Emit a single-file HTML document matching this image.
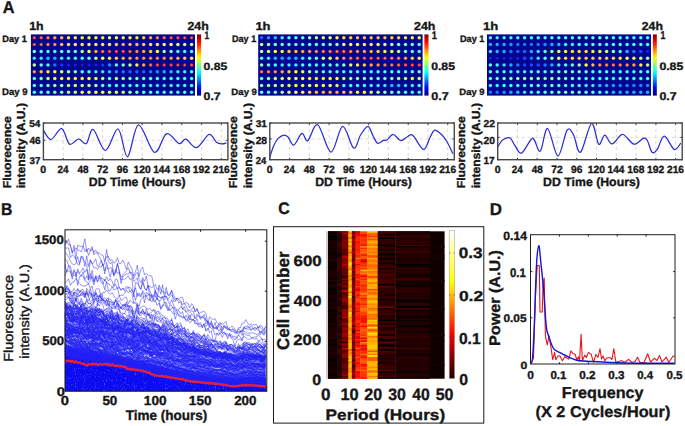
<!DOCTYPE html>
<html><head><meta charset="utf-8"><title>figure</title>
<style>html,body{margin:0;padding:0;background:#fff;width:685px;height:426px;overflow:hidden}svg{display:block}text{font-family:"Liberation Sans",sans-serif}</style>
</head><body>
<svg text-rendering="geometricPrecision" width="685" height="426" viewBox="0 0 685 426" font-family="Liberation Sans, sans-serif">
<defs><linearGradient id="jetg" x1="0" y1="1" x2="0" y2="0"><stop offset="0.00" stop-color="#000080"/><stop offset="0.05" stop-color="#0000b2"/><stop offset="0.10" stop-color="#0000e6"/><stop offset="0.15" stop-color="#001aff"/><stop offset="0.20" stop-color="#004dff"/><stop offset="0.25" stop-color="#0080ff"/><stop offset="0.30" stop-color="#00b2ff"/><stop offset="0.35" stop-color="#00e5ff"/><stop offset="0.40" stop-color="#1affe5"/><stop offset="0.45" stop-color="#4dffb2"/><stop offset="0.50" stop-color="#80ff80"/><stop offset="0.55" stop-color="#b3ff4c"/><stop offset="0.60" stop-color="#e5ff1a"/><stop offset="0.65" stop-color="#ffe500"/><stop offset="0.70" stop-color="#ffb300"/><stop offset="0.75" stop-color="#ff8000"/><stop offset="0.80" stop-color="#ff4c00"/><stop offset="0.85" stop-color="#ff1a00"/><stop offset="0.90" stop-color="#e50000"/><stop offset="0.95" stop-color="#b30000"/><stop offset="1.00" stop-color="#800000"/></linearGradient><linearGradient id="hotg" x1="0" y1="1" x2="0" y2="0"><stop offset="0.00" stop-color="#1f0000"/><stop offset="0.05" stop-color="#430000"/><stop offset="0.10" stop-color="#680000"/><stop offset="0.15" stop-color="#8d0000"/><stop offset="0.20" stop-color="#b10000"/><stop offset="0.25" stop-color="#d60000"/><stop offset="0.30" stop-color="#fb0000"/><stop offset="0.35" stop-color="#ff2100"/><stop offset="0.40" stop-color="#ff4500"/><stop offset="0.45" stop-color="#ff6a00"/><stop offset="0.50" stop-color="#ff8f00"/><stop offset="0.55" stop-color="#ffb400"/><stop offset="0.60" stop-color="#ffd800"/><stop offset="0.65" stop-color="#fffd00"/><stop offset="0.70" stop-color="#ffff23"/><stop offset="0.75" stop-color="#ffff47"/><stop offset="0.80" stop-color="#ffff6c"/><stop offset="0.85" stop-color="#ffff91"/><stop offset="0.90" stop-color="#ffffb6"/><stop offset="0.95" stop-color="#ffffda"/><stop offset="1.00" stop-color="#ffffff"/></linearGradient><filter id="speck" x="0" y="0" width="100%" height="100%" filterUnits="objectBoundingBox"><feTurbulence type="fractalNoise" baseFrequency="0.9 0.5" numOctaves="1" seed="4" result="n"/><feColorMatrix in="n" type="matrix" values="0 0 0 0 1  0 0 0 0 1  0 0 0 0 1  4 0 0 0 -2.45"/></filter><filter id="blur1" x="-5%" y="-5%" width="110%" height="110%"><feGaussianBlur stdDeviation="0.4"/></filter></defs>
<rect width="685" height="426" fill="#fff"/>
<rect x="30.9" y="34.4" width="164.1" height="61.2" fill="#02068e"/>
<g filter="url(#blur1)">
<circle cx="34.3" cy="37.8" r="1.75" fill="#e91f1f"/>
<circle cx="34.3" cy="37.8" r="0.85" fill="#f28080"/>
<circle cx="41.2" cy="37.8" r="1.75" fill="#ff351f"/>
<circle cx="41.2" cy="37.8" r="0.85" fill="#ff8c80"/>
<circle cx="48.0" cy="37.8" r="1.75" fill="#ff621f"/>
<circle cx="48.0" cy="37.8" r="0.85" fill="#ffa680"/>
<circle cx="54.8" cy="37.8" r="1.75" fill="#ff8f1f"/>
<circle cx="54.8" cy="37.8" r="0.85" fill="#ffbf80"/>
<circle cx="61.7" cy="37.8" r="1.75" fill="#ffaa1f"/>
<circle cx="61.7" cy="37.8" r="0.85" fill="#ffcf80"/>
<circle cx="68.5" cy="37.8" r="1.75" fill="#ffce1f"/>
<circle cx="68.5" cy="37.8" r="0.85" fill="#ffe380"/>
<circle cx="75.3" cy="37.8" r="1.75" fill="#ffe91f"/>
<circle cx="75.3" cy="37.8" r="0.85" fill="#fff280"/>
<circle cx="82.2" cy="37.8" r="1.75" fill="#ffe91f"/>
<circle cx="82.2" cy="37.8" r="0.85" fill="#fff280"/>
<circle cx="89.0" cy="37.8" r="1.75" fill="#ffe91f"/>
<circle cx="89.0" cy="37.8" r="0.85" fill="#fff280"/>
<circle cx="95.9" cy="37.8" r="1.75" fill="#ffe91f"/>
<circle cx="95.9" cy="37.8" r="0.85" fill="#fff280"/>
<circle cx="102.7" cy="37.8" r="1.75" fill="#ffe91f"/>
<circle cx="102.7" cy="37.8" r="0.85" fill="#fff280"/>
<circle cx="109.5" cy="37.8" r="1.75" fill="#e9ff35"/>
<circle cx="109.5" cy="37.8" r="0.85" fill="#f2ff8c"/>
<circle cx="116.4" cy="37.8" r="1.75" fill="#fbff23"/>
<circle cx="116.4" cy="37.8" r="0.85" fill="#fcff82"/>
<circle cx="123.2" cy="37.8" r="1.75" fill="#fff21f"/>
<circle cx="123.2" cy="37.8" r="0.85" fill="#fff780"/>
<circle cx="130.0" cy="37.8" r="1.75" fill="#ffe91f"/>
<circle cx="130.0" cy="37.8" r="0.85" fill="#fff280"/>
<circle cx="136.9" cy="37.8" r="1.75" fill="#ffe01f"/>
<circle cx="136.9" cy="37.8" r="0.85" fill="#ffed80"/>
<circle cx="143.7" cy="37.8" r="1.75" fill="#ffbc1f"/>
<circle cx="143.7" cy="37.8" r="0.85" fill="#ffd980"/>
<circle cx="150.6" cy="37.8" r="1.75" fill="#ff8f1f"/>
<circle cx="150.6" cy="37.8" r="0.85" fill="#ffbf80"/>
<circle cx="157.4" cy="37.8" r="1.75" fill="#ff621f"/>
<circle cx="157.4" cy="37.8" r="0.85" fill="#ffa680"/>
<circle cx="164.2" cy="37.8" r="1.75" fill="#ff471f"/>
<circle cx="164.2" cy="37.8" r="0.85" fill="#ff9680"/>
<circle cx="171.1" cy="37.8" r="1.75" fill="#ff231f"/>
<circle cx="171.1" cy="37.8" r="0.85" fill="#ff8280"/>
<circle cx="177.9" cy="37.8" r="1.75" fill="#fb1f1f"/>
<circle cx="177.9" cy="37.8" r="0.85" fill="#fc8080"/>
<circle cx="184.7" cy="37.8" r="1.75" fill="#fb1f1f"/>
<circle cx="184.7" cy="37.8" r="0.85" fill="#fc8080"/>
<circle cx="191.6" cy="37.8" r="1.75" fill="#e91f1f"/>
<circle cx="191.6" cy="37.8" r="0.85" fill="#f28080"/>
<circle cx="34.3" cy="44.6" r="1.75" fill="#fb1f1f"/>
<circle cx="34.3" cy="44.6" r="0.85" fill="#fc8080"/>
<circle cx="41.2" cy="44.6" r="1.75" fill="#ff351f"/>
<circle cx="41.2" cy="44.6" r="0.85" fill="#ff8c80"/>
<circle cx="48.0" cy="44.6" r="1.75" fill="#ff621f"/>
<circle cx="48.0" cy="44.6" r="0.85" fill="#ffa680"/>
<circle cx="54.8" cy="44.6" r="1.75" fill="#ff741f"/>
<circle cx="54.8" cy="44.6" r="0.85" fill="#ffb080"/>
<circle cx="61.7" cy="44.6" r="1.75" fill="#ffaa1f"/>
<circle cx="61.7" cy="44.6" r="0.85" fill="#ffcf80"/>
<circle cx="68.5" cy="44.6" r="1.75" fill="#ffd71f"/>
<circle cx="68.5" cy="44.6" r="0.85" fill="#ffe880"/>
<circle cx="75.3" cy="44.6" r="1.75" fill="#ffe91f"/>
<circle cx="75.3" cy="44.6" r="0.85" fill="#fff280"/>
<circle cx="82.2" cy="44.6" r="1.75" fill="#ffe91f"/>
<circle cx="82.2" cy="44.6" r="0.85" fill="#fff280"/>
<circle cx="89.0" cy="44.6" r="1.75" fill="#ffe91f"/>
<circle cx="89.0" cy="44.6" r="0.85" fill="#fff280"/>
<circle cx="95.9" cy="44.6" r="1.75" fill="#ffe91f"/>
<circle cx="95.9" cy="44.6" r="0.85" fill="#fff280"/>
<circle cx="102.7" cy="44.6" r="1.75" fill="#ffe91f"/>
<circle cx="102.7" cy="44.6" r="0.85" fill="#fff280"/>
<circle cx="109.5" cy="44.6" r="1.75" fill="#ffe91f"/>
<circle cx="109.5" cy="44.6" r="0.85" fill="#fff280"/>
<circle cx="116.4" cy="44.6" r="1.75" fill="#ffbc1f"/>
<circle cx="116.4" cy="44.6" r="0.85" fill="#ffd980"/>
<circle cx="123.2" cy="44.6" r="1.75" fill="#ff981f"/>
<circle cx="123.2" cy="44.6" r="0.85" fill="#ffc480"/>
<circle cx="130.0" cy="44.6" r="1.75" fill="#ffaa1f"/>
<circle cx="130.0" cy="44.6" r="0.85" fill="#ffcf80"/>
<circle cx="136.9" cy="44.6" r="1.75" fill="#ffaa1f"/>
<circle cx="136.9" cy="44.6" r="0.85" fill="#ffcf80"/>
<circle cx="143.7" cy="44.6" r="1.75" fill="#ffbc1f"/>
<circle cx="143.7" cy="44.6" r="0.85" fill="#ffd980"/>
<circle cx="150.6" cy="44.6" r="1.75" fill="#ffe01f"/>
<circle cx="150.6" cy="44.6" r="0.85" fill="#ffed80"/>
<circle cx="157.4" cy="44.6" r="1.75" fill="#ffe91f"/>
<circle cx="157.4" cy="44.6" r="0.85" fill="#fff280"/>
<circle cx="164.2" cy="44.6" r="1.75" fill="#fffb1f"/>
<circle cx="164.2" cy="44.6" r="0.85" fill="#fffc80"/>
<circle cx="171.1" cy="44.6" r="1.75" fill="#fbff23"/>
<circle cx="171.1" cy="44.6" r="0.85" fill="#fcff82"/>
<circle cx="177.9" cy="44.6" r="1.75" fill="#e9ff35"/>
<circle cx="177.9" cy="44.6" r="0.85" fill="#f2ff8c"/>
<circle cx="184.7" cy="44.6" r="1.75" fill="#d7ff47"/>
<circle cx="184.7" cy="44.6" r="0.85" fill="#e8ff96"/>
<circle cx="191.6" cy="44.6" r="1.75" fill="#bcff62"/>
<circle cx="191.6" cy="44.6" r="0.85" fill="#d9ffa6"/>
<circle cx="34.3" cy="51.4" r="1.75" fill="#62ffbc"/>
<circle cx="34.3" cy="51.4" r="0.85" fill="#a6ffd9"/>
<circle cx="41.2" cy="51.4" r="1.75" fill="#47ffd7"/>
<circle cx="41.2" cy="51.4" r="0.85" fill="#96ffe8"/>
<circle cx="48.0" cy="51.4" r="1.75" fill="#35ffe9"/>
<circle cx="48.0" cy="51.4" r="0.85" fill="#8cfff2"/>
<circle cx="54.8" cy="51.4" r="1.75" fill="#35ffe9"/>
<circle cx="54.8" cy="51.4" r="0.85" fill="#8cfff2"/>
<circle cx="61.7" cy="51.4" r="1.75" fill="#35ffe9"/>
<circle cx="61.7" cy="51.4" r="0.85" fill="#8cfff2"/>
<circle cx="68.5" cy="51.4" r="1.75" fill="#35ffe9"/>
<circle cx="68.5" cy="51.4" r="0.85" fill="#8cfff2"/>
<circle cx="75.3" cy="51.4" r="1.75" fill="#47ffd7"/>
<circle cx="75.3" cy="51.4" r="0.85" fill="#96ffe8"/>
<circle cx="82.2" cy="51.4" r="1.75" fill="#8fff8f"/>
<circle cx="82.2" cy="51.4" r="0.85" fill="#bfffbf"/>
<circle cx="89.0" cy="51.4" r="1.75" fill="#e9ff35"/>
<circle cx="89.0" cy="51.4" r="0.85" fill="#f2ff8c"/>
<circle cx="95.9" cy="51.4" r="1.75" fill="#ff8f1f"/>
<circle cx="95.9" cy="51.4" r="0.85" fill="#ffbf80"/>
<circle cx="102.7" cy="51.4" r="1.75" fill="#ff471f"/>
<circle cx="102.7" cy="51.4" r="0.85" fill="#ff9680"/>
<circle cx="109.5" cy="51.4" r="1.75" fill="#fb1f1f"/>
<circle cx="109.5" cy="51.4" r="0.85" fill="#fc8080"/>
<circle cx="116.4" cy="51.4" r="1.75" fill="#fb1f1f"/>
<circle cx="116.4" cy="51.4" r="0.85" fill="#fc8080"/>
<circle cx="123.2" cy="51.4" r="1.75" fill="#ff231f"/>
<circle cx="123.2" cy="51.4" r="0.85" fill="#ff8280"/>
<circle cx="130.0" cy="51.4" r="1.75" fill="#ff351f"/>
<circle cx="130.0" cy="51.4" r="0.85" fill="#ff8c80"/>
<circle cx="136.9" cy="51.4" r="1.75" fill="#ff621f"/>
<circle cx="136.9" cy="51.4" r="0.85" fill="#ffa680"/>
<circle cx="143.7" cy="51.4" r="1.75" fill="#ff8f1f"/>
<circle cx="143.7" cy="51.4" r="0.85" fill="#ffbf80"/>
<circle cx="150.6" cy="51.4" r="1.75" fill="#ffbc1f"/>
<circle cx="150.6" cy="51.4" r="0.85" fill="#ffd980"/>
<circle cx="157.4" cy="51.4" r="1.75" fill="#fbff23"/>
<circle cx="157.4" cy="51.4" r="0.85" fill="#fcff82"/>
<circle cx="164.2" cy="51.4" r="1.75" fill="#a1ff7d"/>
<circle cx="164.2" cy="51.4" r="0.85" fill="#c9ffb5"/>
<circle cx="171.1" cy="51.4" r="1.75" fill="#62ffbc"/>
<circle cx="171.1" cy="51.4" r="0.85" fill="#a6ffd9"/>
<circle cx="177.9" cy="51.4" r="1.75" fill="#35ffe9"/>
<circle cx="177.9" cy="51.4" r="0.85" fill="#8cfff2"/>
<circle cx="184.7" cy="51.4" r="1.75" fill="#23fffb"/>
<circle cx="184.7" cy="51.4" r="0.85" fill="#82fffc"/>
<circle cx="191.6" cy="51.4" r="1.75" fill="#23fffb"/>
<circle cx="191.6" cy="51.4" r="0.85" fill="#82fffc"/>
<circle cx="34.3" cy="58.2" r="1.75" fill="#1fd7ff"/>
<circle cx="34.3" cy="58.2" r="0.85" fill="#80e8ff"/>
<circle cx="41.2" cy="58.2" r="1.75" fill="#1fd7ff"/>
<circle cx="41.2" cy="58.2" r="0.85" fill="#80e8ff"/>
<circle cx="48.0" cy="58.2" r="1.75" fill="#1fbcff"/>
<circle cx="54.8" cy="58.2" r="1.75" fill="#1faaff"/>
<circle cx="61.7" cy="58.2" r="1.75" fill="#1fe9ff"/>
<circle cx="61.7" cy="58.2" r="0.85" fill="#80f2ff"/>
<circle cx="68.5" cy="58.2" r="1.75" fill="#1fe9ff"/>
<circle cx="68.5" cy="58.2" r="0.85" fill="#80f2ff"/>
<circle cx="75.3" cy="58.2" r="1.75" fill="#23fffb"/>
<circle cx="75.3" cy="58.2" r="0.85" fill="#82fffc"/>
<circle cx="82.2" cy="58.2" r="1.75" fill="#23fffb"/>
<circle cx="82.2" cy="58.2" r="0.85" fill="#82fffc"/>
<circle cx="89.0" cy="58.2" r="1.75" fill="#35ffe9"/>
<circle cx="89.0" cy="58.2" r="0.85" fill="#8cfff2"/>
<circle cx="95.9" cy="58.2" r="1.75" fill="#bcff62"/>
<circle cx="95.9" cy="58.2" r="0.85" fill="#d9ffa6"/>
<circle cx="102.7" cy="58.2" r="1.75" fill="#fbff23"/>
<circle cx="102.7" cy="58.2" r="0.85" fill="#fcff82"/>
<circle cx="109.5" cy="58.2" r="1.75" fill="#ffe91f"/>
<circle cx="109.5" cy="58.2" r="0.85" fill="#fff280"/>
<circle cx="116.4" cy="58.2" r="1.75" fill="#ffbc1f"/>
<circle cx="116.4" cy="58.2" r="0.85" fill="#ffd980"/>
<circle cx="123.2" cy="58.2" r="1.75" fill="#ff981f"/>
<circle cx="123.2" cy="58.2" r="0.85" fill="#ffc480"/>
<circle cx="130.0" cy="58.2" r="1.75" fill="#ff861f"/>
<circle cx="130.0" cy="58.2" r="0.85" fill="#ffba80"/>
<circle cx="136.9" cy="58.2" r="1.75" fill="#ff741f"/>
<circle cx="136.9" cy="58.2" r="0.85" fill="#ffb080"/>
<circle cx="143.7" cy="58.2" r="1.75" fill="#ff741f"/>
<circle cx="143.7" cy="58.2" r="0.85" fill="#ffb080"/>
<circle cx="150.6" cy="58.2" r="1.75" fill="#ff621f"/>
<circle cx="150.6" cy="58.2" r="0.85" fill="#ffa680"/>
<circle cx="157.4" cy="58.2" r="1.75" fill="#ff621f"/>
<circle cx="157.4" cy="58.2" r="0.85" fill="#ffa680"/>
<circle cx="164.2" cy="58.2" r="1.75" fill="#ff741f"/>
<circle cx="164.2" cy="58.2" r="0.85" fill="#ffb080"/>
<circle cx="171.1" cy="58.2" r="1.75" fill="#ff861f"/>
<circle cx="171.1" cy="58.2" r="0.85" fill="#ffba80"/>
<circle cx="177.9" cy="58.2" r="1.75" fill="#ff981f"/>
<circle cx="177.9" cy="58.2" r="0.85" fill="#ffc480"/>
<circle cx="184.7" cy="58.2" r="1.75" fill="#ffbc1f"/>
<circle cx="184.7" cy="58.2" r="0.85" fill="#ffd980"/>
<circle cx="191.6" cy="58.2" r="1.75" fill="#ffe91f"/>
<circle cx="191.6" cy="58.2" r="0.85" fill="#fff280"/>
<circle cx="34.3" cy="65.0" r="1.75" fill="#bcff62"/>
<circle cx="34.3" cy="65.0" r="0.85" fill="#d9ffa6"/>
<circle cx="41.2" cy="65.0" r="1.75" fill="#47ffd7"/>
<circle cx="41.2" cy="65.0" r="0.85" fill="#96ffe8"/>
<circle cx="48.0" cy="65.0" r="1.75" fill="#23fffb"/>
<circle cx="48.0" cy="65.0" r="0.85" fill="#82fffc"/>
<circle cx="54.8" cy="65.0" r="1.75" fill="#1f74ff"/>
<circle cx="61.7" cy="65.0" r="1.55" fill="#1f35ff"/>
<circle cx="68.5" cy="65.0" r="1.55" fill="#1f1fe9"/>
<circle cx="75.3" cy="65.0" r="1.55" fill="#1f1fd7"/>
<circle cx="82.2" cy="65.0" r="1.55" fill="#1f1fbc"/>
<circle cx="89.0" cy="65.0" r="1.55" fill="#1f1fd7"/>
<circle cx="95.9" cy="65.0" r="1.55" fill="#1f1fe9"/>
<circle cx="102.7" cy="65.0" r="1.55" fill="#1f35ff"/>
<circle cx="109.5" cy="65.0" r="1.75" fill="#1f8fff"/>
<circle cx="116.4" cy="65.0" r="1.75" fill="#23fffb"/>
<circle cx="116.4" cy="65.0" r="0.85" fill="#82fffc"/>
<circle cx="123.2" cy="65.0" r="1.75" fill="#62ffbc"/>
<circle cx="123.2" cy="65.0" r="0.85" fill="#a6ffd9"/>
<circle cx="130.0" cy="65.0" r="1.75" fill="#bcff62"/>
<circle cx="130.0" cy="65.0" r="0.85" fill="#d9ffa6"/>
<circle cx="136.9" cy="65.0" r="1.75" fill="#ffe91f"/>
<circle cx="136.9" cy="65.0" r="0.85" fill="#fff280"/>
<circle cx="143.7" cy="65.0" r="1.75" fill="#ff8f1f"/>
<circle cx="143.7" cy="65.0" r="0.85" fill="#ffbf80"/>
<circle cx="150.6" cy="65.0" r="1.75" fill="#ff471f"/>
<circle cx="150.6" cy="65.0" r="0.85" fill="#ff9680"/>
<circle cx="157.4" cy="65.0" r="1.75" fill="#fb1f1f"/>
<circle cx="157.4" cy="65.0" r="0.85" fill="#fc8080"/>
<circle cx="164.2" cy="65.0" r="1.75" fill="#e91f1f"/>
<circle cx="164.2" cy="65.0" r="0.85" fill="#f28080"/>
<circle cx="171.1" cy="65.0" r="1.75" fill="#e91f1f"/>
<circle cx="171.1" cy="65.0" r="0.85" fill="#f28080"/>
<circle cx="177.9" cy="65.0" r="1.75" fill="#e91f1f"/>
<circle cx="177.9" cy="65.0" r="0.85" fill="#f28080"/>
<circle cx="184.7" cy="65.0" r="1.75" fill="#e91f1f"/>
<circle cx="184.7" cy="65.0" r="0.85" fill="#f28080"/>
<circle cx="191.6" cy="65.0" r="1.75" fill="#fb1f1f"/>
<circle cx="191.6" cy="65.0" r="0.85" fill="#fc8080"/>
<circle cx="34.3" cy="71.8" r="1.75" fill="#ff741f"/>
<circle cx="34.3" cy="71.8" r="0.85" fill="#ffb080"/>
<circle cx="41.2" cy="71.8" r="1.75" fill="#ffaa1f"/>
<circle cx="41.2" cy="71.8" r="0.85" fill="#ffcf80"/>
<circle cx="48.0" cy="71.8" r="1.75" fill="#ffe01f"/>
<circle cx="48.0" cy="71.8" r="0.85" fill="#ffed80"/>
<circle cx="54.8" cy="71.8" r="1.75" fill="#fbff23"/>
<circle cx="54.8" cy="71.8" r="0.85" fill="#fcff82"/>
<circle cx="61.7" cy="71.8" r="1.75" fill="#d7ff47"/>
<circle cx="61.7" cy="71.8" r="0.85" fill="#e8ff96"/>
<circle cx="68.5" cy="71.8" r="1.75" fill="#8fff8f"/>
<circle cx="68.5" cy="71.8" r="0.85" fill="#bfffbf"/>
<circle cx="75.3" cy="71.8" r="1.75" fill="#62ffbc"/>
<circle cx="75.3" cy="71.8" r="0.85" fill="#a6ffd9"/>
<circle cx="82.2" cy="71.8" r="1.75" fill="#35ffe9"/>
<circle cx="82.2" cy="71.8" r="0.85" fill="#8cfff2"/>
<circle cx="89.0" cy="71.8" r="1.75" fill="#23fffb"/>
<circle cx="89.0" cy="71.8" r="0.85" fill="#82fffc"/>
<circle cx="95.9" cy="71.8" r="1.75" fill="#1fe9ff"/>
<circle cx="95.9" cy="71.8" r="0.85" fill="#80f2ff"/>
<circle cx="102.7" cy="71.8" r="1.75" fill="#1fd7ff"/>
<circle cx="102.7" cy="71.8" r="0.85" fill="#80e8ff"/>
<circle cx="109.5" cy="71.8" r="1.75" fill="#1fbcff"/>
<circle cx="116.4" cy="71.8" r="1.75" fill="#1f8fff"/>
<circle cx="123.2" cy="71.8" r="1.75" fill="#1f74ff"/>
<circle cx="130.0" cy="71.8" r="1.75" fill="#1f62ff"/>
<circle cx="136.9" cy="71.8" r="1.75" fill="#1f62ff"/>
<circle cx="143.7" cy="71.8" r="1.75" fill="#1f62ff"/>
<circle cx="150.6" cy="71.8" r="1.75" fill="#1f74ff"/>
<circle cx="157.4" cy="71.8" r="1.75" fill="#1f8fff"/>
<circle cx="164.2" cy="71.8" r="1.75" fill="#1faaff"/>
<circle cx="171.1" cy="71.8" r="1.75" fill="#1fbcff"/>
<circle cx="177.9" cy="71.8" r="1.75" fill="#1fd7ff"/>
<circle cx="177.9" cy="71.8" r="0.85" fill="#80e8ff"/>
<circle cx="184.7" cy="71.8" r="1.75" fill="#1fe9ff"/>
<circle cx="184.7" cy="71.8" r="0.85" fill="#80f2ff"/>
<circle cx="191.6" cy="71.8" r="1.75" fill="#1ffbff"/>
<circle cx="191.6" cy="71.8" r="0.85" fill="#80fcff"/>
<circle cx="34.3" cy="78.6" r="1.75" fill="#35ffe9"/>
<circle cx="34.3" cy="78.6" r="0.85" fill="#8cfff2"/>
<circle cx="41.2" cy="78.6" r="1.75" fill="#7dffa1"/>
<circle cx="41.2" cy="78.6" r="0.85" fill="#b5ffc9"/>
<circle cx="48.0" cy="78.6" r="1.75" fill="#bcff62"/>
<circle cx="48.0" cy="78.6" r="0.85" fill="#d9ffa6"/>
<circle cx="54.8" cy="78.6" r="1.75" fill="#e9ff35"/>
<circle cx="54.8" cy="78.6" r="0.85" fill="#f2ff8c"/>
<circle cx="61.7" cy="78.6" r="1.75" fill="#fffb1f"/>
<circle cx="61.7" cy="78.6" r="0.85" fill="#fffc80"/>
<circle cx="68.5" cy="78.6" r="1.75" fill="#ffe91f"/>
<circle cx="68.5" cy="78.6" r="0.85" fill="#fff280"/>
<circle cx="75.3" cy="78.6" r="1.75" fill="#ffe91f"/>
<circle cx="75.3" cy="78.6" r="0.85" fill="#fff280"/>
<circle cx="82.2" cy="78.6" r="1.75" fill="#ffe91f"/>
<circle cx="82.2" cy="78.6" r="0.85" fill="#fff280"/>
<circle cx="89.0" cy="78.6" r="1.75" fill="#fbff23"/>
<circle cx="89.0" cy="78.6" r="0.85" fill="#fcff82"/>
<circle cx="95.9" cy="78.6" r="1.75" fill="#e9ff35"/>
<circle cx="95.9" cy="78.6" r="0.85" fill="#f2ff8c"/>
<circle cx="102.7" cy="78.6" r="1.75" fill="#bcff62"/>
<circle cx="102.7" cy="78.6" r="0.85" fill="#d9ffa6"/>
<circle cx="109.5" cy="78.6" r="1.75" fill="#47ffd7"/>
<circle cx="109.5" cy="78.6" r="0.85" fill="#96ffe8"/>
<circle cx="116.4" cy="78.6" r="1.75" fill="#bcff62"/>
<circle cx="116.4" cy="78.6" r="0.85" fill="#d9ffa6"/>
<circle cx="123.2" cy="78.6" r="1.75" fill="#8fff8f"/>
<circle cx="123.2" cy="78.6" r="0.85" fill="#bfffbf"/>
<circle cx="130.0" cy="78.6" r="1.75" fill="#62ffbc"/>
<circle cx="130.0" cy="78.6" r="0.85" fill="#a6ffd9"/>
<circle cx="136.9" cy="78.6" r="1.75" fill="#62ffbc"/>
<circle cx="136.9" cy="78.6" r="0.85" fill="#a6ffd9"/>
<circle cx="143.7" cy="78.6" r="1.75" fill="#47ffd7"/>
<circle cx="143.7" cy="78.6" r="0.85" fill="#96ffe8"/>
<circle cx="150.6" cy="78.6" r="1.75" fill="#35ffe9"/>
<circle cx="150.6" cy="78.6" r="0.85" fill="#8cfff2"/>
<circle cx="157.4" cy="78.6" r="1.75" fill="#35ffe9"/>
<circle cx="157.4" cy="78.6" r="0.85" fill="#8cfff2"/>
<circle cx="164.2" cy="78.6" r="1.75" fill="#23fffb"/>
<circle cx="164.2" cy="78.6" r="0.85" fill="#82fffc"/>
<circle cx="171.1" cy="78.6" r="1.75" fill="#23fffb"/>
<circle cx="171.1" cy="78.6" r="0.85" fill="#82fffc"/>
<circle cx="177.9" cy="78.6" r="1.75" fill="#23fffb"/>
<circle cx="177.9" cy="78.6" r="0.85" fill="#82fffc"/>
<circle cx="184.7" cy="78.6" r="1.75" fill="#23fffb"/>
<circle cx="184.7" cy="78.6" r="0.85" fill="#82fffc"/>
<circle cx="191.6" cy="78.6" r="1.75" fill="#23fffb"/>
<circle cx="191.6" cy="78.6" r="0.85" fill="#82fffc"/>
<circle cx="34.3" cy="85.4" r="1.75" fill="#23fffb"/>
<circle cx="34.3" cy="85.4" r="0.85" fill="#82fffc"/>
<circle cx="41.2" cy="85.4" r="1.75" fill="#35ffe9"/>
<circle cx="41.2" cy="85.4" r="0.85" fill="#8cfff2"/>
<circle cx="48.0" cy="85.4" r="1.75" fill="#62ffbc"/>
<circle cx="48.0" cy="85.4" r="0.85" fill="#a6ffd9"/>
<circle cx="54.8" cy="85.4" r="1.75" fill="#8fff8f"/>
<circle cx="54.8" cy="85.4" r="0.85" fill="#bfffbf"/>
<circle cx="61.7" cy="85.4" r="1.75" fill="#8fff8f"/>
<circle cx="61.7" cy="85.4" r="0.85" fill="#bfffbf"/>
<circle cx="68.5" cy="85.4" r="1.75" fill="#a1ff7d"/>
<circle cx="68.5" cy="85.4" r="0.85" fill="#c9ffb5"/>
<circle cx="75.3" cy="85.4" r="1.75" fill="#bcff62"/>
<circle cx="75.3" cy="85.4" r="0.85" fill="#d9ffa6"/>
<circle cx="82.2" cy="85.4" r="1.75" fill="#bcff62"/>
<circle cx="82.2" cy="85.4" r="0.85" fill="#d9ffa6"/>
<circle cx="89.0" cy="85.4" r="1.75" fill="#bcff62"/>
<circle cx="89.0" cy="85.4" r="0.85" fill="#d9ffa6"/>
<circle cx="95.9" cy="85.4" r="1.75" fill="#8fff8f"/>
<circle cx="95.9" cy="85.4" r="0.85" fill="#bfffbf"/>
<circle cx="102.7" cy="85.4" r="1.75" fill="#47ffd7"/>
<circle cx="102.7" cy="85.4" r="0.85" fill="#96ffe8"/>
<circle cx="109.5" cy="85.4" r="1.75" fill="#23fffb"/>
<circle cx="109.5" cy="85.4" r="0.85" fill="#82fffc"/>
<circle cx="116.4" cy="85.4" r="1.75" fill="#23fffb"/>
<circle cx="116.4" cy="85.4" r="0.85" fill="#82fffc"/>
<circle cx="123.2" cy="85.4" r="1.75" fill="#23fffb"/>
<circle cx="123.2" cy="85.4" r="0.85" fill="#82fffc"/>
<circle cx="130.0" cy="85.4" r="1.75" fill="#23fffb"/>
<circle cx="130.0" cy="85.4" r="0.85" fill="#82fffc"/>
<circle cx="136.9" cy="85.4" r="1.75" fill="#35ffe9"/>
<circle cx="136.9" cy="85.4" r="0.85" fill="#8cfff2"/>
<circle cx="143.7" cy="85.4" r="1.75" fill="#23fffb"/>
<circle cx="143.7" cy="85.4" r="0.85" fill="#82fffc"/>
<circle cx="150.6" cy="85.4" r="1.75" fill="#1fe9ff"/>
<circle cx="150.6" cy="85.4" r="0.85" fill="#80f2ff"/>
<circle cx="157.4" cy="85.4" r="1.75" fill="#1fd7ff"/>
<circle cx="157.4" cy="85.4" r="0.85" fill="#80e8ff"/>
<circle cx="164.2" cy="85.4" r="1.75" fill="#1fd7ff"/>
<circle cx="164.2" cy="85.4" r="0.85" fill="#80e8ff"/>
<circle cx="171.1" cy="85.4" r="1.75" fill="#1fe9ff"/>
<circle cx="171.1" cy="85.4" r="0.85" fill="#80f2ff"/>
<circle cx="177.9" cy="85.4" r="1.75" fill="#1fe9ff"/>
<circle cx="177.9" cy="85.4" r="0.85" fill="#80f2ff"/>
<circle cx="184.7" cy="85.4" r="1.75" fill="#1ffbff"/>
<circle cx="184.7" cy="85.4" r="0.85" fill="#80fcff"/>
<circle cx="191.6" cy="85.4" r="1.75" fill="#23fffb"/>
<circle cx="191.6" cy="85.4" r="0.85" fill="#82fffc"/>
<circle cx="34.3" cy="92.2" r="1.75" fill="#23fffb"/>
<circle cx="34.3" cy="92.2" r="0.85" fill="#82fffc"/>
<circle cx="41.2" cy="92.2" r="1.75" fill="#35ffe9"/>
<circle cx="41.2" cy="92.2" r="0.85" fill="#8cfff2"/>
<circle cx="48.0" cy="92.2" r="1.75" fill="#47ffd7"/>
<circle cx="48.0" cy="92.2" r="0.85" fill="#96ffe8"/>
<circle cx="54.8" cy="92.2" r="1.75" fill="#62ffbc"/>
<circle cx="54.8" cy="92.2" r="0.85" fill="#a6ffd9"/>
<circle cx="61.7" cy="92.2" r="1.75" fill="#7dffa1"/>
<circle cx="61.7" cy="92.2" r="0.85" fill="#b5ffc9"/>
<circle cx="68.5" cy="92.2" r="1.75" fill="#8fff8f"/>
<circle cx="68.5" cy="92.2" r="0.85" fill="#bfffbf"/>
<circle cx="75.3" cy="92.2" r="1.75" fill="#bcff62"/>
<circle cx="75.3" cy="92.2" r="0.85" fill="#d9ffa6"/>
<circle cx="82.2" cy="92.2" r="1.75" fill="#e9ff35"/>
<circle cx="82.2" cy="92.2" r="0.85" fill="#f2ff8c"/>
<circle cx="89.0" cy="92.2" r="1.75" fill="#fbff23"/>
<circle cx="89.0" cy="92.2" r="0.85" fill="#fcff82"/>
<circle cx="95.9" cy="92.2" r="1.75" fill="#fbff23"/>
<circle cx="95.9" cy="92.2" r="0.85" fill="#fcff82"/>
<circle cx="102.7" cy="92.2" r="1.75" fill="#fbff23"/>
<circle cx="102.7" cy="92.2" r="0.85" fill="#fcff82"/>
<circle cx="109.5" cy="92.2" r="1.75" fill="#d7ff47"/>
<circle cx="109.5" cy="92.2" r="0.85" fill="#e8ff96"/>
<circle cx="116.4" cy="92.2" r="1.75" fill="#d7ff47"/>
<circle cx="116.4" cy="92.2" r="0.85" fill="#e8ff96"/>
<circle cx="123.2" cy="92.2" r="1.75" fill="#bcff62"/>
<circle cx="123.2" cy="92.2" r="0.85" fill="#d9ffa6"/>
<circle cx="130.0" cy="92.2" r="1.75" fill="#8fff8f"/>
<circle cx="130.0" cy="92.2" r="0.85" fill="#bfffbf"/>
<circle cx="136.9" cy="92.2" r="1.75" fill="#62ffbc"/>
<circle cx="136.9" cy="92.2" r="0.85" fill="#a6ffd9"/>
<circle cx="143.7" cy="92.2" r="1.75" fill="#47ffd7"/>
<circle cx="143.7" cy="92.2" r="0.85" fill="#96ffe8"/>
<circle cx="150.6" cy="92.2" r="1.75" fill="#35ffe9"/>
<circle cx="150.6" cy="92.2" r="0.85" fill="#8cfff2"/>
<circle cx="157.4" cy="92.2" r="1.75" fill="#23fffb"/>
<circle cx="157.4" cy="92.2" r="0.85" fill="#82fffc"/>
<circle cx="164.2" cy="92.2" r="1.75" fill="#23fffb"/>
<circle cx="164.2" cy="92.2" r="0.85" fill="#82fffc"/>
<circle cx="171.1" cy="92.2" r="1.75" fill="#23fffb"/>
<circle cx="171.1" cy="92.2" r="0.85" fill="#82fffc"/>
<circle cx="177.9" cy="92.2" r="1.75" fill="#23fffb"/>
<circle cx="177.9" cy="92.2" r="0.85" fill="#82fffc"/>
<circle cx="184.7" cy="92.2" r="1.75" fill="#23fffb"/>
<circle cx="184.7" cy="92.2" r="0.85" fill="#82fffc"/>
<circle cx="191.6" cy="92.2" r="1.75" fill="#35ffe9"/>
<circle cx="191.6" cy="92.2" r="0.85" fill="#8cfff2"/>
</g>
<rect x="197.0" y="34.4" width="4.1" height="61.2" fill="url(#jetg)"/>
<rect x="258.2" y="34.4" width="164.4" height="61.2" fill="#02068e"/>
<g filter="url(#blur1)">
<circle cx="261.6" cy="37.8" r="1.75" fill="#1f62ff"/>
<circle cx="268.5" cy="37.8" r="1.75" fill="#1f8fff"/>
<circle cx="275.3" cy="37.8" r="1.75" fill="#1fbcff"/>
<circle cx="282.2" cy="37.8" r="1.75" fill="#1fe9ff"/>
<circle cx="282.2" cy="37.8" r="0.85" fill="#80f2ff"/>
<circle cx="289.0" cy="37.8" r="1.75" fill="#23fffb"/>
<circle cx="289.0" cy="37.8" r="0.85" fill="#82fffc"/>
<circle cx="295.9" cy="37.8" r="1.75" fill="#35ffe9"/>
<circle cx="295.9" cy="37.8" r="0.85" fill="#8cfff2"/>
<circle cx="302.7" cy="37.8" r="1.75" fill="#62ffbc"/>
<circle cx="302.7" cy="37.8" r="0.85" fill="#a6ffd9"/>
<circle cx="309.6" cy="37.8" r="1.75" fill="#8fff8f"/>
<circle cx="309.6" cy="37.8" r="0.85" fill="#bfffbf"/>
<circle cx="316.4" cy="37.8" r="1.75" fill="#bcff62"/>
<circle cx="316.4" cy="37.8" r="0.85" fill="#d9ffa6"/>
<circle cx="323.3" cy="37.8" r="1.75" fill="#d7ff47"/>
<circle cx="323.3" cy="37.8" r="0.85" fill="#e8ff96"/>
<circle cx="330.1" cy="37.8" r="1.75" fill="#e9ff35"/>
<circle cx="330.1" cy="37.8" r="0.85" fill="#f2ff8c"/>
<circle cx="337.0" cy="37.8" r="1.75" fill="#fbff23"/>
<circle cx="337.0" cy="37.8" r="0.85" fill="#fcff82"/>
<circle cx="343.8" cy="37.8" r="1.75" fill="#ffce1f"/>
<circle cx="343.8" cy="37.8" r="0.85" fill="#ffe380"/>
<circle cx="350.7" cy="37.8" r="1.75" fill="#ffbc1f"/>
<circle cx="350.7" cy="37.8" r="0.85" fill="#ffd980"/>
<circle cx="357.5" cy="37.8" r="1.75" fill="#ffaa1f"/>
<circle cx="357.5" cy="37.8" r="0.85" fill="#ffcf80"/>
<circle cx="364.4" cy="37.8" r="1.75" fill="#ffaa1f"/>
<circle cx="364.4" cy="37.8" r="0.85" fill="#ffcf80"/>
<circle cx="371.2" cy="37.8" r="1.75" fill="#ffaa1f"/>
<circle cx="371.2" cy="37.8" r="0.85" fill="#ffcf80"/>
<circle cx="378.1" cy="37.8" r="1.75" fill="#ffaa1f"/>
<circle cx="378.1" cy="37.8" r="0.85" fill="#ffcf80"/>
<circle cx="384.9" cy="37.8" r="1.75" fill="#ffaa1f"/>
<circle cx="384.9" cy="37.8" r="0.85" fill="#ffcf80"/>
<circle cx="391.8" cy="37.8" r="1.75" fill="#ffbc1f"/>
<circle cx="391.8" cy="37.8" r="0.85" fill="#ffd980"/>
<circle cx="398.6" cy="37.8" r="1.75" fill="#ffbc1f"/>
<circle cx="398.6" cy="37.8" r="0.85" fill="#ffd980"/>
<circle cx="405.5" cy="37.8" r="1.75" fill="#ffd71f"/>
<circle cx="405.5" cy="37.8" r="0.85" fill="#ffe880"/>
<circle cx="412.3" cy="37.8" r="1.75" fill="#ffe91f"/>
<circle cx="412.3" cy="37.8" r="0.85" fill="#fff280"/>
<circle cx="419.2" cy="37.8" r="1.75" fill="#fffb1f"/>
<circle cx="419.2" cy="37.8" r="0.85" fill="#fffc80"/>
<circle cx="261.6" cy="44.6" r="1.75" fill="#bcff62"/>
<circle cx="261.6" cy="44.6" r="0.85" fill="#d9ffa6"/>
<circle cx="268.5" cy="44.6" r="1.75" fill="#8fff8f"/>
<circle cx="268.5" cy="44.6" r="0.85" fill="#bfffbf"/>
<circle cx="275.3" cy="44.6" r="1.75" fill="#62ffbc"/>
<circle cx="275.3" cy="44.6" r="0.85" fill="#a6ffd9"/>
<circle cx="282.2" cy="44.6" r="1.75" fill="#47ffd7"/>
<circle cx="282.2" cy="44.6" r="0.85" fill="#96ffe8"/>
<circle cx="289.0" cy="44.6" r="1.75" fill="#35ffe9"/>
<circle cx="289.0" cy="44.6" r="0.85" fill="#8cfff2"/>
<circle cx="295.9" cy="44.6" r="1.75" fill="#35ffe9"/>
<circle cx="295.9" cy="44.6" r="0.85" fill="#8cfff2"/>
<circle cx="302.7" cy="44.6" r="1.75" fill="#35ffe9"/>
<circle cx="302.7" cy="44.6" r="0.85" fill="#8cfff2"/>
<circle cx="309.6" cy="44.6" r="1.75" fill="#47ffd7"/>
<circle cx="309.6" cy="44.6" r="0.85" fill="#96ffe8"/>
<circle cx="316.4" cy="44.6" r="1.75" fill="#47ffd7"/>
<circle cx="316.4" cy="44.6" r="0.85" fill="#96ffe8"/>
<circle cx="323.3" cy="44.6" r="1.75" fill="#47ffd7"/>
<circle cx="323.3" cy="44.6" r="0.85" fill="#96ffe8"/>
<circle cx="330.1" cy="44.6" r="1.75" fill="#62ffbc"/>
<circle cx="330.1" cy="44.6" r="0.85" fill="#a6ffd9"/>
<circle cx="337.0" cy="44.6" r="1.75" fill="#8fff8f"/>
<circle cx="337.0" cy="44.6" r="0.85" fill="#bfffbf"/>
<circle cx="343.8" cy="44.6" r="1.75" fill="#fbff23"/>
<circle cx="343.8" cy="44.6" r="0.85" fill="#fcff82"/>
<circle cx="350.7" cy="44.6" r="1.75" fill="#fbff23"/>
<circle cx="350.7" cy="44.6" r="0.85" fill="#fcff82"/>
<circle cx="357.5" cy="44.6" r="1.75" fill="#fffb1f"/>
<circle cx="357.5" cy="44.6" r="0.85" fill="#fffc80"/>
<circle cx="364.4" cy="44.6" r="1.75" fill="#ffe91f"/>
<circle cx="364.4" cy="44.6" r="0.85" fill="#fff280"/>
<circle cx="371.2" cy="44.6" r="1.75" fill="#ffe91f"/>
<circle cx="371.2" cy="44.6" r="0.85" fill="#fff280"/>
<circle cx="378.1" cy="44.6" r="1.75" fill="#fffb1f"/>
<circle cx="378.1" cy="44.6" r="0.85" fill="#fffc80"/>
<circle cx="384.9" cy="44.6" r="1.75" fill="#d7ff47"/>
<circle cx="384.9" cy="44.6" r="0.85" fill="#e8ff96"/>
<circle cx="391.8" cy="44.6" r="1.75" fill="#bcff62"/>
<circle cx="391.8" cy="44.6" r="0.85" fill="#d9ffa6"/>
<circle cx="398.6" cy="44.6" r="1.75" fill="#7dffa1"/>
<circle cx="398.6" cy="44.6" r="0.85" fill="#b5ffc9"/>
<circle cx="405.5" cy="44.6" r="1.75" fill="#62ffbc"/>
<circle cx="405.5" cy="44.6" r="0.85" fill="#a6ffd9"/>
<circle cx="412.3" cy="44.6" r="1.75" fill="#47ffd7"/>
<circle cx="412.3" cy="44.6" r="0.85" fill="#96ffe8"/>
<circle cx="419.2" cy="44.6" r="1.75" fill="#47ffd7"/>
<circle cx="419.2" cy="44.6" r="0.85" fill="#96ffe8"/>
<circle cx="261.6" cy="51.4" r="1.75" fill="#bcff62"/>
<circle cx="261.6" cy="51.4" r="0.85" fill="#d9ffa6"/>
<circle cx="268.5" cy="51.4" r="1.75" fill="#d7ff47"/>
<circle cx="268.5" cy="51.4" r="0.85" fill="#e8ff96"/>
<circle cx="275.3" cy="51.4" r="1.75" fill="#fbff23"/>
<circle cx="275.3" cy="51.4" r="0.85" fill="#fcff82"/>
<circle cx="282.2" cy="51.4" r="1.75" fill="#ffe91f"/>
<circle cx="282.2" cy="51.4" r="0.85" fill="#fff280"/>
<circle cx="289.0" cy="51.4" r="1.75" fill="#ffbc1f"/>
<circle cx="289.0" cy="51.4" r="0.85" fill="#ffd980"/>
<circle cx="295.9" cy="51.4" r="1.75" fill="#ffaa1f"/>
<circle cx="295.9" cy="51.4" r="0.85" fill="#ffcf80"/>
<circle cx="302.7" cy="51.4" r="1.75" fill="#ff8f1f"/>
<circle cx="302.7" cy="51.4" r="0.85" fill="#ffbf80"/>
<circle cx="309.6" cy="51.4" r="1.75" fill="#ff7d1f"/>
<circle cx="309.6" cy="51.4" r="0.85" fill="#ffb580"/>
<circle cx="316.4" cy="51.4" r="1.75" fill="#ff741f"/>
<circle cx="316.4" cy="51.4" r="0.85" fill="#ffb080"/>
<circle cx="323.3" cy="51.4" r="1.75" fill="#ff621f"/>
<circle cx="323.3" cy="51.4" r="0.85" fill="#ffa680"/>
<circle cx="330.1" cy="51.4" r="1.75" fill="#ff501f"/>
<circle cx="330.1" cy="51.4" r="0.85" fill="#ff9c80"/>
<circle cx="337.0" cy="51.4" r="1.75" fill="#ff471f"/>
<circle cx="337.0" cy="51.4" r="0.85" fill="#ff9680"/>
<circle cx="343.8" cy="51.4" r="1.75" fill="#ff471f"/>
<circle cx="343.8" cy="51.4" r="0.85" fill="#ff9680"/>
<circle cx="350.7" cy="51.4" r="1.75" fill="#ff621f"/>
<circle cx="350.7" cy="51.4" r="0.85" fill="#ffa680"/>
<circle cx="357.5" cy="51.4" r="1.75" fill="#ff741f"/>
<circle cx="357.5" cy="51.4" r="0.85" fill="#ffb080"/>
<circle cx="364.4" cy="51.4" r="1.75" fill="#ff8f1f"/>
<circle cx="364.4" cy="51.4" r="0.85" fill="#ffbf80"/>
<circle cx="371.2" cy="51.4" r="1.75" fill="#ff981f"/>
<circle cx="371.2" cy="51.4" r="0.85" fill="#ffc480"/>
<circle cx="378.1" cy="51.4" r="1.75" fill="#ffbc1f"/>
<circle cx="378.1" cy="51.4" r="0.85" fill="#ffd980"/>
<circle cx="384.9" cy="51.4" r="1.75" fill="#ffe91f"/>
<circle cx="384.9" cy="51.4" r="0.85" fill="#fff280"/>
<circle cx="391.8" cy="51.4" r="1.75" fill="#d7ff47"/>
<circle cx="391.8" cy="51.4" r="0.85" fill="#e8ff96"/>
<circle cx="398.6" cy="51.4" r="1.75" fill="#a1ff7d"/>
<circle cx="398.6" cy="51.4" r="0.85" fill="#c9ffb5"/>
<circle cx="405.5" cy="51.4" r="1.75" fill="#62ffbc"/>
<circle cx="405.5" cy="51.4" r="0.85" fill="#a6ffd9"/>
<circle cx="412.3" cy="51.4" r="1.75" fill="#35ffe9"/>
<circle cx="412.3" cy="51.4" r="0.85" fill="#8cfff2"/>
<circle cx="419.2" cy="51.4" r="1.75" fill="#23fffb"/>
<circle cx="419.2" cy="51.4" r="0.85" fill="#82fffc"/>
<circle cx="261.6" cy="58.2" r="1.75" fill="#23fffb"/>
<circle cx="261.6" cy="58.2" r="0.85" fill="#82fffc"/>
<circle cx="268.5" cy="58.2" r="1.75" fill="#1fe9ff"/>
<circle cx="268.5" cy="58.2" r="0.85" fill="#80f2ff"/>
<circle cx="275.3" cy="58.2" r="1.75" fill="#1fbcff"/>
<circle cx="282.2" cy="58.2" r="1.75" fill="#1faaff"/>
<circle cx="289.0" cy="58.2" r="1.75" fill="#1faaff"/>
<circle cx="295.9" cy="58.2" r="1.75" fill="#1fbcff"/>
<circle cx="302.7" cy="58.2" r="1.75" fill="#1fe9ff"/>
<circle cx="302.7" cy="58.2" r="0.85" fill="#80f2ff"/>
<circle cx="309.6" cy="58.2" r="1.75" fill="#35ffe9"/>
<circle cx="309.6" cy="58.2" r="0.85" fill="#8cfff2"/>
<circle cx="316.4" cy="58.2" r="1.75" fill="#62ffbc"/>
<circle cx="316.4" cy="58.2" r="0.85" fill="#a6ffd9"/>
<circle cx="323.3" cy="58.2" r="1.75" fill="#bcff62"/>
<circle cx="323.3" cy="58.2" r="0.85" fill="#d9ffa6"/>
<circle cx="330.1" cy="58.2" r="1.75" fill="#fbff23"/>
<circle cx="330.1" cy="58.2" r="0.85" fill="#fcff82"/>
<circle cx="337.0" cy="58.2" r="1.75" fill="#ffbc1f"/>
<circle cx="337.0" cy="58.2" r="0.85" fill="#ffd980"/>
<circle cx="343.8" cy="58.2" r="1.75" fill="#ff741f"/>
<circle cx="343.8" cy="58.2" r="0.85" fill="#ffb080"/>
<circle cx="350.7" cy="58.2" r="1.75" fill="#ff501f"/>
<circle cx="350.7" cy="58.2" r="0.85" fill="#ff9c80"/>
<circle cx="357.5" cy="58.2" r="1.75" fill="#ff3e1f"/>
<circle cx="357.5" cy="58.2" r="0.85" fill="#ff9180"/>
<circle cx="364.4" cy="58.2" r="1.75" fill="#ff2c1f"/>
<circle cx="364.4" cy="58.2" r="0.85" fill="#ff8780"/>
<circle cx="371.2" cy="58.2" r="1.75" fill="#ff2c1f"/>
<circle cx="371.2" cy="58.2" r="0.85" fill="#ff8780"/>
<circle cx="378.1" cy="58.2" r="1.75" fill="#ff2c1f"/>
<circle cx="378.1" cy="58.2" r="0.85" fill="#ff8780"/>
<circle cx="384.9" cy="58.2" r="1.75" fill="#ff3e1f"/>
<circle cx="384.9" cy="58.2" r="0.85" fill="#ff9180"/>
<circle cx="391.8" cy="58.2" r="1.75" fill="#ff501f"/>
<circle cx="391.8" cy="58.2" r="0.85" fill="#ff9c80"/>
<circle cx="398.6" cy="58.2" r="1.75" fill="#ff621f"/>
<circle cx="398.6" cy="58.2" r="0.85" fill="#ffa680"/>
<circle cx="405.5" cy="58.2" r="1.75" fill="#ff861f"/>
<circle cx="405.5" cy="58.2" r="0.85" fill="#ffba80"/>
<circle cx="412.3" cy="58.2" r="1.75" fill="#ffbc1f"/>
<circle cx="412.3" cy="58.2" r="0.85" fill="#ffd980"/>
<circle cx="419.2" cy="58.2" r="1.75" fill="#ffe91f"/>
<circle cx="419.2" cy="58.2" r="0.85" fill="#fff280"/>
<circle cx="261.6" cy="65.0" r="1.75" fill="#8fff8f"/>
<circle cx="261.6" cy="65.0" r="0.85" fill="#bfffbf"/>
<circle cx="268.5" cy="65.0" r="1.75" fill="#47ffd7"/>
<circle cx="268.5" cy="65.0" r="0.85" fill="#96ffe8"/>
<circle cx="275.3" cy="65.0" r="1.75" fill="#23fffb"/>
<circle cx="275.3" cy="65.0" r="0.85" fill="#82fffc"/>
<circle cx="282.2" cy="65.0" r="1.75" fill="#1fe9ff"/>
<circle cx="282.2" cy="65.0" r="0.85" fill="#80f2ff"/>
<circle cx="289.0" cy="65.0" r="1.75" fill="#1fe9ff"/>
<circle cx="289.0" cy="65.0" r="0.85" fill="#80f2ff"/>
<circle cx="295.9" cy="65.0" r="1.75" fill="#1fe9ff"/>
<circle cx="295.9" cy="65.0" r="0.85" fill="#80f2ff"/>
<circle cx="302.7" cy="65.0" r="1.75" fill="#23fffb"/>
<circle cx="302.7" cy="65.0" r="0.85" fill="#82fffc"/>
<circle cx="309.6" cy="65.0" r="1.75" fill="#23fffb"/>
<circle cx="309.6" cy="65.0" r="0.85" fill="#82fffc"/>
<circle cx="316.4" cy="65.0" r="1.75" fill="#35ffe9"/>
<circle cx="316.4" cy="65.0" r="0.85" fill="#8cfff2"/>
<circle cx="323.3" cy="65.0" r="1.75" fill="#35ffe9"/>
<circle cx="323.3" cy="65.0" r="0.85" fill="#8cfff2"/>
<circle cx="330.1" cy="65.0" r="1.75" fill="#47ffd7"/>
<circle cx="330.1" cy="65.0" r="0.85" fill="#96ffe8"/>
<circle cx="337.0" cy="65.0" r="1.75" fill="#47ffd7"/>
<circle cx="337.0" cy="65.0" r="0.85" fill="#96ffe8"/>
<circle cx="343.8" cy="65.0" r="1.75" fill="#7dffa1"/>
<circle cx="343.8" cy="65.0" r="0.85" fill="#b5ffc9"/>
<circle cx="350.7" cy="65.0" r="1.75" fill="#d7ff47"/>
<circle cx="350.7" cy="65.0" r="0.85" fill="#e8ff96"/>
<circle cx="357.5" cy="65.0" r="1.75" fill="#ffe91f"/>
<circle cx="357.5" cy="65.0" r="0.85" fill="#fff280"/>
<circle cx="364.4" cy="65.0" r="1.75" fill="#ffbc1f"/>
<circle cx="364.4" cy="65.0" r="0.85" fill="#ffd980"/>
<circle cx="371.2" cy="65.0" r="1.75" fill="#ff8f1f"/>
<circle cx="371.2" cy="65.0" r="0.85" fill="#ffbf80"/>
<circle cx="378.1" cy="65.0" r="1.75" fill="#ff741f"/>
<circle cx="378.1" cy="65.0" r="0.85" fill="#ffb080"/>
<circle cx="384.9" cy="65.0" r="1.75" fill="#ff621f"/>
<circle cx="384.9" cy="65.0" r="0.85" fill="#ffa680"/>
<circle cx="391.8" cy="65.0" r="1.75" fill="#ff501f"/>
<circle cx="391.8" cy="65.0" r="0.85" fill="#ff9c80"/>
<circle cx="398.6" cy="65.0" r="1.75" fill="#ff3e1f"/>
<circle cx="398.6" cy="65.0" r="0.85" fill="#ff9180"/>
<circle cx="405.5" cy="65.0" r="1.75" fill="#ff2c1f"/>
<circle cx="405.5" cy="65.0" r="0.85" fill="#ff8780"/>
<circle cx="412.3" cy="65.0" r="1.75" fill="#fb1f1f"/>
<circle cx="412.3" cy="65.0" r="0.85" fill="#fc8080"/>
<circle cx="419.2" cy="65.0" r="1.75" fill="#fb1f1f"/>
<circle cx="419.2" cy="65.0" r="0.85" fill="#fc8080"/>
<circle cx="261.6" cy="71.8" r="1.75" fill="#ff501f"/>
<circle cx="261.6" cy="71.8" r="0.85" fill="#ff9c80"/>
<circle cx="268.5" cy="71.8" r="1.75" fill="#ff621f"/>
<circle cx="268.5" cy="71.8" r="0.85" fill="#ffa680"/>
<circle cx="275.3" cy="71.8" r="1.75" fill="#ff741f"/>
<circle cx="275.3" cy="71.8" r="0.85" fill="#ffb080"/>
<circle cx="282.2" cy="71.8" r="1.75" fill="#ff8f1f"/>
<circle cx="282.2" cy="71.8" r="0.85" fill="#ffbf80"/>
<circle cx="289.0" cy="71.8" r="1.75" fill="#ffbc1f"/>
<circle cx="289.0" cy="71.8" r="0.85" fill="#ffd980"/>
<circle cx="295.9" cy="71.8" r="1.75" fill="#fffb1f"/>
<circle cx="295.9" cy="71.8" r="0.85" fill="#fffc80"/>
<circle cx="302.7" cy="71.8" r="1.75" fill="#d7ff47"/>
<circle cx="302.7" cy="71.8" r="0.85" fill="#e8ff96"/>
<circle cx="309.6" cy="71.8" r="1.75" fill="#a1ff7d"/>
<circle cx="309.6" cy="71.8" r="0.85" fill="#c9ffb5"/>
<circle cx="316.4" cy="71.8" r="1.75" fill="#62ffbc"/>
<circle cx="316.4" cy="71.8" r="0.85" fill="#a6ffd9"/>
<circle cx="323.3" cy="71.8" r="1.75" fill="#47ffd7"/>
<circle cx="323.3" cy="71.8" r="0.85" fill="#96ffe8"/>
<circle cx="330.1" cy="71.8" r="1.75" fill="#35ffe9"/>
<circle cx="330.1" cy="71.8" r="0.85" fill="#8cfff2"/>
<circle cx="337.0" cy="71.8" r="1.75" fill="#35ffe9"/>
<circle cx="337.0" cy="71.8" r="0.85" fill="#8cfff2"/>
<circle cx="343.8" cy="71.8" r="1.75" fill="#23fffb"/>
<circle cx="343.8" cy="71.8" r="0.85" fill="#82fffc"/>
<circle cx="350.7" cy="71.8" r="1.75" fill="#23fffb"/>
<circle cx="350.7" cy="71.8" r="0.85" fill="#82fffc"/>
<circle cx="357.5" cy="71.8" r="1.75" fill="#23fffb"/>
<circle cx="357.5" cy="71.8" r="0.85" fill="#82fffc"/>
<circle cx="364.4" cy="71.8" r="1.75" fill="#23fffb"/>
<circle cx="364.4" cy="71.8" r="0.85" fill="#82fffc"/>
<circle cx="371.2" cy="71.8" r="1.75" fill="#23fffb"/>
<circle cx="371.2" cy="71.8" r="0.85" fill="#82fffc"/>
<circle cx="378.1" cy="71.8" r="1.75" fill="#23fffb"/>
<circle cx="378.1" cy="71.8" r="0.85" fill="#82fffc"/>
<circle cx="384.9" cy="71.8" r="1.75" fill="#23fffb"/>
<circle cx="384.9" cy="71.8" r="0.85" fill="#82fffc"/>
<circle cx="391.8" cy="71.8" r="1.75" fill="#35ffe9"/>
<circle cx="391.8" cy="71.8" r="0.85" fill="#8cfff2"/>
<circle cx="398.6" cy="71.8" r="1.75" fill="#35ffe9"/>
<circle cx="398.6" cy="71.8" r="0.85" fill="#8cfff2"/>
<circle cx="405.5" cy="71.8" r="1.75" fill="#35ffe9"/>
<circle cx="405.5" cy="71.8" r="0.85" fill="#8cfff2"/>
<circle cx="412.3" cy="71.8" r="1.75" fill="#47ffd7"/>
<circle cx="412.3" cy="71.8" r="0.85" fill="#96ffe8"/>
<circle cx="419.2" cy="71.8" r="1.75" fill="#62ffbc"/>
<circle cx="419.2" cy="71.8" r="0.85" fill="#a6ffd9"/>
<circle cx="261.6" cy="78.6" r="1.75" fill="#62ffbc"/>
<circle cx="261.6" cy="78.6" r="0.85" fill="#a6ffd9"/>
<circle cx="268.5" cy="78.6" r="1.75" fill="#8fff8f"/>
<circle cx="268.5" cy="78.6" r="0.85" fill="#bfffbf"/>
<circle cx="275.3" cy="78.6" r="1.75" fill="#bcff62"/>
<circle cx="275.3" cy="78.6" r="0.85" fill="#d9ffa6"/>
<circle cx="282.2" cy="78.6" r="1.75" fill="#d7ff47"/>
<circle cx="282.2" cy="78.6" r="0.85" fill="#e8ff96"/>
<circle cx="289.0" cy="78.6" r="1.75" fill="#e9ff35"/>
<circle cx="289.0" cy="78.6" r="0.85" fill="#f2ff8c"/>
<circle cx="295.9" cy="78.6" r="1.75" fill="#fbff23"/>
<circle cx="295.9" cy="78.6" r="0.85" fill="#fcff82"/>
<circle cx="302.7" cy="78.6" r="1.75" fill="#fbff23"/>
<circle cx="302.7" cy="78.6" r="0.85" fill="#fcff82"/>
<circle cx="309.6" cy="78.6" r="1.75" fill="#ffe91f"/>
<circle cx="309.6" cy="78.6" r="0.85" fill="#fff280"/>
<circle cx="316.4" cy="78.6" r="1.75" fill="#ffe91f"/>
<circle cx="316.4" cy="78.6" r="0.85" fill="#fff280"/>
<circle cx="323.3" cy="78.6" r="1.75" fill="#ffe91f"/>
<circle cx="323.3" cy="78.6" r="0.85" fill="#fff280"/>
<circle cx="330.1" cy="78.6" r="1.75" fill="#fff21f"/>
<circle cx="330.1" cy="78.6" r="0.85" fill="#fff780"/>
<circle cx="337.0" cy="78.6" r="1.75" fill="#fbff23"/>
<circle cx="337.0" cy="78.6" r="0.85" fill="#fcff82"/>
<circle cx="343.8" cy="78.6" r="1.75" fill="#bcff62"/>
<circle cx="343.8" cy="78.6" r="0.85" fill="#d9ffa6"/>
<circle cx="350.7" cy="78.6" r="1.75" fill="#a1ff7d"/>
<circle cx="350.7" cy="78.6" r="0.85" fill="#c9ffb5"/>
<circle cx="357.5" cy="78.6" r="1.75" fill="#8fff8f"/>
<circle cx="357.5" cy="78.6" r="0.85" fill="#bfffbf"/>
<circle cx="364.4" cy="78.6" r="1.75" fill="#7dffa1"/>
<circle cx="364.4" cy="78.6" r="0.85" fill="#b5ffc9"/>
<circle cx="371.2" cy="78.6" r="1.75" fill="#62ffbc"/>
<circle cx="371.2" cy="78.6" r="0.85" fill="#a6ffd9"/>
<circle cx="378.1" cy="78.6" r="1.75" fill="#62ffbc"/>
<circle cx="378.1" cy="78.6" r="0.85" fill="#a6ffd9"/>
<circle cx="384.9" cy="78.6" r="1.75" fill="#62ffbc"/>
<circle cx="384.9" cy="78.6" r="0.85" fill="#a6ffd9"/>
<circle cx="391.8" cy="78.6" r="1.75" fill="#8fff8f"/>
<circle cx="391.8" cy="78.6" r="0.85" fill="#bfffbf"/>
<circle cx="398.6" cy="78.6" r="1.75" fill="#a1ff7d"/>
<circle cx="398.6" cy="78.6" r="0.85" fill="#c9ffb5"/>
<circle cx="405.5" cy="78.6" r="1.75" fill="#bcff62"/>
<circle cx="405.5" cy="78.6" r="0.85" fill="#d9ffa6"/>
<circle cx="412.3" cy="78.6" r="1.75" fill="#d7ff47"/>
<circle cx="412.3" cy="78.6" r="0.85" fill="#e8ff96"/>
<circle cx="419.2" cy="78.6" r="1.75" fill="#d7ff47"/>
<circle cx="419.2" cy="78.6" r="0.85" fill="#e8ff96"/>
<circle cx="261.6" cy="85.4" r="1.75" fill="#7dffa1"/>
<circle cx="261.6" cy="85.4" r="0.85" fill="#b5ffc9"/>
<circle cx="268.5" cy="85.4" r="1.75" fill="#8fff8f"/>
<circle cx="268.5" cy="85.4" r="0.85" fill="#bfffbf"/>
<circle cx="275.3" cy="85.4" r="1.75" fill="#a1ff7d"/>
<circle cx="275.3" cy="85.4" r="0.85" fill="#c9ffb5"/>
<circle cx="282.2" cy="85.4" r="1.75" fill="#bcff62"/>
<circle cx="282.2" cy="85.4" r="0.85" fill="#d9ffa6"/>
<circle cx="289.0" cy="85.4" r="1.75" fill="#ceff50"/>
<circle cx="289.0" cy="85.4" r="0.85" fill="#e3ff9c"/>
<circle cx="295.9" cy="85.4" r="1.75" fill="#e9ff35"/>
<circle cx="295.9" cy="85.4" r="0.85" fill="#f2ff8c"/>
<circle cx="302.7" cy="85.4" r="1.75" fill="#e9ff35"/>
<circle cx="302.7" cy="85.4" r="0.85" fill="#f2ff8c"/>
<circle cx="309.6" cy="85.4" r="1.75" fill="#e9ff35"/>
<circle cx="309.6" cy="85.4" r="0.85" fill="#f2ff8c"/>
<circle cx="316.4" cy="85.4" r="1.75" fill="#fbff23"/>
<circle cx="316.4" cy="85.4" r="0.85" fill="#fcff82"/>
<circle cx="323.3" cy="85.4" r="1.75" fill="#fbff23"/>
<circle cx="323.3" cy="85.4" r="0.85" fill="#fcff82"/>
<circle cx="330.1" cy="85.4" r="1.75" fill="#e9ff35"/>
<circle cx="330.1" cy="85.4" r="0.85" fill="#f2ff8c"/>
<circle cx="337.0" cy="85.4" r="1.75" fill="#d7ff47"/>
<circle cx="337.0" cy="85.4" r="0.85" fill="#e8ff96"/>
<circle cx="343.8" cy="85.4" r="1.75" fill="#35ffe9"/>
<circle cx="343.8" cy="85.4" r="0.85" fill="#8cfff2"/>
<circle cx="350.7" cy="85.4" r="1.75" fill="#23fffb"/>
<circle cx="350.7" cy="85.4" r="0.85" fill="#82fffc"/>
<circle cx="357.5" cy="85.4" r="1.75" fill="#23fffb"/>
<circle cx="357.5" cy="85.4" r="0.85" fill="#82fffc"/>
<circle cx="364.4" cy="85.4" r="1.75" fill="#23fffb"/>
<circle cx="364.4" cy="85.4" r="0.85" fill="#82fffc"/>
<circle cx="371.2" cy="85.4" r="1.75" fill="#1fe9ff"/>
<circle cx="371.2" cy="85.4" r="0.85" fill="#80f2ff"/>
<circle cx="378.1" cy="85.4" r="1.75" fill="#1fe9ff"/>
<circle cx="378.1" cy="85.4" r="0.85" fill="#80f2ff"/>
<circle cx="384.9" cy="85.4" r="1.75" fill="#1fd7ff"/>
<circle cx="384.9" cy="85.4" r="0.85" fill="#80e8ff"/>
<circle cx="391.8" cy="85.4" r="1.75" fill="#1fbcff"/>
<circle cx="398.6" cy="85.4" r="1.75" fill="#1fbcff"/>
<circle cx="405.5" cy="85.4" r="1.75" fill="#1fd7ff"/>
<circle cx="405.5" cy="85.4" r="0.85" fill="#80e8ff"/>
<circle cx="412.3" cy="85.4" r="1.75" fill="#1fe9ff"/>
<circle cx="412.3" cy="85.4" r="0.85" fill="#80f2ff"/>
<circle cx="419.2" cy="85.4" r="1.75" fill="#23fffb"/>
<circle cx="419.2" cy="85.4" r="0.85" fill="#82fffc"/>
<circle cx="261.6" cy="92.2" r="1.75" fill="#47ffd7"/>
<circle cx="261.6" cy="92.2" r="0.85" fill="#96ffe8"/>
<circle cx="268.5" cy="92.2" r="1.75" fill="#35ffe9"/>
<circle cx="268.5" cy="92.2" r="0.85" fill="#8cfff2"/>
<circle cx="275.3" cy="92.2" r="1.75" fill="#62ffbc"/>
<circle cx="275.3" cy="92.2" r="0.85" fill="#a6ffd9"/>
<circle cx="282.2" cy="92.2" r="1.75" fill="#8fff8f"/>
<circle cx="282.2" cy="92.2" r="0.85" fill="#bfffbf"/>
<circle cx="289.0" cy="92.2" r="1.75" fill="#ceff50"/>
<circle cx="289.0" cy="92.2" r="0.85" fill="#e3ff9c"/>
<circle cx="295.9" cy="92.2" r="1.75" fill="#fbff23"/>
<circle cx="295.9" cy="92.2" r="0.85" fill="#fcff82"/>
<circle cx="302.7" cy="92.2" r="1.75" fill="#ffe91f"/>
<circle cx="302.7" cy="92.2" r="0.85" fill="#fff280"/>
<circle cx="309.6" cy="92.2" r="1.75" fill="#ffbc1f"/>
<circle cx="309.6" cy="92.2" r="0.85" fill="#ffd980"/>
<circle cx="316.4" cy="92.2" r="1.75" fill="#ffaa1f"/>
<circle cx="316.4" cy="92.2" r="0.85" fill="#ffcf80"/>
<circle cx="323.3" cy="92.2" r="1.75" fill="#ff981f"/>
<circle cx="323.3" cy="92.2" r="0.85" fill="#ffc480"/>
<circle cx="330.1" cy="92.2" r="1.75" fill="#ff8f1f"/>
<circle cx="330.1" cy="92.2" r="0.85" fill="#ffbf80"/>
<circle cx="337.0" cy="92.2" r="1.75" fill="#ff8f1f"/>
<circle cx="337.0" cy="92.2" r="0.85" fill="#ffbf80"/>
<circle cx="343.8" cy="92.2" r="1.75" fill="#ffaa1f"/>
<circle cx="343.8" cy="92.2" r="0.85" fill="#ffcf80"/>
<circle cx="350.7" cy="92.2" r="1.75" fill="#ffbc1f"/>
<circle cx="350.7" cy="92.2" r="0.85" fill="#ffd980"/>
<circle cx="357.5" cy="92.2" r="1.75" fill="#ffe91f"/>
<circle cx="357.5" cy="92.2" r="0.85" fill="#fff280"/>
<circle cx="364.4" cy="92.2" r="1.75" fill="#fffb1f"/>
<circle cx="364.4" cy="92.2" r="0.85" fill="#fffc80"/>
<circle cx="371.2" cy="92.2" r="1.75" fill="#d7ff47"/>
<circle cx="371.2" cy="92.2" r="0.85" fill="#e8ff96"/>
<circle cx="378.1" cy="92.2" r="1.75" fill="#a1ff7d"/>
<circle cx="378.1" cy="92.2" r="0.85" fill="#c9ffb5"/>
<circle cx="384.9" cy="92.2" r="1.75" fill="#7dffa1"/>
<circle cx="384.9" cy="92.2" r="0.85" fill="#b5ffc9"/>
<circle cx="391.8" cy="92.2" r="1.75" fill="#62ffbc"/>
<circle cx="391.8" cy="92.2" r="0.85" fill="#a6ffd9"/>
<circle cx="398.6" cy="92.2" r="1.75" fill="#47ffd7"/>
<circle cx="398.6" cy="92.2" r="0.85" fill="#96ffe8"/>
<circle cx="405.5" cy="92.2" r="1.75" fill="#35ffe9"/>
<circle cx="405.5" cy="92.2" r="0.85" fill="#8cfff2"/>
<circle cx="412.3" cy="92.2" r="1.75" fill="#23fffb"/>
<circle cx="412.3" cy="92.2" r="0.85" fill="#82fffc"/>
<circle cx="419.2" cy="92.2" r="1.75" fill="#23fffb"/>
<circle cx="419.2" cy="92.2" r="0.85" fill="#82fffc"/>
</g>
<rect x="424.4" y="34.4" width="4.1" height="61.2" fill="url(#jetg)"/>
<rect x="487.0" y="34.4" width="164.0" height="61.2" fill="#02068e"/>
<g filter="url(#blur1)">
<circle cx="490.4" cy="37.8" r="1.75" fill="#1fe9ff"/>
<circle cx="490.4" cy="37.8" r="0.85" fill="#80f2ff"/>
<circle cx="497.2" cy="37.8" r="1.75" fill="#1fe9ff"/>
<circle cx="497.2" cy="37.8" r="0.85" fill="#80f2ff"/>
<circle cx="504.1" cy="37.8" r="1.75" fill="#1fe9ff"/>
<circle cx="504.1" cy="37.8" r="0.85" fill="#80f2ff"/>
<circle cx="510.9" cy="37.8" r="1.75" fill="#1fe9ff"/>
<circle cx="510.9" cy="37.8" r="0.85" fill="#80f2ff"/>
<circle cx="517.8" cy="37.8" r="1.75" fill="#1ffbff"/>
<circle cx="517.8" cy="37.8" r="0.85" fill="#80fcff"/>
<circle cx="524.6" cy="37.8" r="1.75" fill="#23fffb"/>
<circle cx="524.6" cy="37.8" r="0.85" fill="#82fffc"/>
<circle cx="531.4" cy="37.8" r="1.75" fill="#23fffb"/>
<circle cx="531.4" cy="37.8" r="0.85" fill="#82fffc"/>
<circle cx="538.2" cy="37.8" r="1.75" fill="#23fffb"/>
<circle cx="538.2" cy="37.8" r="0.85" fill="#82fffc"/>
<circle cx="545.1" cy="37.8" r="1.75" fill="#23fffb"/>
<circle cx="545.1" cy="37.8" r="0.85" fill="#82fffc"/>
<circle cx="551.9" cy="37.8" r="1.75" fill="#23fffb"/>
<circle cx="551.9" cy="37.8" r="0.85" fill="#82fffc"/>
<circle cx="558.8" cy="37.8" r="1.75" fill="#23fffb"/>
<circle cx="558.8" cy="37.8" r="0.85" fill="#82fffc"/>
<circle cx="565.6" cy="37.8" r="1.75" fill="#35ffe9"/>
<circle cx="565.6" cy="37.8" r="0.85" fill="#8cfff2"/>
<circle cx="572.4" cy="37.8" r="1.75" fill="#35ffe9"/>
<circle cx="572.4" cy="37.8" r="0.85" fill="#8cfff2"/>
<circle cx="579.2" cy="37.8" r="1.75" fill="#47ffd7"/>
<circle cx="579.2" cy="37.8" r="0.85" fill="#96ffe8"/>
<circle cx="586.1" cy="37.8" r="1.75" fill="#47ffd7"/>
<circle cx="586.1" cy="37.8" r="0.85" fill="#96ffe8"/>
<circle cx="592.9" cy="37.8" r="1.75" fill="#47ffd7"/>
<circle cx="592.9" cy="37.8" r="0.85" fill="#96ffe8"/>
<circle cx="599.8" cy="37.8" r="1.75" fill="#47ffd7"/>
<circle cx="599.8" cy="37.8" r="0.85" fill="#96ffe8"/>
<circle cx="606.6" cy="37.8" r="1.75" fill="#47ffd7"/>
<circle cx="606.6" cy="37.8" r="0.85" fill="#96ffe8"/>
<circle cx="613.4" cy="37.8" r="1.75" fill="#35ffe9"/>
<circle cx="613.4" cy="37.8" r="0.85" fill="#8cfff2"/>
<circle cx="620.2" cy="37.8" r="1.75" fill="#23fffb"/>
<circle cx="620.2" cy="37.8" r="0.85" fill="#82fffc"/>
<circle cx="627.1" cy="37.8" r="1.75" fill="#23fffb"/>
<circle cx="627.1" cy="37.8" r="0.85" fill="#82fffc"/>
<circle cx="633.9" cy="37.8" r="1.75" fill="#23fffb"/>
<circle cx="633.9" cy="37.8" r="0.85" fill="#82fffc"/>
<circle cx="640.8" cy="37.8" r="1.75" fill="#23fffb"/>
<circle cx="640.8" cy="37.8" r="0.85" fill="#82fffc"/>
<circle cx="647.6" cy="37.8" r="1.75" fill="#23fffb"/>
<circle cx="647.6" cy="37.8" r="0.85" fill="#82fffc"/>
<circle cx="490.4" cy="44.6" r="1.75" fill="#1faaff"/>
<circle cx="497.2" cy="44.6" r="1.75" fill="#1faaff"/>
<circle cx="504.1" cy="44.6" r="1.75" fill="#1faaff"/>
<circle cx="510.9" cy="44.6" r="1.75" fill="#1f98ff"/>
<circle cx="517.8" cy="44.6" r="1.75" fill="#1f74ff"/>
<circle cx="524.6" cy="44.6" r="1.75" fill="#1f74ff"/>
<circle cx="531.4" cy="44.6" r="1.75" fill="#1f74ff"/>
<circle cx="538.2" cy="44.6" r="1.75" fill="#1f74ff"/>
<circle cx="545.1" cy="44.6" r="1.75" fill="#1f86ff"/>
<circle cx="551.9" cy="44.6" r="1.75" fill="#1faaff"/>
<circle cx="558.8" cy="44.6" r="1.75" fill="#1fbcff"/>
<circle cx="565.6" cy="44.6" r="1.75" fill="#1fe9ff"/>
<circle cx="565.6" cy="44.6" r="0.85" fill="#80f2ff"/>
<circle cx="572.4" cy="44.6" r="1.75" fill="#1fe9ff"/>
<circle cx="572.4" cy="44.6" r="0.85" fill="#80f2ff"/>
<circle cx="579.2" cy="44.6" r="1.75" fill="#1ffbff"/>
<circle cx="579.2" cy="44.6" r="0.85" fill="#80fcff"/>
<circle cx="586.1" cy="44.6" r="1.75" fill="#23fffb"/>
<circle cx="586.1" cy="44.6" r="0.85" fill="#82fffc"/>
<circle cx="592.9" cy="44.6" r="1.75" fill="#23fffb"/>
<circle cx="592.9" cy="44.6" r="0.85" fill="#82fffc"/>
<circle cx="599.8" cy="44.6" r="1.75" fill="#23fffb"/>
<circle cx="599.8" cy="44.6" r="0.85" fill="#82fffc"/>
<circle cx="606.6" cy="44.6" r="1.75" fill="#23fffb"/>
<circle cx="606.6" cy="44.6" r="0.85" fill="#82fffc"/>
<circle cx="613.4" cy="44.6" r="1.75" fill="#35ffe9"/>
<circle cx="613.4" cy="44.6" r="0.85" fill="#8cfff2"/>
<circle cx="620.2" cy="44.6" r="1.75" fill="#35ffe9"/>
<circle cx="620.2" cy="44.6" r="0.85" fill="#8cfff2"/>
<circle cx="627.1" cy="44.6" r="1.75" fill="#23fffb"/>
<circle cx="627.1" cy="44.6" r="0.85" fill="#82fffc"/>
<circle cx="633.9" cy="44.6" r="1.75" fill="#23fffb"/>
<circle cx="633.9" cy="44.6" r="0.85" fill="#82fffc"/>
<circle cx="640.8" cy="44.6" r="1.75" fill="#23fffb"/>
<circle cx="640.8" cy="44.6" r="0.85" fill="#82fffc"/>
<circle cx="647.6" cy="44.6" r="1.75" fill="#23fffb"/>
<circle cx="647.6" cy="44.6" r="0.85" fill="#82fffc"/>
<circle cx="490.4" cy="51.4" r="1.75" fill="#1fd7ff"/>
<circle cx="490.4" cy="51.4" r="0.85" fill="#80e8ff"/>
<circle cx="497.2" cy="51.4" r="1.75" fill="#1fbcff"/>
<circle cx="504.1" cy="51.4" r="1.75" fill="#1faaff"/>
<circle cx="510.9" cy="51.4" r="1.75" fill="#1f74ff"/>
<circle cx="517.8" cy="51.4" r="1.75" fill="#1f62ff"/>
<circle cx="524.6" cy="51.4" r="1.75" fill="#1f62ff"/>
<circle cx="531.4" cy="51.4" r="1.75" fill="#1faaff"/>
<circle cx="538.2" cy="51.4" r="1.75" fill="#1fd7ff"/>
<circle cx="538.2" cy="51.4" r="0.85" fill="#80e8ff"/>
<circle cx="545.1" cy="51.4" r="1.75" fill="#35ffe9"/>
<circle cx="545.1" cy="51.4" r="0.85" fill="#8cfff2"/>
<circle cx="551.9" cy="51.4" r="1.75" fill="#7dffa1"/>
<circle cx="551.9" cy="51.4" r="0.85" fill="#b5ffc9"/>
<circle cx="558.8" cy="51.4" r="1.75" fill="#d7ff47"/>
<circle cx="558.8" cy="51.4" r="0.85" fill="#e8ff96"/>
<circle cx="565.6" cy="51.4" r="1.75" fill="#ffe91f"/>
<circle cx="565.6" cy="51.4" r="0.85" fill="#fff280"/>
<circle cx="572.4" cy="51.4" r="1.75" fill="#ffce1f"/>
<circle cx="572.4" cy="51.4" r="0.85" fill="#ffe380"/>
<circle cx="579.2" cy="51.4" r="1.75" fill="#ffce1f"/>
<circle cx="579.2" cy="51.4" r="0.85" fill="#ffe380"/>
<circle cx="586.1" cy="51.4" r="1.75" fill="#ffce1f"/>
<circle cx="586.1" cy="51.4" r="0.85" fill="#ffe380"/>
<circle cx="592.9" cy="51.4" r="1.75" fill="#ffe91f"/>
<circle cx="592.9" cy="51.4" r="0.85" fill="#fff280"/>
<circle cx="599.8" cy="51.4" r="1.75" fill="#e9ff35"/>
<circle cx="599.8" cy="51.4" r="0.85" fill="#f2ff8c"/>
<circle cx="606.6" cy="51.4" r="1.75" fill="#bcff62"/>
<circle cx="606.6" cy="51.4" r="0.85" fill="#d9ffa6"/>
<circle cx="613.4" cy="51.4" r="1.75" fill="#8fff8f"/>
<circle cx="613.4" cy="51.4" r="0.85" fill="#bfffbf"/>
<circle cx="620.2" cy="51.4" r="1.75" fill="#35ffe9"/>
<circle cx="620.2" cy="51.4" r="0.85" fill="#8cfff2"/>
<circle cx="627.1" cy="51.4" r="1.75" fill="#1fbcff"/>
<circle cx="633.9" cy="51.4" r="1.75" fill="#1f74ff"/>
<circle cx="640.8" cy="51.4" r="1.75" fill="#1f47ff"/>
<circle cx="647.6" cy="51.4" r="1.55" fill="#1f1ffb"/>
<circle cx="490.4" cy="58.2" r="1.55" fill="#1f1fe9"/>
<circle cx="497.2" cy="58.2" r="1.55" fill="#1f1fd7"/>
<circle cx="504.1" cy="58.2" r="1.55" fill="#1f1fd7"/>
<circle cx="510.9" cy="58.2" r="1.55" fill="#1f1fe9"/>
<circle cx="517.8" cy="58.2" r="1.55" fill="#1f1ffb"/>
<circle cx="524.6" cy="58.2" r="1.75" fill="#1f47ff"/>
<circle cx="531.4" cy="58.2" r="1.75" fill="#1f74ff"/>
<circle cx="538.2" cy="58.2" r="1.75" fill="#1fd7ff"/>
<circle cx="538.2" cy="58.2" r="0.85" fill="#80e8ff"/>
<circle cx="545.1" cy="58.2" r="1.75" fill="#35ffe9"/>
<circle cx="545.1" cy="58.2" r="0.85" fill="#8cfff2"/>
<circle cx="551.9" cy="58.2" r="1.75" fill="#8fff8f"/>
<circle cx="551.9" cy="58.2" r="0.85" fill="#bfffbf"/>
<circle cx="558.8" cy="58.2" r="1.75" fill="#e9ff35"/>
<circle cx="558.8" cy="58.2" r="0.85" fill="#f2ff8c"/>
<circle cx="565.6" cy="58.2" r="1.75" fill="#ffce1f"/>
<circle cx="565.6" cy="58.2" r="0.85" fill="#ffe380"/>
<circle cx="572.4" cy="58.2" r="1.75" fill="#ffce1f"/>
<circle cx="572.4" cy="58.2" r="0.85" fill="#ffe380"/>
<circle cx="579.2" cy="58.2" r="1.75" fill="#ffbc1f"/>
<circle cx="579.2" cy="58.2" r="0.85" fill="#ffd980"/>
<circle cx="586.1" cy="58.2" r="1.75" fill="#ffbc1f"/>
<circle cx="586.1" cy="58.2" r="0.85" fill="#ffd980"/>
<circle cx="592.9" cy="58.2" r="1.75" fill="#ffbc1f"/>
<circle cx="592.9" cy="58.2" r="0.85" fill="#ffd980"/>
<circle cx="599.8" cy="58.2" r="1.75" fill="#ffbc1f"/>
<circle cx="599.8" cy="58.2" r="0.85" fill="#ffd980"/>
<circle cx="606.6" cy="58.2" r="1.75" fill="#ffbc1f"/>
<circle cx="606.6" cy="58.2" r="0.85" fill="#ffd980"/>
<circle cx="613.4" cy="58.2" r="1.75" fill="#ffce1f"/>
<circle cx="613.4" cy="58.2" r="0.85" fill="#ffe380"/>
<circle cx="620.2" cy="58.2" r="1.75" fill="#ffe01f"/>
<circle cx="620.2" cy="58.2" r="0.85" fill="#ffed80"/>
<circle cx="627.1" cy="58.2" r="1.75" fill="#fffb1f"/>
<circle cx="627.1" cy="58.2" r="0.85" fill="#fffc80"/>
<circle cx="633.9" cy="58.2" r="1.75" fill="#e9ff35"/>
<circle cx="633.9" cy="58.2" r="0.85" fill="#f2ff8c"/>
<circle cx="640.8" cy="58.2" r="1.75" fill="#bcff62"/>
<circle cx="640.8" cy="58.2" r="0.85" fill="#d9ffa6"/>
<circle cx="647.6" cy="58.2" r="1.75" fill="#8fff8f"/>
<circle cx="647.6" cy="58.2" r="0.85" fill="#bfffbf"/>
<circle cx="490.4" cy="65.0" r="1.75" fill="#35ffe9"/>
<circle cx="490.4" cy="65.0" r="0.85" fill="#8cfff2"/>
<circle cx="497.2" cy="65.0" r="1.75" fill="#23fffb"/>
<circle cx="497.2" cy="65.0" r="0.85" fill="#82fffc"/>
<circle cx="504.1" cy="65.0" r="1.75" fill="#1fd7ff"/>
<circle cx="504.1" cy="65.0" r="0.85" fill="#80e8ff"/>
<circle cx="510.9" cy="65.0" r="1.75" fill="#1faaff"/>
<circle cx="517.8" cy="65.0" r="1.75" fill="#1f74ff"/>
<circle cx="524.6" cy="65.0" r="1.75" fill="#1f47ff"/>
<circle cx="531.4" cy="65.0" r="1.75" fill="#1f47ff"/>
<circle cx="538.2" cy="65.0" r="1.75" fill="#1f47ff"/>
<circle cx="545.1" cy="65.0" r="1.75" fill="#1f74ff"/>
<circle cx="551.9" cy="65.0" r="1.75" fill="#1faaff"/>
<circle cx="558.8" cy="65.0" r="1.75" fill="#1fe9ff"/>
<circle cx="558.8" cy="65.0" r="0.85" fill="#80f2ff"/>
<circle cx="565.6" cy="65.0" r="1.75" fill="#23fffb"/>
<circle cx="565.6" cy="65.0" r="0.85" fill="#82fffc"/>
<circle cx="572.4" cy="65.0" r="1.75" fill="#47ffd7"/>
<circle cx="572.4" cy="65.0" r="0.85" fill="#96ffe8"/>
<circle cx="579.2" cy="65.0" r="1.75" fill="#8fff8f"/>
<circle cx="579.2" cy="65.0" r="0.85" fill="#bfffbf"/>
<circle cx="586.1" cy="65.0" r="1.75" fill="#fbff23"/>
<circle cx="586.1" cy="65.0" r="0.85" fill="#fcff82"/>
<circle cx="592.9" cy="65.0" r="1.75" fill="#ffaa1f"/>
<circle cx="592.9" cy="65.0" r="0.85" fill="#ffcf80"/>
<circle cx="599.8" cy="65.0" r="1.75" fill="#ff741f"/>
<circle cx="599.8" cy="65.0" r="0.85" fill="#ffb080"/>
<circle cx="606.6" cy="65.0" r="1.75" fill="#ff621f"/>
<circle cx="606.6" cy="65.0" r="0.85" fill="#ffa680"/>
<circle cx="613.4" cy="65.0" r="1.75" fill="#ff501f"/>
<circle cx="613.4" cy="65.0" r="0.85" fill="#ff9c80"/>
<circle cx="620.2" cy="65.0" r="1.75" fill="#ff621f"/>
<circle cx="620.2" cy="65.0" r="0.85" fill="#ffa680"/>
<circle cx="627.1" cy="65.0" r="1.75" fill="#ff741f"/>
<circle cx="627.1" cy="65.0" r="0.85" fill="#ffb080"/>
<circle cx="633.9" cy="65.0" r="1.75" fill="#ff8f1f"/>
<circle cx="633.9" cy="65.0" r="0.85" fill="#ffbf80"/>
<circle cx="640.8" cy="65.0" r="1.75" fill="#ffe91f"/>
<circle cx="640.8" cy="65.0" r="0.85" fill="#fff280"/>
<circle cx="647.6" cy="65.0" r="1.75" fill="#bcff62"/>
<circle cx="647.6" cy="65.0" r="0.85" fill="#d9ffa6"/>
<circle cx="490.4" cy="71.8" r="1.75" fill="#35ffe9"/>
<circle cx="490.4" cy="71.8" r="0.85" fill="#8cfff2"/>
<circle cx="497.2" cy="71.8" r="1.75" fill="#35ffe9"/>
<circle cx="497.2" cy="71.8" r="0.85" fill="#8cfff2"/>
<circle cx="504.1" cy="71.8" r="1.75" fill="#23fffb"/>
<circle cx="504.1" cy="71.8" r="0.85" fill="#82fffc"/>
<circle cx="510.9" cy="71.8" r="1.75" fill="#1fe9ff"/>
<circle cx="510.9" cy="71.8" r="0.85" fill="#80f2ff"/>
<circle cx="517.8" cy="71.8" r="1.75" fill="#1fe9ff"/>
<circle cx="517.8" cy="71.8" r="0.85" fill="#80f2ff"/>
<circle cx="524.6" cy="71.8" r="1.75" fill="#1fe9ff"/>
<circle cx="524.6" cy="71.8" r="0.85" fill="#80f2ff"/>
<circle cx="531.4" cy="71.8" r="1.75" fill="#1ffbff"/>
<circle cx="531.4" cy="71.8" r="0.85" fill="#80fcff"/>
<circle cx="538.2" cy="71.8" r="1.75" fill="#23fffb"/>
<circle cx="538.2" cy="71.8" r="0.85" fill="#82fffc"/>
<circle cx="545.1" cy="71.8" r="1.75" fill="#35ffe9"/>
<circle cx="545.1" cy="71.8" r="0.85" fill="#8cfff2"/>
<circle cx="551.9" cy="71.8" r="1.75" fill="#47ffd7"/>
<circle cx="551.9" cy="71.8" r="0.85" fill="#96ffe8"/>
<circle cx="558.8" cy="71.8" r="1.75" fill="#47ffd7"/>
<circle cx="558.8" cy="71.8" r="0.85" fill="#96ffe8"/>
<circle cx="565.6" cy="71.8" r="1.75" fill="#62ffbc"/>
<circle cx="565.6" cy="71.8" r="0.85" fill="#a6ffd9"/>
<circle cx="572.4" cy="71.8" r="1.75" fill="#62ffbc"/>
<circle cx="572.4" cy="71.8" r="0.85" fill="#a6ffd9"/>
<circle cx="579.2" cy="71.8" r="1.75" fill="#62ffbc"/>
<circle cx="579.2" cy="71.8" r="0.85" fill="#a6ffd9"/>
<circle cx="586.1" cy="71.8" r="1.75" fill="#47ffd7"/>
<circle cx="586.1" cy="71.8" r="0.85" fill="#96ffe8"/>
<circle cx="592.9" cy="71.8" r="1.75" fill="#35ffe9"/>
<circle cx="592.9" cy="71.8" r="0.85" fill="#8cfff2"/>
<circle cx="599.8" cy="71.8" r="1.75" fill="#23fffb"/>
<circle cx="599.8" cy="71.8" r="0.85" fill="#82fffc"/>
<circle cx="606.6" cy="71.8" r="1.75" fill="#23fffb"/>
<circle cx="606.6" cy="71.8" r="0.85" fill="#82fffc"/>
<circle cx="613.4" cy="71.8" r="1.75" fill="#23fffb"/>
<circle cx="613.4" cy="71.8" r="0.85" fill="#82fffc"/>
<circle cx="620.2" cy="71.8" r="1.75" fill="#23fffb"/>
<circle cx="620.2" cy="71.8" r="0.85" fill="#82fffc"/>
<circle cx="627.1" cy="71.8" r="1.75" fill="#23fffb"/>
<circle cx="627.1" cy="71.8" r="0.85" fill="#82fffc"/>
<circle cx="633.9" cy="71.8" r="1.75" fill="#23fffb"/>
<circle cx="633.9" cy="71.8" r="0.85" fill="#82fffc"/>
<circle cx="640.8" cy="71.8" r="1.75" fill="#23fffb"/>
<circle cx="640.8" cy="71.8" r="0.85" fill="#82fffc"/>
<circle cx="647.6" cy="71.8" r="1.75" fill="#23fffb"/>
<circle cx="647.6" cy="71.8" r="0.85" fill="#82fffc"/>
<circle cx="490.4" cy="78.6" r="1.75" fill="#35ffe9"/>
<circle cx="490.4" cy="78.6" r="0.85" fill="#8cfff2"/>
<circle cx="497.2" cy="78.6" r="1.75" fill="#47ffd7"/>
<circle cx="497.2" cy="78.6" r="0.85" fill="#96ffe8"/>
<circle cx="504.1" cy="78.6" r="1.75" fill="#62ffbc"/>
<circle cx="504.1" cy="78.6" r="0.85" fill="#a6ffd9"/>
<circle cx="510.9" cy="78.6" r="1.75" fill="#7dffa1"/>
<circle cx="510.9" cy="78.6" r="0.85" fill="#b5ffc9"/>
<circle cx="517.8" cy="78.6" r="1.75" fill="#8fff8f"/>
<circle cx="517.8" cy="78.6" r="0.85" fill="#bfffbf"/>
<circle cx="524.6" cy="78.6" r="1.75" fill="#8fff8f"/>
<circle cx="524.6" cy="78.6" r="0.85" fill="#bfffbf"/>
<circle cx="531.4" cy="78.6" r="1.75" fill="#8fff8f"/>
<circle cx="531.4" cy="78.6" r="0.85" fill="#bfffbf"/>
<circle cx="538.2" cy="78.6" r="1.75" fill="#8fff8f"/>
<circle cx="538.2" cy="78.6" r="0.85" fill="#bfffbf"/>
<circle cx="545.1" cy="78.6" r="1.75" fill="#8fff8f"/>
<circle cx="545.1" cy="78.6" r="0.85" fill="#bfffbf"/>
<circle cx="551.9" cy="78.6" r="1.75" fill="#8fff8f"/>
<circle cx="551.9" cy="78.6" r="0.85" fill="#bfffbf"/>
<circle cx="558.8" cy="78.6" r="1.75" fill="#7dffa1"/>
<circle cx="558.8" cy="78.6" r="0.85" fill="#b5ffc9"/>
<circle cx="565.6" cy="78.6" r="1.75" fill="#62ffbc"/>
<circle cx="565.6" cy="78.6" r="0.85" fill="#a6ffd9"/>
<circle cx="572.4" cy="78.6" r="1.75" fill="#62ffbc"/>
<circle cx="572.4" cy="78.6" r="0.85" fill="#a6ffd9"/>
<circle cx="579.2" cy="78.6" r="1.75" fill="#47ffd7"/>
<circle cx="579.2" cy="78.6" r="0.85" fill="#96ffe8"/>
<circle cx="586.1" cy="78.6" r="1.75" fill="#35ffe9"/>
<circle cx="586.1" cy="78.6" r="0.85" fill="#8cfff2"/>
<circle cx="592.9" cy="78.6" r="1.75" fill="#23fffb"/>
<circle cx="592.9" cy="78.6" r="0.85" fill="#82fffc"/>
<circle cx="599.8" cy="78.6" r="1.75" fill="#23fffb"/>
<circle cx="599.8" cy="78.6" r="0.85" fill="#82fffc"/>
<circle cx="606.6" cy="78.6" r="1.75" fill="#23fffb"/>
<circle cx="606.6" cy="78.6" r="0.85" fill="#82fffc"/>
<circle cx="613.4" cy="78.6" r="1.75" fill="#23fffb"/>
<circle cx="613.4" cy="78.6" r="0.85" fill="#82fffc"/>
<circle cx="620.2" cy="78.6" r="1.75" fill="#23fffb"/>
<circle cx="620.2" cy="78.6" r="0.85" fill="#82fffc"/>
<circle cx="627.1" cy="78.6" r="1.75" fill="#23fffb"/>
<circle cx="627.1" cy="78.6" r="0.85" fill="#82fffc"/>
<circle cx="633.9" cy="78.6" r="1.75" fill="#23fffb"/>
<circle cx="633.9" cy="78.6" r="0.85" fill="#82fffc"/>
<circle cx="640.8" cy="78.6" r="1.75" fill="#23fffb"/>
<circle cx="640.8" cy="78.6" r="0.85" fill="#82fffc"/>
<circle cx="647.6" cy="78.6" r="1.75" fill="#23fffb"/>
<circle cx="647.6" cy="78.6" r="0.85" fill="#82fffc"/>
<circle cx="490.4" cy="85.4" r="1.75" fill="#1fe9ff"/>
<circle cx="490.4" cy="85.4" r="0.85" fill="#80f2ff"/>
<circle cx="497.2" cy="85.4" r="1.75" fill="#1ffbff"/>
<circle cx="497.2" cy="85.4" r="0.85" fill="#80fcff"/>
<circle cx="504.1" cy="85.4" r="1.75" fill="#23fffb"/>
<circle cx="504.1" cy="85.4" r="0.85" fill="#82fffc"/>
<circle cx="510.9" cy="85.4" r="1.75" fill="#23fffb"/>
<circle cx="510.9" cy="85.4" r="0.85" fill="#82fffc"/>
<circle cx="517.8" cy="85.4" r="1.75" fill="#23fffb"/>
<circle cx="517.8" cy="85.4" r="0.85" fill="#82fffc"/>
<circle cx="524.6" cy="85.4" r="1.75" fill="#23fffb"/>
<circle cx="524.6" cy="85.4" r="0.85" fill="#82fffc"/>
<circle cx="531.4" cy="85.4" r="1.75" fill="#35ffe9"/>
<circle cx="531.4" cy="85.4" r="0.85" fill="#8cfff2"/>
<circle cx="538.2" cy="85.4" r="1.75" fill="#35ffe9"/>
<circle cx="538.2" cy="85.4" r="0.85" fill="#8cfff2"/>
<circle cx="545.1" cy="85.4" r="1.75" fill="#35ffe9"/>
<circle cx="545.1" cy="85.4" r="0.85" fill="#8cfff2"/>
<circle cx="551.9" cy="85.4" r="1.75" fill="#47ffd7"/>
<circle cx="551.9" cy="85.4" r="0.85" fill="#96ffe8"/>
<circle cx="558.8" cy="85.4" r="1.75" fill="#47ffd7"/>
<circle cx="558.8" cy="85.4" r="0.85" fill="#96ffe8"/>
<circle cx="565.6" cy="85.4" r="1.75" fill="#35ffe9"/>
<circle cx="565.6" cy="85.4" r="0.85" fill="#8cfff2"/>
<circle cx="572.4" cy="85.4" r="1.75" fill="#23fffb"/>
<circle cx="572.4" cy="85.4" r="0.85" fill="#82fffc"/>
<circle cx="579.2" cy="85.4" r="1.75" fill="#1ffbff"/>
<circle cx="579.2" cy="85.4" r="0.85" fill="#80fcff"/>
<circle cx="586.1" cy="85.4" r="1.75" fill="#1fe9ff"/>
<circle cx="586.1" cy="85.4" r="0.85" fill="#80f2ff"/>
<circle cx="592.9" cy="85.4" r="1.75" fill="#1fd7ff"/>
<circle cx="592.9" cy="85.4" r="0.85" fill="#80e8ff"/>
<circle cx="599.8" cy="85.4" r="1.75" fill="#1fbcff"/>
<circle cx="606.6" cy="85.4" r="1.75" fill="#1faaff"/>
<circle cx="613.4" cy="85.4" r="1.75" fill="#1f98ff"/>
<circle cx="620.2" cy="85.4" r="1.75" fill="#1f86ff"/>
<circle cx="627.1" cy="85.4" r="1.75" fill="#1f86ff"/>
<circle cx="633.9" cy="85.4" r="1.75" fill="#1f86ff"/>
<circle cx="640.8" cy="85.4" r="1.75" fill="#1f86ff"/>
<circle cx="647.6" cy="85.4" r="1.75" fill="#1f86ff"/>
<circle cx="490.4" cy="92.2" r="1.75" fill="#1f74ff"/>
<circle cx="497.2" cy="92.2" r="1.75" fill="#1f74ff"/>
<circle cx="504.1" cy="92.2" r="1.75" fill="#1f8fff"/>
<circle cx="510.9" cy="92.2" r="1.75" fill="#1faaff"/>
<circle cx="517.8" cy="92.2" r="1.75" fill="#1fbcff"/>
<circle cx="524.6" cy="92.2" r="1.75" fill="#1fd7ff"/>
<circle cx="524.6" cy="92.2" r="0.85" fill="#80e8ff"/>
<circle cx="531.4" cy="92.2" r="1.75" fill="#1fe9ff"/>
<circle cx="531.4" cy="92.2" r="0.85" fill="#80f2ff"/>
<circle cx="538.2" cy="92.2" r="1.75" fill="#23fffb"/>
<circle cx="538.2" cy="92.2" r="0.85" fill="#82fffc"/>
<circle cx="545.1" cy="92.2" r="1.75" fill="#35ffe9"/>
<circle cx="545.1" cy="92.2" r="0.85" fill="#8cfff2"/>
<circle cx="551.9" cy="92.2" r="1.75" fill="#47ffd7"/>
<circle cx="551.9" cy="92.2" r="0.85" fill="#96ffe8"/>
<circle cx="558.8" cy="92.2" r="1.75" fill="#62ffbc"/>
<circle cx="558.8" cy="92.2" r="0.85" fill="#a6ffd9"/>
<circle cx="565.6" cy="92.2" r="1.75" fill="#62ffbc"/>
<circle cx="565.6" cy="92.2" r="0.85" fill="#a6ffd9"/>
<circle cx="572.4" cy="92.2" r="1.75" fill="#62ffbc"/>
<circle cx="572.4" cy="92.2" r="0.85" fill="#a6ffd9"/>
<circle cx="579.2" cy="92.2" r="1.75" fill="#62ffbc"/>
<circle cx="579.2" cy="92.2" r="0.85" fill="#a6ffd9"/>
<circle cx="586.1" cy="92.2" r="1.75" fill="#47ffd7"/>
<circle cx="586.1" cy="92.2" r="0.85" fill="#96ffe8"/>
<circle cx="592.9" cy="92.2" r="1.75" fill="#35ffe9"/>
<circle cx="592.9" cy="92.2" r="0.85" fill="#8cfff2"/>
<circle cx="599.8" cy="92.2" r="1.75" fill="#1ffbff"/>
<circle cx="599.8" cy="92.2" r="0.85" fill="#80fcff"/>
<circle cx="606.6" cy="92.2" r="1.75" fill="#1fd7ff"/>
<circle cx="606.6" cy="92.2" r="0.85" fill="#80e8ff"/>
<circle cx="613.4" cy="92.2" r="1.75" fill="#1fbcff"/>
<circle cx="620.2" cy="92.2" r="1.75" fill="#1faaff"/>
<circle cx="627.1" cy="92.2" r="1.75" fill="#1faaff"/>
<circle cx="633.9" cy="92.2" r="1.75" fill="#1faaff"/>
<circle cx="640.8" cy="92.2" r="1.75" fill="#1faaff"/>
<circle cx="647.6" cy="92.2" r="1.75" fill="#1faaff"/>
</g>
<rect x="652.9" y="34.4" width="3.9" height="61.2" fill="url(#jetg)"/>
<line x1="63.2" y1="123.0" x2="63.2" y2="159.7" stroke="#cfcfcf" stroke-width="0.8" stroke-dasharray="3 3"/>
<line x1="82.9" y1="123.0" x2="82.9" y2="159.7" stroke="#cfcfcf" stroke-width="0.8" stroke-dasharray="3 3"/>
<line x1="102.7" y1="123.0" x2="102.7" y2="159.7" stroke="#cfcfcf" stroke-width="0.8" stroke-dasharray="3 3"/>
<line x1="122.5" y1="123.0" x2="122.5" y2="159.7" stroke="#cfcfcf" stroke-width="0.8" stroke-dasharray="3 3"/>
<line x1="142.2" y1="123.0" x2="142.2" y2="159.7" stroke="#cfcfcf" stroke-width="0.8" stroke-dasharray="3 3"/>
<line x1="162.0" y1="123.0" x2="162.0" y2="159.7" stroke="#cfcfcf" stroke-width="0.8" stroke-dasharray="3 3"/>
<line x1="181.8" y1="123.0" x2="181.8" y2="159.7" stroke="#cfcfcf" stroke-width="0.8" stroke-dasharray="3 3"/>
<line x1="201.6" y1="123.0" x2="201.6" y2="159.7" stroke="#cfcfcf" stroke-width="0.8" stroke-dasharray="3 3"/>
<line x1="221.3" y1="123.0" x2="221.3" y2="159.7" stroke="#cfcfcf" stroke-width="0.8" stroke-dasharray="3 3"/>
<line x1="43.4" y1="140.3" x2="227.9" y2="140.3" stroke="#cfcfcf" stroke-width="0.8" stroke-dasharray="3 3"/>
<path d="M43.5 130.5C44.8 132.0 48.0 139.8 51.0 139.5C54.0 139.2 58.6 127.9 61.7 128.7C64.8 129.5 66.7 142.4 69.5 144.1C72.3 145.8 75.8 139.1 78.6 139.0C81.4 138.9 83.9 145.2 86.3 143.6C88.7 142.0 90.0 128.3 93.2 129.5C96.4 130.7 101.2 150.6 105.4 150.5C109.6 150.4 114.4 128.0 118.1 129.0C121.8 130.1 124.1 157.5 127.5 156.8C130.9 156.1 134.0 125.5 138.5 124.8C143.0 124.1 149.7 150.9 154.4 152.4C159.1 153.9 162.4 135.3 166.5 133.8C170.6 132.3 176.0 142.7 179.2 143.6C182.4 144.5 182.9 138.5 185.8 139.2C188.7 139.9 192.7 148.4 196.6 147.6C200.5 146.8 205.7 135.4 209.0 134.5C212.3 133.6 214.3 140.7 216.5 142.3C218.7 143.9 220.3 143.8 222.0 143.9C223.7 144.0 225.7 143.0 226.4 142.8" fill="none" stroke="#2b2bd6" stroke-width="1.25"/>
<path d="M43.4 123.0v1.8M43.4 159.7v-1.8M63.2 123.0v1.8M63.2 159.7v-1.8M82.9 123.0v1.8M82.9 159.7v-1.8M102.7 123.0v1.8M102.7 159.7v-1.8M122.5 123.0v1.8M122.5 159.7v-1.8M142.2 123.0v1.8M142.2 159.7v-1.8M162.0 123.0v1.8M162.0 159.7v-1.8M181.8 123.0v1.8M181.8 159.7v-1.8M201.6 123.0v1.8M201.6 159.7v-1.8M221.3 123.0v1.8M221.3 159.7v-1.8M43.4 123.0h1.8M227.9 123.0h-1.8M43.4 140.3h1.8M227.9 140.3h-1.8M43.4 159.7h1.8M227.9 159.7h-1.8" stroke="#333" stroke-width="1" fill="none"/>
<rect x="43.4" y="123.0" width="184.5" height="36.7" fill="none" stroke="#474747" stroke-width="1.4"/>
<line x1="289.6" y1="123.0" x2="289.6" y2="159.7" stroke="#cfcfcf" stroke-width="0.8" stroke-dasharray="3 3"/>
<line x1="309.3" y1="123.0" x2="309.3" y2="159.7" stroke="#cfcfcf" stroke-width="0.8" stroke-dasharray="3 3"/>
<line x1="329.1" y1="123.0" x2="329.1" y2="159.7" stroke="#cfcfcf" stroke-width="0.8" stroke-dasharray="3 3"/>
<line x1="348.9" y1="123.0" x2="348.9" y2="159.7" stroke="#cfcfcf" stroke-width="0.8" stroke-dasharray="3 3"/>
<line x1="368.6" y1="123.0" x2="368.6" y2="159.7" stroke="#cfcfcf" stroke-width="0.8" stroke-dasharray="3 3"/>
<line x1="388.4" y1="123.0" x2="388.4" y2="159.7" stroke="#cfcfcf" stroke-width="0.8" stroke-dasharray="3 3"/>
<line x1="408.2" y1="123.0" x2="408.2" y2="159.7" stroke="#cfcfcf" stroke-width="0.8" stroke-dasharray="3 3"/>
<line x1="428.0" y1="123.0" x2="428.0" y2="159.7" stroke="#cfcfcf" stroke-width="0.8" stroke-dasharray="3 3"/>
<line x1="447.7" y1="123.0" x2="447.7" y2="159.7" stroke="#cfcfcf" stroke-width="0.8" stroke-dasharray="3 3"/>
<line x1="269.8" y1="138.9" x2="454.3" y2="138.9" stroke="#cfcfcf" stroke-width="0.8" stroke-dasharray="3 3"/>
<path d="M269.8 157.1C270.5 155.2 272.4 148.7 273.8 145.6C275.2 142.5 276.4 140.2 278.2 138.4C279.9 136.7 282.6 135.3 284.3 135.1C286.0 134.9 286.6 135.7 288.2 137.3C289.8 139.0 291.6 145.7 293.9 145.0C296.2 144.3 299.6 134.1 301.9 133.4C304.2 132.7 305.2 142.0 307.8 140.6C310.4 139.2 313.8 122.9 317.7 124.8C321.6 126.7 326.9 151.9 331.0 152.2C335.1 152.4 338.8 127.0 342.6 126.3C346.4 125.6 350.6 146.6 353.6 148.0C356.6 149.4 358.4 138.1 360.8 134.5C363.2 130.9 366.0 126.1 368.0 126.3C370.0 126.5 371.3 132.8 372.9 135.6C374.5 138.4 375.9 142.5 377.6 143.3C379.3 144.1 381.7 141.0 383.3 140.4C384.9 139.8 385.5 141.0 387.1 140.0C388.8 139.0 390.9 134.4 393.2 134.5C395.5 134.6 398.4 140.3 400.9 140.6C403.4 140.9 406.1 137.1 408.1 136.2C410.1 135.3 410.4 133.2 413.0 135.4C415.6 137.6 420.6 149.1 423.5 149.4C426.4 149.7 428.2 140.5 430.1 137.3C432.0 134.1 432.7 130.6 434.6 130.1C436.5 129.6 439.4 132.6 441.5 134.5C443.6 136.4 445.1 138.5 447.0 141.7C448.9 144.9 452.0 151.8 453.0 153.8" fill="none" stroke="#2b2bd6" stroke-width="1.25"/>
<path d="M269.8 123.0v1.8M269.8 159.7v-1.8M289.6 123.0v1.8M289.6 159.7v-1.8M309.3 123.0v1.8M309.3 159.7v-1.8M329.1 123.0v1.8M329.1 159.7v-1.8M348.9 123.0v1.8M348.9 159.7v-1.8M368.6 123.0v1.8M368.6 159.7v-1.8M388.4 123.0v1.8M388.4 159.7v-1.8M408.2 123.0v1.8M408.2 159.7v-1.8M428.0 123.0v1.8M428.0 159.7v-1.8M447.7 123.0v1.8M447.7 159.7v-1.8M269.8 123.0h1.8M454.3 123.0h-1.8M269.8 138.9h1.8M454.3 138.9h-1.8M269.8 159.7h1.8M454.3 159.7h-1.8" stroke="#333" stroke-width="1" fill="none"/>
<rect x="269.8" y="123.0" width="184.5" height="36.7" fill="none" stroke="#474747" stroke-width="1.4"/>
<line x1="517.5" y1="123.0" x2="517.5" y2="159.7" stroke="#cfcfcf" stroke-width="0.8" stroke-dasharray="3 3"/>
<line x1="537.2" y1="123.0" x2="537.2" y2="159.7" stroke="#cfcfcf" stroke-width="0.8" stroke-dasharray="3 3"/>
<line x1="557.0" y1="123.0" x2="557.0" y2="159.7" stroke="#cfcfcf" stroke-width="0.8" stroke-dasharray="3 3"/>
<line x1="576.8" y1="123.0" x2="576.8" y2="159.7" stroke="#cfcfcf" stroke-width="0.8" stroke-dasharray="3 3"/>
<line x1="596.5" y1="123.0" x2="596.5" y2="159.7" stroke="#cfcfcf" stroke-width="0.8" stroke-dasharray="3 3"/>
<line x1="616.3" y1="123.0" x2="616.3" y2="159.7" stroke="#cfcfcf" stroke-width="0.8" stroke-dasharray="3 3"/>
<line x1="636.1" y1="123.0" x2="636.1" y2="159.7" stroke="#cfcfcf" stroke-width="0.8" stroke-dasharray="3 3"/>
<line x1="655.9" y1="123.0" x2="655.9" y2="159.7" stroke="#cfcfcf" stroke-width="0.8" stroke-dasharray="3 3"/>
<line x1="675.6" y1="123.0" x2="675.6" y2="159.7" stroke="#cfcfcf" stroke-width="0.8" stroke-dasharray="3 3"/>
<line x1="497.7" y1="137.4" x2="682.2" y2="137.4" stroke="#cfcfcf" stroke-width="0.8" stroke-dasharray="3 3"/>
<path d="M497.9 146.9C498.5 145.8 500.2 142.1 501.8 140.6C503.4 139.1 505.8 138.2 507.3 137.8C508.8 137.4 509.3 137.1 510.6 138.4C511.9 139.7 513.2 143.2 515.0 145.6C516.8 148.0 518.7 154.1 521.4 153.1C524.1 152.1 528.9 141.7 531.0 139.5C533.1 137.3 532.7 138.1 534.3 140.0C535.9 141.9 538.2 153.0 540.4 151.1C542.6 149.2 544.7 127.7 547.6 128.5C550.5 129.3 554.7 155.7 557.9 156.0C561.1 156.3 564.4 133.9 567.0 130.3C569.6 126.7 571.1 130.8 573.4 134.5C575.6 138.2 577.5 154.0 580.5 152.2C583.5 150.4 588.5 124.8 591.5 123.5C594.5 122.2 596.5 142.3 598.7 144.2C600.9 146.1 602.6 135.1 604.8 135.1C607.0 135.1 609.0 144.0 612.0 143.9C615.0 143.8 619.0 134.4 622.6 134.5C626.2 134.6 630.5 143.5 633.9 144.2C637.3 144.8 641.0 139.1 643.2 138.4C645.4 137.7 645.6 137.7 647.1 140.0C648.6 142.3 650.4 150.7 652.1 152.2C653.8 153.7 655.4 151.9 657.4 149.2C659.4 146.5 661.5 136.2 664.3 136.2C667.1 136.2 671.5 148.2 674.2 149.4C677.0 150.6 679.7 144.2 680.8 143.1" fill="none" stroke="#2b2bd6" stroke-width="1.25"/>
<path d="M497.7 123.0v1.8M497.7 159.7v-1.8M517.5 123.0v1.8M517.5 159.7v-1.8M537.2 123.0v1.8M537.2 159.7v-1.8M557.0 123.0v1.8M557.0 159.7v-1.8M576.8 123.0v1.8M576.8 159.7v-1.8M596.5 123.0v1.8M596.5 159.7v-1.8M616.3 123.0v1.8M616.3 159.7v-1.8M636.1 123.0v1.8M636.1 159.7v-1.8M655.9 123.0v1.8M655.9 159.7v-1.8M675.6 123.0v1.8M675.6 159.7v-1.8M497.7 123.0h1.8M682.2 123.0h-1.8M497.7 137.4h1.8M682.2 137.4h-1.8M497.7 159.7h1.8M682.2 159.7h-1.8" stroke="#333" stroke-width="1" fill="none"/>
<rect x="497.7" y="123.0" width="184.5" height="36.7" fill="none" stroke="#474747" stroke-width="1.4"/>
<polygon points="65.0,349.0 66.8,349.1 68.6,349.4 70.4,349.7 72.2,349.9 74.0,350.4 75.8,350.8 77.7,351.2 79.5,351.6 81.3,351.9 83.1,352.2 84.9,352.5 86.7,352.8 88.5,353.0 90.3,353.3 92.1,353.7 93.9,353.9 95.7,354.3 97.5,354.7 99.3,355.1 101.1,355.5 103.0,355.8 104.8,356.2 106.6,356.7 108.4,357.1 110.2,357.5 112.0,357.9 113.8,358.3 115.6,358.7 117.4,359.1 119.2,359.5 121.0,359.9 122.8,360.2 124.6,360.5 126.5,361.1 128.3,361.6 130.1,361.9 131.9,362.4 133.7,362.8 135.5,363.2 137.3,363.6 139.1,364.0 140.9,364.4 142.7,364.6 144.5,364.9 146.3,365.3 148.1,365.5 149.9,365.9 151.8,366.2 153.6,366.7 155.4,367.0 157.2,367.4 159.0,367.8 160.8,368.3 162.6,368.7 164.4,369.2 166.2,369.6 168.0,370.1 169.8,370.5 171.6,371.0 173.4,371.5 175.3,372.0 177.1,372.4 178.9,372.8 180.7,373.3 182.5,373.7 184.3,374.1 186.1,374.4 187.9,374.8 189.7,375.2 191.5,375.5 193.3,375.8 195.1,376.2 196.9,376.4 198.8,376.8 200.6,377.1 202.4,377.4 204.2,377.7 206.0,378.0 207.8,378.3 209.6,378.5 211.4,378.8 213.2,379.0 215.0,379.2 216.8,379.4 218.6,379.5 220.4,379.7 222.2,379.9 224.1,380.1 225.9,380.3 227.7,380.5 229.5,380.7 231.3,380.8 233.1,380.9 234.9,381.0 236.7,380.9 238.5,380.9 240.3,380.8 242.1,380.7 243.9,380.6 245.7,380.5 247.6,380.4 249.4,380.3 251.2,380.3 253.0,380.4 254.8,380.4 256.6,380.5 258.4,380.6 260.2,380.6 262.0,380.6 263.8,380.6 265.6,380.7 266.8,391.2 65.0,391.2" fill="#0c0cf2"/>
<clipPath id="densec"><polygon points="65.0,349.0 66.8,349.1 68.6,349.4 70.4,349.7 72.2,349.9 74.0,350.4 75.8,350.8 77.7,351.2 79.5,351.6 81.3,351.9 83.1,352.2 84.9,352.5 86.7,352.8 88.5,353.0 90.3,353.3 92.1,353.7 93.9,353.9 95.7,354.3 97.5,354.7 99.3,355.1 101.1,355.5 103.0,355.8 104.8,356.2 106.6,356.7 108.4,357.1 110.2,357.5 112.0,357.9 113.8,358.3 115.6,358.7 117.4,359.1 119.2,359.5 121.0,359.9 122.8,360.2 124.6,360.5 126.5,361.1 128.3,361.6 130.1,361.9 131.9,362.4 133.7,362.8 135.5,363.2 137.3,363.6 139.1,364.0 140.9,364.4 142.7,364.6 144.5,364.9 146.3,365.3 148.1,365.5 149.9,365.9 151.8,366.2 153.6,366.7 155.4,367.0 157.2,367.4 159.0,367.8 160.8,368.3 162.6,368.7 164.4,369.2 166.2,369.6 168.0,370.1 169.8,370.5 171.6,371.0 173.4,371.5 175.3,372.0 177.1,372.4 178.9,372.8 180.7,373.3 182.5,373.7 184.3,374.1 186.1,374.4 187.9,374.8 189.7,375.2 191.5,375.5 193.3,375.8 195.1,376.2 196.9,376.4 198.8,376.8 200.6,377.1 202.4,377.4 204.2,377.7 206.0,378.0 207.8,378.3 209.6,378.5 211.4,378.8 213.2,379.0 215.0,379.2 216.8,379.4 218.6,379.5 220.4,379.7 222.2,379.9 224.1,380.1 225.9,380.3 227.7,380.5 229.5,380.7 231.3,380.8 233.1,380.9 234.9,381.0 236.7,380.9 238.5,380.9 240.3,380.8 242.1,380.7 243.9,380.6 245.7,380.5 247.6,380.4 249.4,380.3 251.2,380.3 253.0,380.4 254.8,380.4 256.6,380.5 258.4,380.6 260.2,380.6 262.0,380.6 263.8,380.6 265.6,380.7 266.8,391.2 65.0,391.2"/></clipPath>
<rect x="65.0" y="229.8" width="201.8" height="161.4" fill="#fff" filter="url(#speck)" clip-path="url(#densec)" opacity="0.4"/>
<g transform="translate(65.0 391.2) scale(1.80743 0.2)"><path vector-effect="non-scaling-stroke" d="M0 -737l1 -10 1 16 1 -2 1 45 1 -41 1 69 1 -70 1 4 1 2 1 -2 1 -36 1 66 1 -20 1 16 1 -23 1 42 1 -12 1 3 1 -2 1 9 1 3 1 33 1 -27 1 -1 1 22 1 -4 1 17 1 -6 1 -22 1 31 1 -2 1 -17 1 21 1 25 1 -36 1 19 1 14 1 38 1 -23 1 -32 1 57 1 -36 1 -12 1 40 1 -9 1 10 1 3 1 1 1 45 1 41 1 32 1 -73 1 20 1 15 1 8 1 -31 1 40 1 -1 1 -22 1 19 1 21 1 -2 1 4 1 -9 1 -1 1 35 1 -9 1 4 1 23 1 -20 1 7 1 33 1 -16 1 26 1 -7 1 -3 1 -2 1 10 1 54 1 -37 1 9 1 5 1 -5 1 20 1 6 1 -7 1 10 1 -5 1 -10 1 35 1 0 1 -10 1 2 1 9 1 21 1 -26 1 2 1 -24 1 -1 1 -17 1 16 1 12 1 -6 1 5 1 -1 1 -1 1 18 1 -15 1 5 1 20 1 -19M0 -730l1 -14 1 -16 1 36 1 27 1 -4 1 -16 1 10 1 3 1 8 1 -30 1 28 1 -14 1 33 1 -21 1 -12 1 19 1 -13 1 14 1 19 1 18 1 28 1 -14 1 -68 1 60 1 12 1 -8 1 62 1 -10 1 -47 1 39 1 63 1 -44 1 -10 1 -9 1 -17 1 27 1 -2 1 31 1 -23 1 -9 1 34 1 17 1 -25 1 19 1 -28 1 55 1 -2 1 7 1 -8 1 -9 1 27 1 -11 1 33 1 -47 1 62 1 -28 1 16 1 -2 1 -22 1 57 1 0 1 -18 1 10 1 7 1 18 1 -7 1 12 1 20 1 3 1 -5 1 -12 1 23 1 -15 1 23 1 21 1 -3 1 4 1 17 1 1 1 19 1 -5 1 20 1 -2 1 8 1 -16 1 9 1 19 1 -22 1 -2 1 16 1 -3 1 12 1 -4 1 9 1 5 1 -4 1 -9 1 1 1 -17 1 5 1 -11 1 3 1 16 1 -11 1 -4 1 6 1 -10 1 0 1 14 1 7 1 -22M0 -716l1 0 1 0 1 48 1 -13 1 6 1 18 1 23 1 4 1 -45 1 3 1 48 1 -53 1 54 1 -32 1 17 1 23 1 -3 1 10 1 -16 1 4 1 -17 1 36 1 -21 1 16 1 36 1 -38 1 27 1 -29 1 22 1 -7 1 38 1 -3 1 0 1 -8 1 -8 1 18 1 -5 1 91 1 -72 1 3 1 15 1 15 1 -34 1 30 1 12 1 -27 1 30 1 21 1 5 1 -32 1 28 1 4 1 7 1 -2 1 -5 1 0 1 16 1 -15 1 -8 1 14 1 13 1 -5 1 19 1 -11 1 43 1 -16 1 28 1 -8 1 11 1 -8 1 2 1 37 1 -24 1 11 1 7 1 -3 1 -12 1 26 1 12 1 19 1 -26 1 42 1 -9 1 -4 1 -12 1 8 1 9 1 -9 1 6 1 1 1 13 1 0 1 -6 1 12 1 5 1 -15 1 8 1 24 1 -43 1 0 1 -6 1 12 1 -12 1 13 1 12 1 -8 1 8 1 5 1 1 1 13 1 -15M0 -686l1 -1 1 17 1 20 1 14 1 4 1 -7 1 -34 1 36 1 -37 1 17 1 11 1 11 1 78 1 -101 1 22 1 -8 1 -18 1 38 1 -6 1 -25 1 25 1 44 1 -58 1 34 1 -7 1 2 1 41 1 -20 1 -41 1 32 1 32 1 -1 1 -8 1 -6 1 1 1 -13 1 21 1 29 1 -7 1 -12 1 45 1 14 1 -50 1 41 1 13 1 -25 1 78 1 -33 1 26 1 -40 1 19 1 6 1 9 1 -12 1 18 1 -19 1 27 1 17 1 -25 1 27 1 32 1 -8 1 -3 1 -12 1 7 1 11 1 7 1 9 1 29 1 -29 1 11 1 13 1 -9 1 -5 1 19 1 -13 1 6 1 29 1 -14 1 15 1 -8 1 24 1 -24 1 34 1 -18 1 -12 1 35 1 -24 1 17 1 2 1 3 1 3 1 -6 1 16 1 3 1 -10 1 8 1 -9 1 -18 1 7 1 3 1 -1 1 1 1 -1 1 -6 1 2 1 -4 1 38 1 -23 1 12 1 -16M0 -659l1 4 1 29 1 1 1 42 1 -26 1 31 1 -21 1 8 1 -9 1 -16 1 22 1 -16 1 34 1 14 1 -42 1 54 1 -29 1 14 1 -17 1 16 1 2 1 13 1 -22 1 22 1 -13 1 13 1 25 1 -36 1 5 1 39 1 14 1 -10 1 5 1 -15 1 5 1 -1 1 15 1 12 1 -25 1 45 1 -19 1 21 1 -32 1 16 1 12 1 -6 1 -1 1 14 1 -8 1 0 1 16 1 10 1 -5 1 -14 1 24 1 2 1 25 1 14 1 -13 1 -1 1 0 1 18 1 -2 1 15 1 -11 1 34 1 -17 1 19 1 -18 1 25 1 -5 1 11 1 -14 1 27 1 -7 1 26 1 -22 1 14 1 -10 1 16 1 -8 1 8 1 7 1 -9 1 22 1 -13 1 25 1 -10 1 9 1 1 1 8 1 -5 1 13 1 -4 1 12 1 -17 1 -22 1 0 1 4 1 2 1 7 1 -1 1 -1 1 -1 1 4 1 4 1 -3 1 -9 1 4 1 12 1 -17M0 -634l1 39 1 -33 1 26 1 30 1 -11 1 11 1 -39 1 25 1 12 1 -23 1 39 1 -19 1 23 1 -35 1 30 1 28 1 -41 1 24 1 -16 1 0 1 22 1 35 1 -42 1 46 1 1 1 -20 1 15 1 -3 1 -9 1 42 1 -4 1 4 1 -14 1 -13 1 12 1 -8 1 7 1 53 1 -7 1 9 1 14 1 -34 1 -11 1 -6 1 -2 1 21 1 -2 1 12 1 -14 1 6 1 25 1 -12 1 33 1 -18 1 -20 1 21 1 15 1 3 1 7 1 14 1 -2 1 -10 1 24 1 1 1 6 1 0 1 9 1 0 1 15 1 -6 1 -9 1 22 1 -5 1 19 1 -1 1 1 1 -6 1 25 1 -13 1 24 1 -10 1 49 1 -2 1 -33 1 2 1 -3 1 20 1 -18 1 0 1 25 1 -21 1 18 1 10 1 30 1 -28 1 -6 1 3 1 -6 1 -12 1 6 1 8 1 1 1 -5 1 -2 1 6 1 -5 1 14 1 -3 1 -10 1 39 1 -28M0 -577l1 -26 1 2 1 3 1 38 1 -39 1 6 1 64 1 -41 1 -11 1 7 1 22 1 4 1 12 1 -17 1 -22 1 31 1 -28 1 27 1 -32 1 34 1 7 1 -24 1 17 1 7 1 4 1 10 1 2 1 -15 1 23 1 -9 1 15 1 -10 1 16 1 -10 1 -10 1 22 1 -9 1 20 1 33 1 -36 1 15 1 -8 1 -9 1 50 1 -53 1 10 1 -1 1 17 1 21 1 -1 1 -18 1 15 1 38 1 -17 1 2 1 5 1 23 1 -29 1 1 1 18 1 51 1 -30 1 7 1 6 1 5 1 0 1 23 1 -7 1 -3 1 2 1 -2 1 10 1 13 1 2 1 2 1 5 1 -10 1 36 1 -6 1 -17 1 10 1 7 1 25 1 -9 1 12 1 -20 1 9 1 -5 1 13 1 8 1 -16 1 20 1 2 1 12 1 -17 1 -7 1 8 1 22 1 -40 1 7 1 5 1 -4 1 14 1 0 1 -3 1 0 1 -11 1 10 1 13 1 1 1 -3M0 -542l1 -9 1 -10 1 32 1 -15 1 -2 1 -19 1 17 1 9 1 9 1 4 1 0 1 -4 1 -8 1 26 1 -14 1 47 1 -30 1 -4 1 3 1 55 1 -40 1 1 1 -12 1 13 1 10 1 -10 1 16 1 11 1 7 1 -20 1 25 1 -4 1 -11 1 0 1 31 1 -17 1 11 1 3 1 2 1 11 1 17 1 -5 1 -11 1 4 1 7 1 7 1 -5 1 13 1 -9 1 22 1 -11 1 0 1 11 1 11 1 2 1 19 1 12 1 -6 1 -6 1 26 1 11 1 -10 1 -5 1 -8 1 33 1 -10 1 22 1 -15 1 25 1 0 1 -6 1 14 1 8 1 -13 1 7 1 15 1 -4 1 4 1 13 1 -9 1 2 1 2 1 4 1 1 1 5 1 -3 1 11 1 -3 1 -10 1 14 1 14 1 -14 1 11 1 3 1 8 1 -9 1 -4 1 -11 1 1 1 1 1 -3 1 10 1 -4 1 -4 1 7 1 -11 1 5 1 3 1 6 1 8 1 -22M0 -508l1 -21 1 13 1 33 1 39 1 -51 1 7 1 6 1 -15 1 -10 1 -2 1 22 1 1 1 1 1 -26 1 34 1 20 1 -41 1 26 1 -5 1 3 1 18 1 17 1 -21 1 -8 1 76 1 -39 1 -2 1 -24 1 28 1 -4 1 20 1 -19 1 3 1 6 1 -7 1 37 1 -14 1 19 1 -10 1 -17 1 18 1 7 1 -9 1 4 1 14 1 -7 1 25 1 -22 1 49 1 -44 1 17 1 -10 1 12 1 -1 1 9 1 3 1 12 1 30 1 -30 1 13 1 9 1 -10 1 0 1 28 1 -11 1 -10 1 22 1 2 1 11 1 -1 1 -19 1 24 1 -12 1 5 1 11 1 3 1 -14 1 39 1 -36 1 19 1 4 1 10 1 -5 1 10 1 12 1 7 1 -17 1 14 1 -12 1 18 1 -9 1 0 1 3 1 10 1 3 1 -7 1 -4 1 15 1 -18 1 -11 1 8 1 -4 1 21 1 -20 1 9 1 -6 1 -10 1 16 1 1 1 19 1 -22M0 -432l1 23 1 -13 1 28 1 29 1 -36 1 3 1 -1 1 28 1 -37 1 17 1 -3 1 24 1 4 1 12 1 -21 1 11 1 4 1 21 1 -12 1 2 1 2 1 16 1 -34 1 25 1 9 1 -16 1 24 1 -14 1 26 1 -11 1 3 1 -12 1 6 1 -2 1 16 1 8 1 -16 1 22 1 -15 1 -9 1 20 1 3 1 -15 1 24 1 -4 1 -8 1 13 1 0 1 8 1 -19 1 24 1 6 1 9 1 -8 1 2 1 0 1 13 1 -11 1 -3 1 9 1 13 1 9 1 6 1 2 1 7 1 7 1 7 1 17 1 -8 1 -6 1 -5 1 13 1 17 1 -29 1 32 1 1 1 -35 1 18 1 0 1 3 1 1 1 0 1 -1 1 -2 1 7 1 -5 1 14 1 -13 1 11 1 3 1 4 1 -4 1 17 1 -8 1 4 1 -9 1 1 1 9 1 -21 1 7 1 1 1 0 1 3 1 2 1 -11 1 8 1 -9 1 2 1 9 1 2 1 -11M0 -279l1 -13 1 -11 1 18 1 0 1 13 1 -18 1 -2 1 6 1 -3 1 3 1 20 1 -16 1 16 1 -6 1 6 1 8 1 19 1 -26 1 -1 1 8 1 5 1 10 1 -10 1 11 1 -3 1 6 1 9 1 -1 1 1 1 -2 1 17 1 -8 1 11 1 -4 1 -1 1 5 1 -1 1 12 1 9 1 -23 1 17 1 6 1 -5 1 -6 1 2 1 5 1 2 1 13 1 1 1 -7 1 8 1 -7 1 5 1 -4 1 16 1 8 1 0 1 -3 1 -3 1 13 1 2 1 -4 1 7 1 4 1 3 1 -1 1 10 1 -4 1 5 1 1 1 -4 1 13 1 -3 1 -6 1 13 1 2 1 -5 1 9 1 -1 1 3 1 -5 1 4 1 3 1 1 1 1 1 -1 1 3 1 2 1 -3 1 9 1 3 1 1 1 3 1 6 1 -3 1 -1 1 -3 1 2 1 -7 1 -1 1 2 1 1 1 -2 1 5 1 -3 1 -2 1 0 1 -3 1 6 1 0 1 -3M0 -316l1 -11 1 12 1 7 1 19 1 -22 1 5 1 17 1 4 1 -15 1 7 1 3 1 -4 1 38 1 -45 1 18 1 0 1 -2 1 0 1 5 1 10 1 15 1 1 1 -2 1 -4 1 -10 1 10 1 0 1 -12 1 3 1 6 1 16 1 -9 1 18 1 -6 1 5 1 1 1 7 1 7 1 -2 1 -17 1 15 1 10 1 -10 1 17 1 -9 1 3 1 -3 1 6 1 -4 1 -2 1 -5 1 15 1 10 1 -13 1 12 1 6 1 -6 1 6 1 4 1 9 1 1 1 5 1 -2 1 7 1 6 1 -4 1 25 1 -12 1 2 1 -9 1 7 1 19 1 4 1 -5 1 9 1 -3 1 -2 1 7 1 3 1 3 1 -5 1 2 1 1 1 7 1 -5 1 0 1 14 1 -14 1 3 1 3 1 3 1 1 1 2 1 5 1 -3 1 4 1 -12 1 -1 1 -6 1 0 1 11 1 -4 1 -1 1 2 1 -1 1 -2 1 -5 1 0 1 3 1 10 1 -9M0 -440l1 21 1 -8 1 -8 1 44 1 -56 1 29 1 5 1 9 1 -30 1 7 1 -1 1 11 1 21 1 -18 1 3 1 35 1 -32 1 -6 1 14 1 5 1 -6 1 32 1 2 1 20 1 -15 1 -5 1 8 1 4 1 -22 1 6 1 8 1 25 1 -2 1 -15 1 -1 1 13 1 -3 1 6 1 12 1 -17 1 18 1 -5 1 -4 1 10 1 10 1 -15 1 -5 1 -4 1 39 1 -33 1 9 1 0 1 18 1 -13 1 4 1 20 1 -1 1 4 1 -14 1 20 1 9 1 -12 1 16 1 -9 1 -1 1 -7 1 13 1 3 1 -2 1 8 1 1 1 13 1 -4 1 7 1 3 1 -5 1 4 1 17 1 -1 1 9 1 -6 1 15 1 -1 1 2 1 -7 1 0 1 7 1 -11 1 2 1 21 1 -9 1 1 1 0 1 19 1 -8 1 0 1 1 1 5 1 -20 1 8 1 1 1 -10 1 10 1 -5 1 18 1 -14 1 -1 1 3 1 5 1 5 1 -10M0 -501l1 2 1 -1 1 8 1 -7 1 -15 1 15 1 -9 1 5 1 7 1 1 1 29 1 -48 1 12 1 11 1 11 1 4 1 -12 1 8 1 10 1 -20 1 24 1 19 1 18 1 -33 1 1 1 10 1 16 1 -25 1 13 1 -7 1 19 1 7 1 -8 1 3 1 10 1 -6 1 12 1 28 1 46 1 -56 1 15 1 -9 1 4 1 9 1 9 1 -18 1 17 1 20 1 -8 1 -11 1 20 1 5 1 1 1 10 1 12 1 -13 1 4 1 7 1 -1 1 16 1 -10 1 -1 1 20 1 -7 1 17 1 -3 1 13 1 8 1 0 1 8 1 -3 1 6 1 -7 1 6 1 1 1 8 1 3 1 2 1 21 1 -7 1 -1 1 8 1 -2 1 4 1 -1 1 8 1 0 1 7 1 20 1 -17 1 -4 1 7 1 -1 1 11 1 -3 1 -16 1 -4 1 2 1 -3 1 -9 1 5 1 16 1 -27 1 21 1 -13 1 13 1 -15 1 10 1 0 1 4 1 -11M0 -220l1 18 1 -4 1 8 1 9 1 -18 1 12 1 7 1 -11 1 7 1 -1 1 9 1 -3 1 10 1 -6 1 -3 1 16 1 -9 1 0 1 4 1 -4 1 7 1 5 1 -1 1 7 1 9 1 -6 1 18 1 -16 1 7 1 6 1 6 1 2 1 0 1 -8 1 5 1 5 1 -6 1 5 1 20 1 -15 1 -3 1 5 1 -5 1 4 1 4 1 5 1 11 1 -13 1 5 1 -3 1 10 1 -1 1 5 1 -4 1 7 1 -1 1 7 1 -1 1 2 1 1 1 8 1 0 1 1 1 3 1 5 1 -4 1 4 1 0 1 6 1 0 1 -1 1 7 1 -3 1 3 1 4 1 -1 1 1 1 1 1 -1 1 5 1 1 1 2 1 3 1 -2 1 1 1 2 1 -1 1 -2 1 3 1 -1 1 1 1 0 1 0 1 0 1 0 1 1 1 -2 1 -3 1 -3 1 1 1 -3 1 6 1 0 1 -3 1 0 1 1 1 1 1 -1 1 0 1 5 1 -3M0 -321l1 4 1 -5 1 16 1 -2 1 0 1 2 1 0 1 9 1 -24 1 13 1 4 1 13 1 -16 1 -14 1 26 1 -5 1 4 1 6 1 1 1 8 1 0 1 17 1 -8 1 -10 1 19 1 3 1 1 1 13 1 -2 1 -2 1 19 1 -8 1 5 1 -5 1 10 1 -7 1 4 1 8 1 13 1 -13 1 11 1 -2 1 -3 1 15 1 0 1 -3 1 0 1 -6 1 0 1 -1 1 6 1 15 1 2 1 0 1 -9 1 6 1 3 1 14 1 -5 1 8 1 3 1 14 1 -18 1 0 1 17 1 -9 1 9 1 1 1 -4 1 5 1 -7 1 7 1 -4 1 3 1 9 1 -3 1 1 1 3 1 3 1 7 1 -9 1 11 1 12 1 -3 1 -4 1 3 1 5 1 -6 1 6 1 4 1 -9 1 17 1 -5 1 1 1 0 1 -4 1 -6 1 3 1 -4 1 -3 1 6 1 9 1 -6 1 -10 1 3 1 5 1 1 1 -2 1 3 1 3 1 -2M0 -425l1 5 1 5 1 -8 1 2 1 14 1 -16 1 8 1 -1 1 -12 1 6 1 24 1 -18 1 20 1 -9 1 15 1 -2 1 11 1 -4 1 -7 1 -17 1 27 1 8 1 2 1 5 1 -9 1 -11 1 28 1 -5 1 1 1 -1 1 21 1 3 1 16 1 -37 1 24 1 -2 1 -16 1 27 1 14 1 -33 1 29 1 -4 1 -4 1 12 1 4 1 -1 1 11 1 -5 1 -5 1 0 1 14 1 6 1 13 1 -1 1 -7 1 1 1 25 1 1 1 -18 1 15 1 0 1 2 1 -8 1 8 1 22 1 -7 1 5 1 14 1 11 1 0 1 -6 1 16 1 -9 1 21 1 1 1 0 1 -6 1 18 1 -12 1 8 1 1 1 -1 1 0 1 9 1 -2 1 -7 1 13 1 -9 1 -1 1 12 1 -9 1 -1 1 9 1 4 1 -8 1 5 1 -6 1 1 1 -1 1 -5 1 2 1 7 1 -1 1 -6 1 1 1 2 1 1 1 -4 1 -1 1 17 1 -20M0 -340l1 -16 1 9 1 -9 1 16 1 -6 1 4 1 11 1 -9 1 -23 1 24 1 -6 1 0 1 5 1 -7 1 8 1 7 1 2 1 -3 1 -3 1 -4 1 17 1 2 1 -1 1 20 1 -7 1 -11 1 32 1 -25 1 12 1 0 1 6 1 5 1 -3 1 3 1 -1 1 -4 1 25 1 5 1 2 1 -7 1 24 1 -10 1 -9 1 12 1 -2 1 15 1 -10 1 14 1 2 1 -13 1 19 1 -2 1 6 1 1 1 9 1 -7 1 18 1 -8 1 -7 1 26 1 2 1 -3 1 13 1 -11 1 2 1 9 1 2 1 2 1 1 1 4 1 -3 1 2 1 0 1 3 1 6 1 -5 1 5 1 5 1 4 1 6 1 -3 1 -2 1 8 1 1 1 14 1 -16 1 10 1 6 1 -13 1 8 1 -11 1 3 1 2 1 4 1 8 1 -17 1 9 1 -2 1 -12 1 3 1 -4 1 2 1 0 1 5 1 -4 1 -5 1 -7 1 12 1 0 1 6 1 -5M0 -200l1 -4 1 1 1 11 1 -7 1 3 1 6 1 9 1 -10 1 -3 1 8 1 2 1 6 1 2 1 3 1 7 1 5 1 -4 1 -7 1 25 1 -22 1 13 1 -2 1 -6 1 -2 1 3 1 7 1 7 1 7 1 -10 1 -1 1 7 1 2 1 3 1 -2 1 6 1 -4 1 3 1 6 1 0 1 -3 1 8 1 0 1 6 1 3 1 1 1 0 1 8 1 -9 1 6 1 -2 1 0 1 5 1 4 1 6 1 -1 1 5 1 3 1 8 1 -3 1 5 1 6 1 -4 1 13 1 -5 1 -1 1 0 1 3 1 5 1 4 1 -2 1 -2 1 2 1 3 1 1 1 3 1 -2 1 3 1 2 1 -3 1 1 1 3 1 0 1 -2 1 4 1 3 1 -4 1 6 1 -2 1 1 1 4 1 0 1 3 1 -2 1 3 1 1 1 -4 1 -1 1 1 1 -4 1 1 1 -2 1 3 1 -1 1 0 1 -2 1 1 1 0 1 1 1 -2 1 0 1 0M0 -374l1 -13 1 -3 1 33 1 2 1 7 1 -6 1 5 1 -9 1 10 1 1 1 9 1 -23 1 65 1 -48 1 -1 1 12 1 7 1 -9 1 39 1 -41 1 5 1 -2 1 -11 1 14 1 13 1 -15 1 31 1 -11 1 1 1 -2 1 22 1 5 1 31 1 -36 1 1 1 10 1 -9 1 20 1 2 1 -12 1 5 1 23 1 -37 1 -9 1 11 1 23 1 -3 1 -6 1 9 1 7 1 -9 1 -9 1 13 1 6 1 -2 1 -7 1 5 1 4 1 -9 1 10 1 12 1 0 1 10 1 7 1 1 1 -4 1 4 1 -15 1 13 1 15 1 -10 1 18 1 -3 1 -5 1 -1 1 10 1 2 1 0 1 0 1 17 1 -6 1 10 1 -9 1 9 1 2 1 -5 1 8 1 4 1 7 1 5 1 -19 1 6 1 4 1 9 1 5 1 -10 1 -6 1 -4 1 5 1 2 1 -6 1 -3 1 -4 1 -9 1 29 1 -19 1 -6 1 9 1 0 1 8 1 -12M0 -217l1 -14 1 19 1 -7 1 5 1 11 1 4 1 7 1 -3 1 6 1 -14 1 10 1 -1 1 0 1 -2 1 -1 1 10 1 -3 1 -5 1 -3 1 5 1 8 1 -3 1 5 1 5 1 4 1 -9 1 17 1 -5 1 7 1 0 1 6 1 -8 1 11 1 -3 1 24 1 -1 1 -17 1 13 1 -4 1 19 1 -17 1 2 1 0 1 5 1 0 1 5 1 3 1 1 1 0 1 1 1 1 1 3 1 -2 1 2 1 5 1 1 1 -4 1 10 1 3 1 1 1 6 1 -2 1 1 1 5 1 4 1 -2 1 4 1 4 1 1 1 2 1 4 1 4 1 1 1 0 1 -1 1 2 1 -2 1 5 1 3 1 -4 1 5 1 1 1 -2 1 3 1 -2 1 3 1 1 1 0 1 1 1 1 1 -1 1 5 1 0 1 3 1 1 1 -3 1 -3 1 -1 1 3 1 -2 1 2 1 0 1 3 1 -3 1 -1 1 2 1 -3 1 2 1 6 1 -2 1 -2M0 -214l1 -10 1 15 1 8 1 8 1 -2 1 -1 1 12 1 -1 1 0 1 -4 1 5 1 -7 1 1 1 -5 1 14 1 -1 1 0 1 12 1 -11 1 1 1 7 1 6 1 -8 1 10 1 -3 1 0 1 8 1 -8 1 4 1 10 1 1 1 -4 1 2 1 -6 1 -2 1 4 1 5 1 8 1 8 1 -10 1 13 1 -1 1 -1 1 3 1 3 1 0 1 10 1 -1 1 6 1 -5 1 1 1 3 1 -2 1 4 1 3 1 0 1 7 1 -2 1 -4 1 9 1 -8 1 3 1 8 1 -2 1 7 1 -4 1 8 1 0 1 -1 1 2 1 0 1 6 1 0 1 4 1 3 1 2 1 -1 1 11 1 -12 1 8 1 3 1 -2 1 7 1 -3 1 4 1 -3 1 6 1 -1 1 1 1 1 1 1 1 3 1 0 1 4 1 0 1 2 1 -3 1 -3 1 -2 1 -3 1 1 1 4 1 -3 1 3 1 -3 1 3 1 -4 1 3 1 -1 1 2 1 -2M0 -204l1 2 1 -4 1 1 1 5 1 -7 1 -1 1 13 1 0 1 -3 1 8 1 -1 1 7 1 8 1 1 1 3 1 2 1 4 1 0 1 1 1 0 1 -1 1 6 1 -2 1 5 1 -3 1 -2 1 17 1 -10 1 0 1 6 1 7 1 3 1 -4 1 -1 1 7 1 1 1 15 1 -4 1 8 1 -7 1 9 1 -5 1 2 1 4 1 -1 1 4 1 -4 1 5 1 3 1 -3 1 4 1 3 1 18 1 -12 1 4 1 1 1 6 1 -3 1 -2 1 6 1 2 1 -2 1 7 1 -1 1 4 1 1 1 0 1 4 1 -3 1 1 1 -1 1 8 1 -2 1 2 1 2 1 -3 1 -2 1 7 1 1 1 4 1 -3 1 0 1 2 1 1 1 -1 1 7 1 -1 1 -3 1 3 1 3 1 -1 1 0 1 2 1 0 1 1 1 -2 1 -3 1 -3 1 1 1 -2 1 1 1 -1 1 2 1 1 1 -3 1 1 1 0 1 0 1 1 1 2 1 0M0 -321l1 -10 1 -4 1 9 1 11 1 1 1 -10 1 11 1 4 1 -10 1 22 1 -8 1 0 1 14 1 -20 1 22 1 15 1 -21 1 8 1 -16 1 8 1 -5 1 10 1 4 1 11 1 -8 1 13 1 -7 1 -1 1 -11 1 14 1 9 1 -15 1 8 1 -7 1 5 1 23 1 -19 1 26 1 0 1 -4 1 -3 1 -3 1 2 1 2 1 -16 1 4 1 10 1 32 1 -34 1 2 1 31 1 -10 1 7 1 -9 1 0 1 3 1 5 1 -1 1 -7 1 12 1 6 1 8 1 -10 1 5 1 6 1 8 1 -1 1 9 1 -4 1 13 1 -7 1 8 1 -4 1 12 1 15 1 -7 1 4 1 4 1 0 1 5 1 0 1 6 1 -3 1 5 1 -5 1 -8 1 15 1 -6 1 0 1 12 1 -3 1 7 1 -3 1 8 1 1 1 -7 1 -3 1 6 1 -6 1 -8 1 5 1 -2 1 6 1 -2 1 19 1 -15 1 3 1 1 1 -2 1 6 1 -3M0 -314l1 12 1 -18 1 21 1 -5 1 9 1 0 1 -7 1 1 1 -11 1 26 1 3 1 5 1 -14 1 4 1 -1 1 22 1 -1 1 9 1 -18 1 -7 1 7 1 4 1 13 1 -15 1 15 1 -15 1 18 1 3 1 -9 1 6 1 1 1 1 1 -4 1 -4 1 20 1 -13 1 13 1 9 1 -16 1 5 1 14 1 -5 1 -2 1 6 1 0 1 -8 1 14 1 -3 1 3 1 -7 1 15 1 -11 1 22 1 -2 1 5 1 -5 1 1 1 2 1 5 1 0 1 -2 1 6 1 12 1 -3 1 12 1 -12 1 9 1 5 1 2 1 5 1 -11 1 25 1 4 1 -15 1 16 1 1 1 1 1 -2 1 3 1 2 1 -3 1 5 1 1 1 2 1 8 1 -8 1 1 1 5 1 -6 1 3 1 -1 1 4 1 3 1 4 1 2 1 -7 1 -8 1 16 1 -12 1 1 1 -3 1 10 1 -1 1 7 1 -5 1 -1 1 -1 1 5 1 -1 1 0 1 0M0 -378l1 -11 1 20 1 -3 1 9 1 9 1 -10 1 2 1 13 1 -11 1 11 1 17 1 -16 1 55 1 -58 1 37 1 -14 1 2 1 16 1 -16 1 8 1 -8 1 16 1 -9 1 14 1 -17 1 15 1 16 1 -28 1 5 1 20 1 15 1 -17 1 3 1 -4 1 -13 1 26 1 -15 1 13 1 12 1 -19 1 9 1 6 1 -10 1 43 1 -28 1 -1 1 -9 1 6 1 1 1 4 1 0 1 -10 1 22 1 -8 1 18 1 -11 1 25 1 -6 1 15 1 -10 1 8 1 -10 1 2 1 5 1 -8 1 5 1 9 1 5 1 5 1 -15 1 2 1 18 1 13 1 -11 1 6 1 12 1 -9 1 2 1 -7 1 11 1 -1 1 2 1 3 1 3 1 9 1 -3 1 1 1 13 1 -12 1 8 1 6 1 9 1 -9 1 8 1 3 1 -11 1 -6 1 4 1 -4 1 -9 1 4 1 -2 1 -1 1 7 1 -4 1 -2 1 8 1 -2 1 -3 1 27 1 -26M0 -326l1 7 1 2 1 7 1 4 1 13 1 2 1 -2 1 7 1 -16 1 17 1 6 1 -1 1 11 1 -15 1 15 1 -5 1 -6 1 27 1 -24 1 25 1 -10 1 12 1 -2 1 -5 1 5 1 -9 1 3 1 4 1 -5 1 -3 1 12 1 0 1 0 1 10 1 -4 1 -1 1 2 1 20 1 -12 1 5 1 15 1 -7 1 2 1 -4 1 -2 1 24 1 -12 1 28 1 -30 1 14 1 -4 1 0 1 2 1 -10 1 12 1 -13 1 8 1 9 1 -8 1 8 1 13 1 1 1 1 1 5 1 2 1 1 1 8 1 13 1 -7 1 2 1 -6 1 11 1 6 1 2 1 -7 1 7 1 4 1 0 1 4 1 9 1 -6 1 7 1 -1 1 3 1 1 1 2 1 -2 1 9 1 -8 1 6 1 -1 1 1 1 7 1 0 1 6 1 -12 1 6 1 0 1 -4 1 -5 1 -1 1 5 1 -3 1 12 1 -11 1 -3 1 3 1 -5 1 3 1 5 1 -12M0 -325l1 -37 1 7 1 4 1 -4 1 1 1 -5 1 -1 1 29 1 -24 1 15 1 -1 1 15 1 -8 1 -4 1 9 1 20 1 -15 1 10 1 -24 1 15 1 8 1 -6 1 26 1 -15 1 3 1 -5 1 9 1 6 1 -34 1 24 1 4 1 0 1 11 1 -10 1 9 1 -6 1 11 1 -8 1 0 1 -14 1 38 1 -23 1 7 1 -10 1 20 1 -2 1 16 1 -22 1 -2 1 0 1 23 1 -18 1 24 1 4 1 -18 1 2 1 2 1 10 1 -16 1 7 1 16 1 -8 1 -3 1 -5 1 13 1 21 1 -14 1 13 1 11 1 -11 1 6 1 14 1 -8 1 4 1 -6 1 7 1 7 1 9 1 -2 1 10 1 -5 1 -3 1 17 1 3 1 4 1 -5 1 9 1 4 1 -4 1 -4 1 1 1 -5 1 12 1 -6 1 11 1 -11 1 0 1 0 1 -6 1 -5 1 0 1 -2 1 4 1 0 1 10 1 -1 1 3 1 -3 1 5 1 3 1 -2M0 -226l1 6 1 2 1 -8 1 18 1 5 1 -10 1 0 1 14 1 -7 1 4 1 -3 1 8 1 7 1 -15 1 -3 1 12 1 -1 1 8 1 -12 1 4 1 4 1 3 1 -7 1 8 1 5 1 -5 1 14 1 -11 1 6 1 9 1 3 1 5 1 -3 1 6 1 7 1 -5 1 2 1 22 1 -17 1 -3 1 9 1 4 1 7 1 -8 1 4 1 7 1 -1 1 -1 1 2 1 3 1 5 1 1 1 2 1 7 1 -3 1 1 1 4 1 6 1 0 1 2 1 9 1 1 1 2 1 5 1 -5 1 4 1 2 1 0 1 6 1 -2 1 2 1 7 1 -1 1 3 1 2 1 0 1 1 1 2 1 -2 1 5 1 1 1 1 1 1 1 1 1 2 1 0 1 3 1 -1 1 0 1 3 1 1 1 1 1 0 1 3 1 2 1 -3 1 -2 1 -3 1 2 1 -3 1 0 1 -1 1 -1 1 2 1 0 1 -1 1 3 1 -3 1 3 1 1 1 -1M0 -202l1 -2 1 11 1 0 1 15 1 -9 1 10 1 12 1 -15 1 3 1 -4 1 12 1 4 1 8 1 -20 1 10 1 0 1 -3 1 1 1 3 1 -2 1 4 1 11 1 -2 1 6 1 -4 1 -4 1 26 1 -16 1 1 1 5 1 0 1 -3 1 2 1 9 1 1 1 -5 1 4 1 11 1 -1 1 -8 1 8 1 0 1 4 1 -1 1 1 1 0 1 4 1 1 1 -3 1 -1 1 6 1 4 1 9 1 -2 1 5 1 0 1 5 1 7 1 -8 1 4 1 7 1 -3 1 4 1 3 1 -1 1 2 1 1 1 1 1 2 1 -3 1 4 1 4 1 -3 1 4 1 1 1 0 1 2 1 2 1 2 1 1 1 2 1 0 1 4 1 -1 1 1 1 3 1 4 1 -5 1 -1 1 6 1 -2 1 2 1 1 1 2 1 -1 1 -2 1 -2 1 0 1 -5 1 -1 1 4 1 -1 1 2 1 -2 1 -1 1 3 1 -3 1 3 1 0 1 2 1 -5M0 -197l1 -21 1 5 1 6 1 3 1 -7 1 23 1 -8 1 7 1 -7 1 4 1 5 1 9 1 3 1 -8 1 1 1 2 1 -4 1 12 1 -8 1 8 1 10 1 8 1 -8 1 2 1 2 1 -4 1 8 1 0 1 2 1 10 1 2 1 4 1 -1 1 -2 1 -4 1 6 1 8 1 -5 1 3 1 -6 1 8 1 -1 1 13 1 -3 1 -12 1 12 1 6 1 -6 1 4 1 -4 1 2 1 6 1 2 1 -3 1 7 1 0 1 4 1 7 1 1 1 0 1 0 1 -1 1 3 1 4 1 3 1 2 1 -2 1 6 1 2 1 0 1 -3 1 8 1 2 1 -2 1 1 1 2 1 1 1 1 1 3 1 3 1 2 1 -1 1 1 1 5 1 -1 1 -2 1 9 1 -5 1 1 1 4 1 -1 1 0 1 4 1 -1 1 2 1 -5 1 -1 1 -1 1 -2 1 -2 1 1 1 3 1 -2 1 3 1 -3 1 1 1 1 1 5 1 -3 1 6 1 -7M0 -324l1 -3 1 -4 1 5 1 28 1 5 1 -32 1 1 1 5 1 8 1 0 1 -15 1 13 1 12 1 -5 1 18 1 3 1 -10 1 26 1 -25 1 11 1 -19 1 25 1 -21 1 30 1 1 1 -9 1 5 1 -3 1 -2 1 10 1 17 1 -15 1 4 1 5 1 11 1 8 1 6 1 16 1 -12 1 -14 1 20 1 0 1 -4 1 4 1 -1 1 10 1 -8 1 0 1 2 1 5 1 12 1 -12 1 6 1 2 1 1 1 7 1 8 1 -1 1 -12 1 15 1 4 1 -3 1 5 1 -7 1 11 1 -10 1 10 1 30 1 -20 1 -3 1 1 1 11 1 12 1 -8 1 7 1 -7 1 6 1 7 1 -3 1 7 1 -3 1 17 1 -10 1 -3 1 -3 1 4 1 0 1 -1 1 2 1 4 1 -6 1 2 1 7 1 0 1 -5 1 -12 1 9 1 1 1 -11 1 1 1 8 1 -2 1 6 1 -10 1 2 1 -9 1 16 1 -16 1 1 1 11 1 -14M0 -229l1 5 1 -5 1 4 1 8 1 -16 1 23 1 -13 1 20 1 -12 1 2 1 6 1 -4 1 8 1 0 1 5 1 3 1 -4 1 -1 1 -6 1 17 1 -6 1 24 1 -19 1 -2 1 18 1 -2 1 5 1 3 1 -7 1 4 1 15 1 -12 1 6 1 3 1 -5 1 8 1 -2 1 9 1 -3 1 -1 1 18 1 -6 1 4 1 -6 1 8 1 -5 1 1 1 3 1 5 1 0 1 1 1 9 1 7 1 -3 1 6 1 3 1 5 1 0 1 -1 1 9 1 0 1 0 1 2 1 6 1 -2 1 3 1 11 1 -7 1 3 1 -1 1 -1 1 12 1 -5 1 -1 1 4 1 2 1 1 1 5 1 -1 1 3 1 0 1 -1 1 2 1 3 1 -1 1 3 1 1 1 -5 1 2 1 4 1 -3 1 2 1 3 1 0 1 2 1 -6 1 -1 1 4 1 -7 1 -1 1 0 1 0 1 1 1 0 1 -2 1 0 1 2 1 -2 1 2 1 10 1 -10M0 -185l1 0 1 11 1 5 1 -3 1 7 1 -9 1 8 1 -2 1 -5 1 2 1 8 1 -3 1 4 1 -2 1 6 1 1 1 3 1 0 1 -5 1 -3 1 14 1 3 1 8 1 -5 1 2 1 0 1 6 1 -7 1 3 1 7 1 0 1 5 1 1 1 -1 1 5 1 3 1 -3 1 12 1 11 1 -11 1 3 1 -4 1 -2 1 5 1 -2 1 16 1 -10 1 1 1 0 1 3 1 6 1 4 1 2 1 -1 1 1 1 4 1 2 1 2 1 0 1 4 1 -3 1 4 1 3 1 1 1 0 1 2 1 -1 1 4 1 7 1 -5 1 3 1 2 1 -2 1 2 1 3 1 -1 1 2 1 4 1 -3 1 2 1 0 1 2 1 -1 1 2 1 0 1 3 1 -1 1 1 1 1 1 1 1 1 1 0 1 2 1 0 1 2 1 -3 1 0 1 -2 1 -1 1 -1 1 0 1 0 1 -1 1 1 1 -1 1 -1 1 2 1 0 1 0 1 1 1 1M0 -272l1 -20 1 -1 1 18 1 -1 1 1 1 -1 1 9 1 -4 1 8 1 2 1 1 1 -3 1 16 1 -8 1 1 1 8 1 -13 1 17 1 5 1 -4 1 6 1 21 1 -34 1 12 1 14 1 -11 1 8 1 -20 1 1 1 12 1 -1 1 -8 1 16 1 -9 1 6 1 1 1 7 1 10 1 -13 1 -4 1 14 1 0 1 -13 1 2 1 8 1 19 1 -13 1 5 1 -1 1 3 1 8 1 0 1 9 1 -5 1 13 1 -10 1 11 1 -2 1 -2 1 18 1 -3 1 5 1 6 1 7 1 3 1 -4 1 3 1 5 1 1 1 5 1 6 1 6 1 -7 1 -2 1 9 1 -1 1 -3 1 3 1 7 1 5 1 -3 1 2 1 4 1 2 1 -1 1 2 1 7 1 1 1 -2 1 6 1 3 1 -1 1 3 1 0 1 5 1 -7 1 2 1 -3 1 -4 1 5 1 -4 1 -4 1 5 1 -9 1 6 1 -7 1 11 1 -1 1 1 1 3 1 -4M0 -358l1 -10 1 1 1 14 1 -8 1 -11 1 5 1 22 1 -16 1 -10 1 -8 1 6 1 21 1 6 1 -25 1 14 1 13 1 1 1 3 1 -18 1 -7 1 -8 1 53 1 -28 1 31 1 5 1 -15 1 17 1 -3 1 -18 1 36 1 0 1 14 1 -5 1 -16 1 8 1 4 1 -10 1 22 1 -6 1 2 1 -3 1 31 1 -34 1 24 1 -19 1 16 1 10 1 -1 1 -4 1 -5 1 9 1 -10 1 27 1 -30 1 7 1 9 1 34 1 -25 1 -12 1 22 1 4 1 -23 1 47 1 -19 1 1 1 -1 1 10 1 -5 1 16 1 0 1 -5 1 28 1 -16 1 11 1 0 1 7 1 4 1 0 1 -3 1 5 1 4 1 -1 1 8 1 -10 1 1 1 3 1 4 1 -7 1 0 1 14 1 -7 1 -5 1 1 1 11 1 -1 1 -3 1 -3 1 -7 1 1 1 0 1 -11 1 8 1 2 1 -2 1 -5 1 -3 1 19 1 -18 1 7 1 13 1 -13M0 -416l1 -3 1 12 1 3 1 61 1 -52 1 -8 1 16 1 2 1 5 1 -6 1 21 1 -25 1 16 1 -10 1 -6 1 48 1 -25 1 -4 1 26 1 -12 1 19 1 1 1 -6 1 11 1 7 1 -11 1 1 1 -5 1 -9 1 25 1 10 1 33 1 -42 1 34 1 13 1 -31 1 -10 1 27 1 5 1 -22 1 24 1 1 1 23 1 -20 1 -14 1 4 1 -9 1 27 1 5 1 -7 1 1 1 0 1 21 1 -22 1 5 1 10 1 23 1 -11 1 1 1 1 1 1 1 3 1 4 1 11 1 -2 1 -12 1 34 1 -17 1 5 1 3 1 -5 1 7 1 9 1 22 1 -22 1 6 1 0 1 12 1 -10 1 9 1 -3 1 19 1 -8 1 2 1 -4 1 -8 1 26 1 -15 1 -3 1 15 1 -15 1 9 1 14 1 -13 1 14 1 -13 1 -3 1 2 1 -5 1 -9 1 9 1 1 1 -1 1 -4 1 5 1 3 1 6 1 -11 1 10 1 7 1 -19M0 -198l1 -1 1 4 1 8 1 10 1 -8 1 -2 1 11 1 -2 1 3 1 -1 1 8 1 -5 1 4 1 4 1 -4 1 10 1 3 1 -4 1 -5 1 8 1 2 1 9 1 -3 1 -4 1 11 1 -6 1 5 1 3 1 -6 1 6 1 21 1 -12 1 5 1 -7 1 1 1 10 1 -3 1 15 1 -8 1 -6 1 8 1 -4 1 -2 1 1 1 -7 1 10 1 5 1 1 1 4 1 4 1 -4 1 4 1 16 1 -10 1 10 1 -6 1 2 1 1 1 3 1 9 1 1 1 -3 1 4 1 1 1 -1 1 5 1 1 1 3 1 2 1 -1 1 0 1 8 1 -2 1 2 1 2 1 -1 1 2 1 2 1 0 1 5 1 -2 1 4 1 0 1 2 1 -2 1 2 1 1 1 -1 1 1 1 1 1 2 1 2 1 -3 1 1 1 3 1 -4 1 0 1 -1 1 -1 1 -3 1 5 1 -4 1 2 1 1 1 -1 1 0 1 1 1 1 1 1 1 2 1 -5M0 -244l1 -7 1 14 1 -3 1 9 1 -10 1 -2 1 10 1 -9 1 13 1 -20 1 0 1 13 1 4 1 4 1 -14 1 8 1 7 1 14 1 -23 1 15 1 -1 1 2 1 -12 1 3 1 22 1 -27 1 24 1 -9 1 11 1 -1 1 18 1 3 1 3 1 -12 1 3 1 -8 1 26 1 -6 1 3 1 -2 1 2 1 7 1 -12 1 15 1 -7 1 6 1 10 1 -2 1 14 1 -11 1 10 1 4 1 -3 1 -2 1 2 1 0 1 13 1 -1 1 5 1 1 1 6 1 1 1 3 1 8 1 6 1 -4 1 7 1 0 1 4 1 -1 1 1 1 6 1 -4 1 10 1 -1 1 4 1 -2 1 6 1 7 1 -6 1 -1 1 4 1 -2 1 3 1 -4 1 3 1 3 1 -2 1 1 1 5 1 -1 1 0 1 7 1 0 1 0 1 -3 1 -2 1 1 1 -4 1 1 1 -2 1 3 1 -4 1 2 1 1 1 -1 1 -2 1 3 1 -1 1 5 1 -3M0 -370l1 -14 1 13 1 11 1 11 1 -20 1 8 1 2 1 -8 1 2 1 -2 1 9 1 1 1 12 1 -12 1 -15 1 29 1 -14 1 -6 1 3 1 27 1 -14 1 12 1 -16 1 15 1 -7 1 1 1 14 1 1 1 -4 1 0 1 19 1 1 1 -10 1 1 1 9 1 12 1 10 1 3 1 1 1 -17 1 14 1 -8 1 -3 1 8 1 13 1 19 1 -35 1 0 1 17 1 -13 1 11 1 -5 1 24 1 -10 1 9 1 0 1 3 1 -4 1 6 1 5 1 10 1 -6 1 6 1 5 1 -3 1 9 1 1 1 -5 1 13 1 3 1 -2 1 22 1 -17 1 9 1 4 1 -2 1 4 1 8 1 1 1 6 1 4 1 1 1 5 1 2 1 -3 1 -7 1 19 1 -5 1 -8 1 19 1 -9 1 2 1 9 1 0 1 9 1 -16 1 0 1 9 1 -15 1 1 1 3 1 1 1 0 1 -2 1 4 1 -4 1 8 1 -6 1 1 1 4 1 -9M0 -328l1 -6 1 6 1 -3 1 7 1 -1 1 39 1 -32 1 9 1 -25 1 16 1 26 1 -26 1 30 1 -19 1 13 1 6 1 -21 1 1 1 9 1 -4 1 17 1 0 1 -2 1 15 1 -6 1 31 1 -29 1 -14 1 2 1 21 1 3 1 -7 1 17 1 -16 1 9 1 6 1 -1 1 14 1 19 1 -33 1 20 1 -8 1 10 1 9 1 2 1 10 1 0 1 5 1 2 1 -11 1 15 1 -13 1 9 1 -5 1 5 1 -4 1 16 1 -5 1 -3 1 15 1 -3 1 7 1 0 1 2 1 8 1 -6 1 7 1 9 1 -1 1 2 1 -4 1 14 1 -11 1 9 1 -6 1 3 1 -8 1 13 1 1 1 14 1 -6 1 7 1 0 1 4 1 2 1 -4 1 11 1 -6 1 3 1 7 1 -1 1 -2 1 1 1 8 1 -3 1 -6 1 -3 1 1 1 -8 1 -9 1 4 1 1 1 0 1 -2 1 1 1 0 1 -2 1 17 1 -12 1 7 1 -15M0 -317l1 10 1 -10 1 31 1 -21 1 13 1 -4 1 -7 1 -4 1 -6 1 -7 1 16 1 -14 1 2 1 -5 1 13 1 3 1 -14 1 16 1 -8 1 -8 1 18 1 -1 1 10 1 -1 1 14 1 1 1 11 1 -6 1 13 1 -10 1 21 1 -17 1 11 1 -10 1 15 1 -1 1 2 1 0 1 39 1 -27 1 2 1 1 1 -9 1 -3 1 -6 1 14 1 -15 1 6 1 -2 1 11 1 10 1 7 1 -3 1 7 1 5 1 2 1 20 1 -14 1 -11 1 26 1 -3 1 -4 1 17 1 7 1 -8 1 -5 1 5 1 6 1 9 1 16 1 -13 1 7 1 11 1 -5 1 -2 1 7 1 -8 1 14 1 -3 1 14 1 -9 1 1 1 8 1 -2 1 0 1 9 1 2 1 -1 1 1 1 12 1 -5 1 -13 1 7 1 8 1 -3 1 -10 1 4 1 -3 1 -5 1 -1 1 -2 1 0 1 4 1 -2 1 4 1 5 1 -8 1 3 1 -5 1 9 1 -4M0 -190l1 0 1 -4 1 12 1 3 1 9 1 -4 1 8 1 10 1 -16 1 9 1 0 1 -3 1 7 1 -7 1 8 1 2 1 2 1 0 1 -2 1 8 1 4 1 3 1 0 1 2 1 4 1 -1 1 5 1 -3 1 6 1 2 1 -2 1 -4 1 9 1 2 1 0 1 4 1 1 1 1 1 -6 1 -1 1 16 1 -3 1 0 1 6 1 1 1 1 1 0 1 -3 1 -1 1 2 1 5 1 2 1 2 1 -1 1 10 1 -8 1 4 1 1 1 -2 1 7 1 3 1 3 1 0 1 3 1 7 1 3 1 -3 1 4 1 -1 1 5 1 -4 1 3 1 4 1 5 1 0 1 0 1 -1 1 3 1 -3 1 1 1 2 1 1 1 1 1 4 1 -3 1 2 1 1 1 -1 1 -1 1 2 1 2 1 0 1 1 1 0 1 1 1 -3 1 -1 1 -3 1 -3 1 3 1 0 1 1 1 1 1 -1 1 2 1 0 1 0 1 0 1 3 1 -1 1 -3M0 -369l1 -14 1 -3 1 35 1 -6 1 14 1 -28 1 37 1 -4 1 -27 1 19 1 -10 1 17 1 -2 1 -2 1 -4 1 -1 1 14 1 -9 1 -5 1 0 1 13 1 9 1 -10 1 24 1 -3 1 -11 1 28 1 -27 1 4 1 12 1 4 1 -3 1 10 1 -10 1 -10 1 4 1 0 1 17 1 -11 1 1 1 -4 1 3 1 11 1 -2 1 8 1 -6 1 16 1 -11 1 8 1 3 1 -2 1 2 1 -1 1 6 1 14 1 -2 1 24 1 -7 1 -6 1 23 1 4 1 -2 1 3 1 -13 1 17 1 -3 1 11 1 5 1 1 1 4 1 3 1 11 1 -4 1 10 1 12 1 -20 1 -2 1 13 1 1 1 -1 1 9 1 -2 1 10 1 -11 1 3 1 0 1 20 1 -19 1 7 1 1 1 5 1 -1 1 0 1 2 1 9 1 -17 1 21 1 -16 1 -1 1 3 1 -9 1 5 1 6 1 -6 1 4 1 -3 1 9 1 -2 1 2 1 0 1 -13M0 -225l1 7 1 7 1 5 1 35 1 -21 1 7 1 -6 1 15 1 -13 1 10 1 -7 1 6 1 2 1 -13 1 14 1 25 1 -29 1 3 1 9 1 -5 1 1 1 11 1 -7 1 11 1 -3 1 -4 1 9 1 -4 1 -2 1 -2 1 10 1 8 1 -18 1 5 1 1 1 15 1 -2 1 12 1 -2 1 1 1 11 1 -1 1 -4 1 7 1 -1 1 -3 1 7 1 -4 1 6 1 -2 1 0 1 8 1 4 1 -6 1 2 1 -2 1 10 1 3 1 -4 1 3 1 4 1 0 1 7 1 -2 1 3 1 1 1 6 1 0 1 7 1 -3 1 -1 1 4 1 -2 1 4 1 1 1 2 1 -2 1 4 1 3 1 4 1 1 1 4 1 1 1 1 1 -1 1 -1 1 3 1 -2 1 4 1 0 1 -3 1 4 1 0 1 3 1 -2 1 -1 1 -2 1 1 1 -1 1 -5 1 3 1 0 1 1 1 1 1 0 1 -1 1 1 1 -2 1 0 1 5 1 -4M0 -334l1 -3 1 36 1 -27 1 15 1 -9 1 7 1 -8 1 2 1 -1 1 1 1 2 1 -10 1 20 1 -2 1 -13 1 12 1 -3 1 6 1 1 1 4 1 8 1 8 1 -9 1 13 1 0 1 -16 1 13 1 -2 1 -2 1 16 1 15 1 8 1 -14 1 17 1 -10 1 -19 1 29 1 2 1 1 1 11 1 -19 1 7 1 -2 1 -1 1 15 1 -8 1 1 1 10 1 -5 1 -6 1 5 1 1 1 14 1 8 1 -15 1 9 1 4 1 8 1 -14 1 27 1 -4 1 0 1 7 1 -4 1 17 1 -12 1 4 1 10 1 6 1 -3 1 -3 1 11 1 -8 1 4 1 10 1 -4 1 2 1 12 1 -6 1 -1 1 -5 1 -3 1 9 1 -5 1 6 1 2 1 5 1 -4 1 -2 1 9 1 -4 1 17 1 -11 1 2 1 4 1 -7 1 -1 1 -10 1 0 1 5 1 -9 1 -2 1 7 1 -7 1 -1 1 -4 1 -3 1 4 1 5 1 4 1 -8M0 -244l1 -5 1 7 1 3 1 -1 1 3 1 10 1 -6 1 2 1 22 1 -20 1 0 1 15 1 -7 1 -15 1 15 1 16 1 -16 1 12 1 4 1 3 1 11 1 7 1 -7 1 1 1 7 1 1 1 1 1 -2 1 3 1 5 1 3 1 0 1 2 1 2 1 -1 1 -6 1 9 1 8 1 10 1 -9 1 4 1 1 1 -6 1 10 1 -6 1 8 1 -5 1 6 1 2 1 0 1 5 1 -2 1 5 1 -4 1 8 1 1 1 3 1 7 1 -9 1 4 1 4 1 2 1 9 1 -1 1 6 1 3 1 -1 1 5 1 3 1 1 1 0 1 9 1 4 1 -6 1 5 1 6 1 -9 1 7 1 0 1 1 1 0 1 6 1 -4 1 4 1 2 1 -3 1 6 1 2 1 -3 1 6 1 -2 1 -1 1 5 1 5 1 -1 1 -5 1 -3 1 0 1 -1 1 -4 1 1 1 1 1 6 1 -5 1 4 1 0 1 1 1 1 1 -3 1 5 1 -4M0 -213l1 3 1 14 1 5 1 -8 1 9 1 5 1 -3 1 10 1 -5 1 4 1 0 1 4 1 2 1 0 1 10 1 6 1 -9 1 -5 1 6 1 5 1 0 1 9 1 -3 1 -5 1 0 1 2 1 6 1 -6 1 3 1 5 1 3 1 12 1 -8 1 6 1 -1 1 -1 1 3 1 8 1 2 1 -8 1 12 1 5 1 -11 1 6 1 -2 1 0 1 6 1 0 1 7 1 -4 1 8 1 3 1 5 1 -1 1 0 1 0 1 6 1 3 1 -1 1 3 1 6 1 0 1 -1 1 5 1 1 1 -2 1 4 1 -5 1 8 1 1 1 -2 1 7 1 -2 1 5 1 -1 1 0 1 2 1 3 1 1 1 3 1 1 1 -1 1 5 1 1 1 -2 1 1 1 2 1 -1 1 1 1 1 1 2 1 -1 1 6 1 0 1 3 1 -4 1 -2 1 1 1 -4 1 -2 1 1 1 1 1 -1 1 0 1 3 1 -3 1 -3 1 4 1 -4 1 7 1 -4M0 -214l1 -7 1 10 1 0 1 7 1 30 1 -15 1 1 1 -16 1 8 1 -4 1 12 1 3 1 -7 1 7 1 0 1 3 1 -4 1 -4 1 0 1 9 1 4 1 7 1 5 1 -2 1 -3 1 3 1 13 1 -4 1 -5 1 12 1 4 1 -4 1 4 1 -1 1 -1 1 3 1 -3 1 9 1 4 1 10 1 -8 1 1 1 1 1 5 1 -3 1 4 1 -3 1 0 1 13 1 -7 1 7 1 4 1 1 1 0 1 7 1 -4 1 6 1 -2 1 -1 1 6 1 4 1 -3 1 8 1 2 1 -1 1 3 1 5 1 2 1 5 1 2 1 0 1 2 1 1 1 0 1 3 1 0 1 0 1 1 1 2 1 1 1 4 1 -2 1 0 1 3 1 -1 1 1 1 3 1 -1 1 0 1 4 1 1 1 1 1 5 1 0 1 0 1 -4 1 -3 1 3 1 -3 1 -1 1 3 1 -5 1 3 1 4 1 -3 1 -2 1 0 1 3 1 0 1 9 1 -8M0 -202l1 -3 1 11 1 4 1 8 1 -1 1 3 1 -1 1 -16 1 13 1 9 1 -11 1 8 1 -4 1 2 1 -4 1 8 1 3 1 -4 1 -1 1 0 1 10 1 8 1 -2 1 -6 1 3 1 3 1 7 1 7 1 -9 1 15 1 2 1 -4 1 6 1 -7 1 4 1 2 1 5 1 -1 1 2 1 1 1 2 1 -4 1 3 1 9 1 -6 1 5 1 2 1 0 1 1 1 -1 1 10 1 0 1 1 1 6 1 1 1 2 1 8 1 1 1 0 1 4 1 4 1 -3 1 6 1 0 1 0 1 0 1 4 1 2 1 5 1 2 1 2 1 2 1 2 1 1 1 -1 1 5 1 -5 1 7 1 -2 1 3 1 -1 1 1 1 0 1 -1 1 2 1 1 1 3 1 -3 1 3 1 4 1 -2 1 3 1 0 1 2 1 0 1 -6 1 4 1 -1 1 -4 1 -1 1 1 1 -1 1 2 1 -2 1 0 1 3 1 -3 1 2 1 1 1 0 1 -2M0 -449l1 15 1 -10 1 4 1 1 1 5 1 -28 1 38 1 16 1 -21 1 48 1 -36 1 6 1 2 1 -15 1 10 1 8 1 -16 1 7 1 2 1 3 1 5 1 2 1 -12 1 18 1 10 1 -17 1 29 1 3 1 -9 1 28 1 -3 1 -9 1 22 1 -16 1 12 1 14 1 -21 1 2 1 4 1 0 1 11 1 19 1 -24 1 26 1 -6 1 -11 1 4 1 9 1 -10 1 12 1 1 1 1 1 11 1 -2 1 21 1 -9 1 0 1 16 1 -11 1 13 1 8 1 -17 1 5 1 14 1 0 1 6 1 1 1 16 1 -5 1 -5 1 12 1 9 1 -13 1 8 1 12 1 -4 1 -1 1 8 1 -2 1 17 1 -11 1 1 1 3 1 7 1 -3 1 -7 1 14 1 -8 1 3 1 5 1 1 1 4 1 0 1 17 1 -10 1 -9 1 -1 1 7 1 -5 1 -16 1 16 1 -8 1 0 1 5 1 -4 1 -2 1 5 1 -8 1 3 1 6 1 -6M0 -488l1 -1 1 -5 1 32 1 0 1 -6 1 8 1 -15 1 1 1 -16 1 14 1 5 1 -18 1 18 1 24 1 -8 1 -1 1 -8 1 1 1 22 1 -18 1 15 1 10 1 7 1 -7 1 9 1 12 1 -11 1 10 1 -11 1 15 1 20 1 0 1 2 1 10 1 -1 1 -2 1 -13 1 21 1 6 1 2 1 5 1 2 1 -2 1 -2 1 15 1 19 1 -26 1 7 1 22 1 -14 1 3 1 11 1 8 1 -8 1 0 1 2 1 15 1 -9 1 12 1 -1 1 3 1 14 1 -12 1 12 1 -2 1 10 1 2 1 8 1 8 1 -11 1 12 1 5 1 -8 1 10 1 9 1 -1 1 -4 1 11 1 -8 1 17 1 -9 1 10 1 -7 1 3 1 1 1 -2 1 11 1 -6 1 -2 1 11 1 -5 1 12 1 -2 1 0 1 5 1 -6 1 -5 1 11 1 -12 1 -2 1 -1 1 8 1 -9 1 6 1 -9 1 10 1 -13 1 1 1 9 1 4 1 -6M0 -210l1 0 1 -4 1 3 1 7 1 -10 1 8 1 0 1 0 1 15 1 -10 1 3 1 1 1 -4 1 9 1 -9 1 11 1 -5 1 3 1 1 1 8 1 -1 1 6 1 -2 1 7 1 4 1 -5 1 2 1 2 1 3 1 2 1 9 1 8 1 -8 1 5 1 0 1 0 1 0 1 12 1 3 1 1 1 2 1 3 1 -12 1 12 1 6 1 0 1 -3 1 -5 1 2 1 3 1 15 1 -15 1 6 1 4 1 0 1 3 1 10 1 -7 1 4 1 9 1 0 1 -1 1 4 1 -1 1 18 1 -12 1 -2 1 10 1 -3 1 1 1 3 1 10 1 -10 1 3 1 3 1 -2 1 -2 1 2 1 5 1 -2 1 -2 1 2 1 1 1 10 1 -4 1 0 1 2 1 2 1 3 1 3 1 0 1 -1 1 2 1 3 1 2 1 -7 1 1 1 0 1 -2 1 -2 1 2 1 -1 1 0 1 1 1 -4 1 2 1 0 1 0 1 1 1 3 1 -3M0 -359l1 -13 1 -7 1 26 1 8 1 -18 1 24 1 13 1 1 1 -31 1 27 1 -9 1 -6 1 31 1 -8 1 -7 1 12 1 -5 1 4 1 4 1 -14 1 13 1 16 1 -7 1 13 1 19 1 -24 1 14 1 8 1 -6 1 15 1 12 1 -14 1 12 1 -18 1 14 1 -14 1 15 1 15 1 -4 1 -16 1 15 1 5 1 -14 1 3 1 -6 1 17 1 -2 1 7 1 -7 1 14 1 0 1 -1 1 10 1 -19 1 9 1 11 1 4 1 -5 1 -8 1 16 1 -5 1 4 1 4 1 11 1 12 1 -12 1 9 1 15 1 -4 1 -5 1 -1 1 15 1 -3 1 6 1 -1 1 -2 1 -4 1 7 1 3 1 8 1 -1 1 -6 1 -3 1 9 1 -9 1 6 1 10 1 -3 1 0 1 5 1 -1 1 -7 1 10 1 9 1 1 1 -5 1 0 1 -6 1 -3 1 -4 1 0 1 1 1 2 1 9 1 -9 1 -8 1 4 1 0 1 2 1 7 1 -9M0 -192l1 -1 1 5 1 5 1 9 1 -9 1 22 1 -10 1 -1 1 -3 1 0 1 15 1 -12 1 7 1 3 1 -5 1 11 1 0 1 5 1 -2 1 -4 1 3 1 4 1 5 1 5 1 8 1 -6 1 7 1 -6 1 5 1 7 1 3 1 2 1 -1 1 -5 1 6 1 1 1 -5 1 13 1 -3 1 2 1 2 1 3 1 -4 1 4 1 9 1 -3 1 0 1 3 1 -3 1 4 1 0 1 5 1 0 1 0 1 4 1 0 1 2 1 0 1 5 1 2 1 4 1 -1 1 5 1 3 1 1 1 1 1 7 1 -2 1 -2 1 6 1 -1 1 4 1 -1 1 0 1 2 1 0 1 1 1 0 1 4 1 0 1 0 1 2 1 0 1 2 1 -1 1 1 1 2 1 0 1 -2 1 3 1 1 1 0 1 1 1 2 1 3 1 -4 1 -2 1 2 1 -3 1 -3 1 2 1 -3 1 2 1 0 1 0 1 -2 1 2 1 0 1 -1 1 2 1 -2M0 -351l1 3 1 17 1 1 1 24 1 -17 1 2 1 24 1 -18 1 0 1 -2 1 15 1 -8 1 -8 1 -6 1 19 1 11 1 -20 1 13 1 -8 1 -2 1 39 1 -19 1 -3 1 7 1 -7 1 6 1 3 1 -7 1 3 1 -9 1 12 1 10 1 -10 1 8 1 14 1 7 1 -7 1 21 1 -13 1 -2 1 28 1 -2 1 -12 1 1 1 -4 1 -8 1 8 1 10 1 -9 1 31 1 -25 1 12 1 5 1 -6 1 2 1 7 1 13 1 9 1 -19 1 18 1 2 1 5 1 10 1 5 1 -3 1 12 1 -8 1 10 1 -5 1 -6 1 4 1 13 1 -2 1 5 1 -1 1 2 1 12 1 3 1 -7 1 4 1 6 1 0 1 5 1 7 1 -4 1 -1 1 9 1 -1 1 0 1 20 1 -15 1 5 1 1 1 -1 1 -1 1 -1 1 -2 1 2 1 -7 1 9 1 -5 1 1 1 4 1 -8 1 1 1 -2 1 -1 1 0 1 -5 1 14 1 -10M0 -213l1 -11 1 11 1 -6 1 14 1 -10 1 1 1 8 1 -2 1 -3 1 3 1 3 1 8 1 7 1 -1 1 8 1 11 1 -15 1 10 1 -5 1 6 1 1 1 5 1 -2 1 1 1 6 1 -1 1 13 1 -4 1 0 1 4 1 10 1 -3 1 -5 1 5 1 0 1 4 1 -3 1 10 1 -7 1 17 1 -8 1 9 1 -10 1 2 1 5 1 3 1 8 1 -6 1 3 1 -4 1 8 1 -4 1 1 1 0 1 2 1 4 1 1 1 6 1 -4 1 3 1 4 1 -3 1 14 1 -11 1 17 1 -9 1 1 1 11 1 -9 1 2 1 1 1 2 1 2 1 3 1 3 1 0 1 1 1 5 1 -1 1 3 1 3 1 2 1 5 1 -7 1 1 1 1 1 -1 1 5 1 -3 1 6 1 1 1 2 1 4 1 -3 1 2 1 -5 1 1 1 7 1 -8 1 5 1 -2 1 -1 1 0 1 0 1 -1 1 -2 1 2 1 -1 1 2 1 2 1 -1M0 -261l1 13 1 1 1 6 1 1 1 4 1 -5 1 10 1 15 1 -17 1 5 1 7 1 -3 1 9 1 6 1 -1 1 11 1 -1 1 -8 1 -11 1 12 1 4 1 -10 1 0 1 11 1 -2 1 -5 1 10 1 -10 1 1 1 21 1 -1 1 -4 1 2 1 3 1 -4 1 8 1 -2 1 17 1 -2 1 8 1 -9 1 -1 1 4 1 6 1 6 1 -7 1 10 1 -1 1 -6 1 1 1 6 1 2 1 -2 1 4 1 -3 1 7 1 25 1 -22 1 2 1 12 1 6 1 0 1 1 1 9 1 2 1 -2 1 6 1 5 1 0 1 -1 1 8 1 1 1 0 1 4 1 1 1 3 1 0 1 0 1 2 1 -1 1 1 1 -6 1 6 1 3 1 0 1 -1 1 4 1 -3 1 14 1 -8 1 5 1 -1 1 1 1 3 1 -1 1 -3 1 -2 1 -1 1 -3 1 -3 1 -2 1 0 1 -4 1 5 1 0 1 -6 1 5 1 -1 1 4 1 5 1 -8M0 -184l1 -2 1 21 1 -15 1 5 1 0 1 3 1 -2 1 4 1 0 1 -6 1 3 1 4 1 2 1 -3 1 4 1 0 1 -4 1 8 1 0 1 -5 1 -1 1 6 1 22 1 -15 1 -2 1 4 1 7 1 -1 1 5 1 2 1 3 1 8 1 6 1 -3 1 2 1 2 1 4 1 7 1 -3 1 1 1 3 1 -1 1 -2 1 7 1 -2 1 4 1 3 1 7 1 0 1 7 1 -2 1 0 1 2 1 4 1 12 1 -7 1 7 1 4 1 -10 1 6 1 9 1 -3 1 0 1 -3 1 7 1 -3 1 2 1 6 1 0 1 1 1 -2 1 7 1 -2 1 3 1 1 1 0 1 0 1 2 1 -1 1 5 1 0 1 2 1 -1 1 0 1 0 1 1 1 4 1 -2 1 1 1 1 1 0 1 -1 1 1 1 1 1 2 1 -4 1 -1 1 0 1 -3 1 -1 1 3 1 0 1 1 1 -1 1 -1 1 -1 1 1 1 -2 1 3 1 1 1 -1M0 -445l1 14 1 5 1 14 1 8 1 -7 1 -4 1 56 1 -51 1 1 1 1 1 22 1 -19 1 38 1 -20 1 -24 1 39 1 -26 1 0 1 -12 1 9 1 -6 1 31 1 1 1 11 1 -1 1 -13 1 24 1 -10 1 -14 1 24 1 3 1 4 1 0 1 -1 1 -9 1 1 1 12 1 14 1 8 1 -7 1 15 1 0 1 -7 1 15 1 -9 1 -4 1 28 1 -9 1 -2 1 11 1 11 1 14 1 -1 1 0 1 -11 1 -1 1 15 1 2 1 1 1 17 1 20 1 -12 1 1 1 -3 1 7 1 28 1 -18 1 4 1 11 1 -17 1 4 1 16 1 -6 1 9 1 1 1 15 1 -7 1 6 1 5 1 1 1 -4 1 21 1 -13 1 -2 1 -5 1 5 1 2 1 -9 1 -3 1 20 1 -1 1 1 1 15 1 -12 1 12 1 -20 1 7 1 -8 1 0 1 -8 1 0 1 6 1 -3 1 4 1 -8 1 4 1 9 1 -7 1 1 1 6 1 -11M0 -172l1 -25 1 7 1 8 1 8 1 -10 1 22 1 -13 1 8 1 -13 1 5 1 6 1 -8 1 11 1 -5 1 7 1 -1 1 -5 1 7 1 -1 1 -1 1 7 1 20 1 -16 1 10 1 0 1 -4 1 5 1 -2 1 -8 1 15 1 -5 1 6 1 -2 1 -2 1 3 1 5 1 -6 1 14 1 2 1 -3 1 -1 1 -2 1 4 1 1 1 4 1 6 1 2 1 0 1 1 1 -2 1 9 1 2 1 4 1 3 1 2 1 2 1 1 1 3 1 3 1 3 1 12 1 -12 1 8 1 1 1 2 1 4 1 1 1 3 1 -2 1 1 1 2 1 6 1 -1 1 1 1 3 1 -3 1 -3 1 3 1 1 1 9 1 -5 1 1 1 1 1 1 1 2 1 0 1 1 1 2 1 -2 1 4 1 -1 1 0 1 1 1 4 1 3 1 -7 1 0 1 -2 1 -1 1 1 1 1 1 -1 1 2 1 -1 1 -1 1 0 1 0 1 2 1 1 1 2 1 -3M0 -198l1 11 1 -2 1 5 1 2 1 2 1 -1 1 -1 1 6 1 3 1 19 1 -19 1 -4 1 27 1 -18 1 3 1 4 1 -2 1 7 1 -3 1 -5 1 8 1 -4 1 1 1 5 1 8 1 0 1 3 1 -3 1 1 1 6 1 0 1 -8 1 10 1 0 1 8 1 -3 1 8 1 -2 1 4 1 8 1 -7 1 2 1 2 1 1 1 4 1 -3 1 0 1 3 1 6 1 -6 1 4 1 -1 1 10 1 -6 1 7 1 3 1 4 1 3 1 -2 1 7 1 -2 1 4 1 4 1 0 1 4 1 -2 1 4 1 1 1 -2 1 5 1 0 1 2 1 -3 1 5 1 5 1 -2 1 -1 1 4 1 2 1 2 1 -2 1 2 1 -1 1 2 1 1 1 0 1 4 1 -1 1 2 1 2 1 0 1 1 1 2 1 1 1 2 1 -3 1 0 1 1 1 -6 1 4 1 -1 1 -1 1 2 1 -2 1 1 1 1 1 -2 1 1 1 1 1 2 1 0M0 -185l1 12 1 -3 1 2 1 14 1 -11 1 11 1 -10 1 8 1 -2 1 -11 1 12 1 -6 1 10 1 -5 1 -3 1 8 1 -7 1 2 1 1 1 10 1 2 1 2 1 0 1 -1 1 11 1 0 1 -2 1 5 1 -6 1 5 1 16 1 -9 1 1 1 0 1 9 1 8 1 -4 1 12 1 0 1 -3 1 1 1 9 1 2 1 -3 1 11 1 -6 1 4 1 5 1 -2 1 4 1 1 1 4 1 1 1 1 1 0 1 4 1 0 1 1 1 3 1 1 1 3 1 -2 1 -2 1 2 1 4 1 -3 1 5 1 3 1 0 1 1 1 1 1 2 1 -1 1 4 1 4 1 -1 1 4 1 -2 1 1 1 1 1 0 1 1 1 2 1 1 1 -1 1 0 1 2 1 0 1 1 1 2 1 -1 1 1 1 2 1 1 1 -1 1 -2 1 -1 1 -3 1 -2 1 0 1 1 1 -1 1 2 1 2 1 -3 1 1 1 -1 1 2 1 -1 1 6 1 -7M0 -303l1 34 1 -47 1 16 1 0 1 2 1 13 1 -12 1 4 1 17 1 -7 1 -2 1 11 1 -9 1 -1 1 -10 1 23 1 5 1 0 1 -11 1 4 1 9 1 -1 1 7 1 -2 1 2 1 -1 1 18 1 -9 1 -8 1 15 1 -5 1 3 1 5 1 1 1 8 1 -7 1 -2 1 22 1 -17 1 6 1 14 1 -7 1 3 1 24 1 -7 1 0 1 8 1 0 1 6 1 -15 1 9 1 4 1 2 1 -3 1 1 1 7 1 -1 1 -3 1 -1 1 15 1 4 1 19 1 -7 1 -2 1 -2 1 1 1 2 1 15 1 -6 1 -5 1 6 1 5 1 -4 1 21 1 -12 1 -6 1 -3 1 9 1 -6 1 7 1 -1 1 6 1 2 1 0 1 -2 1 -2 1 10 1 -7 1 2 1 5 1 1 1 -2 1 5 1 4 1 2 1 -12 1 -2 1 9 1 -9 1 -4 1 4 1 -1 1 -4 1 3 1 5 1 -7 1 0 1 3 1 2 1 9 1 -13M0 -268l1 0 1 1 1 8 1 5 1 1 1 -7 1 8 1 6 1 -11 1 9 1 14 1 -21 1 1 1 16 1 -15 1 17 1 -6 1 21 1 2 1 -7 1 -3 1 7 1 -3 1 11 1 -15 1 5 1 1 1 0 1 -4 1 7 1 19 1 -11 1 1 1 -12 1 8 1 5 1 -6 1 16 1 4 1 -12 1 4 1 -4 1 -4 1 7 1 1 1 8 1 3 1 -5 1 -7 1 8 1 11 1 4 1 3 1 -10 1 12 1 -6 1 17 1 -2 1 4 1 19 1 -7 1 1 1 10 1 -1 1 5 1 0 1 14 1 -9 1 13 1 7 1 -12 1 13 1 -5 1 3 1 9 1 0 1 -1 1 4 1 5 1 14 1 -14 1 7 1 -6 1 4 1 4 1 -3 1 9 1 -3 1 3 1 5 1 -5 1 2 1 1 1 5 1 -1 1 1 1 -2 1 0 1 -7 1 -2 1 6 1 2 1 -2 1 -3 1 0 1 -1 1 2 1 2 1 -4 1 3 1 -6M0 -216l1 -5 1 2 1 12 1 -2 1 -2 1 18 1 -20 1 4 1 -13 1 0 1 8 1 5 1 -2 1 4 1 -5 1 20 1 -9 1 5 1 -6 1 0 1 15 1 5 1 -19 1 12 1 4 1 7 1 4 1 -7 1 6 1 8 1 -1 1 -3 1 -5 1 6 1 -1 1 1 1 4 1 21 1 -6 1 -11 1 16 1 -3 1 -5 1 10 1 -9 1 -2 1 10 1 11 1 -18 1 18 1 -9 1 9 1 8 1 0 1 -3 1 7 1 0 1 1 1 -2 1 11 1 1 1 1 1 -4 1 6 1 4 1 4 1 2 1 6 1 0 1 2 1 -5 1 13 1 -5 1 7 1 9 1 -5 1 -1 1 6 1 1 1 2 1 -1 1 5 1 -1 1 3 1 -3 1 2 1 4 1 -3 1 7 1 -1 1 -1 1 -1 1 2 1 4 1 -1 1 -4 1 0 1 -3 1 0 1 -2 1 3 1 0 1 1 1 3 1 -1 1 -2 1 1 1 -2 1 -1 1 5 1 -8M0 -381l1 -44 1 36 1 3 1 -17 1 24 1 -6 1 -8 1 -4 1 9 1 -8 1 14 1 -22 1 17 1 -20 1 34 1 10 1 -50 1 18 1 3 1 -12 1 9 1 26 1 -20 1 6 1 -3 1 34 1 -33 1 9 1 -1 1 15 1 17 1 -33 1 35 1 -3 1 -13 1 22 1 6 1 8 1 -10 1 -8 1 22 1 1 1 -1 1 8 1 16 1 -12 1 13 1 -9 1 19 1 -10 1 17 1 -4 1 19 1 -11 1 1 1 -3 1 12 1 3 1 1 1 -8 1 24 1 -16 1 7 1 17 1 6 1 6 1 0 1 6 1 24 1 -14 1 -5 1 16 1 -4 1 4 1 1 1 5 1 -2 1 5 1 -5 1 4 1 -1 1 7 1 1 1 7 1 -6 1 0 1 9 1 -15 1 1 1 -5 1 9 1 -2 1 7 1 1 1 6 1 -7 1 -3 1 0 1 -11 1 4 1 0 1 -2 1 11 1 -1 1 20 1 -27 1 -1 1 4 1 4 1 11 1 -18M0 -190l1 -11 1 7 1 8 1 -5 1 1 1 15 1 -3 1 0 1 -2 1 -2 1 9 1 -6 1 13 1 -4 1 11 1 1 1 -9 1 1 1 6 1 13 1 -3 1 9 1 -11 1 10 1 -7 1 7 1 2 1 -4 1 5 1 -1 1 11 1 -3 1 -6 1 0 1 8 1 -2 1 1 1 7 1 1 1 0 1 7 1 -3 1 0 1 0 1 7 1 0 1 12 1 -13 1 -5 1 11 1 -10 1 21 1 -7 1 2 1 0 1 1 1 8 1 -2 1 2 1 9 1 -4 1 -1 1 3 1 0 1 6 1 1 1 3 1 1 1 3 1 5 1 1 1 1 1 3 1 -2 1 4 1 -3 1 1 1 3 1 0 1 3 1 -3 1 8 1 0 1 0 1 5 1 -5 1 4 1 1 1 0 1 1 1 -2 1 4 1 2 1 2 1 2 1 -7 1 -2 1 -1 1 -4 1 1 1 -2 1 3 1 0 1 2 1 -1 1 1 1 -1 1 -1 1 1 1 4 1 -4M0 -207l1 21 1 -6 1 -1 1 5 1 -12 1 11 1 22 1 -16 1 -11 1 3 1 6 1 -1 1 -4 1 7 1 4 1 9 1 -17 1 2 1 4 1 -6 1 4 1 6 1 -4 1 2 1 8 1 -5 1 7 1 -9 1 6 1 3 1 -3 1 13 1 -1 1 4 1 6 1 13 1 -11 1 34 1 -26 1 3 1 7 1 -3 1 3 1 7 1 -5 1 0 1 7 1 -1 1 0 1 2 1 1 1 2 1 9 1 -5 1 8 1 -7 1 9 1 6 1 -7 1 8 1 -6 1 -1 1 5 1 4 1 5 1 -3 1 0 1 5 1 3 1 1 1 2 1 8 1 -5 1 4 1 2 1 3 1 2 1 3 1 -2 1 5 1 1 1 4 1 -1 1 4 1 -1 1 1 1 2 1 0 1 2 1 1 1 0 1 1 1 2 1 1 1 0 1 -1 1 -2 1 -1 1 -1 1 -1 1 -3 1 4 1 -1 1 2 1 -2 1 1 1 1 1 4 1 -4 1 1 1 -2M0 -375l1 -25 1 27 1 -17 1 7 1 -5 1 -3 1 22 1 7 1 -23 1 19 1 -23 1 26 1 10 1 -19 1 1 1 23 1 -4 1 18 1 -10 1 15 1 2 1 8 1 8 1 -3 1 8 1 -14 1 14 1 -10 1 -3 1 15 1 10 1 -1 1 -13 1 8 1 -16 1 9 1 -9 1 49 1 -15 1 -7 1 0 1 0 1 -4 1 1 1 -6 1 7 1 12 1 12 1 2 1 -14 1 10 1 -2 1 17 1 -8 1 2 1 -2 1 15 1 5 1 -5 1 11 1 -2 1 -1 1 14 1 5 1 -6 1 2 1 9 1 -3 1 5 1 9 1 -7 1 18 1 1 1 3 1 3 1 -7 1 5 1 15 1 -12 1 9 1 4 1 -1 1 17 1 -11 1 -8 1 0 1 9 1 2 1 -14 1 12 1 -6 1 6 1 0 1 12 1 1 1 -5 1 -4 1 0 1 -8 1 2 1 0 1 0 1 6 1 -2 1 -2 1 7 1 1 1 7 1 2 1 16 1 -10M0 -222l1 -3 1 4 1 7 1 7 1 -4 1 8 1 0 1 4 1 -3 1 13 1 -10 1 0 1 7 1 -10 1 8 1 7 1 -16 1 16 1 13 1 -24 1 14 1 15 1 -14 1 4 1 -5 1 9 1 7 1 -6 1 2 1 4 1 12 1 -4 1 13 1 -4 1 -5 1 7 1 5 1 5 1 -7 1 -3 1 10 1 3 1 3 1 0 1 -2 1 -2 1 7 1 2 1 1 1 -1 1 7 1 -4 1 8 1 4 1 11 1 -6 1 5 1 0 1 0 1 5 1 3 1 0 1 7 1 3 1 1 1 1 1 2 1 4 1 -1 1 -5 1 2 1 3 1 6 1 -3 1 1 1 3 1 2 1 -1 1 3 1 0 1 0 1 -1 1 4 1 2 1 -1 1 0 1 2 1 -3 1 3 1 3 1 -5 1 5 1 3 1 1 1 2 1 -2 1 -1 1 -1 1 -3 1 -1 1 0 1 0 1 1 1 2 1 -4 1 3 1 2 1 -1 1 3 1 0 1 1M0 -375l1 -12 1 14 1 0 1 21 1 -18 1 -2 1 6 1 5 1 -12 1 14 1 8 1 3 1 3 1 1 1 1 1 17 1 -12 1 1 1 6 1 -30 1 40 1 7 1 -15 1 19 1 -16 1 18 1 9 1 -14 1 53 1 -46 1 8 1 4 1 -8 1 1 1 10 1 -10 1 -1 1 23 1 5 1 -3 1 0 1 3 1 -3 1 19 1 -10 1 3 1 6 1 5 1 7 1 -3 1 11 1 -10 1 46 1 -39 1 6 1 4 1 4 1 6 1 -8 1 9 1 1 1 6 1 -5 1 20 1 -24 1 22 1 -12 1 10 1 9 1 7 1 -11 1 24 1 -13 1 5 1 2 1 -8 1 -1 1 25 1 -23 1 17 1 -4 1 10 1 7 1 -11 1 -6 1 0 1 11 1 -8 1 2 1 16 1 -22 1 6 1 8 1 12 1 0 1 -18 1 0 1 7 1 -5 1 1 1 -9 1 7 1 8 1 -7 1 -8 1 7 1 3 1 4 1 -2 1 17 1 -10M0 -224l1 6 1 -9 1 20 1 17 1 -17 1 -1 1 10 1 -4 1 -4 1 5 1 5 1 -2 1 2 1 2 1 -1 1 5 1 -4 1 21 1 -4 1 -3 1 11 1 16 1 -17 1 5 1 2 1 -6 1 4 1 3 1 -5 1 8 1 8 1 -4 1 3 1 2 1 3 1 2 1 -3 1 15 1 2 1 -7 1 5 1 7 1 -8 1 3 1 -3 1 0 1 4 1 -3 1 -3 1 6 1 14 1 -1 1 1 1 7 1 1 1 0 1 4 1 -1 1 2 1 7 1 -1 1 3 1 -5 1 1 1 14 1 -5 1 2 1 10 1 -1 1 -2 1 1 1 7 1 -1 1 1 1 1 1 0 1 -1 1 5 1 4 1 0 1 4 1 -1 1 2 1 1 1 -1 1 -2 1 3 1 -1 1 2 1 1 1 0 1 3 1 -3 1 5 1 -1 1 -4 1 -2 1 0 1 -2 1 -1 1 2 1 -3 1 3 1 -3 1 0 1 2 1 1 1 0 1 2 1 0 1 -2M0 -257l1 8 1 -1 1 10 1 9 1 -8 1 12 1 -6 1 15 1 -3 1 3 1 -9 1 8 1 -13 1 6 1 -7 1 9 1 0 1 6 1 -10 1 -2 1 11 1 -3 1 9 1 2 1 3 1 -7 1 8 1 10 1 -3 1 10 1 19 1 -16 1 -1 1 4 1 -5 1 1 1 -1 1 22 1 -9 1 -5 1 3 1 9 1 -5 1 -1 1 0 1 22 1 -2 1 -7 1 0 1 -2 1 -3 1 8 1 6 1 -1 1 7 1 0 1 2 1 -4 1 10 1 -1 1 9 1 -5 1 12 1 -2 1 -1 1 -1 1 9 1 -2 1 11 1 -7 1 -2 1 10 1 -2 1 8 1 -2 1 1 1 -2 1 8 1 -6 1 6 1 -2 1 3 1 1 1 -1 1 5 1 8 1 -4 1 -3 1 -2 1 0 1 5 1 1 1 4 1 -2 1 1 1 -2 1 -4 1 1 1 -9 1 1 1 3 1 -1 1 0 1 2 1 -2 1 4 1 1 1 2 1 4 1 1 1 -8M0 -199l1 10 1 4 1 5 1 5 1 -3 1 -8 1 14 1 -4 1 6 1 -1 1 8 1 -2 1 -2 1 6 1 -4 1 12 1 -8 1 5 1 0 1 -2 1 9 1 -1 1 -1 1 9 1 0 1 5 1 3 1 -8 1 5 1 2 1 8 1 -1 1 3 1 0 1 1 1 -7 1 4 1 4 1 3 1 -4 1 8 1 -2 1 0 1 1 1 6 1 -1 1 6 1 1 1 3 1 -1 1 0 1 4 1 5 1 1 1 6 1 2 1 5 1 -3 1 6 1 7 1 0 1 -3 1 4 1 3 1 0 1 1 1 2 1 -1 1 3 1 2 1 0 1 5 1 -1 1 3 1 1 1 -1 1 2 1 4 1 0 1 -2 1 3 1 1 1 0 1 0 1 -1 1 2 1 3 1 -3 1 0 1 4 1 -1 1 1 1 2 1 1 1 0 1 -2 1 0 1 0 1 -3 1 0 1 1 1 -1 1 2 1 1 1 0 1 0 1 0 1 -1 1 3 1 1 1 -3M0 -232l1 4 1 -2 1 15 1 -1 1 1 1 -5 1 3 1 20 1 -1 1 -6 1 8 1 -2 1 15 1 -11 1 3 1 5 1 -3 1 0 1 2 1 -5 1 10 1 0 1 4 1 0 1 -2 1 5 1 -2 1 4 1 5 1 2 1 -1 1 12 1 -3 1 8 1 -10 1 -6 1 6 1 10 1 1 1 -7 1 3 1 11 1 -3 1 7 1 -2 1 6 1 0 1 7 1 3 1 -3 1 -1 1 6 1 5 1 3 1 -1 1 5 1 -2 1 0 1 6 1 7 1 0 1 1 1 1 1 6 1 -5 1 4 1 3 1 6 1 -1 1 -1 1 4 1 2 1 -1 1 3 1 -1 1 2 1 -1 1 7 1 2 1 -1 1 -3 1 7 1 1 1 0 1 3 1 -3 1 2 1 1 1 -3 1 5 1 2 1 2 1 2 1 1 1 0 1 -4 1 -1 1 2 1 -2 1 -1 1 1 1 0 1 0 1 -3 1 4 1 1 1 -2 1 0 1 1 1 4 1 -2M0 -331l1 4 1 -9 1 56 1 -28 1 0 1 -1 1 9 1 -16 1 22 1 -2 1 28 1 -7 1 -8 1 12 1 -5 1 0 1 -15 1 12 1 -4 1 9 1 9 1 8 1 -12 1 3 1 10 1 2 1 6 1 -9 1 3 1 16 1 5 1 -8 1 8 1 -12 1 -5 1 23 1 -13 1 13 1 10 1 -16 1 7 1 7 1 -9 1 1 1 7 1 2 1 3 1 1 1 5 1 -8 1 3 1 8 1 11 1 1 1 -5 1 10 1 -7 1 5 1 9 1 11 1 -1 1 -3 1 12 1 3 1 4 1 4 1 -2 1 3 1 -2 1 3 1 -8 1 13 1 -2 1 6 1 -3 1 5 1 0 1 4 1 -2 1 7 1 -1 1 8 1 8 1 -11 1 0 1 -4 1 11 1 -2 1 0 1 14 1 -11 1 2 1 -1 1 7 1 0 1 -8 1 -3 1 8 1 -7 1 -1 1 0 1 6 1 4 1 -9 1 1 1 4 1 -7 1 3 1 -2 1 4 1 -9M0 -355l1 8 1 -7 1 7 1 -4 1 -9 1 18 1 -5 1 5 1 7 1 5 1 -1 1 0 1 -11 1 -2 1 11 1 15 1 11 1 -28 1 8 1 5 1 -2 1 14 1 -3 1 8 1 0 1 2 1 -2 1 -11 1 0 1 23 1 -20 1 22 1 -2 1 5 1 -2 1 -12 1 -5 1 24 1 33 1 -37 1 5 1 7 1 -14 1 -5 1 28 1 -4 1 -6 1 7 1 3 1 3 1 4 1 11 1 -11 1 -2 1 -4 1 15 1 18 1 -28 1 7 1 19 1 1 1 -11 1 8 1 0 1 10 1 12 1 1 1 1 1 4 1 8 1 -8 1 23 1 -28 1 17 1 11 1 0 1 5 1 3 1 8 1 -2 1 1 1 0 1 5 1 4 1 0 1 -4 1 10 1 -9 1 9 1 5 1 -1 1 1 1 0 1 4 1 4 1 -13 1 -5 1 2 1 -3 1 -5 1 -3 1 4 1 0 1 -3 1 -3 1 7 1 -3 1 3 1 9 1 -3 1 -4M0 -390l1 9 1 -16 1 18 1 19 1 -1 1 -7 1 -3 1 2 1 -9 1 23 1 2 1 -5 1 21 1 -16 1 7 1 14 1 -20 1 6 1 -9 1 2 1 -3 1 17 1 -10 1 19 1 3 1 5 1 -2 1 -19 1 -1 1 23 1 0 1 -5 1 12 1 3 1 -10 1 7 1 5 1 23 1 -5 1 -21 1 15 1 7 1 -11 1 23 1 23 1 -6 1 -12 1 12 1 33 1 -30 1 5 1 7 1 11 1 -10 1 5 1 -16 1 11 1 11 1 -12 1 18 1 -7 1 2 1 13 1 -3 1 14 1 2 1 -8 1 9 1 1 1 1 1 -9 1 17 1 5 1 -3 1 2 1 -3 1 -1 1 22 1 -6 1 5 1 -13 1 4 1 4 1 -1 1 1 1 2 1 15 1 -12 1 -4 1 21 1 -13 1 6 1 3 1 7 1 1 1 -17 1 10 1 -5 1 -11 1 -9 1 12 1 -3 1 -1 1 -4 1 9 1 0 1 -5 1 5 1 6 1 10 1 1M0 -375l1 9 1 -18 1 17 1 -8 1 11 1 3 1 -1 1 34 1 -36 1 4 1 -2 1 -4 1 6 1 19 1 2 1 4 1 -25 1 18 1 9 1 -3 1 1 1 12 1 -11 1 18 1 7 1 -4 1 19 1 -11 1 -18 1 2 1 25 1 -3 1 -19 1 13 1 -14 1 10 1 14 1 5 1 9 1 -9 1 5 1 1 1 -3 1 16 1 -6 1 -13 1 29 1 -13 1 21 1 1 1 0 1 -6 1 10 1 0 1 16 1 -12 1 11 1 -3 1 -12 1 16 1 -3 1 -2 1 3 1 -9 1 27 1 -14 1 3 1 10 1 2 1 -3 1 0 1 17 1 -2 1 2 1 10 1 -5 1 8 1 4 1 -2 1 4 1 -4 1 10 1 3 1 -10 1 0 1 -5 1 6 1 -6 1 8 1 15 1 -4 1 5 1 -7 1 7 1 3 1 0 1 -13 1 -2 1 3 1 -3 1 -10 1 14 1 -4 1 -3 1 -1 1 -9 1 8 1 -6 1 31 1 -20 1 -9M0 -272l1 -11 1 2 1 9 1 17 1 -7 1 10 1 -9 1 33 1 -24 1 -13 1 -2 1 0 1 1 1 -9 1 20 1 6 1 -13 1 8 1 -3 1 -4 1 5 1 12 1 0 1 -8 1 6 1 0 1 3 1 -7 1 9 1 7 1 7 1 2 1 0 1 -1 1 7 1 5 1 3 1 11 1 0 1 -4 1 6 1 7 1 3 1 -2 1 -1 1 -4 1 13 1 -2 1 0 1 2 1 2 1 0 1 9 1 -12 1 11 1 3 1 -3 1 11 1 -3 1 32 1 -15 1 -13 1 10 1 5 1 4 1 -2 1 5 1 7 1 -5 1 0 1 1 1 5 1 -7 1 13 1 -2 1 3 1 -2 1 12 1 -1 1 3 1 0 1 5 1 -6 1 4 1 3 1 -2 1 5 1 4 1 -4 1 2 1 0 1 0 1 6 1 3 1 5 1 -6 1 -3 1 5 1 -10 1 9 1 -6 1 -3 1 2 1 1 1 -2 1 0 1 4 1 3 1 -2 1 8 1 -8M0 -414l1 -13 1 16 1 20 1 10 1 -15 1 -2 1 5 1 -11 1 -6 1 -2 1 5 1 10 1 19 1 -5 1 3 1 36 1 -37 1 3 1 -1 1 11 1 -2 1 21 1 -25 1 -7 1 18 1 -9 1 8 1 2 1 -12 1 22 1 7 1 -10 1 22 1 -28 1 24 1 12 1 -9 1 31 1 11 1 -8 1 -1 1 9 1 -2 1 -21 1 15 1 7 1 -2 1 18 1 -12 1 -7 1 6 1 2 1 17 1 1 1 -6 1 -9 1 22 1 -4 1 -6 1 19 1 -2 1 2 1 10 1 3 1 13 1 -14 1 16 1 -2 1 6 1 14 1 -12 1 11 1 6 1 8 1 7 1 4 1 2 1 11 1 -14 1 5 1 10 1 -3 1 1 1 -1 1 -1 1 -9 1 18 1 -9 1 9 1 -4 1 10 1 -6 1 8 1 -2 1 3 1 -13 1 1 1 7 1 -10 1 5 1 5 1 0 1 -3 1 4 1 6 1 -10 1 6 1 3 1 -8 1 0 1 -3M0 -332l1 9 1 -7 1 21 1 6 1 0 1 7 1 -6 1 18 1 -8 1 2 1 6 1 0 1 9 1 -4 1 0 1 33 1 -24 1 18 1 -14 1 -4 1 22 1 -5 1 -3 1 10 1 4 1 -5 1 22 1 -17 1 2 1 3 1 5 1 7 1 -10 1 11 1 -14 1 4 1 0 1 17 1 -11 1 8 1 8 1 0 1 4 1 13 1 -5 1 -3 1 5 1 2 1 5 1 -11 1 9 1 -3 1 12 1 2 1 -11 1 17 1 -9 1 11 1 -9 1 17 1 -2 1 -6 1 23 1 -4 1 -6 1 -6 1 1 1 10 1 -3 1 10 1 2 1 9 1 -2 1 -1 1 3 1 -2 1 14 1 -1 1 -2 1 1 1 -4 1 4 1 -8 1 5 1 4 1 2 1 1 1 -6 1 -1 1 9 1 2 1 1 1 4 1 0 1 3 1 -11 1 4 1 1 1 -6 1 0 1 -4 1 3 1 3 1 -2 1 0 1 -8 1 -2 1 5 1 8 1 2 1 -10M0 -220l1 14 1 -8 1 7 1 5 1 0 1 -8 1 4 1 25 1 -24 1 5 1 9 1 -2 1 -1 1 -7 1 4 1 7 1 -1 1 8 1 -9 1 5 1 8 1 -4 1 3 1 0 1 3 1 0 1 6 1 -7 1 10 1 -6 1 8 1 -3 1 16 1 -21 1 11 1 1 1 -2 1 14 1 -3 1 -8 1 13 1 7 1 -6 1 -1 1 0 1 1 1 9 1 8 1 0 1 -10 1 11 1 -5 1 8 1 1 1 9 1 -7 1 13 1 -11 1 7 1 2 1 5 1 -4 1 2 1 7 1 -1 1 -1 1 6 1 -1 1 2 1 -2 1 4 1 8 1 -4 1 6 1 -1 1 6 1 -1 1 5 1 -2 1 7 1 0 1 4 1 0 1 2 1 1 1 -3 1 0 1 3 1 -2 1 6 1 -3 1 4 1 0 1 4 1 2 1 -5 1 1 1 1 1 -5 1 -1 1 3 1 3 1 -5 1 -1 1 -1 1 5 1 -1 1 0 1 2 1 5 1 -6M0 -278l1 -5 1 7 1 -1 1 31 1 -15 1 5 1 -7 1 21 1 -6 1 5 1 12 1 -10 1 24 1 -13 1 11 1 6 1 -19 1 4 1 -6 1 3 1 12 1 9 1 -9 1 4 1 10 1 -18 1 7 1 12 1 -19 1 11 1 3 1 2 1 -2 1 -6 1 3 1 8 1 7 1 4 1 5 1 -17 1 19 1 -2 1 -9 1 9 1 0 1 7 1 5 1 -4 1 32 1 -26 1 7 1 -1 1 5 1 9 1 -5 1 6 1 11 1 -4 1 -4 1 11 1 -4 1 6 1 5 1 7 1 -1 1 -3 1 3 1 3 1 1 1 -4 1 -5 1 20 1 -8 1 2 1 3 1 -1 1 -3 1 7 1 -3 1 6 1 -4 1 8 1 0 1 6 1 -3 1 -3 1 9 1 -3 1 -1 1 10 1 1 1 3 1 1 1 5 1 1 1 -9 1 1 1 7 1 -20 1 3 1 2 1 6 1 -4 1 3 1 0 1 -6 1 3 1 1 1 1 1 7 1 -10M0 -381l1 -2 1 -6 1 31 1 -20 1 2 1 14 1 -13 1 7 1 -5 1 1 1 -13 1 7 1 24 1 -22 1 -3 1 11 1 -8 1 21 1 -2 1 -10 1 24 1 10 1 0 1 -5 1 -9 1 8 1 4 1 0 1 -13 1 5 1 18 1 7 1 -13 1 18 1 2 1 0 1 13 1 13 1 -8 1 -14 1 14 1 8 1 -12 1 -9 1 5 1 -3 1 18 1 7 1 4 1 -3 1 0 1 9 1 -1 1 0 1 7 1 -1 1 11 1 18 1 -9 1 0 1 1 1 -6 1 23 1 -14 1 2 1 3 1 0 1 16 1 -2 1 -6 1 5 1 8 1 10 1 -15 1 11 1 0 1 -5 1 18 1 -5 1 13 1 -7 1 3 1 -2 1 7 1 -7 1 0 1 9 1 0 1 -1 1 21 1 -9 1 -4 1 13 1 4 1 -4 1 -3 1 1 1 0 1 -9 1 5 1 0 1 -1 1 -6 1 2 1 6 1 -6 1 6 1 -3 1 9 1 -6 1 -7M0 -386l1 -1 1 7 1 -12 1 3 1 36 1 3 1 -17 1 -4 1 -6 1 4 1 7 1 -30 1 21 1 -9 1 17 1 -2 1 12 1 -23 1 8 1 21 1 -4 1 9 1 -2 1 0 1 22 1 -1 1 17 1 -16 1 -4 1 11 1 -6 1 7 1 -5 1 -2 1 10 1 -7 1 -8 1 38 1 -5 1 5 1 -4 1 9 1 -16 1 11 1 -21 1 -2 1 14 1 0 1 5 1 1 1 8 1 -8 1 10 1 -5 1 12 1 15 1 -11 1 13 1 -8 1 -2 1 7 1 3 1 17 1 0 1 -5 1 -1 1 27 1 -18 1 5 1 2 1 2 1 24 1 -3 1 -3 1 13 1 5 1 8 1 -5 1 -5 1 8 1 0 1 9 1 2 1 2 1 15 1 -17 1 14 1 0 1 -9 1 19 1 -14 1 7 1 3 1 9 1 3 1 -11 1 -5 1 0 1 -9 1 9 1 -7 1 2 1 -7 1 7 1 -5 1 10 1 -7 1 13 1 1 1 6 1 -16M0 -215l1 9 1 1 1 -5 1 0 1 12 1 1 1 3 1 1 1 8 1 5 1 -3 1 -7 1 8 1 0 1 4 1 1 1 -11 1 6 1 0 1 0 1 3 1 10 1 -10 1 10 1 -3 1 6 1 2 1 -4 1 1 1 9 1 1 1 12 1 -21 1 14 1 -7 1 2 1 7 1 5 1 -3 1 5 1 -4 1 4 1 -9 1 8 1 3 1 4 1 8 1 6 1 -7 1 1 1 11 1 -8 1 13 1 -12 1 14 1 -5 1 6 1 8 1 8 1 -9 1 2 1 -2 1 3 1 13 1 -4 1 3 1 2 1 2 1 1 1 4 1 -4 1 8 1 -1 1 2 1 -3 1 5 1 1 1 1 1 1 1 4 1 -1 1 3 1 3 1 0 1 0 1 0 1 3 1 -1 1 3 1 1 1 0 1 7 1 -5 1 2 1 1 1 -3 1 3 1 -7 1 -1 1 0 1 1 1 0 1 3 1 -3 1 1 1 0 1 4 1 -2 1 3 1 0 1 -1M0 -245l1 7 1 -7 1 13 1 4 1 -10 1 9 1 15 1 -11 1 1 1 0 1 26 1 -20 1 -1 1 1 1 16 1 -3 1 -12 1 6 1 -1 1 6 1 0 1 17 1 -22 1 15 1 16 1 -7 1 12 1 -11 1 -4 1 7 1 3 1 12 1 7 1 -9 1 4 1 -1 1 0 1 5 1 7 1 -5 1 12 1 -1 1 -1 1 7 1 5 1 -3 1 4 1 3 1 7 1 -8 1 4 1 1 1 2 1 4 1 -6 1 1 1 3 1 2 1 12 1 -10 1 13 1 -4 1 6 1 -3 1 4 1 0 1 5 1 3 1 7 1 -4 1 6 1 0 1 -3 1 2 1 4 1 2 1 0 1 7 1 5 1 -5 1 -1 1 8 1 -5 1 6 1 -4 1 -3 1 13 1 -8 1 4 1 2 1 -3 1 4 1 2 1 2 1 2 1 -4 1 0 1 -2 1 -4 1 2 1 2 1 -4 1 2 1 -1 1 -1 1 1 1 -3 1 5 1 0 1 2 1 -5M0 -326l1 18 1 36 1 -28 1 8 1 -16 1 12 1 -12 1 23 1 -22 1 3 1 7 1 -4 1 4 1 3 1 -1 1 0 1 4 1 -4 1 -2 1 3 1 14 1 13 1 -23 1 7 1 8 1 -9 1 8 1 9 1 2 1 -8 1 21 1 4 1 -3 1 -3 1 7 1 -5 1 4 1 17 1 -13 1 -10 1 14 1 2 1 -17 1 13 1 3 1 2 1 30 1 -23 1 8 1 -2 1 7 1 4 1 0 1 0 1 -5 1 -3 1 21 1 -4 1 -8 1 7 1 13 1 -3 1 4 1 4 1 9 1 0 1 5 1 10 1 5 1 0 1 -6 1 13 1 0 1 2 1 -3 1 -2 1 1 1 14 1 -8 1 13 1 -6 1 8 1 -4 1 7 1 3 1 -2 1 5 1 -2 1 4 1 3 1 -4 1 4 1 4 1 6 1 -2 1 7 1 -17 1 1 1 -3 1 1 1 0 1 -1 1 2 1 -1 1 -10 1 6 1 1 1 -2 1 1 1 7 1 -8M0 -380l1 -7 1 4 1 -4 1 8 1 9 1 -5 1 7 1 3 1 1 1 -11 1 -2 1 22 1 -9 1 -4 1 10 1 15 1 -28 1 23 1 -14 1 6 1 4 1 4 1 -13 1 10 1 7 1 -26 1 42 1 -20 1 15 1 3 1 23 1 -12 1 27 1 -16 1 2 1 3 1 -15 1 23 1 -3 1 10 1 -7 1 34 1 -35 1 14 1 30 1 -9 1 36 1 -36 1 6 1 -8 1 24 1 -28 1 15 1 0 1 -4 1 3 1 12 1 8 1 -7 1 15 1 5 1 -6 1 6 1 3 1 -2 1 3 1 1 1 7 1 11 1 -9 1 8 1 6 1 -6 1 6 1 -2 1 2 1 11 1 0 1 1 1 5 1 -1 1 3 1 2 1 -5 1 -1 1 -2 1 16 1 -11 1 -3 1 10 1 -5 1 -3 1 13 1 8 1 2 1 -15 1 2 1 4 1 -23 1 2 1 -3 1 -4 1 9 1 -2 1 5 1 -5 1 9 1 -8 1 14 1 3 1 -9M0 -301l1 23 1 1 1 5 1 0 1 -8 1 3 1 4 1 2 1 -11 1 -2 1 14 1 7 1 5 1 -8 1 15 1 5 1 0 1 0 1 0 1 -1 1 -1 1 2 1 -2 1 11 1 11 1 1 1 -9 1 19 1 -9 1 5 1 9 1 -5 1 7 1 -2 1 -3 1 -1 1 -4 1 13 1 -3 1 -5 1 6 1 7 1 -5 1 -3 1 14 1 4 1 -3 1 -1 1 3 1 1 1 14 1 -10 1 6 1 -2 1 6 1 1 1 26 1 -20 1 -4 1 13 1 23 1 -22 1 7 1 -1 1 -2 1 6 1 -9 1 7 1 1 1 -5 1 0 1 5 1 2 1 -4 1 8 1 -6 1 7 1 2 1 0 1 11 1 -7 1 8 1 3 1 1 1 -1 1 -2 1 -1 1 3 1 9 1 0 1 -8 1 7 1 6 1 -2 1 -7 1 1 1 -5 1 2 1 -17 1 6 1 0 1 6 1 -3 1 3 1 0 1 -4 1 3 1 -4 1 1 1 14 1 -5M0 -194l1 1 1 22 1 -8 1 0 1 -3 1 5 1 -2 1 8 1 -9 1 15 1 -17 1 -1 1 12 1 -11 1 8 1 4 1 -4 1 7 1 2 1 -5 1 7 1 3 1 -12 1 9 1 8 1 -1 1 9 1 -14 1 0 1 3 1 9 1 -4 1 -1 1 4 1 4 1 7 1 -3 1 16 1 0 1 -4 1 9 1 1 1 -1 1 2 1 0 1 2 1 8 1 1 1 -2 1 4 1 0 1 3 1 9 1 -6 1 6 1 -1 1 13 1 -1 1 0 1 3 1 6 1 2 1 3 1 -2 1 3 1 -3 1 6 1 1 1 2 1 1 1 -3 1 7 1 0 1 2 1 4 1 -3 1 -2 1 6 1 -1 1 2 1 1 1 1 1 1 1 1 1 -3 1 3 1 3 1 -1 1 1 1 1 1 1 1 3 1 0 1 2 1 1 1 -2 1 -1 1 -1 1 -1 1 0 1 0 1 -1 1 3 1 -3 1 1 1 0 1 -1 1 1 1 0 1 3 1 0M0 -415l1 -26 1 -1 1 22 1 2 1 -13 1 12 1 -14 1 -6 1 -13 1 20 1 -6 1 2 1 17 1 -1 1 -17 1 29 1 0 1 11 1 -20 1 19 1 6 1 4 1 -12 1 20 1 5 1 -29 1 47 1 -25 1 -17 1 28 1 18 1 6 1 -12 1 3 1 -10 1 2 1 6 1 47 1 -25 1 -2 1 6 1 7 1 -12 1 13 1 12 1 -5 1 -10 1 -16 1 7 1 7 1 13 1 -10 1 25 1 -9 1 3 1 21 1 5 1 -3 1 -1 1 20 1 15 1 23 1 -14 1 -13 1 13 1 7 1 1 1 21 1 -14 1 30 1 -29 1 18 1 -3 1 0 1 -2 1 3 1 -4 1 11 1 -9 1 19 1 -10 1 11 1 -3 1 2 1 0 1 -2 1 10 1 -11 1 7 1 7 1 3 1 -3 1 19 1 -11 1 -5 1 -14 1 3 1 11 1 -18 1 0 1 3 1 -1 1 -4 1 -7 1 8 1 -10 1 0 1 8 1 -2 1 9 1 -15M0 -312l1 3 1 9 1 3 1 27 1 -22 1 13 1 -11 1 15 1 -10 1 7 1 13 1 -16 1 11 1 -9 1 3 1 24 1 -12 1 -8 1 -2 1 11 1 14 1 8 1 1 1 2 1 6 1 -9 1 16 1 -8 1 4 1 5 1 -1 1 5 1 1 1 -11 1 8 1 1 1 3 1 24 1 -5 1 -5 1 9 1 7 1 -15 1 5 1 7 1 -1 1 10 1 -7 1 19 1 -3 1 3 1 -1 1 7 1 -4 1 -4 1 9 1 4 1 -1 1 -8 1 16 1 -2 1 1 1 5 1 -2 1 7 1 2 1 4 1 11 1 -3 1 -6 1 0 1 4 1 -9 1 10 1 4 1 -1 1 0 1 7 1 -1 1 4 1 -2 1 4 1 4 1 2 1 -4 1 0 1 11 1 -9 1 -4 1 10 1 -11 1 6 1 3 1 4 1 1 1 -9 1 -3 1 1 1 -9 1 1 1 -1 1 2 1 4 1 1 1 4 1 -1 1 -3 1 1 1 2 1 4 1 -5M0 -272l1 6 1 4 1 9 1 15 1 -12 1 1 1 5 1 3 1 -8 1 8 1 -13 1 41 1 -29 1 -7 1 11 1 -2 1 5 1 -3 1 -5 1 3 1 9 1 -7 1 16 1 -15 1 2 1 -2 1 6 1 3 1 8 1 -6 1 -2 1 8 1 19 1 -22 1 -6 1 10 1 9 1 9 1 2 1 -9 1 12 1 6 1 -2 1 -11 1 8 1 1 1 8 1 3 1 -2 1 0 1 15 1 -6 1 7 1 -10 1 4 1 6 1 5 1 16 1 -10 1 11 1 5 1 -1 1 4 1 -5 1 8 1 5 1 11 1 -4 1 6 1 -1 1 1 1 3 1 2 1 1 1 5 1 -4 1 0 1 6 1 4 1 3 1 -1 1 1 1 3 1 5 1 -3 1 1 1 7 1 -5 1 -2 1 3 1 2 1 5 1 4 1 3 1 1 1 -5 1 -2 1 0 1 -7 1 2 1 8 1 -12 1 8 1 -2 1 2 1 -2 1 11 1 -8 1 0 1 8 1 -10M0 -188l1 -3 1 -5 1 15 1 -8 1 7 1 -2 1 3 1 -4 1 -11 1 8 1 4 1 0 1 7 1 6 1 -8 1 12 1 -5 1 3 1 2 1 -6 1 15 1 0 1 2 1 10 1 -1 1 -6 1 7 1 2 1 8 1 -8 1 9 1 1 1 4 1 -1 1 6 1 -4 1 -2 1 11 1 1 1 9 1 -10 1 3 1 -7 1 8 1 3 1 -7 1 5 1 11 1 1 1 2 1 -7 1 1 1 9 1 1 1 -3 1 0 1 8 1 1 1 -1 1 7 1 1 1 3 1 0 1 0 1 0 1 1 1 3 1 2 1 1 1 1 1 -3 1 4 1 8 1 -5 1 3 1 5 1 -3 1 4 1 2 1 2 1 -2 1 1 1 5 1 4 1 -2 1 1 1 2 1 1 1 0 1 2 1 1 1 -1 1 0 1 2 1 1 1 -2 1 0 1 -3 1 -2 1 -2 1 1 1 2 1 0 1 -1 1 -1 1 -1 1 2 1 0 1 8 1 -6 1 1M0 -325l1 0 1 -12 1 28 1 -13 1 4 1 2 1 -3 1 -12 1 6 1 9 1 28 1 -33 1 33 1 27 1 -28 1 10 1 -10 1 2 1 -2 1 15 1 -10 1 6 1 3 1 7 1 -14 1 2 1 13 1 -18 1 9 1 8 1 -1 1 16 1 1 1 -15 1 7 1 1 1 -3 1 26 1 -3 1 -21 1 19 1 -8 1 4 1 5 1 -3 1 2 1 6 1 -8 1 8 1 7 1 5 1 9 1 8 1 -14 1 10 1 2 1 10 1 8 1 6 1 9 1 -10 1 -6 1 12 1 -1 1 0 1 16 1 -8 1 4 1 5 1 3 1 -1 1 8 1 4 1 7 1 0 1 -3 1 4 1 0 1 2 1 10 1 -6 1 -3 1 -4 1 8 1 15 1 -19 1 5 1 -8 1 3 1 1 1 -2 1 -4 1 11 1 4 1 -1 1 -9 1 4 1 6 1 -8 1 3 1 3 1 10 1 -20 1 2 1 10 1 -12 1 7 1 0 1 7 1 1 1 -5M0 -214l1 -1 1 20 1 -19 1 13 1 -13 1 4 1 -1 1 25 1 -12 1 -1 1 7 1 -6 1 0 1 -11 1 13 1 5 1 -5 1 3 1 1 1 0 1 2 1 8 1 6 1 -9 1 2 1 -1 1 12 1 10 1 -14 1 3 1 12 1 2 1 -5 1 6 1 -2 1 -1 1 4 1 5 1 -2 1 2 1 2 1 7 1 -6 1 5 1 8 1 -6 1 11 1 1 1 5 1 -8 1 6 1 6 1 5 1 0 1 4 1 0 1 8 1 -2 1 -2 1 10 1 -4 1 6 1 -1 1 4 1 0 1 2 1 4 1 4 1 1 1 3 1 0 1 3 1 1 1 5 1 2 1 1 1 1 1 1 1 3 1 0 1 -2 1 2 1 3 1 1 1 0 1 0 1 1 1 -2 1 1 1 0 1 6 1 -5 1 1 1 5 1 2 1 -4 1 3 1 -5 1 -4 1 0 1 -1 1 3 1 -1 1 1 1 1 1 4 1 -4 1 0 1 -1 1 1 1 5M0 -353l1 11 1 6 1 -1 1 20 1 -21 1 16 1 5 1 3 1 0 1 -1 1 20 1 30 1 -24 1 -9 1 -4 1 26 1 -15 1 -4 1 -6 1 3 1 4 1 22 1 -26 1 16 1 18 1 -4 1 12 1 -11 1 5 1 9 1 13 1 -5 1 -2 1 -4 1 5 1 2 1 -2 1 27 1 2 1 -17 1 12 1 0 1 -8 1 -1 1 20 1 -10 1 1 1 -1 1 1 1 12 1 7 1 -7 1 16 1 -22 1 15 1 -17 1 7 1 21 1 -17 1 2 1 -3 1 3 1 13 1 4 1 4 1 -9 1 9 1 -8 1 20 1 -7 1 8 1 1 1 2 1 5 1 14 1 -12 1 0 1 5 1 0 1 7 1 -7 1 -1 1 0 1 3 1 4 1 -1 1 25 1 -29 1 10 1 7 1 -6 1 5 1 5 1 -5 1 6 1 -9 1 4 1 -3 1 -10 1 -4 1 -2 1 8 1 1 1 0 1 -2 1 -7 1 9 1 -9 1 7 1 9 1 -12M0 -375l1 -5 1 8 1 14 1 -2 1 -10 1 -4 1 -1 1 30 1 -20 1 14 1 16 1 -21 1 29 1 -26 1 9 1 -2 1 4 1 15 1 -4 1 -17 1 29 1 -18 1 8 1 10 1 8 1 -13 1 17 1 -16 1 19 1 2 1 -4 1 20 1 -13 1 1 1 -14 1 5 1 7 1 22 1 -5 1 -14 1 11 1 0 1 -11 1 11 1 -20 1 9 1 15 1 3 1 7 1 -3 1 -1 1 5 1 9 1 -4 1 10 1 0 1 13 1 -4 1 5 1 13 1 -4 1 4 1 13 1 -3 1 6 1 -3 1 -1 1 1 1 9 1 -10 1 7 1 2 1 -6 1 5 1 15 1 -13 1 -2 1 19 1 -5 1 5 1 0 1 8 1 -4 1 -3 1 2 1 -3 1 0 1 8 1 -3 1 -1 1 0 1 5 1 5 1 3 1 7 1 -13 1 -2 1 2 1 -8 1 -3 1 8 1 7 1 -5 1 6 1 0 1 -4 1 2 1 0 1 5 1 -1 1 3M0 -216l1 14 1 -11 1 6 1 -1 1 0 1 0 1 0 1 15 1 -15 1 3 1 -2 1 5 1 3 1 18 1 -8 1 2 1 -5 1 -2 1 6 1 7 1 4 1 2 1 3 1 12 1 16 1 -23 1 13 1 -9 1 3 1 2 1 11 1 -3 1 6 1 2 1 1 1 -15 1 13 1 4 1 13 1 -15 1 7 1 0 1 -2 1 1 1 6 1 -1 1 6 1 1 1 4 1 -1 1 8 1 10 1 -13 1 -1 1 4 1 5 1 8 1 -2 1 0 1 8 1 1 1 -4 1 7 1 0 1 3 1 3 1 5 1 0 1 7 1 -5 1 0 1 7 1 0 1 4 1 6 1 -7 1 2 1 2 1 -2 1 3 1 2 1 3 1 -2 1 2 1 -2 1 -1 1 7 1 -6 1 3 1 4 1 -5 1 4 1 2 1 0 1 3 1 0 1 -5 1 -1 1 -2 1 -1 1 2 1 0 1 1 1 4 1 -3 1 -4 1 3 1 1 1 0 1 3 1 -6M0 -201l1 -16 1 10 1 0 1 4 1 3 1 2 1 6 1 9 1 -11 1 5 1 4 1 -2 1 13 1 -16 1 -2 1 14 1 -2 1 12 1 -8 1 -3 1 16 1 5 1 -3 1 5 1 7 1 -2 1 2 1 -1 1 7 1 6 1 1 1 0 1 0 1 -6 1 5 1 -7 1 14 1 2 1 -6 1 8 1 -1 1 -1 1 7 1 -6 1 7 1 1 1 1 1 1 1 1 1 1 1 9 1 -4 1 7 1 -3 1 3 1 1 1 2 1 8 1 -1 1 3 1 3 1 4 1 -2 1 2 1 3 1 -2 1 2 1 3 1 -2 1 5 1 1 1 -3 1 1 1 2 1 3 1 -2 1 4 1 4 1 -1 1 4 1 -1 1 -1 1 8 1 -3 1 0 1 1 1 2 1 -1 1 -2 1 6 1 -2 1 3 1 0 1 0 1 1 1 -3 1 -1 1 0 1 -2 1 0 1 3 1 -3 1 2 1 -2 1 0 1 0 1 2 1 -2 1 2 1 4 1 -4M0 -438l1 25 1 -5 1 1 1 16 1 -31 1 2 1 7 1 12 1 -16 1 14 1 1 1 9 1 1 1 8 1 -5 1 16 1 5 1 -3 1 -3 1 -5 1 1 1 15 1 5 1 -4 1 5 1 -13 1 -9 1 -3 1 1 1 28 1 -5 1 -3 1 4 1 7 1 41 1 -29 1 3 1 13 1 -12 1 -12 1 12 1 6 1 5 1 -2 1 52 1 -39 1 8 1 7 1 7 1 -7 1 -2 1 2 1 20 1 -6 1 7 1 12 1 -2 1 9 1 -5 1 19 1 -2 1 -5 1 14 1 4 1 7 1 -7 1 10 1 3 1 17 1 -10 1 -2 1 11 1 -11 1 4 1 5 1 -3 1 1 1 10 1 1 1 7 1 -17 1 10 1 5 1 2 1 6 1 25 1 -20 1 -3 1 -10 1 29 1 -13 1 2 1 17 1 -21 1 5 1 -8 1 5 1 2 1 -4 1 -7 1 -3 1 24 1 -20 1 -1 1 -14 1 -10 1 13 1 5 1 3 1 6 1 -2M0 -236l1 7 1 5 1 20 1 -10 1 -14 1 7 1 -5 1 -1 1 6 1 8 1 -1 1 1 1 4 1 6 1 20 1 -6 1 -2 1 2 1 5 1 -7 1 -2 1 10 1 0 1 1 1 8 1 0 1 6 1 -8 1 -1 1 11 1 -1 1 14 1 -14 1 7 1 -3 1 3 1 -1 1 11 1 2 1 3 1 3 1 1 1 1 1 3 1 1 1 -1 1 19 1 -13 1 2 1 2 1 -2 1 8 1 -1 1 3 1 3 1 3 1 15 1 -7 1 -3 1 9 1 -2 1 9 1 -3 1 1 1 -2 1 -3 1 6 1 5 1 3 1 -1 1 2 1 4 1 0 1 0 1 -1 1 4 1 2 1 4 1 -1 1 2 1 5 1 -2 1 -1 1 -1 1 1 1 1 1 2 1 1 1 1 1 1 1 2 1 1 1 2 1 0 1 -1 1 -2 1 -3 1 1 1 -5 1 1 1 0 1 2 1 -1 1 0 1 -1 1 -1 1 2 1 2 1 2 1 2 1 -4M0 -245l1 -3 1 5 1 7 1 1 1 0 1 11 1 -13 1 9 1 -6 1 -6 1 8 1 6 1 28 1 -30 1 6 1 -1 1 -1 1 -2 1 1 1 0 1 10 1 6 1 -1 1 15 1 -13 1 8 1 7 1 -12 1 -2 1 13 1 3 1 8 1 -10 1 1 1 4 1 -9 1 16 1 14 1 -4 1 -1 1 -1 1 -6 1 8 1 6 1 -3 1 3 1 5 1 -6 1 0 1 0 1 11 1 4 1 9 1 -7 1 3 1 2 1 3 1 6 1 0 1 8 1 3 1 2 1 -6 1 7 1 4 1 -6 1 7 1 14 1 -10 1 -1 1 0 1 9 1 0 1 0 1 10 1 -7 1 3 1 9 1 -3 1 2 1 2 1 3 1 0 1 2 1 -1 1 3 1 1 1 0 1 3 1 1 1 1 1 1 1 4 1 3 1 0 1 -6 1 4 1 -1 1 2 1 -9 1 1 1 2 1 2 1 2 1 -1 1 -3 1 4 1 1 1 3 1 4 1 -2M0 -361l1 -63 1 1 1 -3 1 15 1 -6 1 11 1 -25 1 15 1 -19 1 3 1 14 1 20 1 2 1 -20 1 48 1 -26 1 6 1 -4 1 -18 1 35 1 23 1 -14 1 1 1 7 1 10 1 -7 1 15 1 -25 1 14 1 19 1 -3 1 -6 1 6 1 -26 1 10 1 19 1 -14 1 32 1 -4 1 -8 1 16 1 0 1 -25 1 22 1 -9 1 8 1 10 1 -6 1 -3 1 18 1 1 1 -5 1 6 1 -17 1 2 1 -5 1 20 1 6 1 -5 1 10 1 6 1 -10 1 7 1 8 1 -4 1 0 1 7 1 -4 1 25 1 -11 1 7 1 16 1 -12 1 22 1 -14 1 -3 1 -1 1 13 1 9 1 -2 1 -2 1 16 1 -4 1 -7 1 5 1 -6 1 7 1 -14 1 0 1 21 1 -10 1 2 1 1 1 18 1 -8 1 -9 1 -4 1 10 1 -19 1 -5 1 3 1 12 1 -1 1 -3 1 -4 1 -5 1 8 1 6 1 -4 1 15 1 -4M0 -387l1 10 1 -27 1 9 1 14 1 -12 1 10 1 11 1 -20 1 -12 1 28 1 5 1 36 1 -37 1 10 1 -3 1 27 1 -10 1 10 1 -7 1 -1 1 -1 1 23 1 -18 1 8 1 22 1 -7 1 8 1 -5 1 -2 1 -1 1 11 1 0 1 7 1 -8 1 14 1 -14 1 16 1 24 1 -16 1 -8 1 22 1 0 1 -5 1 -1 1 -2 1 -2 1 45 1 -50 1 4 1 0 1 9 1 -10 1 12 1 -12 1 7 1 16 1 0 1 3 1 -3 1 15 1 -3 1 0 1 3 1 4 1 8 1 -6 1 14 1 9 1 -1 1 5 1 -3 1 8 1 -1 1 -1 1 0 1 3 1 -1 1 19 1 -4 1 22 1 -27 1 8 1 -4 1 -4 1 1 1 -3 1 9 1 0 1 7 1 5 1 -12 1 8 1 12 1 -3 1 8 1 -10 1 -1 1 2 1 -3 1 -5 1 -1 1 1 1 -1 1 11 1 -4 1 12 1 -3 1 6 1 5 1 3 1 -12M0 -225l1 -1 1 4 1 -2 1 17 1 -4 1 -3 1 -2 1 -1 1 5 1 3 1 -9 1 4 1 10 1 -6 1 5 1 11 1 -7 1 7 1 -5 1 -2 1 4 1 -1 1 4 1 7 1 -7 1 17 1 -8 1 -8 1 4 1 16 1 0 1 1 1 -3 1 -2 1 7 1 -5 1 9 1 9 1 -1 1 -5 1 8 1 -6 1 5 1 2 1 -2 1 10 1 -8 1 2 1 11 1 -3 1 3 1 13 1 2 1 0 1 1 1 1 1 7 1 1 1 2 1 6 1 2 1 8 1 3 1 0 1 -4 1 2 1 7 1 -3 1 5 1 -2 1 5 1 4 1 -4 1 5 1 2 1 -4 1 1 1 8 1 -2 1 2 1 1 1 -2 1 1 1 6 1 -2 1 1 1 5 1 -1 1 1 1 3 1 -2 1 2 1 3 1 2 1 1 1 -4 1 -2 1 1 1 -2 1 0 1 2 1 0 1 2 1 -1 1 1 1 -1 1 0 1 4 1 -1 1 4 1 -5M0 -359l1 6 1 14 1 4 1 12 1 -7 1 -6 1 7 1 11 1 -27 1 28 1 7 1 -3 1 -3 1 -7 1 7 1 16 1 -27 1 15 1 17 1 -25 1 8 1 23 1 -26 1 17 1 5 1 -3 1 12 1 5 1 -4 1 12 1 1 1 -10 1 14 1 -13 1 -8 1 2 1 0 1 6 1 10 1 0 1 11 1 -4 1 -12 1 21 1 9 1 3 1 -5 1 -15 1 7 1 11 1 -6 1 -4 1 10 1 2 1 -4 1 3 1 10 1 5 1 -17 1 13 1 15 1 -3 1 6 1 -5 1 22 1 -18 1 16 1 -1 1 22 1 -19 1 -12 1 9 1 6 1 20 1 -19 1 -6 1 3 1 11 1 -12 1 6 1 6 1 -2 1 12 1 -7 1 2 1 2 1 3 1 -2 1 2 1 12 1 -1 1 3 1 -1 1 6 1 4 1 -18 1 4 1 5 1 -8 1 1 1 -4 1 12 1 -9 1 -2 1 1 1 8 1 -9 1 2 1 26 1 -12 1 -15M0 -302l1 -4 1 2 1 6 1 13 1 -6 1 2 1 11 1 4 1 27 1 -38 1 16 1 -5 1 4 1 0 1 20 1 -8 1 -11 1 8 1 1 1 30 1 -19 1 -1 1 4 1 8 1 28 1 -30 1 6 1 4 1 -7 1 5 1 -10 1 0 1 2 1 -1 1 8 1 -1 1 22 1 9 1 -12 1 -7 1 13 1 -4 1 -14 1 12 1 -3 1 4 1 1 1 2 1 9 1 -11 1 15 1 -5 1 12 1 1 1 2 1 -4 1 13 1 -3 1 -2 1 3 1 11 1 -6 1 3 1 -5 1 7 1 -8 1 24 1 3 1 6 1 -9 1 6 1 12 1 -3 1 -2 1 -1 1 3 1 11 1 1 1 -2 1 2 1 5 1 1 1 -1 1 6 1 -8 1 2 1 12 1 -2 1 2 1 5 1 3 1 -8 1 -3 1 8 1 4 1 -6 1 -4 1 3 1 -6 1 -1 1 5 1 -2 1 7 1 -6 1 4 1 0 1 0 1 -3 1 5 1 3 1 -9M0 -219l1 6 1 -3 1 -1 1 1 1 14 1 -7 1 26 1 -11 1 -2 1 8 1 0 1 4 1 3 1 1 1 5 1 5 1 -7 1 5 1 2 1 0 1 8 1 2 1 -4 1 2 1 -3 1 7 1 -3 1 4 1 4 1 2 1 2 1 2 1 6 1 -3 1 5 1 0 1 3 1 -4 1 11 1 -7 1 2 1 10 1 -11 1 6 1 0 1 8 1 -2 1 0 1 -5 1 3 1 2 1 4 1 4 1 -1 1 7 1 -3 1 9 1 -3 1 -3 1 4 1 2 1 3 1 1 1 3 1 5 1 0 1 1 1 1 1 3 1 3 1 -2 1 6 1 2 1 4 1 -2 1 2 1 1 1 1 1 -2 1 7 1 -1 1 2 1 0 1 4 1 1 1 0 1 3 1 1 1 -2 1 6 1 0 1 -1 1 5 1 -2 1 1 1 0 1 -6 1 0 1 -2 1 1 1 3 1 -3 1 1 1 0 1 -2 1 5 1 -1 1 3 1 -4 1 3 1 -2M0 -193l1 3 1 7 1 3 1 -3 1 4 1 -7 1 4 1 2 1 0 1 6 1 2 1 -1 1 5 1 -7 1 5 1 4 1 -4 1 3 1 -3 1 7 1 3 1 -1 1 -5 1 11 1 1 1 -3 1 5 1 -2 1 3 1 0 1 15 1 -4 1 2 1 -3 1 -2 1 21 1 -7 1 3 1 3 1 -4 1 8 1 -2 1 -1 1 0 1 4 1 0 1 9 1 2 1 9 1 -11 1 10 1 2 1 2 1 -3 1 7 1 -1 1 2 1 1 1 1 1 3 1 2 1 4 1 0 1 2 1 0 1 4 1 1 1 4 1 0 1 4 1 -2 1 6 1 2 1 -1 1 3 1 -4 1 4 1 -1 1 3 1 0 1 6 1 -2 1 0 1 3 1 4 1 -5 1 1 1 5 1 -2 1 0 1 4 1 -2 1 4 1 0 1 3 1 -5 1 0 1 -2 1 -3 1 2 1 2 1 -3 1 1 1 1 1 -1 1 1 1 0 1 0 1 0 1 0 1 -4M0 -416l1 25 1 -1 1 13 1 -7 1 -6 1 11 1 26 1 -1 1 -13 1 45 1 -46 1 -5 1 41 1 -31 1 16 1 2 1 -14 1 11 1 -3 1 7 1 0 1 8 1 26 1 -26 1 18 1 -8 1 14 1 -7 1 14 1 13 1 17 1 -20 1 -5 1 16 1 -4 1 -14 1 -4 1 5 1 5 1 -12 1 9 1 -8 1 -3 1 15 1 -2 1 3 1 5 1 10 1 2 1 1 1 -6 1 3 1 -1 1 -2 1 5 1 15 1 6 1 17 1 -16 1 15 1 -3 1 -5 1 6 1 18 1 -15 1 10 1 13 1 8 1 -11 1 22 1 -15 1 7 1 0 1 11 1 1 1 7 1 -8 1 -4 1 8 1 14 1 -6 1 6 1 1 1 5 1 -16 1 4 1 8 1 2 1 12 1 -3 1 -1 1 -8 1 9 1 13 1 -9 1 -4 1 -6 1 0 1 -6 1 3 1 -2 1 -4 1 14 1 -1 1 -3 1 -2 1 1 1 0 1 -1 1 11 1 -15M0 -317l1 41 1 -37 1 8 1 5 1 -7 1 -2 1 -1 1 15 1 -14 1 -1 1 4 1 17 1 -22 1 -3 1 12 1 -3 1 17 1 -11 1 34 1 -49 1 24 1 17 1 -11 1 0 1 -3 1 3 1 13 1 -4 1 -2 1 -1 1 6 1 -4 1 7 1 -5 1 17 1 -6 1 -3 1 15 1 7 1 -9 1 1 1 -1 1 -2 1 14 1 -3 1 4 1 10 1 0 1 -7 1 2 1 5 1 4 1 -2 1 6 1 7 1 -1 1 14 1 3 1 9 1 -1 1 -4 1 4 1 0 1 13 1 6 1 20 1 -24 1 14 1 -14 1 6 1 -3 1 2 1 3 1 6 1 4 1 -14 1 8 1 6 1 1 1 8 1 -2 1 -2 1 6 1 1 1 0 1 -1 1 3 1 -2 1 8 1 1 1 -3 1 8 1 5 1 -1 1 19 1 -20 1 -5 1 0 1 -7 1 3 1 -3 1 12 1 -2 1 -1 1 -2 1 5 1 -5 1 9 1 1 1 2 1 -12M0 -217l1 9 1 -11 1 -9 1 8 1 -9 1 8 1 11 1 -4 1 -2 1 2 1 7 1 2 1 -6 1 6 1 5 1 4 1 14 1 -18 1 1 1 1 1 22 1 -5 1 -9 1 20 1 0 1 3 1 0 1 -1 1 -1 1 5 1 6 1 2 1 -6 1 8 1 0 1 3 1 1 1 12 1 -9 1 7 1 4 1 17 1 -23 1 6 1 3 1 6 1 -3 1 8 1 -7 1 15 1 -8 1 4 1 2 1 -3 1 9 1 2 1 -3 1 7 1 -1 1 5 1 7 1 1 1 -3 1 1 1 5 1 1 1 2 1 5 1 -3 1 3 1 7 1 -5 1 1 1 0 1 7 1 0 1 3 1 4 1 0 1 0 1 4 1 1 1 -1 1 0 1 -2 1 4 1 2 1 -2 1 0 1 5 1 1 1 2 1 1 1 -1 1 6 1 -7 1 0 1 1 1 -4 1 -1 1 0 1 0 1 2 1 3 1 -4 1 -1 1 1 1 1 1 1 1 1 1 0M0 -214l1 -2 1 -3 1 0 1 14 1 2 1 -7 1 1 1 4 1 -3 1 2 1 -2 1 -8 1 13 1 -1 1 3 1 7 1 10 1 -7 1 10 1 -7 1 5 1 11 1 -5 1 -5 1 7 1 0 1 5 1 -2 1 -2 1 11 1 3 1 3 1 5 1 -5 1 1 1 5 1 -6 1 19 1 -8 1 2 1 5 1 15 1 -16 1 3 1 0 1 9 1 2 1 3 1 5 1 -1 1 1 1 7 1 4 1 -2 1 14 1 -6 1 2 1 3 1 -1 1 6 1 1 1 6 1 -1 1 6 1 3 1 10 1 -9 1 0 1 6 1 -1 1 1 1 3 1 0 1 -1 1 -1 1 2 1 1 1 5 1 -3 1 3 1 0 1 1 1 6 1 -4 1 0 1 -3 1 4 1 -2 1 -1 1 5 1 -2 1 3 1 3 1 2 1 -2 1 -4 1 -1 1 -4 1 1 1 -1 1 0 1 -1 1 10 1 -9 1 0 1 5 1 -3 1 1 1 1 1 0 1 1M0 -408l1 7 1 16 1 -3 1 17 1 -10 1 14 1 4 1 5 1 -25 1 8 1 13 1 -6 1 12 1 -32 1 32 1 19 1 -7 1 31 1 -38 1 6 1 -6 1 18 1 -17 1 1 1 21 1 -4 1 20 1 -18 1 -18 1 4 1 31 1 -21 1 21 1 -27 1 6 1 -3 1 8 1 5 1 5 1 1 1 9 1 1 1 -6 1 1 1 9 1 3 1 16 1 -2 1 -9 1 12 1 3 1 9 1 14 1 -16 1 8 1 -2 1 16 1 8 1 -7 1 17 1 1 1 -4 1 4 1 -2 1 10 1 7 1 -2 1 14 1 2 1 3 1 -16 1 9 1 -2 1 8 1 3 1 -1 1 -11 1 11 1 6 1 3 1 -10 1 8 1 18 1 -22 1 5 1 7 1 -1 1 -7 1 -1 1 6 1 2 1 4 1 -1 1 6 1 -1 1 -14 1 0 1 5 1 -24 1 10 1 0 1 7 1 9 1 -2 1 -9 1 -6 1 11 1 3 1 -2 1 11 1 -9M0 -309l1 3 1 -7 1 12 1 14 1 -20 1 15 1 -1 1 13 1 -21 1 12 1 7 1 -6 1 10 1 2 1 -1 1 -2 1 6 1 -11 1 5 1 -11 1 6 1 22 1 -11 1 12 1 4 1 -8 1 6 1 -3 1 1 1 28 1 -11 1 -5 1 6 1 -6 1 15 1 -12 1 4 1 12 1 -10 1 5 1 7 1 -1 1 -23 1 16 1 3 1 1 1 15 1 -4 1 -2 1 -15 1 15 1 -5 1 4 1 -3 1 3 1 -4 1 20 1 -9 1 -5 1 10 1 2 1 -9 1 7 1 5 1 4 1 5 1 13 1 12 1 -3 1 0 1 -8 1 14 1 -11 1 12 1 4 1 6 1 2 1 6 1 -4 1 12 1 -5 1 2 1 -1 1 6 1 -4 1 -5 1 15 1 -5 1 -2 1 7 1 -4 1 8 1 5 1 2 1 -4 1 3 1 3 1 0 1 -5 1 -2 1 4 1 -7 1 -1 1 -5 1 -3 1 4 1 3 1 -5 1 1 1 3 1 -4M0 -350l1 7 1 7 1 9 1 2 1 -7 1 1 1 11 1 -3 1 -1 1 -18 1 13 1 -3 1 33 1 -35 1 8 1 6 1 -2 1 4 1 0 1 6 1 19 1 -6 1 -1 1 3 1 17 1 -2 1 7 1 -15 1 2 1 -7 1 18 1 7 1 -1 1 -3 1 3 1 -5 1 -1 1 19 1 -16 1 7 1 5 1 2 1 -4 1 3 1 7 1 -6 1 4 1 19 1 -18 1 8 1 -2 1 13 1 8 1 -6 1 4 1 9 1 -6 1 1 1 6 1 9 1 -11 1 2 1 20 1 3 1 -5 1 9 1 1 1 1 1 -9 1 -2 1 6 1 3 1 -4 1 4 1 -4 1 12 1 -4 1 3 1 10 1 1 1 8 1 -3 1 -1 1 11 1 -3 1 -3 1 4 1 -2 1 6 1 7 1 -4 1 1 1 0 1 12 1 -10 1 -3 1 3 1 1 1 -10 1 4 1 5 1 2 1 -5 1 -1 1 -17 1 17 1 -1 1 1 1 1 1 5 1 -13M0 -339l1 1 1 5 1 3 1 18 1 -25 1 7 1 17 1 -19 1 -5 1 3 1 15 1 5 1 21 1 -12 1 -2 1 0 1 10 1 -5 1 6 1 10 1 -5 1 25 1 -30 1 0 1 8 1 -8 1 9 1 -3 1 4 1 9 1 11 1 -9 1 7 1 -19 1 11 1 -9 1 13 1 24 1 -28 1 1 1 14 1 7 1 -12 1 11 1 7 1 4 1 0 1 1 1 8 1 2 1 -1 1 -9 1 12 1 -2 1 -5 1 19 1 0 1 0 1 -11 1 14 1 7 1 -2 1 3 1 -2 1 19 1 2 1 -8 1 24 1 -9 1 5 1 -6 1 13 1 16 1 -11 1 7 1 -3 1 -6 1 14 1 -15 1 7 1 17 1 -11 1 2 1 -1 1 -1 1 2 1 -2 1 8 1 -2 1 6 1 -2 1 2 1 -4 1 8 1 5 1 -6 1 3 1 -1 1 4 1 -10 1 4 1 -4 1 6 1 -1 1 4 1 -5 1 2 1 -5 1 -3 1 20 1 -19M0 -236l1 -10 1 -10 1 23 1 0 1 -2 1 3 1 4 1 1 1 -5 1 11 1 3 1 -11 1 11 1 -4 1 -5 1 12 1 -5 1 -1 1 2 1 -9 1 9 1 6 1 5 1 -3 1 12 1 -3 1 19 1 -9 1 -8 1 4 1 13 1 -5 1 1 1 2 1 5 1 -2 1 4 1 1 1 2 1 10 1 -7 1 26 1 -19 1 3 1 -2 1 8 1 9 1 -7 1 0 1 -1 1 12 1 1 1 13 1 -4 1 2 1 9 1 -3 1 5 1 -2 1 5 1 4 1 -5 1 11 1 -4 1 8 1 2 1 3 1 5 1 2 1 0 1 0 1 3 1 4 1 -3 1 10 1 -4 1 1 1 3 1 2 1 -1 1 2 1 1 1 0 1 6 1 -2 1 2 1 3 1 -4 1 0 1 5 1 -2 1 2 1 3 1 3 1 1 1 -6 1 2 1 -3 1 -3 1 0 1 -1 1 -1 1 3 1 2 1 1 1 -5 1 1 1 0 1 3 1 4 1 -2M0 -217l1 14 1 -12 1 0 1 5 1 -4 1 15 1 -6 1 9 1 -2 1 10 1 -2 1 -1 1 21 1 -20 1 -1 1 18 1 -18 1 1 1 1 1 4 1 9 1 7 1 -7 1 3 1 -1 1 -6 1 6 1 -3 1 4 1 -7 1 19 1 0 1 -4 1 4 1 -3 1 7 1 -7 1 23 1 -7 1 -1 1 4 1 1 1 -3 1 9 1 0 1 3 1 5 1 5 1 1 1 11 1 -3 1 -2 1 4 1 -1 1 -1 1 6 1 6 1 8 1 -8 1 6 1 9 1 -10 1 3 1 5 1 -1 1 2 1 0 1 3 1 -1 1 1 1 -1 1 7 1 6 1 -1 1 3 1 3 1 3 1 2 1 1 1 3 1 2 1 3 1 1 1 0 1 2 1 0 1 4 1 -5 1 1 1 4 1 0 1 2 1 2 1 1 1 1 1 -2 1 -3 1 0 1 2 1 -4 1 2 1 1 1 0 1 1 1 -1 1 -1 1 1 1 5 1 -3 1 3 1 -1M0 -210l1 -6 1 8 1 2 1 17 1 -3 1 3 1 -1 1 8 1 -10 1 2 1 4 1 -1 1 -2 1 3 1 11 1 3 1 -10 1 3 1 -2 1 -7 1 12 1 -1 1 -8 1 7 1 6 1 -2 1 5 1 0 1 0 1 -1 1 7 1 4 1 4 1 3 1 -1 1 6 1 -4 1 8 1 9 1 1 1 6 1 -4 1 -3 1 11 1 1 1 -2 1 3 1 3 1 -1 1 -4 1 7 1 1 1 4 1 -2 1 5 1 0 1 7 1 7 1 -3 1 11 1 -6 1 2 1 3 1 -2 1 6 1 2 1 10 1 -6 1 3 1 1 1 0 1 2 1 0 1 1 1 5 1 1 1 -3 1 7 1 -1 1 6 1 -3 1 3 1 0 1 3 1 2 1 -1 1 3 1 1 1 0 1 3 1 0 1 -1 1 3 1 0 1 2 1 -4 1 1 1 -2 1 -1 1 0 1 1 1 -2 1 3 1 0 1 -1 1 -1 1 -1 1 1 1 5 1 -4 1 -4M0 -270l1 -5 1 11 1 10 1 2 1 -4 1 3 1 0 1 9 1 -8 1 25 1 -4 1 5 1 -14 1 5 1 -8 1 16 1 -14 1 3 1 13 1 1 1 6 1 17 1 -17 1 8 1 15 1 -15 1 19 1 -21 1 13 1 2 1 4 1 2 1 -1 1 -1 1 -10 1 3 1 3 1 6 1 -9 1 11 1 -2 1 5 1 -16 1 7 1 2 1 -6 1 12 1 6 1 -8 1 8 1 7 1 7 1 10 1 -10 1 6 1 -1 1 6 1 6 1 16 1 -3 1 0 1 1 1 1 1 0 1 4 1 2 1 4 1 12 1 0 1 2 1 -3 1 -2 1 7 1 -1 1 7 1 1 1 -1 1 8 1 0 1 2 1 -1 1 4 1 1 1 -3 1 4 1 0 1 8 1 -4 1 1 1 4 1 3 1 1 1 2 1 4 1 3 1 -3 1 -3 1 -2 1 -4 1 -2 1 0 1 0 1 2 1 1 1 -2 1 1 1 3 1 -2 1 2 1 7 1 -4M0 -419l1 -2 1 1 1 -4 1 22 1 -13 1 11 1 -9 1 1 1 -22 1 10 1 12 1 -11 1 30 1 6 1 5 1 10 1 -21 1 -15 1 28 1 6 1 10 1 19 1 -19 1 21 1 13 1 0 1 -9 1 -15 1 2 1 14 1 4 1 -1 1 9 1 0 1 -1 1 -8 1 -7 1 44 1 -16 1 0 1 23 1 -12 1 7 1 -26 1 25 1 -6 1 8 1 7 1 -13 1 4 1 -5 1 17 1 11 1 -8 1 6 1 -12 1 20 1 -1 1 1 1 7 1 12 1 -4 1 9 1 18 1 -11 1 -5 1 18 1 -2 1 0 1 -4 1 1 1 15 1 -12 1 6 1 7 1 4 1 -6 1 16 1 -15 1 15 1 -7 1 15 1 -5 1 8 1 -4 1 -2 1 5 1 -5 1 4 1 12 1 -3 1 -6 1 5 1 11 1 1 1 -15 1 1 1 -4 1 -15 1 0 1 4 1 -1 1 11 1 3 1 -11 1 2 1 3 1 -4 1 0 1 10 1 -15M0 -339l1 18 1 9 1 -2 1 12 1 -18 1 14 1 -3 1 -9 1 6 1 5 1 0 1 4 1 -5 1 18 1 6 1 -3 1 17 1 -17 1 15 1 -24 1 16 1 -5 1 8 1 8 1 -10 1 10 1 -2 1 0 1 -4 1 1 1 23 1 -23 1 1 1 9 1 6 1 6 1 -15 1 11 1 -16 1 6 1 -7 1 5 1 3 1 0 1 -5 1 21 1 -10 1 4 1 -5 1 11 1 9 1 20 1 -5 1 -5 1 7 1 5 1 4 1 -3 1 4 1 2 1 4 1 -1 1 3 1 7 1 -2 1 12 1 0 1 8 1 3 1 -5 1 11 1 8 1 -14 1 15 1 6 1 -9 1 6 1 4 1 2 1 12 1 -12 1 7 1 -3 1 -2 1 3 1 0 1 6 1 -2 1 6 1 -1 1 3 1 5 1 -1 1 3 1 -1 1 -3 1 0 1 -4 1 -5 1 0 1 6 1 2 1 -1 1 -2 1 3 1 4 1 -4 1 0 1 0 1 7 1 -5M0 -508l1 -8 1 6 1 16 1 18 1 -9 1 10 1 0 1 -1 1 -15 1 4 1 9 1 -25 1 30 1 -7 1 -10 1 19 1 -18 1 64 1 -56 1 16 1 12 1 0 1 7 1 22 1 -24 1 4 1 -1 1 27 1 -23 1 13 1 13 1 -2 1 12 1 -42 1 41 1 -22 1 4 1 28 1 -9 1 -33 1 36 1 9 1 -18 1 26 1 -28 1 31 1 -8 1 -5 1 -10 1 0 1 21 1 -9 1 21 1 4 1 1 1 1 1 6 1 26 1 -30 1 34 1 13 1 -8 1 35 1 -25 1 20 1 -8 1 14 1 1 1 12 1 7 1 -27 1 27 1 -8 1 6 1 16 1 -20 1 -3 1 3 1 11 1 9 1 1 1 7 1 1 1 -7 1 9 1 -9 1 28 1 -25 1 7 1 17 1 -7 1 0 1 4 1 0 1 17 1 -26 1 22 1 -5 1 -23 1 5 1 -6 1 1 1 8 1 2 1 -4 1 5 1 -1 1 -1 1 13 1 5 1 -17M0 -214l1 -2 1 3 1 4 1 30 1 -25 1 3 1 3 1 9 1 -17 1 1 1 7 1 -3 1 5 1 11 1 -6 1 2 1 -8 1 7 1 1 1 22 1 -20 1 19 1 -12 1 6 1 4 1 2 1 -2 1 11 1 -9 1 13 1 -1 1 6 1 -2 1 4 1 7 1 -8 1 12 1 10 1 -5 1 -3 1 8 1 -3 1 1 1 3 1 0 1 4 1 1 1 3 1 2 1 2 1 -3 1 0 1 13 1 -3 1 -1 1 0 1 9 1 1 1 -5 1 12 1 -5 1 4 1 5 1 1 1 9 1 -8 1 5 1 3 1 3 1 -5 1 7 1 3 1 -1 1 -1 1 2 1 0 1 -1 1 6 1 0 1 1 1 1 1 1 1 1 1 2 1 -4 1 4 1 3 1 1 1 -3 1 5 1 2 1 2 1 0 1 4 1 0 1 -6 1 3 1 -1 1 -4 1 1 1 4 1 -4 1 -1 1 1 1 -1 1 0 1 0 1 0 1 0 1 2 1 -2M0 -254l1 -7 1 5 1 23 1 4 1 -4 1 -19 1 15 1 -3 1 -1 1 4 1 -4 1 -8 1 8 1 0 1 10 1 8 1 -5 1 7 1 -10 1 5 1 12 1 17 1 -21 1 24 1 -16 1 12 1 -13 1 10 1 2 1 4 1 -1 1 4 1 6 1 -6 1 0 1 6 1 9 1 -1 1 0 1 -2 1 6 1 10 1 -7 1 5 1 1 1 6 1 2 1 1 1 6 1 -2 1 6 1 -3 1 7 1 0 1 11 1 -8 1 13 1 0 1 -4 1 7 1 5 1 -3 1 5 1 0 1 6 1 -1 1 7 1 -1 1 6 1 3 1 -3 1 6 1 -4 1 3 1 1 1 2 1 4 1 0 1 9 1 -6 1 3 1 2 1 1 1 1 1 2 1 0 1 2 1 -1 1 0 1 1 1 6 1 -1 1 1 1 1 1 2 1 -4 1 -3 1 2 1 -3 1 -4 1 2 1 2 1 0 1 -1 1 0 1 -1 1 2 1 2 1 1 1 1 1 -6M0 -175l1 -1 1 8 1 3 1 3 1 -7 1 2 1 7 1 0 1 -1 1 -6 1 4 1 2 1 8 1 -8 1 9 1 3 1 -10 1 7 1 7 1 -6 1 9 1 -1 1 -6 1 9 1 2 1 -3 1 11 1 -6 1 -3 1 5 1 8 1 10 1 -13 1 -1 1 5 1 0 1 1 1 6 1 -1 1 1 1 8 1 0 1 -4 1 5 1 2 1 2 1 2 1 -1 1 9 1 -7 1 0 1 4 1 9 1 -3 1 2 1 9 1 -10 1 2 1 -2 1 12 1 -2 1 4 1 6 1 -5 1 5 1 4 1 -2 1 5 1 2 1 0 1 0 1 3 1 -1 1 1 1 5 1 0 1 -1 1 5 1 -1 1 2 1 0 1 1 1 5 1 1 1 -1 1 0 1 2 1 0 1 1 1 3 1 -1 1 3 1 0 1 4 1 0 1 -1 1 -3 1 1 1 -4 1 -1 1 2 1 1 1 -1 1 0 1 3 1 -3 1 0 1 1 1 0 1 3 1 -3M0 -233l1 5 1 6 1 -4 1 14 1 -17 1 16 1 -2 1 3 1 7 1 -12 1 13 1 -10 1 11 1 -5 1 13 1 6 1 -11 1 12 1 -4 1 0 1 8 1 3 1 3 1 1 1 22 1 -21 1 -6 1 12 1 -2 1 3 1 0 1 0 1 14 1 -5 1 2 1 -2 1 4 1 11 1 -2 1 -2 1 3 1 -6 1 2 1 0 1 4 1 0 1 9 1 -5 1 1 1 2 1 -8 1 1 1 8 1 0 1 3 1 1 1 10 1 1 1 -5 1 10 1 0 1 -1 1 8 1 0 1 4 1 -5 1 6 1 6 1 0 1 2 1 -1 1 8 1 -2 1 -1 1 8 1 -4 1 0 1 8 1 -2 1 5 1 3 1 0 1 0 1 2 1 2 1 0 1 4 1 -2 1 2 1 4 1 -3 1 1 1 2 1 3 1 1 1 -4 1 2 1 -5 1 -2 1 -2 1 2 1 -1 1 4 1 -3 1 1 1 -3 1 0 1 14 1 -11 1 3 1 -4M0 -196l1 -3 1 7 1 9 1 -3 1 3 1 -3 1 2 1 7 1 -3 1 -10 1 6 1 7 1 -9 1 1 1 5 1 12 1 -10 1 11 1 -5 1 -2 1 11 1 3 1 -7 1 12 1 2 1 1 1 8 1 -11 1 3 1 6 1 22 1 -19 1 0 1 4 1 0 1 -1 1 1 1 10 1 4 1 -5 1 8 1 -1 1 -4 1 5 1 6 1 -2 1 1 1 2 1 4 1 9 1 -9 1 7 1 2 1 -1 1 5 1 0 1 4 1 -2 1 6 1 3 1 3 1 4 1 2 1 0 1 2 1 1 1 3 1 4 1 -3 1 2 1 2 1 3 1 -2 1 3 1 2 1 2 1 2 1 -1 1 2 1 1 1 -1 1 2 1 -3 1 1 1 1 1 0 1 3 1 1 1 -1 1 5 1 -1 1 0 1 0 1 1 1 1 1 -4 1 -1 1 -1 1 -1 1 -2 1 1 1 1 1 0 1 0 1 -1 1 2 1 0 1 1 1 -2 1 4 1 -2M0 -235l1 -1 1 0 1 -5 1 11 1 7 1 -5 1 11 1 16 1 -24 1 -6 1 6 1 5 1 4 1 -1 1 -4 1 8 1 -1 1 3 1 5 1 2 1 12 1 -1 1 -3 1 2 1 6 1 12 1 -1 1 -2 1 -1 1 9 1 4 1 2 1 -4 1 0 1 17 1 -14 1 1 1 11 1 -2 1 -5 1 -2 1 13 1 11 1 -14 1 5 1 2 1 -3 1 -2 1 2 1 0 1 1 1 4 1 8 1 -2 1 -1 1 -1 1 13 1 3 1 -2 1 2 1 1 1 9 1 -2 1 5 1 2 1 2 1 3 1 3 1 3 1 -1 1 6 1 3 1 2 1 3 1 7 1 -5 1 0 1 4 1 -2 1 4 1 1 1 0 1 0 1 7 1 -2 1 -3 1 5 1 -6 1 2 1 5 1 -2 1 1 1 2 1 3 1 2 1 -2 1 -1 1 -4 1 -2 1 2 1 2 1 0 1 1 1 -3 1 0 1 0 1 8 1 -8 1 1 1 2 1 -3M0 -402l1 9 1 -6 1 -20 1 43 1 -2 1 -8 1 -24 1 33 1 -40 1 52 1 -38 1 13 1 22 1 -20 1 -14 1 11 1 -3 1 12 1 -16 1 18 1 -9 1 56 1 -47 1 1 1 16 1 3 1 20 1 -17 1 -4 1 27 1 -7 1 52 1 -49 1 1 1 2 1 19 1 -12 1 8 1 6 1 -5 1 11 1 15 1 -28 1 18 1 7 1 -12 1 8 1 6 1 -5 1 3 1 -1 1 -15 1 27 1 14 1 -7 1 -11 1 9 1 16 1 -28 1 34 1 -3 1 -6 1 -1 1 10 1 -3 1 20 1 4 1 7 1 -7 1 3 1 -12 1 29 1 -9 1 -8 1 6 1 9 1 -3 1 19 1 -8 1 6 1 7 1 3 1 1 1 6 1 2 1 2 1 19 1 -20 1 5 1 9 1 -17 1 19 1 3 1 7 1 -2 1 1 1 -6 1 23 1 -33 1 19 1 -23 1 -3 1 3 1 -2 1 8 1 -13 1 0 1 14 1 -2 1 0 1 -14M0 -219l1 3 1 4 1 1 1 8 1 -5 1 9 1 -3 1 -1 1 6 1 -1 1 10 1 -8 1 14 1 -11 1 9 1 3 1 -7 1 4 1 -9 1 12 1 12 1 6 1 -7 1 4 1 6 1 -4 1 3 1 4 1 -4 1 9 1 -2 1 -2 1 4 1 -5 1 8 1 5 1 -4 1 12 1 -4 1 6 1 7 1 2 1 -4 1 -2 1 -1 1 -1 1 5 1 0 1 9 1 -3 1 2 1 3 1 3 1 -4 1 8 1 -5 1 5 1 5 1 -12 1 14 1 0 1 2 1 -3 1 8 1 0 1 5 1 1 1 3 1 4 1 0 1 0 1 9 1 -4 1 4 1 4 1 -1 1 0 1 6 1 4 1 -6 1 4 1 1 1 0 1 4 1 -5 1 2 1 1 1 0 1 1 1 2 1 -1 1 4 1 1 1 2 1 0 1 -5 1 1 1 0 1 -5 1 -4 1 2 1 -1 1 1 1 2 1 1 1 -1 1 -1 1 4 1 1 1 1 1 -3M0 -175l1 -1 1 23 1 -12 1 3 1 4 1 -11 1 32 1 -22 1 -3 1 6 1 7 1 -7 1 3 1 -9 1 13 1 3 1 1 1 0 1 0 1 4 1 3 1 0 1 -3 1 3 1 3 1 0 1 7 1 1 1 -6 1 3 1 2 1 1 1 5 1 -7 1 6 1 3 1 0 1 7 1 1 1 -4 1 6 1 -7 1 4 1 -1 1 1 1 7 1 5 1 -9 1 8 1 4 1 -3 1 13 1 -6 1 -4 1 2 1 4 1 6 1 -1 1 -4 1 11 1 -3 1 2 1 4 1 3 1 3 1 -3 1 3 1 3 1 4 1 3 1 -3 1 7 1 -2 1 3 1 1 1 -1 1 2 1 3 1 0 1 1 1 4 1 0 1 1 1 1 1 -1 1 1 1 2 1 -1 1 3 1 3 1 0 1 -2 1 4 1 1 1 -2 1 -1 1 -1 1 0 1 0 1 -2 1 -1 1 3 1 -3 1 2 1 0 1 1 1 -2 1 1 1 1 1 3 1 -4M0 -193l1 -1 1 1 1 6 1 11 1 -4 1 4 1 1 1 2 1 -5 1 7 1 0 1 -3 1 -1 1 -4 1 5 1 14 1 -7 1 6 1 -3 1 3 1 8 1 8 1 5 1 -14 1 3 1 0 1 10 1 -10 1 3 1 5 1 3 1 -1 1 -1 1 -1 1 2 1 4 1 -6 1 18 1 -8 1 7 1 5 1 7 1 -4 1 1 1 0 1 4 1 7 1 -3 1 2 1 1 1 3 1 1 1 8 1 -4 1 6 1 -4 1 5 1 -1 1 -3 1 11 1 -1 1 1 1 0 1 7 1 2 1 10 1 -10 1 3 1 1 1 5 1 -5 1 6 1 1 1 1 1 5 1 -1 1 1 1 2 1 0 1 1 1 4 1 2 1 0 1 2 1 -3 1 3 1 5 1 1 1 -7 1 5 1 -1 1 0 1 5 1 0 1 0 1 -3 1 -1 1 -1 1 -2 1 -3 1 2 1 0 1 0 1 0 1 0 1 -2 1 3 1 -1 1 2 1 4 1 -1M0 -239l1 -23 1 8 1 8 1 0 1 6 1 -4 1 22 1 0 1 -7 1 -1 1 2 1 4 1 7 1 -4 1 9 1 -8 1 0 1 15 1 -4 1 4 1 1 1 1 1 2 1 5 1 -3 1 6 1 5 1 -9 1 8 1 0 1 19 1 -10 1 -6 1 -1 1 13 1 -3 1 3 1 11 1 -5 1 4 1 -2 1 4 1 -7 1 14 1 1 1 1 1 6 1 -8 1 10 1 1 1 6 1 -4 1 3 1 1 1 1 1 -5 1 2 1 9 1 -7 1 15 1 10 1 -11 1 4 1 -2 1 10 1 -6 1 4 1 6 1 2 1 -1 1 2 1 0 1 4 1 5 1 -3 1 3 1 0 1 4 1 2 1 2 1 0 1 4 1 1 1 2 1 3 1 -4 1 7 1 0 1 1 1 7 1 -1 1 1 1 0 1 4 1 -1 1 -4 1 -1 1 -5 1 -2 1 -2 1 0 1 1 1 2 1 -5 1 2 1 0 1 8 1 -5 1 -2 1 5 1 -4M0 -201l1 -10 1 13 1 8 1 -22 1 16 1 3 1 -4 1 7 1 -2 1 -1 1 17 1 -10 1 3 1 0 1 6 1 12 1 -4 1 -5 1 -5 1 -1 1 12 1 4 1 0 1 -2 1 6 1 -6 1 16 1 -7 1 -1 1 -3 1 6 1 -3 1 3 1 0 1 4 1 12 1 -12 1 7 1 0 1 11 1 -7 1 -4 1 3 1 8 1 11 1 -12 1 5 1 0 1 5 1 2 1 5 1 -3 1 10 1 -6 1 2 1 2 1 6 1 0 1 2 1 7 1 -1 1 4 1 3 1 9 1 -2 1 2 1 -2 1 4 1 0 1 3 1 0 1 2 1 1 1 1 1 6 1 -2 1 -2 1 3 1 5 1 -3 1 4 1 1 1 -1 1 2 1 -3 1 1 1 5 1 0 1 -3 1 4 1 3 1 0 1 5 1 -1 1 1 1 -2 1 -4 1 9 1 -11 1 7 1 -4 1 -2 1 2 1 1 1 1 1 -2 1 3 1 2 1 -2 1 2 1 -6M0 -480l1 -5 1 16 1 5 1 32 1 -33 1 12 1 7 1 14 1 -34 1 23 1 7 1 -16 1 14 1 -3 1 19 1 6 1 25 1 -20 1 12 1 2 1 -2 1 6 1 -9 1 8 1 12 1 -7 1 -3 1 7 1 12 1 -12 1 18 1 -11 1 14 1 -9 1 19 1 -18 1 -2 1 20 1 -2 1 -15 1 18 1 3 1 -5 1 13 1 -17 1 14 1 9 1 12 1 6 1 -20 1 8 1 -4 1 22 1 -25 1 19 1 16 1 -6 1 -2 1 -10 1 30 1 -5 1 -14 1 25 1 -13 1 18 1 -8 1 15 1 7 1 11 1 -18 1 -8 1 31 1 -7 1 2 1 -2 1 14 1 0 1 3 1 11 1 -1 1 -11 1 18 1 -11 1 -2 1 11 1 -2 1 0 1 3 1 -1 1 18 1 -12 1 3 1 1 1 15 1 9 1 -29 1 6 1 -3 1 -3 1 9 1 -10 1 9 1 1 1 -8 1 2 1 -11 1 1 1 6 1 -3 1 15 1 -16M0 -377l1 -15 1 2 1 3 1 5 1 -9 1 1 1 4 1 -1 1 20 1 -1 1 2 1 19 1 -21 1 15 1 0 1 -6 1 -10 1 2 1 4 1 11 1 -6 1 30 1 -14 1 15 1 -1 1 -9 1 25 1 -7 1 -2 1 0 1 0 1 18 1 -9 1 5 1 -4 1 -4 1 8 1 14 1 -1 1 -17 1 24 1 -3 1 -9 1 6 1 -8 1 2 1 6 1 -8 1 37 1 -35 1 -1 1 3 1 2 1 4 1 8 1 -1 1 37 1 -8 1 -11 1 10 1 11 1 -6 1 19 1 -5 1 5 1 -4 1 14 1 -2 1 8 1 -9 1 2 1 20 1 -11 1 11 1 0 1 8 1 -7 1 3 1 5 1 8 1 -5 1 4 1 -4 1 12 1 0 1 -1 1 21 1 -21 1 16 1 -8 1 4 1 14 1 -8 1 2 1 7 1 -11 1 2 1 4 1 -11 1 -1 1 23 1 -22 1 0 1 5 1 19 1 -17 1 -2 1 14 1 -7 1 5 1 -5M0 -286l1 16 1 4 1 -2 1 15 1 -10 1 4 1 -2 1 1 1 -16 1 10 1 6 1 1 1 0 1 -6 1 -8 1 50 1 -37 1 -5 1 12 1 -6 1 15 1 -4 1 -11 1 -9 1 1 1 17 1 2 1 9 1 -14 1 11 1 6 1 4 1 1 1 -4 1 1 1 13 1 3 1 3 1 -9 1 -9 1 22 1 0 1 -12 1 15 1 6 1 16 1 -8 1 3 1 -1 1 5 1 1 1 -3 1 10 1 -1 1 0 1 5 1 4 1 7 1 4 1 11 1 11 1 -16 1 15 1 0 1 4 1 1 1 -2 1 8 1 -1 1 6 1 -5 1 15 1 -14 1 8 1 -1 1 2 1 1 1 8 1 2 1 6 1 1 1 0 1 6 1 -3 1 -5 1 7 1 8 1 -12 1 2 1 6 1 0 1 0 1 9 1 0 1 2 1 -7 1 0 1 -2 1 -1 1 -2 1 4 1 1 1 13 1 -14 1 2 1 9 1 -9 1 1 1 14 1 -8 1 -2M0 -190l1 7 1 -2 1 0 1 11 1 -11 1 3 1 8 1 -7 1 1 1 7 1 -1 1 7 1 4 1 -12 1 11 1 -6 1 -1 1 6 1 6 1 0 1 9 1 -2 1 -1 1 4 1 0 1 2 1 1 1 -3 1 7 1 0 1 4 1 2 1 4 1 -5 1 7 1 6 1 9 1 -4 1 2 1 -4 1 8 1 3 1 -3 1 2 1 -2 1 5 1 2 1 -3 1 2 1 0 1 3 1 3 1 5 1 -2 1 3 1 0 1 4 1 1 1 0 1 2 1 1 1 3 1 6 1 0 1 7 1 -3 1 3 1 0 1 3 1 -4 1 5 1 4 1 7 1 -5 1 -1 1 3 1 2 1 1 1 2 1 -1 1 1 1 3 1 0 1 1 1 -3 1 5 1 3 1 -2 1 0 1 5 1 -2 1 2 1 1 1 -2 1 3 1 -1 1 -2 1 1 1 -3 1 -1 1 0 1 3 1 1 1 -1 1 0 1 1 1 -1 1 1 1 1 1 1 1 -1M0 -220l1 0 1 2 1 0 1 0 1 3 1 -2 1 2 1 -1 1 -3 1 2 1 10 1 0 1 6 1 -11 1 5 1 12 1 -8 1 3 1 4 1 3 1 18 1 -15 1 6 1 5 1 7 1 -1 1 13 1 -12 1 7 1 2 1 6 1 6 1 -2 1 1 1 3 1 1 1 2 1 6 1 6 1 -18 1 11 1 5 1 -5 1 1 1 5 1 7 1 -3 1 5 1 1 1 -3 1 7 1 8 1 -2 1 -6 1 8 1 2 1 5 1 4 1 1 1 15 1 -8 1 0 1 11 1 -3 1 3 1 0 1 2 1 2 1 2 1 -2 1 0 1 6 1 4 1 -2 1 5 1 1 1 -7 1 9 1 -1 1 -2 1 -1 1 1 1 2 1 0 1 4 1 1 1 4 1 -5 1 2 1 8 1 -1 1 1 1 2 1 1 1 1 1 -4 1 1 1 -2 1 -2 1 0 1 -1 1 1 1 -1 1 0 1 1 1 0 1 -1 1 2 1 3 1 1 1 -2M0 -261l1 -28 1 9 1 6 1 3 1 -3 1 0 1 -1 1 3 1 4 1 -17 1 20 1 5 1 -2 1 -8 1 4 1 12 1 -1 1 -1 1 0 1 10 1 11 1 1 1 -18 1 16 1 16 1 -15 1 31 1 -29 1 2 1 9 1 9 1 -2 1 -5 1 4 1 3 1 0 1 -3 1 23 1 -5 1 -5 1 9 1 2 1 -15 1 0 1 17 1 -6 1 18 1 -18 1 11 1 3 1 3 1 0 1 18 1 -3 1 -9 1 12 1 5 1 -8 1 11 1 -2 1 4 1 2 1 0 1 -2 1 0 1 -2 1 8 1 -2 1 7 1 0 1 -1 1 26 1 -17 1 10 1 -5 1 5 1 -3 1 6 1 0 1 8 1 0 1 4 1 1 1 2 1 -4 1 -2 1 10 1 -10 1 19 1 -11 1 -1 1 4 1 0 1 3 1 2 1 -9 1 5 1 -2 1 -5 1 -2 1 2 1 4 1 -1 1 2 1 -1 1 1 1 2 1 -4 1 3 1 5 1 -15M0 -185l1 -7 1 16 1 -6 1 9 1 -3 1 7 1 -3 1 3 1 7 1 5 1 6 1 -1 1 9 1 -11 1 9 1 4 1 -4 1 -2 1 2 1 1 1 -2 1 16 1 -12 1 3 1 4 1 -2 1 4 1 5 1 2 1 16 1 -1 1 -4 1 2 1 -5 1 9 1 -3 1 2 1 7 1 -2 1 -7 1 6 1 2 1 -4 1 3 1 0 1 4 1 3 1 -2 1 1 1 -2 1 7 1 -3 1 6 1 -2 1 7 1 2 1 1 1 5 1 -4 1 2 1 4 1 -2 1 3 1 2 1 5 1 -1 1 6 1 1 1 0 1 0 1 3 1 6 1 -3 1 1 1 2 1 4 1 -5 1 5 1 3 1 -2 1 4 1 -5 1 3 1 2 1 0 1 2 1 0 1 -1 1 2 1 2 1 -1 1 1 1 2 1 2 1 0 1 -2 1 0 1 -1 1 -2 1 -1 1 1 1 1 1 -1 1 1 1 0 1 0 1 -1 1 4 1 0 1 2 1 -3M0 -374l1 11 1 -2 1 5 1 19 1 -15 1 9 1 7 1 -3 1 -10 1 20 1 -11 1 3 1 2 1 -17 1 13 1 43 1 -34 1 7 1 5 1 -5 1 15 1 2 1 -10 1 11 1 20 1 -25 1 -4 1 -8 1 5 1 13 1 16 1 -1 1 -5 1 -13 1 5 1 4 1 1 1 30 1 -8 1 -12 1 15 1 16 1 14 1 -21 1 -10 1 14 1 12 1 -1 1 6 1 -10 1 6 1 -7 1 18 1 -16 1 5 1 9 1 14 1 -2 1 -3 1 17 1 -9 1 -5 1 20 1 -8 1 6 1 4 1 10 1 -1 1 0 1 11 1 -4 1 15 1 -6 1 6 1 -6 1 -11 1 7 1 10 1 3 1 6 1 -8 1 12 1 -5 1 4 1 6 1 3 1 4 1 -2 1 -9 1 11 1 -3 1 6 1 -3 1 12 1 -5 1 -7 1 4 1 0 1 -7 1 -2 1 0 1 -2 1 16 1 -6 1 -4 1 2 1 6 1 -7 1 0 1 15 1 -12M0 -329l1 2 1 56 1 -30 1 13 1 -19 1 5 1 -2 1 21 1 -22 1 14 1 6 1 2 1 2 1 -6 1 -3 1 10 1 2 1 -17 1 18 1 -11 1 15 1 5 1 -7 1 -4 1 13 1 -1 1 12 1 -6 1 -12 1 7 1 -3 1 9 1 5 1 -15 1 32 1 -20 1 -4 1 10 1 3 1 -13 1 25 1 -11 1 -6 1 1 1 3 1 -1 1 0 1 14 1 0 1 0 1 8 1 25 1 -14 1 -5 1 -4 1 -2 1 32 1 -22 1 2 1 8 1 7 1 -15 1 13 1 8 1 -3 1 5 1 -1 1 16 1 6 1 -5 1 2 1 3 1 4 1 9 1 1 1 1 1 4 1 8 1 -8 1 3 1 3 1 8 1 -4 1 6 1 -4 1 3 1 3 1 -3 1 3 1 -1 1 3 1 -2 1 3 1 10 1 2 1 -17 1 3 1 5 1 -6 1 -3 1 -2 1 -11 1 4 1 3 1 10 1 -7 1 4 1 -2 1 4 1 12 1 -11M0 -191l1 17 1 -2 1 2 1 14 1 14 1 -23 1 -1 1 0 1 12 1 0 1 13 1 -12 1 4 1 -2 1 0 1 10 1 8 1 -9 1 1 1 5 1 1 1 9 1 -2 1 7 1 -10 1 4 1 7 1 7 1 -5 1 8 1 -3 1 1 1 8 1 -5 1 2 1 5 1 -1 1 4 1 -5 1 4 1 17 1 -13 1 -3 1 5 1 3 1 -3 1 3 1 5 1 1 1 -2 1 4 1 -2 1 6 1 0 1 0 1 5 1 4 1 2 1 0 1 2 1 5 1 -1 1 4 1 0 1 2 1 0 1 6 1 0 1 1 1 1 1 1 1 5 1 -2 1 1 1 2 1 0 1 1 1 -2 1 3 1 -1 1 0 1 2 1 -1 1 1 1 0 1 1 1 2 1 -1 1 0 1 3 1 -1 1 3 1 -1 1 2 1 1 1 -2 1 -2 1 -1 1 -2 1 1 1 0 1 2 1 -1 1 1 1 -2 1 1 1 -1 1 2 1 0 1 0 1 2M0 -190l1 -5 1 4 1 -4 1 3 1 5 1 7 1 -1 1 1 1 0 1 2 1 6 1 5 1 10 1 -3 1 4 1 3 1 -7 1 -1 1 7 1 1 1 9 1 -3 1 4 1 10 1 -5 1 -2 1 2 1 5 1 6 1 -4 1 9 1 3 1 14 1 -25 1 3 1 3 1 3 1 3 1 6 1 -9 1 8 1 0 1 0 1 -1 1 0 1 0 1 5 1 0 1 -3 1 1 1 2 1 -2 1 4 1 -1 1 9 1 7 1 4 1 -6 1 -5 1 9 1 4 1 3 1 2 1 2 1 4 1 4 1 2 1 1 1 1 1 1 1 4 1 1 1 0 1 2 1 5 1 -1 1 1 1 0 1 5 1 -4 1 2 1 3 1 -2 1 2 1 2 1 0 1 3 1 -1 1 1 1 1 1 -1 1 0 1 3 1 1 1 -1 1 -2 1 -1 1 -1 1 -3 1 1 1 0 1 -1 1 3 1 -2 1 -1 1 2 1 1 1 0 1 -1 1 3 1 -2M0 -417l1 8 1 -8 1 9 1 7 1 5 1 -23 1 24 1 0 1 -3 1 8 1 9 1 8 1 -4 1 -7 1 18 1 -8 1 -7 1 15 1 8 1 -7 1 19 1 26 1 -23 1 11 1 -4 1 -1 1 15 1 -14 1 -13 1 23 1 8 1 7 1 -17 1 -7 1 -5 1 9 1 -6 1 19 1 3 1 1 1 8 1 6 1 9 1 -8 1 2 1 -10 1 4 1 0 1 8 1 8 1 2 1 -3 1 14 1 -16 1 24 1 -4 1 1 1 -3 1 1 1 1 1 6 1 1 1 6 1 -1 1 15 1 7 1 -4 1 1 1 5 1 0 1 2 1 3 1 10 1 -11 1 11 1 0 1 -6 1 18 1 -10 1 21 1 -3 1 8 1 21 1 -10 1 -9 1 8 1 7 1 -16 1 3 1 10 1 -1 1 -3 1 12 1 3 1 12 1 -9 1 -13 1 11 1 -11 1 -1 1 -14 1 19 1 -2 1 4 1 -7 1 2 1 4 1 0 1 2 1 7 1 -13M0 -175l1 -3 1 2 1 -5 1 10 1 3 1 -4 1 15 1 -7 1 -3 1 9 1 1 1 3 1 10 1 6 1 -13 1 6 1 -4 1 2 1 -3 1 1 1 2 1 16 1 -8 1 1 1 2 1 -2 1 1 1 -6 1 12 1 -4 1 11 1 -3 1 -3 1 1 1 0 1 14 1 -9 1 8 1 0 1 -10 1 10 1 2 1 -6 1 8 1 0 1 3 1 1 1 -6 1 3 1 5 1 2 1 0 1 8 1 -3 1 3 1 0 1 5 1 3 1 1 1 8 1 -1 1 -1 1 3 1 3 1 1 1 3 1 -1 1 3 1 2 1 -1 1 3 1 4 1 3 1 2 1 -1 1 1 1 2 1 7 1 3 1 -5 1 2 1 4 1 -2 1 2 1 2 1 -3 1 2 1 2 1 0 1 2 1 0 1 1 1 -2 1 4 1 1 1 -3 1 0 1 -1 1 -3 1 1 1 0 1 -1 1 2 1 -1 1 -1 1 3 1 -1 1 -1 1 0 1 4 1 -1M0 -421l1 -10 1 -2 1 9 1 57 1 -52 1 4 1 -1 1 20 1 35 1 -43 1 29 1 1 1 3 1 9 1 4 1 -17 1 -9 1 5 1 0 1 -20 1 16 1 1 1 0 1 32 1 -24 1 -11 1 24 1 -18 1 20 1 21 1 5 1 -17 1 11 1 2 1 -3 1 7 1 -6 1 23 1 -16 1 -13 1 7 1 20 1 -28 1 -5 1 13 1 33 1 -19 1 4 1 -2 1 -12 1 18 1 7 1 -4 1 3 1 12 1 3 1 8 1 13 1 -16 1 5 1 9 1 -2 1 16 1 11 1 2 1 -15 1 12 1 -1 1 -4 1 13 1 -16 1 19 1 -8 1 8 1 12 1 1 1 -11 1 17 1 -7 1 22 1 4 1 0 1 -9 1 14 1 5 1 -4 1 13 1 -11 1 2 1 11 1 -5 1 5 1 6 1 2 1 0 1 1 1 -5 1 3 1 -11 1 3 1 -2 1 8 1 2 1 -8 1 -1 1 -3 1 6 1 -1 1 0 1 17 1 -4M0 -204l1 3 1 -1 1 7 1 5 1 1 1 1 1 5 1 -5 1 -5 1 11 1 -3 1 -4 1 12 1 15 1 -13 1 8 1 7 1 -19 1 0 1 3 1 -5 1 19 1 -12 1 4 1 -1 1 -5 1 18 1 -8 1 7 1 2 1 2 1 5 1 -5 1 3 1 6 1 2 1 5 1 2 1 4 1 -2 1 12 1 -5 1 -7 1 10 1 -1 1 0 1 -2 1 8 1 -2 1 1 1 6 1 1 1 4 1 0 1 6 1 1 1 7 1 2 1 5 1 2 1 1 1 4 1 -1 1 1 1 5 1 1 1 0 1 5 1 -2 1 4 1 2 1 4 1 -2 1 2 1 5 1 6 1 -6 1 -1 1 1 1 -2 1 4 1 0 1 1 1 2 1 0 1 -3 1 7 1 -2 1 4 1 6 1 -9 1 1 1 1 1 2 1 0 1 -2 1 -1 1 -1 1 -3 1 -1 1 1 1 2 1 0 1 3 1 -2 1 -3 1 2 1 1 1 1 1 2 1 -2M0 -262l1 -3 1 -2 1 17 1 10 1 2 1 -3 1 -6 1 12 1 -13 1 5 1 3 1 -1 1 6 1 6 1 -4 1 8 1 8 1 8 1 -11 1 1 1 4 1 0 1 -4 1 -12 1 16 1 -9 1 11 1 7 1 -14 1 15 1 1 1 8 1 -11 1 6 1 6 1 -9 1 8 1 15 1 -12 1 3 1 1 1 2 1 2 1 0 1 2 1 -7 1 7 1 5 1 -6 1 1 1 11 1 0 1 5 1 8 1 9 1 -15 1 12 1 -5 1 3 1 6 1 11 1 -7 1 5 1 2 1 9 1 -5 1 5 1 8 1 -1 1 4 1 1 1 3 1 14 1 -5 1 2 1 1 1 -1 1 1 1 4 1 4 1 -1 1 4 1 -2 1 1 1 4 1 -2 1 7 1 -4 1 -2 1 6 1 1 1 8 1 -8 1 5 1 3 1 -4 1 -1 1 -3 1 -2 1 0 1 2 1 3 1 -3 1 1 1 3 1 -3 1 2 1 -1 1 5 1 -4 1 1M0 -336l1 0 1 -4 1 5 1 7 1 -2 1 11 1 -1 1 7 1 -17 1 17 1 -3 1 3 1 7 1 -7 1 14 1 5 1 -5 1 -1 1 17 1 -16 1 14 1 -12 1 0 1 7 1 -8 1 21 1 -1 1 -10 1 -2 1 6 1 -1 1 15 1 10 1 8 1 -5 1 25 1 -28 1 17 1 -17 1 5 1 1 1 4 1 -17 1 34 1 -18 1 8 1 -5 1 16 1 -14 1 -4 1 11 1 1 1 13 1 0 1 13 1 3 1 5 1 3 1 11 1 -12 1 6 1 -3 1 8 1 10 1 13 1 -8 1 -3 1 3 1 2 1 3 1 -6 1 10 1 10 1 2 1 4 1 -8 1 5 1 12 1 -14 1 9 1 14 1 -16 1 9 1 -3 1 2 1 13 1 0 1 -10 1 5 1 -2 1 4 1 -7 1 2 1 9 1 6 1 -4 1 -3 1 -8 1 17 1 -15 1 10 1 -13 1 6 1 -8 1 7 1 -7 1 4 1 5 1 -6 1 9 1 -6M0 -391l1 -16 1 -2 1 7 1 6 1 -13 1 27 1 -20 1 12 1 -19 1 25 1 -5 1 -3 1 28 1 1 1 -9 1 24 1 -26 1 13 1 -16 1 1 1 11 1 13 1 5 1 -3 1 -13 1 0 1 -5 1 20 1 -26 1 35 1 -1 1 3 1 -2 1 -8 1 3 1 10 1 4 1 2 1 13 1 -8 1 16 1 -5 1 -14 1 14 1 7 1 16 1 -20 1 15 1 -5 1 0 1 8 1 -21 1 26 1 4 1 1 1 -8 1 28 1 2 1 -5 1 15 1 9 1 -17 1 4 1 17 1 2 1 -8 1 1 1 -1 1 2 1 5 1 -5 1 5 1 9 1 -3 1 12 1 -11 1 -4 1 17 1 -11 1 16 1 -7 1 -1 1 1 1 15 1 4 1 2 1 4 1 -8 1 4 1 5 1 -7 1 5 1 11 1 2 1 -2 1 -2 1 -9 1 21 1 -22 1 10 1 -2 1 1 1 13 1 4 1 -1 1 0 1 1 1 -1 1 23 1 -13 1 -15M0 -307l1 -18 1 42 1 -18 1 10 1 1 1 -12 1 11 1 -2 1 -12 1 -5 1 18 1 -6 1 18 1 -15 1 12 1 13 1 -17 1 11 1 3 1 14 1 -19 1 18 1 -8 1 6 1 -1 1 14 1 -4 1 -15 1 10 1 4 1 8 1 -1 1 3 1 5 1 -14 1 -8 1 13 1 31 1 8 1 -20 1 -3 1 9 1 -8 1 0 1 2 1 18 1 -2 1 2 1 -8 1 2 1 4 1 0 1 0 1 -3 1 22 1 -22 1 21 1 0 1 -3 1 6 1 4 1 1 1 16 1 -9 1 18 1 -10 1 0 1 15 1 3 1 11 1 -7 1 -1 1 0 1 6 1 3 1 -1 1 -2 1 6 1 -1 1 26 1 -23 1 6 1 -2 1 -1 1 1 1 -3 1 13 1 -8 1 0 1 3 1 0 1 4 1 0 1 4 1 2 1 -7 1 0 1 0 1 1 1 1 1 2 1 -1 1 11 1 -11 1 -1 1 -3 1 7 1 -4 1 6 1 3 1 -10M0 -231l1 -4 1 13 1 1 1 9 1 -6 1 0 1 8 1 0 1 -13 1 21 1 -4 1 5 1 1 1 -15 1 13 1 4 1 4 1 -6 1 -1 1 -4 1 32 1 -13 1 -6 1 3 1 -1 1 -9 1 21 1 -6 1 3 1 13 1 -2 1 10 1 -3 1 1 1 -8 1 6 1 6 1 9 1 -13 1 10 1 4 1 -3 1 -5 1 8 1 -5 1 1 1 5 1 0 1 2 1 2 1 -2 1 4 1 7 1 -6 1 1 1 0 1 9 1 -1 1 6 1 5 1 4 1 -3 1 18 1 -9 1 0 1 -1 1 15 1 -1 1 -1 1 1 1 -4 1 9 1 -2 1 -4 1 5 1 -2 1 0 1 2 1 1 1 2 1 1 1 5 1 -2 1 4 1 1 1 -2 1 6 1 -7 1 2 1 6 1 -5 1 3 1 2 1 3 1 2 1 -2 1 -3 1 2 1 -1 1 -1 1 1 1 1 1 2 1 2 1 -2 1 -3 1 3 1 0 1 0 1 2 1 -3M0 -239l1 11 1 -1 1 -16 1 25 1 -4 1 5 1 3 1 4 1 -8 1 10 1 -5 1 9 1 -4 1 -27 1 17 1 7 1 4 1 2 1 -3 1 4 1 3 1 -1 1 -1 1 4 1 6 1 -3 1 22 1 -23 1 -6 1 16 1 9 1 -5 1 3 1 -8 1 4 1 1 1 3 1 10 1 -17 1 4 1 17 1 -6 1 -3 1 7 1 -2 1 3 1 5 1 5 1 -1 1 -7 1 6 1 5 1 13 1 -5 1 21 1 -17 1 8 1 2 1 3 1 8 1 -3 1 1 1 3 1 10 1 -4 1 10 1 -5 1 2 1 3 1 1 1 2 1 6 1 2 1 -2 1 2 1 5 1 -1 1 6 1 1 1 2 1 -1 1 5 1 -1 1 4 1 -6 1 5 1 0 1 1 1 -1 1 3 1 2 1 -1 1 5 1 3 1 -3 1 -2 1 0 1 -3 1 1 1 2 1 -4 1 2 1 2 1 -2 1 1 1 -1 1 0 1 3 1 -1 1 3 1 -1M0 -200l1 -11 1 7 1 6 1 15 1 -5 1 -1 1 5 1 -14 1 7 1 20 1 -8 1 -7 1 8 1 1 1 -1 1 8 1 -11 1 13 1 4 1 7 1 1 1 -2 1 2 1 0 1 4 1 -3 1 11 1 -8 1 -1 1 6 1 6 1 -4 1 4 1 -2 1 8 1 -2 1 4 1 5 1 2 1 -3 1 4 1 5 1 -1 1 -1 1 -5 1 7 1 3 1 8 1 1 1 2 1 0 1 -1 1 7 1 1 1 -2 1 1 1 7 1 2 1 -2 1 6 1 -5 1 0 1 5 1 -1 1 5 1 1 1 3 1 0 1 5 1 1 1 1 1 3 1 -1 1 6 1 3 1 -2 1 1 1 2 1 2 1 4 1 -1 1 1 1 -1 1 3 1 3 1 -1 1 2 1 1 1 0 1 4 1 -2 1 2 1 2 1 1 1 -3 1 0 1 -5 1 2 1 -3 1 0 1 -2 1 1 1 3 1 -2 1 -1 1 -1 1 3 1 -1 1 2 1 0 1 -1M0 -191l1 3 1 -6 1 6 1 22 1 -9 1 -2 1 0 1 4 1 0 1 -2 1 22 1 -15 1 -7 1 -1 1 -1 1 19 1 -8 1 6 1 4 1 3 1 2 1 13 1 -8 1 -2 1 6 1 -2 1 13 1 -7 1 8 1 1 1 5 1 -4 1 3 1 -2 1 5 1 4 1 0 1 6 1 -3 1 0 1 3 1 -1 1 -6 1 4 1 -4 1 4 1 5 1 -1 1 0 1 6 1 -1 1 4 1 7 1 12 1 -3 1 -4 1 6 1 0 1 4 1 0 1 -1 1 1 1 3 1 2 1 2 1 2 1 4 1 -2 1 6 1 2 1 -2 1 3 1 2 1 1 1 2 1 1 1 1 1 3 1 0 1 0 1 -1 1 4 1 0 1 1 1 -1 1 2 1 1 1 -1 1 2 1 0 1 1 1 1 1 2 1 2 1 0 1 -4 1 1 1 1 1 -3 1 -2 1 -1 1 2 1 1 1 0 1 1 1 -3 1 2 1 2 1 1 1 0 1 -1M0 -266l1 1 1 -6 1 29 1 -18 1 -2 1 9 1 3 1 -2 1 -12 1 -2 1 3 1 8 1 10 1 -8 1 20 1 2 1 -3 1 -6 1 6 1 7 1 7 1 16 1 -20 1 10 1 6 1 2 1 3 1 20 1 -20 1 1 1 10 1 4 1 6 1 -3 1 4 1 -7 1 6 1 8 1 11 1 -12 1 5 1 9 1 -17 1 12 1 -2 1 5 1 3 1 4 1 3 1 -4 1 11 1 -2 1 9 1 -8 1 1 1 2 1 14 1 -6 1 2 1 10 1 -1 1 2 1 7 1 -5 1 5 1 4 1 -3 1 11 1 -1 1 -4 1 -3 1 7 1 3 1 1 1 8 1 -4 1 3 1 5 1 -1 1 1 1 -2 1 4 1 6 1 -3 1 1 1 1 1 1 1 -3 1 1 1 1 1 1 1 -2 1 7 1 1 1 0 1 -5 1 8 1 -5 1 -9 1 -5 1 7 1 0 1 2 1 1 1 -2 1 2 1 -4 1 0 1 5 1 4 1 -5M0 -309l1 -2 1 17 1 1 1 6 1 -9 1 -9 1 11 1 -1 1 13 1 -12 1 20 1 -9 1 9 1 -13 1 14 1 14 1 1 1 -12 1 9 1 10 1 9 1 -11 1 -3 1 19 1 1 1 -12 1 24 1 -20 1 35 1 -33 1 19 1 -15 1 20 1 10 1 -22 1 1 1 8 1 30 1 -15 1 -9 1 17 1 -19 1 12 1 -8 1 1 1 1 1 0 1 1 1 16 1 -2 1 -2 1 2 1 18 1 -13 1 2 1 1 1 17 1 -4 1 6 1 4 1 -1 1 1 1 5 1 -7 1 15 1 0 1 3 1 9 1 -6 1 -6 1 7 1 10 1 -5 1 4 1 -1 1 -3 1 1 1 11 1 -8 1 15 1 -5 1 5 1 2 1 2 1 -3 1 2 1 11 1 -13 1 4 1 5 1 -7 1 7 1 7 1 0 1 0 1 -7 1 0 1 5 1 -8 1 -3 1 9 1 -2 1 15 1 -15 1 5 1 -2 1 0 1 -1 1 6 1 6 1 -6M0 -400l1 -3 1 -14 1 14 1 7 1 25 1 -18 1 3 1 -7 1 9 1 14 1 8 1 2 1 12 1 -18 1 -21 1 38 1 -30 1 30 1 -37 1 4 1 26 1 1 1 -26 1 4 1 29 1 -4 1 14 1 -9 1 -6 1 9 1 22 1 -10 1 3 1 -16 1 14 1 -10 1 24 1 15 1 2 1 -15 1 21 1 -2 1 -10 1 10 1 -23 1 16 1 6 1 13 1 8 1 -20 1 8 1 1 1 27 1 -12 1 0 1 7 1 13 1 -7 1 -17 1 15 1 15 1 -10 1 7 1 16 1 -2 1 -16 1 12 1 3 1 11 1 -20 1 13 1 9 1 -3 1 -2 1 22 1 0 1 -23 1 9 1 7 1 13 1 -10 1 8 1 1 1 21 1 -19 1 6 1 17 1 -15 1 -1 1 16 1 -6 1 -2 1 1 1 16 1 -17 1 -7 1 2 1 -1 1 -6 1 -9 1 14 1 -8 1 16 1 -6 1 12 1 -13 1 0 1 13 1 -4 1 9 1 -10M0 -200l1 -5 1 4 1 9 1 6 1 1 1 5 1 -5 1 16 1 -1 1 -6 1 0 1 -5 1 11 1 -1 1 0 1 11 1 -13 1 9 1 -8 1 1 1 10 1 7 1 -12 1 9 1 1 1 3 1 15 1 -12 1 -6 1 14 1 -3 1 1 1 2 1 4 1 -6 1 14 1 -7 1 3 1 2 1 -1 1 5 1 6 1 1 1 -5 1 7 1 3 1 1 1 4 1 -3 1 4 1 -3 1 4 1 8 1 -4 1 7 1 7 1 -7 1 5 1 0 1 0 1 6 1 2 1 1 1 -3 1 4 1 3 1 11 1 -3 1 1 1 -1 1 3 1 7 1 -3 1 2 1 3 1 -1 1 0 1 0 1 4 1 1 1 -1 1 0 1 3 1 3 1 0 1 -1 1 1 1 -1 1 3 1 2 1 -1 1 2 1 1 1 2 1 -1 1 -4 1 1 1 -2 1 -3 1 3 1 0 1 -3 1 1 1 0 1 0 1 0 1 0 1 1 1 -1 1 0 1 -2M0 -226l1 5 1 -1 1 4 1 15 1 -13 1 8 1 0 1 0 1 20 1 -23 1 5 1 2 1 1 1 -3 1 11 1 19 1 -16 1 -11 1 2 1 12 1 -12 1 8 1 10 1 -1 1 1 1 1 1 4 1 5 1 0 1 2 1 -3 1 7 1 -3 1 2 1 -1 1 4 1 5 1 7 1 2 1 -12 1 5 1 14 1 0 1 1 1 0 1 -6 1 7 1 0 1 5 1 -3 1 3 1 1 1 4 1 -8 1 9 1 1 1 10 1 0 1 -4 1 9 1 4 1 2 1 14 1 -3 1 -3 1 0 1 8 1 -1 1 1 1 6 1 0 1 3 1 -2 1 2 1 1 1 4 1 -2 1 6 1 -2 1 3 1 3 1 0 1 1 1 4 1 0 1 1 1 2 1 -1 1 2 1 3 1 -2 1 2 1 2 1 0 1 -1 1 -1 1 -4 1 -1 1 -1 1 1 1 -2 1 1 1 -1 1 9 1 -10 1 10 1 -6 1 -1 1 1 1 2 1 -3M0 -509l1 0 1 -3 1 24 1 20 1 -29 1 45 1 -62 1 22 1 -10 1 8 1 14 1 -18 1 19 1 -15 1 26 1 31 1 -33 1 -4 1 20 1 2 1 -5 1 -11 1 9 1 25 1 -2 1 2 1 9 1 5 1 -23 1 33 1 -6 1 8 1 -26 1 21 1 10 1 -3 1 5 1 34 1 -25 1 -16 1 28 1 3 1 -15 1 4 1 -9 1 13 1 5 1 17 1 -17 1 20 1 11 1 -12 1 9 1 4 1 13 1 -19 1 35 1 -10 1 -11 1 13 1 24 1 -27 1 26 1 -10 1 10 1 0 1 20 1 0 1 7 1 -12 1 -3 1 5 1 18 1 -6 1 11 1 3 1 3 1 0 1 14 1 33 1 -33 1 -3 1 8 1 -2 1 5 1 -1 1 5 1 2 1 0 1 3 1 1 1 1 1 6 1 12 1 -4 1 -15 1 33 1 -25 1 -27 1 -4 1 7 1 10 1 -7 1 2 1 -2 1 -2 1 -11 1 7 1 6 1 11 1 -9M0 -212l1 -4 1 1 1 8 1 -9 1 4 1 12 1 -6 1 3 1 4 1 6 1 11 1 0 1 -2 1 -1 1 4 1 6 1 -9 1 26 1 -13 1 1 1 -4 1 5 1 -2 1 1 1 8 1 0 1 4 1 -2 1 -4 1 9 1 3 1 -3 1 4 1 9 1 2 1 6 1 -1 1 12 1 -7 1 -1 1 1 1 0 1 5 1 -4 1 10 1 -6 1 9 1 -5 1 1 1 0 1 -1 1 1 1 9 1 1 1 3 1 -4 1 14 1 -2 1 -4 1 9 1 -1 1 1 1 3 1 1 1 4 1 -1 1 5 1 3 1 0 1 -1 1 0 1 8 1 -3 1 4 1 -1 1 0 1 4 1 1 1 2 1 2 1 -1 1 1 1 1 1 1 1 1 1 -1 1 4 1 -1 1 3 1 0 1 -1 1 3 1 0 1 2 1 2 1 -4 1 -4 1 4 1 -3 1 -1 1 1 1 0 1 1 1 1 1 -1 1 2 1 -2 1 2 1 -1 1 2 1 0M0 -350l1 17 1 7 1 10 1 2 1 5 1 -1 1 -11 1 28 1 -22 1 11 1 1 1 -4 1 -2 1 16 1 -12 1 52 1 -48 1 13 1 -3 1 -4 1 19 1 -10 1 -3 1 2 1 -3 1 -10 1 14 1 5 1 -22 1 22 1 1 1 5 1 2 1 -2 1 24 1 -20 1 9 1 18 1 -5 1 -9 1 10 1 -9 1 -8 1 38 1 -16 1 -1 1 19 1 2 1 -9 1 5 1 -2 1 -1 1 8 1 21 1 -18 1 -1 1 25 1 -9 1 -13 1 27 1 -9 1 -1 1 28 1 -25 1 10 1 1 1 9 1 0 1 8 1 -2 1 -9 1 12 1 -15 1 0 1 4 1 9 1 0 1 3 1 -1 1 13 1 -11 1 13 1 3 1 -3 1 1 1 6 1 4 1 -9 1 7 1 8 1 -9 1 7 1 3 1 3 1 5 1 -6 1 -1 1 -1 1 -10 1 0 1 8 1 -2 1 -2 1 3 1 -2 1 3 1 4 1 4 1 1 1 2 1 -12M0 -313l1 -5 1 1 1 9 1 3 1 -10 1 16 1 7 1 -2 1 -6 1 3 1 -5 1 4 1 -6 1 -1 1 -7 1 8 1 8 1 -2 1 11 1 -9 1 -4 1 11 1 3 1 6 1 -8 1 3 1 23 1 -12 1 11 1 15 1 -10 1 5 1 8 1 -9 1 12 1 -4 1 -1 1 2 1 7 1 7 1 -3 1 2 1 -10 1 6 1 6 1 -3 1 9 1 -6 1 10 1 -6 1 5 1 3 1 0 1 5 1 11 1 -4 1 4 1 3 1 -4 1 5 1 2 1 -9 1 37 1 -13 1 9 1 -9 1 3 1 2 1 3 1 1 1 -8 1 14 1 -7 1 2 1 -6 1 9 1 3 1 11 1 1 1 -4 1 -1 1 6 1 9 1 16 1 -15 1 0 1 4 1 0 1 0 1 7 1 2 1 1 1 -2 1 9 1 -2 1 -11 1 0 1 4 1 0 1 4 1 -3 1 -1 1 6 1 -11 1 11 1 -3 1 -3 1 4 1 4 1 4 1 -2M0 -191l1 9 1 -2 1 5 1 1 1 -4 1 8 1 4 1 8 1 -11 1 1 1 -4 1 6 1 0 1 -9 1 20 1 10 1 3 1 -9 1 3 1 7 1 3 1 3 1 -2 1 2 1 -2 1 3 1 -1 1 3 1 7 1 -11 1 6 1 11 1 3 1 -3 1 11 1 0 1 -3 1 3 1 2 1 -6 1 8 1 -6 1 1 1 8 1 2 1 -1 1 7 1 1 1 -3 1 7 1 1 1 2 1 6 1 -2 1 -2 1 3 1 7 1 -2 1 5 1 3 1 5 1 -3 1 4 1 2 1 5 1 -2 1 0 1 3 1 -1 1 2 1 2 1 2 1 -1 1 5 1 0 1 0 1 1 1 0 1 1 1 1 1 0 1 -1 1 3 1 2 1 1 1 0 1 3 1 -2 1 1 1 1 1 1 1 0 1 1 1 0 1 1 1 -2 1 -1 1 -1 1 -3 1 1 1 1 1 -2 1 0 1 1 1 -1 1 0 1 6 1 -4 1 -2 1 2 1 -2M0 -304l1 -1 1 19 1 3 1 5 1 -15 1 4 1 6 1 4 1 -12 1 8 1 3 1 9 1 -7 1 -14 1 8 1 24 1 -28 1 14 1 -4 1 1 1 -3 1 19 1 -8 1 9 1 4 1 -6 1 7 1 13 1 -13 1 14 1 8 1 -3 1 7 1 8 1 -11 1 9 1 3 1 11 1 9 1 -14 1 2 1 9 1 -8 1 11 1 -4 1 7 1 -2 1 33 1 -29 1 -1 1 13 1 -5 1 8 1 5 1 10 1 -14 1 16 1 -4 1 5 1 9 1 -7 1 5 1 -2 1 1 1 2 1 -5 1 6 1 6 1 4 1 -3 1 -3 1 2 1 3 1 3 1 6 1 1 1 4 1 -2 1 -2 1 2 1 0 1 5 1 -3 1 7 1 1 1 1 1 13 1 -11 1 5 1 4 1 5 1 -3 1 -2 1 7 1 1 1 -3 1 -8 1 4 1 -10 1 1 1 5 1 -3 1 8 1 -1 1 0 1 -5 1 1 1 5 1 -7 1 10 1 -3M0 -435l1 35 1 -21 1 -4 1 -3 1 5 1 -13 1 29 1 12 1 -19 1 1 1 7 1 10 1 5 1 -15 1 -7 1 16 1 -25 1 19 1 -2 1 6 1 7 1 9 1 14 1 20 1 -17 1 3 1 5 1 -18 1 -17 1 36 1 8 1 -5 1 3 1 12 1 13 1 -16 1 -12 1 19 1 -6 1 7 1 1 1 -15 1 -6 1 16 1 3 1 -17 1 17 1 5 1 -14 1 10 1 5 1 2 1 10 1 -15 1 52 1 -48 1 29 1 -14 1 7 1 14 1 -4 1 -4 1 -2 1 5 1 -7 1 6 1 26 1 -2 1 4 1 0 1 -8 1 12 1 -18 1 12 1 13 1 -13 1 16 1 15 1 -9 1 -1 1 14 1 5 1 14 1 23 1 -27 1 -3 1 13 1 -5 1 -3 1 11 1 -3 1 0 1 11 1 10 1 3 1 -13 1 -16 1 7 1 -7 1 -10 1 12 1 -6 1 3 1 4 1 -8 1 6 1 14 1 -2 1 -2 1 3 1 -2M0 -248l1 -1 1 -3 1 14 1 -3 1 -19 1 22 1 -20 1 7 1 3 1 -4 1 3 1 36 1 -27 1 7 1 4 1 -4 1 3 1 -3 1 -11 1 4 1 2 1 10 1 -1 1 7 1 -5 1 5 1 7 1 29 1 -27 1 20 1 14 1 -15 1 3 1 4 1 0 1 -2 1 1 1 8 1 9 1 -7 1 20 1 -11 1 0 1 3 1 0 1 4 1 -2 1 6 1 6 1 7 1 4 1 -5 1 3 1 4 1 5 1 4 1 2 1 1 1 -9 1 10 1 6 1 2 1 3 1 1 1 1 1 0 1 5 1 8 1 0 1 3 1 2 1 6 1 -6 1 7 1 2 1 4 1 -4 1 8 1 -2 1 4 1 -1 1 2 1 6 1 0 1 -5 1 3 1 1 1 1 1 -1 1 3 1 2 1 4 1 0 1 1 1 1 1 4 1 -8 1 -1 1 -2 1 -4 1 3 1 -1 1 0 1 8 1 -5 1 -1 1 0 1 2 1 -2 1 2 1 -2M0 -235l1 12 1 -8 1 12 1 6 1 -12 1 6 1 5 1 4 1 -13 1 4 1 10 1 -10 1 11 1 -5 1 20 1 -13 1 -13 1 6 1 3 1 15 1 5 1 2 1 -17 1 11 1 4 1 -6 1 22 1 -13 1 4 1 4 1 7 1 6 1 2 1 -6 1 5 1 14 1 -12 1 11 1 -3 1 -13 1 19 1 -4 1 5 1 3 1 -5 1 1 1 -1 1 8 1 -3 1 5 1 -14 1 10 1 0 1 2 1 -1 1 7 1 6 1 4 1 1 1 4 1 4 1 4 1 5 1 2 1 -1 1 2 1 -1 1 3 1 4 1 3 1 1 1 6 1 2 1 -5 1 5 1 -1 1 1 1 4 1 2 1 3 1 2 1 3 1 0 1 1 1 2 1 0 1 5 1 -4 1 1 1 6 1 -3 1 2 1 3 1 0 1 8 1 -6 1 -6 1 1 1 -6 1 0 1 1 1 -2 1 3 1 -1 1 -1 1 -2 1 1 1 0 1 1 1 4 1 -5M0 -458l1 -1 1 -13 1 28 1 -4 1 -4 1 -2 1 -13 1 24 1 7 1 -5 1 14 1 -33 1 23 1 1 1 -10 1 15 1 15 1 -23 1 14 1 -22 1 19 1 26 1 -8 1 -10 1 52 1 -49 1 4 1 1 1 1 1 5 1 31 1 -13 1 1 1 -23 1 11 1 27 1 2 1 23 1 8 1 -39 1 14 1 -5 1 3 1 5 1 -12 1 30 1 -8 1 12 1 5 1 -1 1 2 1 16 1 4 1 -4 1 -12 1 18 1 5 1 -1 1 -1 1 -2 1 15 1 -8 1 13 1 3 1 18 1 -8 1 1 1 2 1 11 1 -4 1 -1 1 15 1 -5 1 2 1 12 1 -11 1 24 1 -4 1 -4 1 4 1 1 1 17 1 -19 1 8 1 8 1 10 1 -3 1 -12 1 11 1 1 1 -8 1 16 1 2 1 -3 1 4 1 -1 1 -2 1 -4 1 -8 1 -1 1 7 1 3 1 -1 1 3 1 -7 1 11 1 -14 1 -1 1 6 1 24 1 -21M0 -230l1 -3 1 7 1 16 1 -6 1 4 1 6 1 4 1 -6 1 0 1 2 1 5 1 0 1 4 1 -1 1 -7 1 8 1 -1 1 7 1 -4 1 5 1 9 1 10 1 -8 1 5 1 9 1 -6 1 9 1 -4 1 3 1 4 1 10 1 -7 1 2 1 8 1 -2 1 -2 1 8 1 3 1 9 1 -1 1 6 1 -2 1 -7 1 6 1 0 1 -4 1 9 1 -6 1 3 1 1 1 0 1 8 1 5 1 -7 1 3 1 7 1 -4 1 4 1 -3 1 4 1 5 1 2 1 0 1 5 1 3 1 0 1 5 1 5 1 -3 1 5 1 2 1 3 1 -1 1 2 1 2 1 0 1 0 1 3 1 -2 1 5 1 -1 1 3 1 -2 1 2 1 3 1 -2 1 5 1 -2 1 -1 1 3 1 -1 1 3 1 0 1 4 1 0 1 -5 1 -1 1 1 1 -1 1 1 1 0 1 0 1 0 1 -2 1 0 1 3 1 0 1 0 1 -2 1 5 1 -3M0 -392l1 -16 1 13 1 13 1 19 1 -12 1 5 1 -18 1 14 1 7 1 -12 1 4 1 9 1 -6 1 0 1 -8 1 29 1 6 1 -19 1 19 1 -5 1 -3 1 14 1 -9 1 18 1 2 1 -20 1 7 1 6 1 1 1 18 1 -5 1 11 1 1 1 -1 1 13 1 -16 1 11 1 21 1 -5 1 -6 1 7 1 -9 1 -4 1 10 1 3 1 -4 1 8 1 -8 1 14 1 1 1 13 1 -14 1 16 1 -5 1 -1 1 -3 1 10 1 14 1 -5 1 9 1 7 1 0 1 1 1 14 1 0 1 -4 1 -7 1 11 1 -9 1 11 1 -9 1 12 1 -2 1 10 1 4 1 20 1 -16 1 -2 1 4 1 4 1 0 1 -2 1 5 1 1 1 -2 1 -4 1 4 1 1 1 7 1 -4 1 -2 1 -2 1 8 1 13 1 0 1 -6 1 -7 1 -1 1 -8 1 -7 1 6 1 4 1 7 1 -2 1 6 1 1 1 -5 1 3 1 -5 1 9 1 -6M0 -227l1 11 1 -1 1 12 1 2 1 -3 1 1 1 3 1 1 1 -6 1 10 1 7 1 -7 1 15 1 -18 1 19 1 -7 1 -5 1 10 1 5 1 3 1 4 1 -3 1 -2 1 3 1 4 1 9 1 3 1 -7 1 -5 1 17 1 -9 1 -2 1 9 1 -2 1 2 1 0 1 10 1 10 1 -9 1 -1 1 8 1 2 1 -1 1 -1 1 4 1 0 1 0 1 5 1 1 1 6 1 3 1 -4 1 4 1 12 1 -6 1 0 1 7 1 4 1 -6 1 6 1 5 1 2 1 3 1 3 1 2 1 3 1 -1 1 0 1 2 1 2 1 1 1 5 1 -4 1 2 1 3 1 -3 1 6 1 1 1 -1 1 5 1 1 1 1 1 3 1 2 1 -3 1 0 1 3 1 -4 1 0 1 6 1 0 1 -2 1 5 1 1 1 4 1 -3 1 -3 1 0 1 -3 1 0 1 1 1 1 1 -1 1 2 1 -2 1 0 1 -2 1 0 1 2 1 5 1 -6M0 -253l1 4 1 8 1 -7 1 10 1 -11 1 6 1 16 1 -9 1 -19 1 19 1 5 1 -1 1 -11 1 7 1 1 1 18 1 -15 1 1 1 -8 1 -3 1 15 1 30 1 -20 1 -5 1 5 1 -2 1 14 1 -18 1 15 1 2 1 6 1 22 1 0 1 0 1 7 1 -9 1 -5 1 20 1 -1 1 -2 1 12 1 -7 1 1 1 12 1 -5 1 -6 1 12 1 -1 1 1 1 3 1 1 1 -4 1 13 1 -8 1 6 1 1 1 6 1 5 1 -9 1 7 1 11 1 -3 1 8 1 -2 1 3 1 1 1 -1 1 11 1 -5 1 2 1 0 1 9 1 -5 1 2 1 2 1 2 1 -4 1 11 1 1 1 5 1 -3 1 6 1 -3 1 2 1 1 1 -1 1 1 1 2 1 3 1 1 1 -2 1 3 1 4 1 -1 1 -2 1 -3 1 0 1 -5 1 -3 1 0 1 0 1 0 1 3 1 2 1 1 1 -4 1 4 1 -1 1 -3 1 6 1 -6M0 -209l1 -15 1 6 1 -6 1 20 1 -5 1 4 1 4 1 5 1 -7 1 -6 1 14 1 8 1 1 1 -3 1 -1 1 11 1 -14 1 2 1 12 1 5 1 1 1 -3 1 -2 1 9 1 5 1 2 1 -3 1 7 1 0 1 -1 1 3 1 11 1 -10 1 6 1 -10 1 6 1 2 1 9 1 -6 1 0 1 8 1 -4 1 -4 1 5 1 -4 1 13 1 5 1 -3 1 -1 1 1 1 6 1 6 1 12 1 -16 1 7 1 0 1 7 1 1 1 5 1 9 1 -4 1 0 1 0 1 3 1 4 1 13 1 -9 1 -1 1 7 1 -2 1 0 1 5 1 8 1 -2 1 -5 1 6 1 -3 1 3 1 3 1 3 1 -5 1 1 1 3 1 2 1 1 1 0 1 5 1 1 1 -2 1 4 1 0 1 0 1 4 1 4 1 -4 1 -1 1 0 1 -3 1 -1 1 -1 1 0 1 1 1 -1 1 1 1 0 1 3 1 -2 1 2 1 1 1 1 1 -4M0 -357l1 -6 1 -12 1 40 1 15 1 -32 1 -5 1 24 1 0 1 -13 1 -25 1 20 1 -4 1 -5 1 2 1 12 1 17 1 -12 1 33 1 -10 1 -16 1 20 1 -1 1 -4 1 3 1 -11 1 -10 1 46 1 -30 1 -9 1 14 1 17 1 4 1 -1 1 2 1 -2 1 2 1 8 1 16 1 12 1 4 1 -2 1 -12 1 -11 1 23 1 -21 1 21 1 1 1 -11 1 7 1 3 1 16 1 -3 1 7 1 -6 1 18 1 -11 1 15 1 -4 1 -10 1 16 1 -3 1 -9 1 23 1 -2 1 -11 1 11 1 0 1 8 1 1 1 5 1 -19 1 27 1 -10 1 0 1 1 1 -3 1 25 1 -17 1 8 1 1 1 -5 1 17 1 -4 1 7 1 5 1 -5 1 17 1 -11 1 -1 1 7 1 -2 1 5 1 3 1 1 1 2 1 -13 1 7 1 -4 1 -6 1 -11 1 10 1 1 1 7 1 -5 1 2 1 0 1 3 1 2 1 -7 1 7 1 -4M0 -324l1 1 1 -5 1 17 1 8 1 -7 1 -7 1 2 1 13 1 -9 1 -4 1 4 1 2 1 0 1 3 1 4 1 -1 1 -9 1 20 1 -5 1 -1 1 -2 1 15 1 -13 1 18 1 -2 1 -7 1 11 1 -6 1 -9 1 28 1 -1 1 -18 1 5 1 -14 1 -8 1 17 1 8 1 9 1 -11 1 0 1 10 1 9 1 -12 1 2 1 13 1 -1 1 6 1 11 1 21 1 -20 1 -1 1 11 1 -2 1 -1 1 5 1 -6 1 22 1 0 1 -7 1 9 1 -1 1 -1 1 -3 1 9 1 12 1 0 1 8 1 -5 1 3 1 0 1 -6 1 15 1 -10 1 8 1 3 1 -9 1 7 1 6 1 2 1 9 1 3 1 1 1 7 1 0 1 -3 1 2 1 14 1 -13 1 7 1 -2 1 -3 1 3 1 22 1 -7 1 -4 1 -13 1 -1 1 -3 1 6 1 -7 1 11 1 -9 1 9 1 2 1 1 1 -4 1 7 1 -13 1 12 1 6 1 -8M0 -236l1 7 1 9 1 1 1 10 1 -8 1 -9 1 19 1 2 1 -8 1 -1 1 1 1 8 1 2 1 8 1 1 1 11 1 1 1 -4 1 1 1 2 1 3 1 5 1 -3 1 2 1 16 1 -8 1 4 1 2 1 -1 1 12 1 17 1 -26 1 9 1 3 1 0 1 -7 1 7 1 13 1 -4 1 -10 1 6 1 -2 1 4 1 2 1 4 1 -3 1 5 1 4 1 1 1 0 1 10 1 -7 1 -1 1 5 1 -1 1 -5 1 12 1 4 1 -2 1 11 1 5 1 -6 1 5 1 0 1 0 1 3 1 4 1 0 1 14 1 -9 1 0 1 5 1 -6 1 5 1 -1 1 0 1 9 1 -2 1 -4 1 1 1 4 1 4 1 1 1 -1 1 2 1 -2 1 2 1 0 1 0 1 4 1 3 1 -1 1 2 1 0 1 1 1 1 1 -4 1 2 1 -3 1 0 1 -3 1 2 1 -1 1 3 1 -1 1 -2 1 1 1 2 1 -1 1 2 1 0M0 -279l1 -6 1 6 1 10 1 -1 1 5 1 1 1 -18 1 39 1 -10 1 5 1 3 1 13 1 -13 1 -8 1 11 1 11 1 -13 1 14 1 -7 1 -1 1 0 1 13 1 -4 1 13 1 -4 1 -2 1 18 1 -14 1 0 1 13 1 -14 1 16 1 -6 1 5 1 -10 1 7 1 28 1 -18 1 0 1 -2 1 15 1 -9 1 -2 1 0 1 3 1 6 1 -1 1 5 1 1 1 -6 1 8 1 4 1 9 1 -1 1 5 1 -3 1 10 1 4 1 2 1 -1 1 -2 1 -5 1 7 1 1 1 3 1 5 1 2 1 22 1 -21 1 3 1 -3 1 8 1 -5 1 3 1 2 1 -3 1 1 1 7 1 0 1 6 1 -11 1 1 1 8 1 1 1 1 1 -1 1 12 1 -4 1 2 1 6 1 -4 1 5 1 5 1 3 1 1 1 -4 1 -6 1 5 1 -7 1 3 1 -3 1 3 1 7 1 -2 1 7 1 -3 1 -1 1 -1 1 3 1 4 1 -5M0 -187l1 -12 1 3 1 23 1 17 1 -12 1 3 1 3 1 -1 1 -1 1 4 1 4 1 3 1 7 1 -10 1 3 1 5 1 -6 1 6 1 0 1 5 1 7 1 6 1 -7 1 0 1 8 1 -2 1 7 1 -9 1 -2 1 8 1 4 1 -1 1 4 1 2 1 -4 1 2 1 10 1 5 1 -7 1 -6 1 5 1 5 1 -7 1 6 1 -2 1 2 1 6 1 -3 1 2 1 9 1 -4 1 -7 1 7 1 -3 1 2 1 4 1 7 1 -4 1 1 1 4 1 3 1 -2 1 3 1 1 1 1 1 4 1 8 1 1 1 2 1 2 1 -2 1 6 1 -2 1 2 1 5 1 -3 1 0 1 3 1 0 1 -1 1 2 1 2 1 0 1 1 1 -1 1 1 1 5 1 -2 1 0 1 2 1 0 1 2 1 1 1 2 1 1 1 -6 1 1 1 -2 1 0 1 0 1 1 1 -2 1 0 1 2 1 0 1 -1 1 0 1 0 1 0 1 4 1 -3M0 -279l1 -18 1 1 1 10 1 6 1 3 1 -6 1 17 1 -8 1 26 1 -29 1 12 1 -6 1 14 1 10 1 0 1 13 1 -14 1 7 1 8 1 -22 1 10 1 9 1 0 1 3 1 -2 1 0 1 3 1 5 1 -6 1 6 1 4 1 -1 1 28 1 -41 1 19 1 16 1 -12 1 4 1 3 1 2 1 4 1 0 1 -4 1 8 1 0 1 7 1 1 1 -5 1 -2 1 -4 1 10 1 4 1 7 1 -4 1 4 1 3 1 -1 1 11 1 -10 1 10 1 6 1 -2 1 5 1 0 1 7 1 4 1 -3 1 12 1 4 1 3 1 -1 1 10 1 -4 1 5 1 7 1 -6 1 5 1 1 1 8 1 -8 1 14 1 -5 1 -3 1 5 1 -1 1 -3 1 13 1 -1 1 -3 1 4 1 -2 1 7 1 4 1 0 1 1 1 -2 1 -6 1 3 1 -4 1 -2 1 -4 1 5 1 -1 1 2 1 -3 1 -1 1 -1 1 3 1 4 1 -1 1 -1M0 -259l1 5 1 2 1 -3 1 8 1 3 1 3 1 -2 1 12 1 -3 1 3 1 -5 1 3 1 11 1 -3 1 -6 1 -9 1 13 1 -11 1 3 1 -4 1 8 1 -2 1 -2 1 11 1 1 1 6 1 8 1 -8 1 -2 1 18 1 0 1 11 1 5 1 -12 1 6 1 -2 1 5 1 22 1 -19 1 -8 1 13 1 -2 1 -3 1 2 1 2 1 18 1 -14 1 -2 1 6 1 6 1 -1 1 3 1 6 1 -2 1 4 1 4 1 12 1 -5 1 14 1 6 1 -2 1 -8 1 9 1 -3 1 -2 1 2 1 1 1 7 1 -1 1 0 1 0 1 10 1 -4 1 6 1 0 1 6 1 1 1 8 1 -2 1 5 1 -3 1 7 1 -1 1 0 1 0 1 -1 1 9 1 -7 1 2 1 5 1 -4 1 1 1 4 1 4 1 -5 1 0 1 -3 1 1 1 -7 1 1 1 -3 1 7 1 0 1 2 1 7 1 -9 1 3 1 -3 1 3 1 3 1 -6M0 -283l1 -16 1 21 1 27 1 -25 1 7 1 3 1 21 1 -12 1 -9 1 11 1 -18 1 16 1 0 1 -12 1 1 1 15 1 -9 1 6 1 -12 1 10 1 18 1 -16 1 -3 1 10 1 2 1 24 1 -25 1 -5 1 -3 1 9 1 4 1 -12 1 6 1 11 1 -8 1 1 1 10 1 13 1 -2 1 -17 1 29 1 -4 1 -10 1 -4 1 9 1 4 1 7 1 -4 1 9 1 -8 1 4 1 40 1 -17 1 -7 1 10 1 2 1 -2 1 16 1 -12 1 19 1 0 1 -7 1 11 1 2 1 2 1 4 1 7 1 5 1 9 1 -5 1 18 1 -10 1 -3 1 5 1 -1 1 0 1 2 1 6 1 6 1 12 1 -11 1 1 1 -2 1 6 1 -1 1 0 1 8 1 -4 1 0 1 8 1 1 1 -1 1 3 1 5 1 -1 1 -6 1 -3 1 3 1 -2 1 -4 1 3 1 5 1 2 1 -5 1 3 1 -2 1 0 1 -5 1 3 1 5 1 -6M0 -225l1 4 1 17 1 -4 1 0 1 -5 1 5 1 -9 1 9 1 -4 1 3 1 15 1 -1 1 13 1 -16 1 1 1 15 1 -15 1 15 1 -3 1 3 1 3 1 13 1 -13 1 5 1 4 1 -6 1 17 1 -12 1 2 1 2 1 8 1 5 1 0 1 -4 1 22 1 -11 1 4 1 10 1 -8 1 0 1 6 1 -2 1 1 1 4 1 -2 1 7 1 -5 1 4 1 5 1 -1 1 8 1 -3 1 17 1 -14 1 8 1 -6 1 2 1 8 1 -3 1 8 1 0 1 -1 1 7 1 -7 1 12 1 2 1 1 1 1 1 3 1 2 1 1 1 10 1 -6 1 3 1 4 1 2 1 1 1 1 1 -4 1 7 1 0 1 0 1 1 1 3 1 -1 1 0 1 4 1 -3 1 8 1 -3 1 0 1 1 1 4 1 -1 1 0 1 -2 1 -3 1 0 1 -2 1 1 1 0 1 -1 1 2 1 2 1 -1 1 0 1 1 1 -1 1 1 1 6 1 -6M0 -280l1 -11 1 17 1 7 1 11 1 0 1 -12 1 -3 1 8 1 4 1 -10 1 25 1 -22 1 9 1 -10 1 11 1 -3 1 26 1 -17 1 -2 1 4 1 -7 1 5 1 10 1 -3 1 2 1 -2 1 -3 1 8 1 -2 1 6 1 -4 1 17 1 -15 1 -4 1 -1 1 8 1 7 1 14 1 -1 1 -5 1 10 1 3 1 21 1 -23 1 8 1 5 1 -4 1 27 1 -21 1 1 1 2 1 8 1 3 1 5 1 5 1 3 1 1 1 3 1 -7 1 17 1 1 1 -3 1 12 1 -4 1 -1 1 11 1 2 1 2 1 -5 1 4 1 6 1 1 1 3 1 -4 1 5 1 1 1 1 1 8 1 -2 1 6 1 12 1 -7 1 8 1 -1 1 -8 1 5 1 2 1 -2 1 6 1 4 1 -3 1 4 1 1 1 5 1 -3 1 -4 1 -2 1 -2 1 0 1 -1 1 -7 1 9 1 1 1 1 1 0 1 -2 1 4 1 -3 1 2 1 1 1 6M0 -240l1 16 1 4 1 -3 1 9 1 -15 1 -3 1 1 1 14 1 -19 1 13 1 10 1 -9 1 10 1 -2 1 -8 1 32 1 -21 1 -3 1 -5 1 6 1 7 1 11 1 -6 1 9 1 2 1 0 1 19 1 -10 1 -2 1 9 1 23 1 -16 1 -2 1 3 1 1 1 9 1 1 1 10 1 -1 1 -4 1 9 1 0 1 -13 1 17 1 -10 1 -1 1 5 1 -10 1 6 1 3 1 3 1 -3 1 7 1 0 1 7 1 -3 1 5 1 5 1 -5 1 10 1 -3 1 8 1 -2 1 1 1 7 1 3 1 2 1 -2 1 3 1 -4 1 5 1 6 1 -9 1 10 1 1 1 6 1 -3 1 8 1 -1 1 2 1 -2 1 5 1 0 1 9 1 -4 1 -2 1 5 1 9 1 -7 1 1 1 9 1 -7 1 4 1 -1 1 1 1 -1 1 -4 1 1 1 -3 1 -3 1 3 1 -2 1 3 1 -4 1 3 1 1 1 -2 1 1 1 5 1 -3 1 2M0 -495l1 -29 1 39 1 -18 1 14 1 -3 1 -1 1 9 1 5 1 2 1 -9 1 -1 1 25 1 9 1 -17 1 -9 1 35 1 -17 1 14 1 -27 1 10 1 5 1 10 1 -4 1 3 1 2 1 8 1 9 1 -20 1 1 1 30 1 3 1 -15 1 5 1 -10 1 11 1 6 1 20 1 45 1 -37 1 -39 1 48 1 -12 1 -9 1 16 1 2 1 7 1 -6 1 10 1 -6 1 -6 1 9 1 14 1 15 1 -16 1 33 1 -13 1 15 1 -10 1 3 1 11 1 -3 1 -13 1 24 1 -12 1 17 1 -1 1 26 1 -4 1 6 1 2 1 -2 1 0 1 4 1 7 1 6 1 -2 1 -10 1 26 1 -10 1 26 1 -17 1 8 1 -2 1 11 1 1 1 -5 1 19 1 -4 1 -17 1 33 1 -17 1 10 1 -4 1 18 1 1 1 -9 1 -2 1 6 1 -24 1 3 1 -5 1 3 1 3 1 5 1 5 1 -6 1 3 1 1 1 -2 1 17 1 -20M0 -187l1 0 1 7 1 -11 1 20 1 -3 1 -12 1 10 1 7 1 -9 1 -2 1 15 1 1 1 2 1 1 1 -3 1 3 1 3 1 0 1 0 1 -7 1 11 1 6 1 -3 1 22 1 -16 1 -4 1 5 1 3 1 -4 1 8 1 5 1 3 1 0 1 4 1 2 1 2 1 6 1 4 1 -10 1 0 1 9 1 0 1 3 1 4 1 -1 1 2 1 0 1 -2 1 0 1 3 1 9 1 0 1 3 1 -2 1 8 1 -2 1 2 1 5 1 -1 1 2 1 2 1 0 1 0 1 3 1 1 1 2 1 2 1 1 1 3 1 1 1 -3 1 4 1 3 1 2 1 8 1 -5 1 0 1 0 1 0 1 4 1 -1 1 2 1 2 1 3 1 -1 1 0 1 2 1 0 1 1 1 2 1 0 1 2 1 1 1 1 1 0 1 -2 1 1 1 0 1 -3 1 -1 1 -2 1 3 1 0 1 0 1 1 1 0 1 2 1 0 1 -2 1 3 1 -4M0 -283l1 -1 1 7 1 8 1 10 1 -13 1 0 1 4 1 4 1 -11 1 11 1 19 1 1 1 6 1 0 1 -4 1 23 1 -10 1 -3 1 -6 1 4 1 -5 1 6 1 -4 1 12 1 1 1 -13 1 31 1 -13 1 -17 1 25 1 12 1 -7 1 -1 1 2 1 -5 1 -8 1 9 1 13 1 1 1 -4 1 29 1 -23 1 -16 1 9 1 2 1 -1 1 14 1 2 1 1 1 -9 1 8 1 -3 1 20 1 -13 1 22 1 -11 1 7 1 1 1 -14 1 18 1 1 1 3 1 2 1 7 1 18 1 -14 1 5 1 3 1 -1 1 6 1 -1 1 12 1 -6 1 10 1 3 1 -2 1 0 1 7 1 -6 1 15 1 -10 1 5 1 -6 1 0 1 0 1 2 1 4 1 -3 1 1 1 8 1 -6 1 3 1 7 1 -5 1 4 1 -12 1 3 1 -1 1 -4 1 4 1 -7 1 6 1 -4 1 0 1 -6 1 3 1 -1 1 4 1 1 1 6 1 -9M0 -258l1 -17 1 5 1 17 1 -3 1 10 1 3 1 0 1 17 1 -13 1 5 1 11 1 -6 1 15 1 -5 1 3 1 9 1 -9 1 0 1 4 1 14 1 0 1 7 1 0 1 5 1 -6 1 1 1 -9 1 5 1 11 1 7 1 -8 1 -2 1 9 1 0 1 6 1 -1 1 1 1 7 1 -5 1 0 1 4 1 4 1 2 1 3 1 3 1 2 1 3 1 -9 1 2 1 5 1 0 1 17 1 -2 1 -3 1 -1 1 2 1 4 1 4 1 1 1 8 1 5 1 3 1 2 1 -2 1 5 1 13 1 -11 1 2 1 2 1 -2 1 2 1 5 1 -2 1 3 1 2 1 3 1 -1 1 2 1 4 1 -1 1 -2 1 2 1 -1 1 1 1 1 1 -1 1 6 1 -4 1 0 1 7 1 -1 1 0 1 4 1 4 1 0 1 -9 1 0 1 0 1 -5 1 5 1 2 1 -7 1 5 1 -1 1 1 1 -4 1 2 1 3 1 -2 1 1 1 0M0 -268l1 10 1 -16 1 9 1 10 1 -7 1 12 1 3 1 4 1 -7 1 1 1 1 1 12 1 -2 1 -4 1 9 1 -2 1 -1 1 12 1 -2 1 -4 1 12 1 6 1 -2 1 6 1 3 1 -15 1 15 1 8 1 -8 1 6 1 2 1 5 1 3 1 -9 1 2 1 9 1 6 1 -6 1 2 1 0 1 14 1 -4 1 -5 1 13 1 3 1 -2 1 6 1 -3 1 -6 1 7 1 7 1 -4 1 11 1 6 1 -5 1 1 1 1 1 -1 1 4 1 8 1 3 1 4 1 1 1 -1 1 5 1 -1 1 -2 1 9 1 3 1 -2 1 -5 1 8 1 -2 1 8 1 -4 1 3 1 -2 1 9 1 3 1 0 1 -1 1 2 1 0 1 4 1 -2 1 5 1 4 1 1 1 -7 1 12 1 -6 1 2 1 2 1 3 1 2 1 -3 1 -2 1 -7 1 -5 1 4 1 -3 1 3 1 -1 1 -1 1 2 1 1 1 7 1 -4 1 9 1 -6 1 0M0 -315l1 9 1 4 1 -4 1 -8 1 7 1 2 1 13 1 10 1 -15 1 14 1 1 1 -3 1 7 1 -8 1 4 1 28 1 -9 1 2 1 -7 1 12 1 -4 1 9 1 -3 1 11 1 -10 1 15 1 3 1 15 1 -20 1 -1 1 15 1 -2 1 6 1 -1 1 11 1 -5 1 4 1 8 1 -4 1 -1 1 2 1 3 1 -2 1 4 1 -6 1 14 1 -14 1 14 1 4 1 7 1 -4 1 5 1 12 1 0 1 8 1 -2 1 0 1 2 1 0 1 5 1 8 1 1 1 -2 1 2 1 11 1 -7 1 8 1 3 1 11 1 -3 1 0 1 6 1 -6 1 1 1 6 1 5 1 -5 1 6 1 0 1 11 1 -2 1 0 1 1 1 4 1 12 1 -6 1 5 1 -3 1 -1 1 8 1 -4 1 -2 1 4 1 2 1 -2 1 -6 1 3 1 -5 1 -6 1 5 1 1 1 -4 1 -2 1 3 1 1 1 -4 1 1 1 1 1 1 1 8 1 -13M0 -197l1 5 1 3 1 -3 1 4 1 -9 1 6 1 0 1 -3 1 0 1 4 1 -2 1 10 1 6 1 -2 1 0 1 13 1 -11 1 2 1 11 1 3 1 -3 1 6 1 8 1 0 1 3 1 5 1 1 1 6 1 -7 1 5 1 7 1 -9 1 2 1 -1 1 5 1 0 1 11 1 3 1 5 1 -4 1 -5 1 8 1 -3 1 0 1 3 1 3 1 1 1 5 1 5 1 -10 1 4 1 -1 1 6 1 1 1 5 1 2 1 3 1 4 1 -5 1 7 1 1 1 1 1 2 1 4 1 3 1 -4 1 3 1 3 1 3 1 4 1 -3 1 2 1 -4 1 8 1 -3 1 2 1 2 1 2 1 2 1 1 1 0 1 0 1 3 1 -1 1 3 1 1 1 1 1 0 1 0 1 0 1 1 1 3 1 0 1 0 1 4 1 -3 1 -2 1 -4 1 1 1 2 1 -2 1 -1 1 1 1 1 1 -1 1 -1 1 0 1 0 1 1 1 1 1 0M0 -345l1 -4 1 -10 1 23 1 3 1 -31 1 23 1 -8 1 10 1 0 1 -8 1 7 1 3 1 27 1 -24 1 15 1 10 1 28 1 -25 1 -18 1 6 1 20 1 14 1 -22 1 5 1 4 1 0 1 -17 1 7 1 6 1 15 1 -12 1 6 1 8 1 -14 1 3 1 11 1 1 1 22 1 -11 1 -12 1 3 1 1 1 -3 1 4 1 7 1 18 1 1 1 11 1 -8 1 -2 1 12 1 23 1 -16 1 -18 1 15 1 5 1 9 1 1 1 -8 1 17 1 7 1 -11 1 5 1 7 1 -2 1 -9 1 22 1 -4 1 0 1 4 1 -2 1 7 1 3 1 1 1 -2 1 4 1 -11 1 14 1 -5 1 10 1 -5 1 10 1 4 1 -3 1 8 1 -1 1 6 1 -10 1 5 1 2 1 4 1 -2 1 2 1 12 1 -5 1 -4 1 3 1 -5 1 12 1 -14 1 6 1 -11 1 1 1 4 1 6 1 -9 1 12 1 8 1 -8 1 9 1 -13M0 -449l1 12 1 13 1 -5 1 16 1 -16 1 -2 1 29 1 -6 1 -17 1 24 1 -18 1 17 1 6 1 -6 1 -10 1 9 1 -7 1 31 1 -3 1 0 1 1 1 31 1 -9 1 4 1 9 1 -11 1 19 1 -22 1 5 1 9 1 14 1 13 1 -17 1 5 1 -4 1 12 1 5 1 4 1 -21 1 11 1 14 1 3 1 -13 1 0 1 14 1 -6 1 -3 1 -4 1 15 1 -4 1 55 1 -53 1 24 1 -27 1 24 1 -3 1 16 1 -5 1 2 1 30 1 -20 1 12 1 -9 1 -2 1 6 1 4 1 7 1 -5 1 -2 1 6 1 -7 1 26 1 -11 1 6 1 8 1 0 1 0 1 10 1 6 1 8 1 -5 1 10 1 -2 1 23 1 -16 1 -3 1 18 1 -15 1 7 1 3 1 -6 1 10 1 -2 1 -3 1 6 1 -10 1 11 1 -8 1 -24 1 0 1 -1 1 -5 1 12 1 7 1 -6 1 11 1 2 1 -7 1 -3 1 21 1 -17M0 -234l1 -10 1 8 1 9 1 1 1 1 1 -3 1 8 1 11 1 -19 1 14 1 -7 1 4 1 6 1 -3 1 11 1 1 1 -6 1 2 1 -2 1 13 1 2 1 5 1 -10 1 26 1 -17 1 5 1 20 1 -17 1 -4 1 9 1 -5 1 15 1 -2 1 5 1 1 1 -4 1 1 1 14 1 -1 1 -2 1 8 1 -8 1 6 1 3 1 -6 1 12 1 0 1 7 1 2 1 0 1 5 1 0 1 9 1 0 1 5 1 -4 1 12 1 0 1 1 1 15 1 -9 1 2 1 6 1 -2 1 1 1 0 1 6 1 1 1 4 1 0 1 -1 1 4 1 -1 1 6 1 -1 1 1 1 2 1 6 1 -1 1 0 1 3 1 -4 1 5 1 2 1 -3 1 4 1 2 1 -5 1 2 1 4 1 -2 1 0 1 2 1 3 1 0 1 -6 1 1 1 -1 1 -1 1 -1 1 -1 1 0 1 1 1 4 1 -2 1 -1 1 2 1 -1 1 0 1 0 1 0M0 -303l1 3 1 -1 1 12 1 -1 1 -34 1 39 1 -16 1 10 1 -16 1 6 1 14 1 -9 1 3 1 3 1 -7 1 3 1 -29 1 2 1 21 1 -7 1 15 1 21 1 -13 1 14 1 -6 1 1 1 2 1 2 1 14 1 8 1 -17 1 0 1 17 1 -12 1 11 1 0 1 4 1 10 1 -3 1 -7 1 1 1 -8 1 7 1 -3 1 14 1 -15 1 13 1 10 1 3 1 0 1 2 1 5 1 18 1 -5 1 11 1 0 1 2 1 7 1 -5 1 11 1 0 1 6 1 -10 1 6 1 11 1 -1 1 0 1 2 1 10 1 0 1 -9 1 8 1 0 1 7 1 0 1 -4 1 8 1 -3 1 -7 1 9 1 2 1 1 1 -2 1 17 1 -10 1 3 1 -1 1 2 1 -2 1 7 1 1 1 3 1 2 1 4 1 -3 1 -4 1 6 1 -2 1 -5 1 -1 1 4 1 2 1 -4 1 13 1 -13 1 6 1 2 1 -7 1 4 1 9 1 -4M0 -355l1 -15 1 0 1 -1 1 17 1 -4 1 9 1 1 1 -6 1 0 1 -9 1 -13 1 49 1 -31 1 7 1 1 1 4 1 -5 1 9 1 -23 1 7 1 16 1 17 1 -16 1 7 1 7 1 -8 1 20 1 -15 1 9 1 11 1 0 1 -3 1 6 1 0 1 5 1 11 1 4 1 16 1 -20 1 -3 1 29 1 -12 1 11 1 -8 1 9 1 6 1 7 1 -6 1 -4 1 -3 1 19 1 -13 1 7 1 -3 1 10 1 5 1 5 1 11 1 -15 1 16 1 1 1 8 1 0 1 -1 1 8 1 -1 1 -2 1 12 1 -13 1 9 1 5 1 0 1 7 1 -1 1 0 1 -8 1 10 1 -3 1 1 1 2 1 5 1 12 1 -8 1 -1 1 12 1 -14 1 15 1 0 1 -5 1 5 1 5 1 2 1 6 1 0 1 6 1 -12 1 -2 1 0 1 -3 1 4 1 18 1 -17 1 3 1 4 1 -12 1 9 1 -8 1 -11 1 19 1 -5 1 -8M0 -380l1 46 1 -37 1 26 1 -5 1 9 1 10 1 -10 1 5 1 -14 1 3 1 7 1 -14 1 28 1 -19 1 16 1 40 1 -48 1 -5 1 0 1 9 1 13 1 4 1 -19 1 22 1 11 1 -2 1 6 1 -14 1 1 1 17 1 23 1 -19 1 8 1 -15 1 1 1 5 1 -5 1 31 1 -21 1 -3 1 14 1 -7 1 -6 1 13 1 -9 1 11 1 5 1 3 1 6 1 29 1 -28 1 0 1 14 1 -12 1 7 1 8 1 7 1 -3 1 -3 1 15 1 11 1 -7 1 4 1 13 1 -6 1 3 1 3 1 -1 1 0 1 -3 1 3 1 16 1 -10 1 9 1 4 1 4 1 -2 1 12 1 -3 1 -1 1 1 1 1 1 1 1 9 1 -4 1 1 1 20 1 -21 1 16 1 0 1 4 1 -11 1 13 1 4 1 -7 1 -5 1 -5 1 4 1 -5 1 -8 1 16 1 -11 1 4 1 -3 1 -4 1 -5 1 4 1 2 1 4 1 2 1 -8M0 -309l1 5 1 24 1 -31 1 31 1 9 1 -8 1 5 1 -10 1 8 1 2 1 0 1 6 1 -5 1 -4 1 11 1 5 1 -7 1 -8 1 15 1 -1 1 4 1 16 1 -5 1 2 1 30 1 -24 1 -3 1 12 1 -5 1 20 1 6 1 2 1 -6 1 0 1 1 1 6 1 -7 1 14 1 -8 1 -6 1 5 1 -5 1 -1 1 5 1 5 1 0 1 3 1 6 1 -3 1 1 1 4 1 0 1 6 1 -6 1 -2 1 -1 1 10 1 7 1 9 1 3 1 16 1 -11 1 2 1 1 1 1 1 8 1 4 1 4 1 20 1 -18 1 -5 1 6 1 2 1 3 1 5 1 -1 1 1 1 2 1 -4 1 10 1 2 1 7 1 3 1 0 1 2 1 -2 1 4 1 2 1 3 1 2 1 4 1 2 1 -5 1 -2 1 5 1 -8 1 3 1 0 1 -8 1 4 1 2 1 -5 1 5 1 -5 1 2 1 2 1 -4 1 -3 1 0 1 6 1 -3M0 -188l1 3 1 13 1 -5 1 7 1 -1 1 0 1 0 1 13 1 -11 1 3 1 7 1 -3 1 13 1 -6 1 3 1 12 1 -12 1 -5 1 5 1 -4 1 10 1 1 1 -1 1 -7 1 10 1 -1 1 0 1 -3 1 3 1 1 1 17 1 -11 1 3 1 2 1 3 1 -1 1 4 1 5 1 9 1 -12 1 12 1 -2 1 -2 1 9 1 6 1 -11 1 3 1 1 1 4 1 1 1 0 1 4 1 2 1 1 1 4 1 -1 1 7 1 2 1 -3 1 11 1 1 1 -2 1 0 1 4 1 4 1 -1 1 0 1 4 1 3 1 0 1 0 1 6 1 0 1 3 1 -1 1 3 1 0 1 3 1 0 1 2 1 1 1 2 1 1 1 0 1 1 1 -1 1 3 1 -3 1 2 1 4 1 -3 1 1 1 2 1 3 1 0 1 -2 1 -1 1 0 1 -3 1 0 1 1 1 1 1 -1 1 0 1 2 1 0 1 0 1 0 1 0 1 4 1 -3M0 -256l1 -2 1 12 1 -7 1 13 1 -3 1 8 1 15 1 -14 1 8 1 8 1 -2 1 21 1 -18 1 -4 1 3 1 15 1 -11 1 8 1 6 1 -11 1 8 1 6 1 1 1 19 1 -11 1 -15 1 12 1 4 1 10 1 -12 1 12 1 -10 1 3 1 8 1 -3 1 6 1 4 1 20 1 -9 1 -13 1 9 1 9 1 6 1 -13 1 7 1 -1 1 9 1 8 1 1 1 -4 1 9 1 -4 1 4 1 0 1 6 1 -2 1 11 1 -10 1 7 1 3 1 4 1 0 1 4 1 2 1 6 1 -6 1 5 1 4 1 -3 1 -1 1 3 1 17 1 -12 1 1 1 1 1 1 1 -1 1 5 1 -2 1 0 1 3 1 3 1 2 1 1 1 -3 1 6 1 1 1 -1 1 0 1 3 1 0 1 2 1 0 1 6 1 1 1 -2 1 -1 1 2 1 -1 1 -2 1 3 1 1 1 6 1 -7 1 -2 1 0 1 -1 1 0 1 -2 1 3 1 -1M0 -342l1 5 1 6 1 8 1 11 1 -2 1 2 1 4 1 -16 1 36 1 -37 1 9 1 -10 1 -4 1 7 1 1 1 20 1 2 1 -4 1 21 1 -39 1 17 1 8 1 -17 1 9 1 28 1 2 1 -2 1 6 1 2 1 14 1 14 1 -7 1 2 1 -12 1 -1 1 1 1 13 1 -3 1 -2 1 -10 1 15 1 2 1 -2 1 14 1 2 1 21 1 -25 1 25 1 -19 1 13 1 -16 1 2 1 22 1 -5 1 2 1 11 1 -15 1 3 1 5 1 8 1 -4 1 10 1 7 1 5 1 -4 1 10 1 -1 1 10 1 6 1 -7 1 3 1 7 1 -11 1 15 1 2 1 6 1 1 1 0 1 2 1 0 1 5 1 13 1 -17 1 4 1 3 1 -4 1 10 1 -2 1 -7 1 11 1 -5 1 2 1 3 1 -4 1 5 1 -6 1 -2 1 4 1 -2 1 -5 1 -6 1 0 1 7 1 -4 1 5 1 -5 1 3 1 1 1 4 1 6 1 -11M0 -281l1 7 1 -11 1 2 1 7 1 23 1 -17 1 1 1 22 1 -18 1 13 1 7 1 -3 1 0 1 20 1 -22 1 14 1 -6 1 4 1 -6 1 16 1 0 1 19 1 -17 1 12 1 -1 1 -5 1 3 1 -1 1 -1 1 12 1 4 1 -7 1 8 1 3 1 7 1 -3 1 -3 1 13 1 -5 1 -4 1 9 1 4 1 -3 1 2 1 1 1 6 1 3 1 0 1 4 1 0 1 12 1 -7 1 7 1 1 1 2 1 -3 1 10 1 -5 1 0 1 10 1 3 1 1 1 5 1 -4 1 7 1 0 1 -1 1 7 1 2 1 3 1 -3 1 9 1 -1 1 -2 1 4 1 2 1 3 1 2 1 2 1 4 1 -6 1 6 1 2 1 3 1 -3 1 3 1 3 1 -4 1 1 1 4 1 3 1 -2 1 0 1 9 1 -2 1 -7 1 1 1 -3 1 -4 1 -1 1 -1 1 3 1 -1 1 14 1 -14 1 -2 1 0 1 1 1 4 1 1 1 -4M0 -228l1 14 1 2 1 15 1 -3 1 0 1 -10 1 17 1 -3 1 2 1 -11 1 18 1 -9 1 3 1 -8 1 4 1 10 1 -1 1 -2 1 -1 1 11 1 -4 1 10 1 -4 1 0 1 10 1 -6 1 5 1 -7 1 4 1 7 1 -1 1 5 1 4 1 2 1 -1 1 8 1 -11 1 17 1 -5 1 3 1 1 1 -3 1 2 1 5 1 -3 1 9 1 0 1 -3 1 6 1 -2 1 3 1 9 1 -1 1 1 1 14 1 -12 1 9 1 1 1 -1 1 4 1 -1 1 -3 1 5 1 4 1 3 1 -2 1 2 1 5 1 -2 1 -1 1 4 1 3 1 5 1 -1 1 5 1 2 1 1 1 2 1 0 1 2 1 1 1 3 1 3 1 -5 1 4 1 3 1 2 1 1 1 -1 1 4 1 1 1 -1 1 3 1 3 1 -1 1 -3 1 -3 1 -2 1 0 1 -2 1 1 1 2 1 0 1 -1 1 -2 1 2 1 3 1 -2 1 1 1 1 1 -2M0 -358l1 8 1 -14 1 13 1 4 1 -14 1 -28 1 16 1 27 1 -20 1 5 1 42 1 -22 1 -8 1 -3 1 27 1 -3 1 3 1 9 1 -16 1 10 1 26 1 -30 1 -3 1 7 1 10 1 -11 1 33 1 -22 1 15 1 21 1 -7 1 -2 1 9 1 -2 1 13 1 -6 1 -3 1 24 1 -9 1 -10 1 6 1 1 1 1 1 12 1 27 1 -32 1 22 1 -10 1 18 1 -13 1 11 1 -1 1 5 1 -2 1 2 1 -2 1 10 1 -15 1 5 1 9 1 15 1 -6 1 14 1 -1 1 -7 1 10 1 -8 1 4 1 5 1 2 1 -5 1 1 1 2 1 10 1 9 1 0 1 6 1 -3 1 11 1 0 1 1 1 -6 1 5 1 4 1 -8 1 12 1 14 1 -10 1 -5 1 7 1 10 1 -3 1 8 1 -1 1 -4 1 -10 1 0 1 0 1 -5 1 10 1 -4 1 -2 1 1 1 2 1 -3 1 10 1 2 1 -7 1 3 1 3 1 -4M0 -207l1 5 1 4 1 6 1 8 1 -3 1 4 1 -2 1 2 1 2 1 4 1 -3 1 6 1 -3 1 -14 1 1 1 7 1 19 1 -15 1 2 1 -1 1 13 1 -8 1 -2 1 10 1 5 1 1 1 -1 1 -1 1 2 1 9 1 4 1 -8 1 9 1 0 1 -2 1 3 1 5 1 6 1 -4 1 -1 1 4 1 -2 1 -5 1 15 1 2 1 3 1 -7 1 3 1 7 1 -4 1 6 1 4 1 0 1 4 1 4 1 1 1 7 1 2 1 0 1 6 1 4 1 8 1 -4 1 2 1 2 1 -3 1 2 1 2 1 -1 1 2 1 0 1 7 1 -2 1 10 1 -4 1 1 1 -1 1 -3 1 2 1 4 1 -1 1 1 1 3 1 0 1 0 1 1 1 1 1 3 1 1 1 1 1 0 1 2 1 2 1 3 1 -1 1 -3 1 -2 1 1 1 -5 1 1 1 -1 1 3 1 2 1 -1 1 1 1 -1 1 2 1 -1 1 3 1 3 1 -6M0 -472l1 1 1 2 1 18 1 10 1 5 1 -25 1 13 1 15 1 5 1 -10 1 25 1 -3 1 -3 1 -6 1 10 1 22 1 -19 1 22 1 -1 1 -4 1 -4 1 44 1 -36 1 11 1 13 1 -8 1 4 1 -6 1 -7 1 8 1 5 1 7 1 -4 1 41 1 -49 1 2 1 15 1 12 1 -5 1 -6 1 10 1 2 1 5 1 16 1 -17 1 4 1 7 1 0 1 -5 1 12 1 7 1 -10 1 13 1 -2 1 -1 1 12 1 20 1 -9 1 -14 1 15 1 4 1 -3 1 21 1 3 1 13 1 -13 1 5 1 5 1 -6 1 19 1 -14 1 17 1 -12 1 11 1 -3 1 5 1 0 1 7 1 -4 1 18 1 -13 1 11 1 -1 1 0 1 -3 1 5 1 10 1 -4 1 -3 1 18 1 -7 1 2 1 7 1 3 1 -1 1 -4 1 -16 1 7 1 -3 1 -4 1 15 1 -17 1 0 1 4 1 4 1 -7 1 9 1 13 1 -9 1 5 1 -2M0 -422l1 -13 1 20 1 12 1 -8 1 -23 1 14 1 0 1 17 1 -10 1 26 1 -8 1 13 1 -4 1 -19 1 17 1 29 1 -22 1 45 1 -22 1 3 1 -5 1 24 1 -36 1 30 1 1 1 -17 1 11 1 8 1 18 1 -4 1 16 1 -4 1 3 1 -20 1 17 1 -3 1 -1 1 0 1 -6 1 -3 1 -5 1 13 1 -22 1 26 1 -10 1 4 1 13 1 -9 1 11 1 1 1 -1 1 -2 1 0 1 9 1 -8 1 18 1 8 1 3 1 -10 1 32 1 -22 1 3 1 14 1 -2 1 6 1 4 1 -6 1 11 1 6 1 -2 1 14 1 17 1 -8 1 -9 1 13 1 -4 1 12 1 -2 1 -3 1 12 1 0 1 6 1 3 1 -6 1 3 1 14 1 3 1 -10 1 10 1 -10 1 -2 1 1 1 -6 1 18 1 -3 1 -1 1 -14 1 8 1 -9 1 10 1 -8 1 -10 1 10 1 4 1 1 1 -4 1 -7 1 4 1 -1 1 13 1 -11M0 -299l1 1 1 19 1 -5 1 11 1 -4 1 -4 1 11 1 -9 1 8 1 7 1 0 1 -6 1 1 1 3 1 -8 1 14 1 -12 1 20 1 -7 1 11 1 -5 1 16 1 -16 1 2 1 7 1 -9 1 15 1 -12 1 7 1 6 1 7 1 7 1 -6 1 -7 1 4 1 -7 1 16 1 12 1 -1 1 -10 1 4 1 4 1 1 1 10 1 -14 1 3 1 42 1 -26 1 -1 1 -3 1 -1 1 30 1 -16 1 8 1 -3 1 8 1 5 1 2 1 -4 1 20 1 -2 1 -6 1 2 1 13 1 0 1 -3 1 -4 1 6 1 13 1 -3 1 -2 1 7 1 7 1 -2 1 8 1 -2 1 -5 1 10 1 -5 1 12 1 -1 1 4 1 -2 1 5 1 -3 1 -1 1 5 1 2 1 -5 1 0 1 3 1 -6 1 7 1 7 1 2 1 -7 1 -1 1 10 1 -21 1 2 1 8 1 -3 1 6 1 -6 1 2 1 -8 1 3 1 6 1 0 1 4 1 -1M0 -193l1 8 1 -7 1 10 1 0 1 13 1 -9 1 7 1 -5 1 8 1 -8 1 6 1 2 1 -3 1 1 1 -3 1 4 1 8 1 5 1 -6 1 -3 1 -1 1 10 1 0 1 2 1 4 1 -1 1 5 1 8 1 -2 1 -2 1 1 1 9 1 1 1 1 1 -2 1 1 1 5 1 5 1 2 1 -2 1 3 1 3 1 5 1 0 1 -3 1 4 1 5 1 0 1 -1 1 -1 1 3 1 2 1 6 1 -1 1 1 1 -1 1 7 1 2 1 -5 1 10 1 4 1 -4 1 7 1 0 1 2 1 -3 1 -1 1 5 1 6 1 -1 1 -1 1 8 1 -2 1 3 1 4 1 -1 1 3 1 1 1 -3 1 3 1 -2 1 3 1 0 1 0 1 3 1 1 1 3 1 -2 1 1 1 1 1 3 1 0 1 4 1 -1 1 2 1 -4 1 -2 1 -2 1 -2 1 0 1 3 1 -2 1 0 1 2 1 -4 1 1 1 -1 1 1 1 0 1 1 1 -1M0 -260l1 10 1 3 1 -7 1 14 1 0 1 10 1 -9 1 8 1 -24 1 15 1 10 1 -6 1 12 1 -14 1 -3 1 10 1 -5 1 9 1 -6 1 9 1 0 1 2 1 -11 1 8 1 9 1 -7 1 10 1 1 1 2 1 6 1 12 1 -10 1 17 1 -14 1 1 1 19 1 -12 1 4 1 5 1 -4 1 10 1 -9 1 7 1 -14 1 6 1 5 1 6 1 2 1 7 1 -10 1 12 1 15 1 -2 1 -2 1 -2 1 6 1 5 1 1 1 4 1 4 1 1 1 0 1 6 1 0 1 7 1 1 1 2 1 5 1 3 1 -5 1 3 1 7 1 -10 1 18 1 -7 1 8 1 -1 1 3 1 -1 1 -3 1 7 1 0 1 1 1 2 1 2 1 -1 1 4 1 1 1 -4 1 4 1 2 1 -2 1 5 1 3 1 -2 1 -7 1 4 1 -4 1 -1 1 -2 1 2 1 -3 1 6 1 -2 1 0 1 0 1 -2 1 0 1 4 1 -1 1 -1M0 -312l1 -8 1 3 1 24 1 9 1 -17 1 5 1 10 1 0 1 -13 1 17 1 6 1 -2 1 -8 1 4 1 9 1 3 1 -5 1 9 1 -14 1 19 1 -3 1 1 1 0 1 14 1 3 1 6 1 1 1 0 1 -2 1 0 1 10 1 -3 1 -9 1 4 1 5 1 0 1 13 1 0 1 2 1 -4 1 15 1 -2 1 -2 1 8 1 0 1 3 1 -6 1 2 1 7 1 10 1 -12 1 4 1 4 1 0 1 4 1 10 1 0 1 18 1 -19 1 4 1 3 1 -1 1 5 1 -2 1 5 1 1 1 -1 1 6 1 7 1 -5 1 1 1 10 1 -1 1 6 1 -8 1 1 1 12 1 8 1 -5 1 4 1 -2 1 9 1 -3 1 5 1 -9 1 9 1 7 1 -6 1 4 1 6 1 0 1 2 1 10 1 -11 1 5 1 -4 1 -4 1 8 1 -4 1 -5 1 4 1 -3 1 -3 1 3 1 15 1 -11 1 -4 1 3 1 1 1 1 1 -9M0 -184l1 -11 1 -5 1 10 1 7 1 -6 1 8 1 3 1 4 1 -9 1 8 1 0 1 8 1 10 1 -11 1 5 1 1 1 -2 1 9 1 -8 1 7 1 3 1 11 1 -3 1 6 1 -4 1 12 1 -3 1 2 1 -3 1 -1 1 12 1 -1 1 -1 1 3 1 -3 1 2 1 1 1 3 1 1 1 -6 1 4 1 7 1 -8 1 4 1 -1 1 0 1 7 1 1 1 -8 1 3 1 7 1 1 1 4 1 -5 1 7 1 3 1 4 1 3 1 2 1 4 1 0 1 5 1 4 1 -1 1 3 1 -4 1 5 1 3 1 -1 1 -2 1 3 1 3 1 1 1 -2 1 5 1 3 1 2 1 -2 1 2 1 4 1 -1 1 7 1 -4 1 2 1 1 1 0 1 4 1 -1 1 -2 1 7 1 -2 1 2 1 3 1 3 1 0 1 -3 1 -1 1 -2 1 -1 1 0 1 0 1 1 1 1 1 -1 1 0 1 0 1 1 1 0 1 -1 1 4 1 -4M0 -292l1 -11 1 1 1 0 1 32 1 -17 1 -4 1 16 1 -8 1 -15 1 22 1 4 1 -2 1 3 1 -3 1 19 1 6 1 -19 1 -1 1 10 1 14 1 -4 1 2 1 -12 1 20 1 -5 1 -8 1 13 1 -10 1 7 1 1 1 1 1 1 1 -9 1 -2 1 2 1 19 1 -15 1 21 1 -4 1 -6 1 2 1 13 1 -19 1 15 1 3 1 0 1 7 1 0 1 4 1 2 1 -3 1 10 1 9 1 -6 1 10 1 -4 1 7 1 -4 1 -2 1 7 1 2 1 5 1 3 1 5 1 8 1 0 1 6 1 1 1 0 1 5 1 -4 1 3 1 4 1 3 1 8 1 -4 1 1 1 1 1 5 1 -4 1 4 1 5 1 4 1 1 1 -2 1 -1 1 8 1 -6 1 6 1 8 1 -6 1 4 1 4 1 3 1 0 1 -5 1 -1 1 -5 1 -6 1 -4 1 11 1 -1 1 2 1 3 1 -2 1 -4 1 1 1 3 1 -4 1 5 1 -10M0 -353l1 -6 1 13 1 -9 1 27 1 -21 1 -9 1 11 1 21 1 -16 1 3 1 15 1 -17 1 23 1 -10 1 -9 1 41 1 -18 1 -16 1 11 1 1 1 -1 1 8 1 -9 1 10 1 -2 1 3 1 1 1 -1 1 -19 1 29 1 8 1 -4 1 -6 1 11 1 -13 1 16 1 -11 1 17 1 -6 1 -4 1 4 1 -3 1 -4 1 16 1 -2 1 4 1 6 1 4 1 -6 1 0 1 -15 1 29 1 9 1 -9 1 15 1 10 1 0 1 14 1 -14 1 14 1 3 1 7 1 -3 1 0 1 9 1 1 1 -1 1 1 1 3 1 2 1 -11 1 10 1 -1 1 6 1 2 1 -4 1 18 1 -10 1 -6 1 11 1 -1 1 5 1 3 1 -13 1 14 1 0 1 4 1 11 1 -11 1 -6 1 -5 1 16 1 4 1 4 1 -15 1 -5 1 -1 1 0 1 0 1 -6 1 9 1 -4 1 0 1 -6 1 1 1 -1 1 6 1 4 1 5 1 9 1 -15" fill="none" stroke="#2222f4" stroke-width="0.48"/></g>
<polyline points="65.0,360.8 66.8,361.1 68.7,360.8 70.5,361.7 72.3,360.9 74.2,362.3 76.0,361.5 77.8,362.9 79.7,362.4 81.5,363.5 83.3,363.8 85.2,364.6 87.0,365.6 88.8,364.2 90.7,364.5 92.5,363.6 94.4,364.7 96.2,363.8 98.0,364.8 99.9,364.1 101.7,364.4 103.5,364.4 105.4,363.9 107.2,364.8 109.0,364.2 110.9,365.5 112.7,364.7 114.5,366.0 116.4,365.5 118.2,366.2 120.0,366.1 121.9,366.3 123.7,366.7 125.5,366.9 127.4,369.0 129.2,368.7 131.0,369.8 132.9,369.1 134.7,370.0 136.5,369.7 138.4,370.3 140.2,370.5 142.1,370.6 143.9,371.5 145.7,371.5 147.6,372.8 149.4,372.8 151.2,374.2 153.1,374.3 154.9,375.4 156.7,375.6 158.6,375.9 160.4,376.2 162.2,376.1 164.1,376.7 165.9,376.3 167.7,377.2 169.6,377.0 171.4,377.8 173.2,377.7 175.1,378.2 176.9,378.5 178.7,378.7 180.6,379.2 182.4,379.2 184.2,379.9 186.1,380.0 187.9,380.9 189.7,381.0 191.6,381.6 193.4,381.6 195.3,381.8 197.1,382.1 198.9,382.1 200.8,382.5 202.6,382.4 204.4,382.9 206.3,382.7 208.1,383.2 209.9,383.1 211.8,383.5 213.6,383.6 215.4,383.8 217.3,384.1 219.1,384.1 220.9,384.6 222.8,384.6 224.6,385.1 226.4,385.1 228.3,385.6 230.1,386.0 231.9,386.2 233.8,386.2 235.6,386.2 237.4,386.1 239.3,385.7 241.1,385.5 243.0,385.0 244.8,385.3 246.6,385.1 248.5,385.3 250.3,385.3 252.1,385.4 254.0,385.5 255.8,385.5 257.6,385.9 259.5,385.8 261.3,386.2 263.1,386.2 265.0,386.5 266.8,386.6" fill="none" stroke="#e2203c" stroke-width="2.5"/>
<rect x="65.0" y="229.8" width="201.8" height="161.4" fill="none" stroke="#151515" stroke-width="1"/>
<path d="M110.2 229.8v2M155.4 229.8v2M200.6 229.8v2M245.7 229.8v2M266.8 341.2h-2M65.0 341.2h2M266.8 291.2h-2M65.0 291.2h2M266.8 241.2h-2M65.0 241.2h2" stroke="#151515" stroke-width="1"/>
<rect x="273.5" y="226.7" width="210.3" height="196.4" fill="none" stroke="#1a1a1a" stroke-width="1"/>
<line x1="326.6" y1="231.3" x2="326.6" y2="379.2" stroke="#bbb" stroke-width="0.8"/>
<rect x="327.9" y="231.3" width="9.9" height="147.4" fill="#130000"/>
<path d="M327.9 231.30h9.9v1.47h-9.9zM327.9 232.77h9.9v1.47h-9.9zM327.9 237.20h9.9v1.47h-9.9zM327.9 244.57h9.9v1.47h-9.9zM327.9 247.51h9.9v1.47h-9.9zM327.9 248.99h9.9v1.47h-9.9zM327.9 251.94h9.9v1.47h-9.9zM327.9 253.41h9.9v1.47h-9.9zM327.9 257.83h9.9v1.47h-9.9zM327.9 262.25h9.9v1.47h-9.9zM327.9 265.20h9.9v1.47h-9.9zM327.9 266.68h9.9v1.47h-9.9zM327.9 268.15h9.9v1.47h-9.9zM327.9 276.99h9.9v1.47h-9.9zM327.9 278.47h9.9v1.47h-9.9zM327.9 281.42h9.9v1.47h-9.9zM327.9 282.89h9.9v1.47h-9.9zM327.9 287.31h9.9v1.47h-9.9zM327.9 291.73h9.9v1.47h-9.9zM327.9 293.21h9.9v1.47h-9.9zM327.9 299.10h9.9v1.47h-9.9zM327.9 305.00h9.9v1.47h-9.9zM327.9 309.42h9.9v1.47h-9.9zM327.9 310.90h9.9v1.47h-9.9zM327.9 313.84h9.9v1.47h-9.9zM327.9 315.32h9.9v1.47h-9.9zM327.9 318.27h9.9v1.47h-9.9zM327.9 319.74h9.9v1.47h-9.9zM327.9 321.21h9.9v1.47h-9.9zM327.9 325.64h9.9v1.47h-9.9zM327.9 338.90h9.9v1.47h-9.9zM327.9 340.38h9.9v1.47h-9.9zM327.9 343.32h9.9v1.47h-9.9zM327.9 344.80h9.9v1.47h-9.9zM327.9 350.69h9.9v1.47h-9.9zM327.9 358.06h9.9v1.47h-9.9zM327.9 359.54h9.9v1.47h-9.9zM327.9 361.01h9.9v1.47h-9.9zM327.9 363.96h9.9v1.47h-9.9zM327.9 365.43h9.9v1.47h-9.9zM327.9 366.91h9.9v1.47h-9.9zM327.9 372.80h9.9v1.47h-9.9z" fill="#0d0000"/>
<path d="M327.9 234.25h9.9v1.47h-9.9zM327.9 240.14h9.9v1.47h-9.9zM327.9 241.62h9.9v1.47h-9.9zM327.9 243.09h9.9v1.47h-9.9zM327.9 246.04h9.9v1.47h-9.9zM327.9 250.46h9.9v1.47h-9.9zM327.9 254.88h9.9v1.47h-9.9zM327.9 256.36h9.9v1.47h-9.9zM327.9 260.78h9.9v1.47h-9.9zM327.9 263.73h9.9v1.47h-9.9zM327.9 269.62h9.9v1.47h-9.9zM327.9 271.10h9.9v1.47h-9.9zM327.9 272.57h9.9v1.47h-9.9zM327.9 274.05h9.9v1.47h-9.9zM327.9 275.52h9.9v1.47h-9.9zM327.9 284.36h9.9v1.47h-9.9zM327.9 290.26h9.9v1.47h-9.9zM327.9 294.68h9.9v1.47h-9.9zM327.9 296.16h9.9v1.47h-9.9zM327.9 297.63h9.9v1.47h-9.9zM327.9 300.58h9.9v1.47h-9.9zM327.9 302.05h9.9v1.47h-9.9zM327.9 303.53h9.9v1.47h-9.9zM327.9 306.47h9.9v1.47h-9.9zM327.9 307.95h9.9v1.47h-9.9zM327.9 312.37h9.9v1.47h-9.9zM327.9 316.79h9.9v1.47h-9.9zM327.9 322.69h9.9v1.47h-9.9zM327.9 324.16h9.9v1.47h-9.9zM327.9 327.11h9.9v1.47h-9.9zM327.9 328.58h9.9v1.47h-9.9zM327.9 330.06h9.9v1.47h-9.9zM327.9 331.53h9.9v1.47h-9.9zM327.9 334.48h9.9v1.47h-9.9zM327.9 335.95h9.9v1.47h-9.9zM327.9 341.85h9.9v1.47h-9.9zM327.9 346.27h9.9v1.47h-9.9zM327.9 347.75h9.9v1.47h-9.9zM327.9 349.22h9.9v1.47h-9.9zM327.9 353.64h9.9v1.47h-9.9zM327.9 355.12h9.9v1.47h-9.9zM327.9 356.59h9.9v1.47h-9.9zM327.9 362.49h9.9v1.47h-9.9zM327.9 368.38h9.9v1.47h-9.9zM327.9 369.86h9.9v1.47h-9.9zM327.9 371.33h9.9v1.47h-9.9zM327.9 375.75h9.9v1.47h-9.9zM327.9 377.23h9.9v1.47h-9.9z" fill="#1a0000"/>
<path d="M327.9 235.72h9.9v1.47h-9.9zM327.9 238.67h9.9v1.47h-9.9zM327.9 288.79h9.9v1.47h-9.9zM327.9 374.28h9.9v1.47h-9.9z" fill="#000000"/>
<path d="M327.9 259.31h9.9v1.47h-9.9zM327.9 279.94h9.9v1.47h-9.9zM327.9 285.84h9.9v1.47h-9.9zM327.9 333.01h9.9v1.47h-9.9zM327.9 337.43h9.9v1.47h-9.9zM327.9 352.17h9.9v1.47h-9.9z" fill="#260000"/>
<rect x="337.8" y="231.3" width="4.2" height="147.4" fill="#320000"/>
<path d="M337.8 231.30h4.2v1.47h-4.2zM337.8 244.57h4.2v1.47h-4.2zM337.8 246.04h4.2v1.47h-4.2zM337.8 257.83h4.2v1.47h-4.2zM337.8 259.31h4.2v1.47h-4.2zM337.8 260.78h4.2v1.47h-4.2zM337.8 265.20h4.2v1.47h-4.2zM337.8 269.62h4.2v1.47h-4.2zM337.8 290.26h4.2v1.47h-4.2zM337.8 306.47h4.2v1.47h-4.2zM337.8 309.42h4.2v1.47h-4.2zM337.8 319.74h4.2v1.47h-4.2zM337.8 333.01h4.2v1.47h-4.2zM337.8 340.38h4.2v1.47h-4.2zM337.8 349.22h4.2v1.47h-4.2zM337.8 352.17h4.2v1.47h-4.2zM337.8 372.80h4.2v1.47h-4.2zM337.8 377.23h4.2v1.47h-4.2z" fill="#400000"/>
<path d="M337.8 234.25h4.2v1.47h-4.2zM337.8 238.67h4.2v1.47h-4.2zM337.8 240.14h4.2v1.47h-4.2zM337.8 250.46h4.2v1.47h-4.2zM337.8 275.52h4.2v1.47h-4.2zM337.8 278.47h4.2v1.47h-4.2zM337.8 285.84h4.2v1.47h-4.2zM337.8 287.31h4.2v1.47h-4.2zM337.8 296.16h4.2v1.47h-4.2zM337.8 302.05h4.2v1.47h-4.2zM337.8 305.00h4.2v1.47h-4.2zM337.8 313.84h4.2v1.47h-4.2zM337.8 316.79h4.2v1.47h-4.2zM337.8 318.27h4.2v1.47h-4.2zM337.8 328.58h4.2v1.47h-4.2zM337.8 331.53h4.2v1.47h-4.2zM337.8 337.43h4.2v1.47h-4.2zM337.8 341.85h4.2v1.47h-4.2zM337.8 344.80h4.2v1.47h-4.2zM337.8 353.64h4.2v1.47h-4.2zM337.8 355.12h4.2v1.47h-4.2zM337.8 359.54h4.2v1.47h-4.2zM337.8 363.96h4.2v1.47h-4.2zM337.8 365.43h4.2v1.47h-4.2zM337.8 369.86h4.2v1.47h-4.2z" fill="#260000"/>
<path d="M337.8 237.20h4.2v1.47h-4.2zM337.8 254.88h4.2v1.47h-4.2zM337.8 256.36h4.2v1.47h-4.2zM337.8 272.57h4.2v1.47h-4.2zM337.8 294.68h4.2v1.47h-4.2zM337.8 300.58h4.2v1.47h-4.2zM337.8 303.53h4.2v1.47h-4.2zM337.8 312.37h4.2v1.47h-4.2zM337.8 325.64h4.2v1.47h-4.2zM337.8 330.06h4.2v1.47h-4.2zM337.8 335.95h4.2v1.47h-4.2zM337.8 346.27h4.2v1.47h-4.2zM337.8 356.59h4.2v1.47h-4.2zM337.8 362.49h4.2v1.47h-4.2zM337.8 366.91h4.2v1.47h-4.2zM337.8 368.38h4.2v1.47h-4.2zM337.8 371.33h4.2v1.47h-4.2zM337.8 375.75h4.2v1.47h-4.2z" fill="#1a0000"/>
<path d="M337.8 243.09h4.2v1.47h-4.2zM337.8 262.25h4.2v1.47h-4.2zM337.8 266.68h4.2v1.47h-4.2zM337.8 282.89h4.2v1.47h-4.2zM337.8 284.36h4.2v1.47h-4.2zM337.8 297.63h4.2v1.47h-4.2zM337.8 324.16h4.2v1.47h-4.2zM337.8 338.90h4.2v1.47h-4.2zM337.8 350.69h4.2v1.47h-4.2z" fill="#4d0000"/>
<path d="M337.8 253.41h4.2v1.47h-4.2zM337.8 281.42h4.2v1.47h-4.2z" fill="#0d0000"/>
<path d="M337.8 315.32h4.2v1.47h-4.2zM337.8 343.32h4.2v1.47h-4.2z" fill="#590000"/>
<rect x="342.0" y="231.3" width="6.6" height="147.4" fill="#770000"/>
<path d="M342.0 231.30h6.6v1.47h-6.6zM342.0 238.67h6.6v1.47h-6.6zM342.0 241.62h6.6v1.47h-6.6zM342.0 246.04h6.6v1.47h-6.6zM342.0 247.51h6.6v1.47h-6.6zM342.0 250.46h6.6v1.47h-6.6zM342.0 254.88h6.6v1.47h-6.6zM342.0 268.15h6.6v1.47h-6.6zM342.0 310.90h6.6v1.47h-6.6zM342.0 338.90h6.6v1.47h-6.6zM342.0 340.38h6.6v1.47h-6.6zM342.0 344.80h6.6v1.47h-6.6zM342.0 349.22h6.6v1.47h-6.6zM342.0 377.23h6.6v1.47h-6.6z" fill="#800000"/>
<path d="M342.0 232.77h6.6v1.47h-6.6zM342.0 263.73h6.6v1.47h-6.6z" fill="#b20000"/>
<path d="M342.0 237.20h6.6v1.47h-6.6zM342.0 253.41h6.6v1.47h-6.6zM342.0 272.57h6.6v1.47h-6.6zM342.0 288.79h6.6v1.47h-6.6zM342.0 291.73h6.6v1.47h-6.6zM342.0 293.21h6.6v1.47h-6.6zM342.0 307.95h6.6v1.47h-6.6zM342.0 319.74h6.6v1.47h-6.6zM342.0 325.64h6.6v1.47h-6.6zM342.0 337.43h6.6v1.47h-6.6zM342.0 350.69h6.6v1.47h-6.6zM342.0 358.06h6.6v1.47h-6.6zM342.0 359.54h6.6v1.47h-6.6zM342.0 361.01h6.6v1.47h-6.6zM342.0 368.38h6.6v1.47h-6.6zM342.0 369.86h6.6v1.47h-6.6zM342.0 375.75h6.6v1.47h-6.6z" fill="#590000"/>
<path d="M342.0 240.14h6.6v1.47h-6.6zM342.0 244.57h6.6v1.47h-6.6zM342.0 278.47h6.6v1.47h-6.6zM342.0 281.42h6.6v1.47h-6.6zM342.0 285.84h6.6v1.47h-6.6zM342.0 327.11h6.6v1.47h-6.6zM342.0 353.64h6.6v1.47h-6.6z" fill="#8c0000"/>
<path d="M342.0 248.99h6.6v1.47h-6.6zM342.0 251.94h6.6v1.47h-6.6zM342.0 276.99h6.6v1.47h-6.6zM342.0 279.94h6.6v1.47h-6.6zM342.0 287.31h6.6v1.47h-6.6zM342.0 362.49h6.6v1.47h-6.6z" fill="#4d0000"/>
<path d="M342.0 256.36h6.6v1.47h-6.6zM342.0 316.79h6.6v1.47h-6.6zM342.0 347.75h6.6v1.47h-6.6z" fill="#cc0000"/>
<path d="M342.0 257.83h6.6v1.47h-6.6zM342.0 262.25h6.6v1.47h-6.6zM342.0 299.10h6.6v1.47h-6.6zM342.0 300.58h6.6v1.47h-6.6zM342.0 309.42h6.6v1.47h-6.6zM342.0 312.37h6.6v1.47h-6.6zM342.0 313.84h6.6v1.47h-6.6zM342.0 334.48h6.6v1.47h-6.6zM342.0 335.95h6.6v1.47h-6.6zM342.0 355.12h6.6v1.47h-6.6z" fill="#990000"/>
<path d="M342.0 265.20h6.6v1.47h-6.6zM342.0 322.69h6.6v1.47h-6.6zM342.0 328.58h6.6v1.47h-6.6zM342.0 333.01h6.6v1.47h-6.6zM342.0 343.32h6.6v1.47h-6.6zM342.0 374.28h6.6v1.47h-6.6z" fill="#a60000"/>
<path d="M342.0 269.62h6.6v1.47h-6.6zM342.0 271.10h6.6v1.47h-6.6zM342.0 284.36h6.6v1.47h-6.6zM342.0 294.68h6.6v1.47h-6.6zM342.0 302.05h6.6v1.47h-6.6zM342.0 303.53h6.6v1.47h-6.6zM342.0 318.27h6.6v1.47h-6.6zM342.0 321.21h6.6v1.47h-6.6zM342.0 346.27h6.6v1.47h-6.6zM342.0 365.43h6.6v1.47h-6.6zM342.0 372.80h6.6v1.47h-6.6z" fill="#660000"/>
<path d="M342.0 275.52h6.6v1.47h-6.6z" fill="#260000"/>
<path d="M342.0 282.89h6.6v1.47h-6.6zM342.0 305.00h6.6v1.47h-6.6zM342.0 306.47h6.6v1.47h-6.6z" fill="#400000"/>
<path d="M342.0 290.26h6.6v1.47h-6.6z" fill="#d90000"/>
<path d="M342.0 341.85h6.6v1.47h-6.6z" fill="#330000"/>
<rect x="348.6" y="231.3" width="3.3" height="147.4" fill="#ffa600"/>
<path d="M348.6 232.77h3.3v1.47h-3.3zM348.6 246.04h3.3v1.47h-3.3zM348.6 250.46h3.3v1.47h-3.3zM348.6 275.52h3.3v1.47h-3.3zM348.6 291.73h3.3v1.47h-3.3zM348.6 328.58h3.3v1.47h-3.3zM348.6 352.17h3.3v1.47h-3.3zM348.6 371.33h3.3v1.47h-3.3z" fill="#ff7300"/>
<path d="M348.6 234.25h3.3v1.47h-3.3zM348.6 238.67h3.3v1.47h-3.3zM348.6 247.51h3.3v1.47h-3.3zM348.6 256.36h3.3v1.47h-3.3zM348.6 265.20h3.3v1.47h-3.3zM348.6 281.42h3.3v1.47h-3.3zM348.6 313.84h3.3v1.47h-3.3zM348.6 322.69h3.3v1.47h-3.3zM348.6 324.16h3.3v1.47h-3.3zM348.6 344.80h3.3v1.47h-3.3zM348.6 346.27h3.3v1.47h-3.3zM348.6 374.28h3.3v1.47h-3.3z" fill="#ffbf00"/>
<path d="M348.6 235.72h3.3v1.47h-3.3zM348.6 253.41h3.3v1.47h-3.3zM348.6 257.83h3.3v1.47h-3.3zM348.6 272.57h3.3v1.47h-3.3zM348.6 276.99h3.3v1.47h-3.3zM348.6 287.31h3.3v1.47h-3.3zM348.6 290.26h3.3v1.47h-3.3zM348.6 294.68h3.3v1.47h-3.3zM348.6 302.05h3.3v1.47h-3.3zM348.6 318.27h3.3v1.47h-3.3zM348.6 325.64h3.3v1.47h-3.3zM348.6 331.53h3.3v1.47h-3.3zM348.6 335.95h3.3v1.47h-3.3zM348.6 375.75h3.3v1.47h-3.3zM348.6 377.23h3.3v1.47h-3.3z" fill="#ffb200"/>
<path d="M348.6 237.20h3.3v1.47h-3.3zM348.6 306.47h3.3v1.47h-3.3z" fill="#ff5900"/>
<path d="M348.6 240.14h3.3v1.47h-3.3zM348.6 282.89h3.3v1.47h-3.3zM348.6 315.32h3.3v1.47h-3.3zM348.6 340.38h3.3v1.47h-3.3zM348.6 347.75h3.3v1.47h-3.3zM348.6 365.43h3.3v1.47h-3.3z" fill="#ffcc00"/>
<path d="M348.6 241.62h3.3v1.47h-3.3zM348.6 254.88h3.3v1.47h-3.3zM348.6 259.31h3.3v1.47h-3.3zM348.6 260.78h3.3v1.47h-3.3zM348.6 303.53h3.3v1.47h-3.3zM348.6 309.42h3.3v1.47h-3.3zM348.6 310.90h3.3v1.47h-3.3zM348.6 316.79h3.3v1.47h-3.3zM348.6 330.06h3.3v1.47h-3.3zM348.6 334.48h3.3v1.47h-3.3zM348.6 338.90h3.3v1.47h-3.3zM348.6 361.01h3.3v1.47h-3.3zM348.6 368.38h3.3v1.47h-3.3z" fill="#ff8c00"/>
<path d="M348.6 243.09h3.3v1.47h-3.3zM348.6 262.25h3.3v1.47h-3.3zM348.6 263.73h3.3v1.47h-3.3zM348.6 271.10h3.3v1.47h-3.3zM348.6 293.21h3.3v1.47h-3.3zM348.6 359.54h3.3v1.47h-3.3z" fill="#ffe500"/>
<path d="M348.6 248.99h3.3v1.47h-3.3zM348.6 266.68h3.3v1.47h-3.3zM348.6 269.62h3.3v1.47h-3.3zM348.6 274.05h3.3v1.47h-3.3zM348.6 285.84h3.3v1.47h-3.3zM348.6 297.63h3.3v1.47h-3.3zM348.6 300.58h3.3v1.47h-3.3zM348.6 319.74h3.3v1.47h-3.3zM348.6 321.21h3.3v1.47h-3.3zM348.6 333.01h3.3v1.47h-3.3zM348.6 341.85h3.3v1.47h-3.3zM348.6 353.64h3.3v1.47h-3.3zM348.6 369.86h3.3v1.47h-3.3z" fill="#ff9900"/>
<path d="M348.6 251.94h3.3v1.47h-3.3zM348.6 349.22h3.3v1.47h-3.3z" fill="#ff4d00"/>
<path d="M348.6 268.15h3.3v1.47h-3.3zM348.6 278.47h3.3v1.47h-3.3zM348.6 337.43h3.3v1.47h-3.3z" fill="#ff8000"/>
<path d="M348.6 288.79h3.3v1.47h-3.3zM348.6 312.37h3.3v1.47h-3.3z" fill="#fff200"/>
<path d="M348.6 296.16h3.3v1.47h-3.3z" fill="#ffff33"/>
<path d="M348.6 305.00h3.3v1.47h-3.3z" fill="#ff6600"/>
<path d="M348.6 343.32h3.3v1.47h-3.3zM348.6 356.59h3.3v1.47h-3.3zM348.6 372.80h3.3v1.47h-3.3z" fill="#ffd900"/>
<rect x="351.9" y="231.3" width="3.8" height="147.4" fill="#820000"/>
<path d="M351.9 231.30h3.8v1.47h-3.8zM351.9 235.72h3.8v1.47h-3.8zM351.9 237.20h3.8v1.47h-3.8zM351.9 257.83h3.8v1.47h-3.8zM351.9 259.31h3.8v1.47h-3.8zM351.9 263.73h3.8v1.47h-3.8zM351.9 265.20h3.8v1.47h-3.8zM351.9 279.94h3.8v1.47h-3.8zM351.9 291.73h3.8v1.47h-3.8zM351.9 299.10h3.8v1.47h-3.8zM351.9 300.58h3.8v1.47h-3.8zM351.9 307.95h3.8v1.47h-3.8zM351.9 328.58h3.8v1.47h-3.8zM351.9 341.85h3.8v1.47h-3.8zM351.9 352.17h3.8v1.47h-3.8zM351.9 355.12h3.8v1.47h-3.8zM351.9 366.91h3.8v1.47h-3.8zM351.9 368.38h3.8v1.47h-3.8z" fill="#660000"/>
<path d="M351.9 232.77h3.8v1.47h-3.8zM351.9 247.51h3.8v1.47h-3.8zM351.9 253.41h3.8v1.47h-3.8zM351.9 256.36h3.8v1.47h-3.8zM351.9 266.68h3.8v1.47h-3.8zM351.9 302.05h3.8v1.47h-3.8zM351.9 312.37h3.8v1.47h-3.8zM351.9 337.43h3.8v1.47h-3.8zM351.9 375.75h3.8v1.47h-3.8z" fill="#730000"/>
<path d="M351.9 234.25h3.8v1.47h-3.8zM351.9 262.25h3.8v1.47h-3.8zM351.9 290.26h3.8v1.47h-3.8zM351.9 315.32h3.8v1.47h-3.8zM351.9 334.48h3.8v1.47h-3.8zM351.9 335.95h3.8v1.47h-3.8z" fill="#a60000"/>
<path d="M351.9 238.67h3.8v1.47h-3.8zM351.9 240.14h3.8v1.47h-3.8zM351.9 246.04h3.8v1.47h-3.8zM351.9 251.94h3.8v1.47h-3.8zM351.9 327.11h3.8v1.47h-3.8zM351.9 338.90h3.8v1.47h-3.8zM351.9 350.69h3.8v1.47h-3.8zM351.9 372.80h3.8v1.47h-3.8z" fill="#bf0000"/>
<path d="M351.9 241.62h3.8v1.47h-3.8zM351.9 244.57h3.8v1.47h-3.8zM351.9 254.88h3.8v1.47h-3.8zM351.9 268.15h3.8v1.47h-3.8zM351.9 272.57h3.8v1.47h-3.8zM351.9 284.36h3.8v1.47h-3.8zM351.9 285.84h3.8v1.47h-3.8zM351.9 288.79h3.8v1.47h-3.8zM351.9 297.63h3.8v1.47h-3.8zM351.9 305.00h3.8v1.47h-3.8zM351.9 310.90h3.8v1.47h-3.8zM351.9 319.74h3.8v1.47h-3.8zM351.9 333.01h3.8v1.47h-3.8zM351.9 344.80h3.8v1.47h-3.8zM351.9 347.75h3.8v1.47h-3.8zM351.9 356.59h3.8v1.47h-3.8zM351.9 361.01h3.8v1.47h-3.8zM351.9 369.86h3.8v1.47h-3.8zM351.9 377.23h3.8v1.47h-3.8z" fill="#8c0000"/>
<path d="M351.9 243.09h3.8v1.47h-3.8zM351.9 250.46h3.8v1.47h-3.8zM351.9 269.62h3.8v1.47h-3.8zM351.9 275.52h3.8v1.47h-3.8zM351.9 306.47h3.8v1.47h-3.8zM351.9 309.42h3.8v1.47h-3.8zM351.9 316.79h3.8v1.47h-3.8zM351.9 318.27h3.8v1.47h-3.8zM351.9 324.16h3.8v1.47h-3.8zM351.9 353.64h3.8v1.47h-3.8zM351.9 362.49h3.8v1.47h-3.8zM351.9 374.28h3.8v1.47h-3.8z" fill="#990000"/>
<path d="M351.9 271.10h3.8v1.47h-3.8zM351.9 330.06h3.8v1.47h-3.8z" fill="#4d0000"/>
<path d="M351.9 274.05h3.8v1.47h-3.8zM351.9 276.99h3.8v1.47h-3.8zM351.9 278.47h3.8v1.47h-3.8zM351.9 282.89h3.8v1.47h-3.8zM351.9 363.96h3.8v1.47h-3.8z" fill="#590000"/>
<path d="M351.9 296.16h3.8v1.47h-3.8zM351.9 349.22h3.8v1.47h-3.8zM351.9 365.43h3.8v1.47h-3.8z" fill="#330000"/>
<path d="M351.9 321.21h3.8v1.47h-3.8z" fill="#b20000"/>
<path d="M351.9 322.69h3.8v1.47h-3.8z" fill="#d90000"/>
<path d="M351.9 325.64h3.8v1.47h-3.8zM351.9 359.54h3.8v1.47h-3.8z" fill="#400000"/>
<path d="M351.9 331.53h3.8v1.47h-3.8z" fill="#260000"/>
<rect x="355.7" y="231.3" width="4.7" height="147.4" fill="#ff1c00"/>
<path d="M355.7 231.30h4.7v1.47h-4.7z" fill="#b20000"/>
<path d="M355.7 232.77h4.7v1.47h-4.7zM355.7 234.25h4.7v1.47h-4.7zM355.7 263.73h4.7v1.47h-4.7zM355.7 284.36h4.7v1.47h-4.7zM355.7 310.90h4.7v1.47h-4.7z" fill="#f20000"/>
<path d="M355.7 237.20h4.7v1.47h-4.7zM355.7 238.67h4.7v1.47h-4.7zM355.7 243.09h4.7v1.47h-4.7zM355.7 247.51h4.7v1.47h-4.7zM355.7 250.46h4.7v1.47h-4.7zM355.7 256.36h4.7v1.47h-4.7zM355.7 275.52h4.7v1.47h-4.7zM355.7 279.94h4.7v1.47h-4.7zM355.7 282.89h4.7v1.47h-4.7zM355.7 293.21h4.7v1.47h-4.7zM355.7 302.05h4.7v1.47h-4.7zM355.7 305.00h4.7v1.47h-4.7zM355.7 306.47h4.7v1.47h-4.7zM355.7 309.42h4.7v1.47h-4.7zM355.7 315.32h4.7v1.47h-4.7zM355.7 319.74h4.7v1.47h-4.7zM355.7 324.16h4.7v1.47h-4.7zM355.7 327.11h4.7v1.47h-4.7zM355.7 350.69h4.7v1.47h-4.7zM355.7 353.64h4.7v1.47h-4.7zM355.7 359.54h4.7v1.47h-4.7zM355.7 361.01h4.7v1.47h-4.7zM355.7 363.96h4.7v1.47h-4.7zM355.7 377.23h4.7v1.47h-4.7z" fill="#ff2600"/>
<path d="M355.7 240.14h4.7v1.47h-4.7zM355.7 253.41h4.7v1.47h-4.7zM355.7 262.25h4.7v1.47h-4.7zM355.7 269.62h4.7v1.47h-4.7zM355.7 271.10h4.7v1.47h-4.7zM355.7 285.84h4.7v1.47h-4.7zM355.7 291.73h4.7v1.47h-4.7zM355.7 300.58h4.7v1.47h-4.7zM355.7 321.21h4.7v1.47h-4.7z" fill="#ff4000"/>
<path d="M355.7 241.62h4.7v1.47h-4.7zM355.7 274.05h4.7v1.47h-4.7zM355.7 294.68h4.7v1.47h-4.7zM355.7 303.53h4.7v1.47h-4.7zM355.7 325.64h4.7v1.47h-4.7zM355.7 333.01h4.7v1.47h-4.7zM355.7 375.75h4.7v1.47h-4.7z" fill="#ff0000"/>
<path d="M355.7 248.99h4.7v1.47h-4.7zM355.7 276.99h4.7v1.47h-4.7zM355.7 287.31h4.7v1.47h-4.7zM355.7 290.26h4.7v1.47h-4.7zM355.7 318.27h4.7v1.47h-4.7zM355.7 322.69h4.7v1.47h-4.7zM355.7 349.22h4.7v1.47h-4.7zM355.7 372.80h4.7v1.47h-4.7zM355.7 374.28h4.7v1.47h-4.7z" fill="#ff0d00"/>
<path d="M355.7 257.83h4.7v1.47h-4.7z" fill="#ff8000"/>
<path d="M355.7 259.31h4.7v1.47h-4.7zM355.7 260.78h4.7v1.47h-4.7zM355.7 265.20h4.7v1.47h-4.7zM355.7 266.68h4.7v1.47h-4.7zM355.7 268.15h4.7v1.47h-4.7zM355.7 296.16h4.7v1.47h-4.7zM355.7 297.63h4.7v1.47h-4.7zM355.7 312.37h4.7v1.47h-4.7zM355.7 338.90h4.7v1.47h-4.7zM355.7 352.17h4.7v1.47h-4.7zM355.7 366.91h4.7v1.47h-4.7zM355.7 368.38h4.7v1.47h-4.7z" fill="#ff3300"/>
<path d="M355.7 272.57h4.7v1.47h-4.7zM355.7 278.47h4.7v1.47h-4.7zM355.7 331.53h4.7v1.47h-4.7z" fill="#ff4d00"/>
<path d="M355.7 281.42h4.7v1.47h-4.7zM355.7 330.06h4.7v1.47h-4.7zM355.7 335.95h4.7v1.47h-4.7zM355.7 340.38h4.7v1.47h-4.7zM355.7 344.80h4.7v1.47h-4.7zM355.7 362.49h4.7v1.47h-4.7z" fill="#e50000"/>
<path d="M355.7 288.79h4.7v1.47h-4.7zM355.7 341.85h4.7v1.47h-4.7z" fill="#cc0000"/>
<path d="M355.7 299.10h4.7v1.47h-4.7zM355.7 356.59h4.7v1.47h-4.7zM355.7 369.86h4.7v1.47h-4.7z" fill="#ff5900"/>
<path d="M355.7 337.43h4.7v1.47h-4.7zM355.7 371.33h4.7v1.47h-4.7z" fill="#d90000"/>
<path d="M355.7 347.75h4.7v1.47h-4.7z" fill="#ff6600"/>
<rect x="360.4" y="231.3" width="7.0" height="147.4" fill="#ff4200"/>
<path d="M360.4 232.77h7.0v1.47h-7.0zM360.4 257.83h7.0v1.47h-7.0zM360.4 274.05h7.0v1.47h-7.0zM360.4 276.99h7.0v1.47h-7.0zM360.4 300.58h7.0v1.47h-7.0zM360.4 306.47h7.0v1.47h-7.0zM360.4 313.84h7.0v1.47h-7.0zM360.4 324.16h7.0v1.47h-7.0zM360.4 333.01h7.0v1.47h-7.0zM360.4 338.90h7.0v1.47h-7.0z" fill="#ff4d00"/>
<path d="M360.4 234.25h7.0v1.47h-7.0zM360.4 318.27h7.0v1.47h-7.0zM360.4 349.22h7.0v1.47h-7.0z" fill="#f20000"/>
<path d="M360.4 235.72h7.0v1.47h-7.0zM360.4 254.88h7.0v1.47h-7.0zM360.4 268.15h7.0v1.47h-7.0zM360.4 284.36h7.0v1.47h-7.0zM360.4 303.53h7.0v1.47h-7.0zM360.4 315.32h7.0v1.47h-7.0zM360.4 316.79h7.0v1.47h-7.0zM360.4 352.17h7.0v1.47h-7.0zM360.4 365.43h7.0v1.47h-7.0zM360.4 368.38h7.0v1.47h-7.0z" fill="#ff1900"/>
<path d="M360.4 238.67h7.0v1.47h-7.0zM360.4 243.09h7.0v1.47h-7.0zM360.4 263.73h7.0v1.47h-7.0zM360.4 265.20h7.0v1.47h-7.0zM360.4 285.84h7.0v1.47h-7.0zM360.4 290.26h7.0v1.47h-7.0zM360.4 294.68h7.0v1.47h-7.0zM360.4 299.10h7.0v1.47h-7.0zM360.4 312.37h7.0v1.47h-7.0zM360.4 334.48h7.0v1.47h-7.0zM360.4 350.69h7.0v1.47h-7.0zM360.4 371.33h7.0v1.47h-7.0zM360.4 374.28h7.0v1.47h-7.0z" fill="#ff3300"/>
<path d="M360.4 240.14h7.0v1.47h-7.0zM360.4 247.51h7.0v1.47h-7.0zM360.4 253.41h7.0v1.47h-7.0zM360.4 262.25h7.0v1.47h-7.0zM360.4 278.47h7.0v1.47h-7.0zM360.4 288.79h7.0v1.47h-7.0zM360.4 346.27h7.0v1.47h-7.0zM360.4 355.12h7.0v1.47h-7.0z" fill="#ff2600"/>
<path d="M360.4 244.57h7.0v1.47h-7.0zM360.4 297.63h7.0v1.47h-7.0zM360.4 319.74h7.0v1.47h-7.0zM360.4 321.21h7.0v1.47h-7.0zM360.4 356.59h7.0v1.47h-7.0z" fill="#ff0d00"/>
<path d="M360.4 246.04h7.0v1.47h-7.0zM360.4 341.85h7.0v1.47h-7.0z" fill="#ff8c00"/>
<path d="M360.4 248.99h7.0v1.47h-7.0zM360.4 271.10h7.0v1.47h-7.0zM360.4 282.89h7.0v1.47h-7.0zM360.4 296.16h7.0v1.47h-7.0zM360.4 330.06h7.0v1.47h-7.0zM360.4 335.95h7.0v1.47h-7.0zM360.4 343.32h7.0v1.47h-7.0zM360.4 361.01h7.0v1.47h-7.0zM360.4 369.86h7.0v1.47h-7.0z" fill="#ff6600"/>
<path d="M360.4 250.46h7.0v1.47h-7.0zM360.4 256.36h7.0v1.47h-7.0zM360.4 266.68h7.0v1.47h-7.0zM360.4 279.94h7.0v1.47h-7.0zM360.4 291.73h7.0v1.47h-7.0zM360.4 302.05h7.0v1.47h-7.0zM360.4 305.00h7.0v1.47h-7.0zM360.4 310.90h7.0v1.47h-7.0zM360.4 328.58h7.0v1.47h-7.0zM360.4 359.54h7.0v1.47h-7.0zM360.4 362.49h7.0v1.47h-7.0z" fill="#ff5900"/>
<path d="M360.4 251.94h7.0v1.47h-7.0zM360.4 309.42h7.0v1.47h-7.0zM360.4 353.64h7.0v1.47h-7.0z" fill="#ff7300"/>
<path d="M360.4 259.31h7.0v1.47h-7.0zM360.4 340.38h7.0v1.47h-7.0z" fill="#d90000"/>
<path d="M360.4 260.78h7.0v1.47h-7.0z" fill="#cc0000"/>
<path d="M360.4 269.62h7.0v1.47h-7.0z" fill="#ffbf00"/>
<path d="M360.4 272.57h7.0v1.47h-7.0zM360.4 307.95h7.0v1.47h-7.0z" fill="#ff8000"/>
<path d="M360.4 275.52h7.0v1.47h-7.0zM360.4 344.80h7.0v1.47h-7.0z" fill="#e50000"/>
<path d="M360.4 293.21h7.0v1.47h-7.0z" fill="#ff9900"/>
<path d="M360.4 325.64h7.0v1.47h-7.0zM360.4 337.43h7.0v1.47h-7.0zM360.4 347.75h7.0v1.47h-7.0zM360.4 363.96h7.0v1.47h-7.0zM360.4 377.23h7.0v1.47h-7.0z" fill="#ff0000"/>
<rect x="367.4" y="231.3" width="10.4" height="147.4" fill="#ff9600"/>
<path d="M367.4 231.30h10.4v1.47h-10.4zM367.4 346.27h10.4v1.47h-10.4z" fill="#ffd900"/>
<path d="M367.4 232.77h10.4v1.47h-10.4zM367.4 234.25h10.4v1.47h-10.4zM367.4 259.31h10.4v1.47h-10.4zM367.4 268.15h10.4v1.47h-10.4zM367.4 291.73h10.4v1.47h-10.4zM367.4 293.21h10.4v1.47h-10.4zM367.4 307.95h10.4v1.47h-10.4zM367.4 313.84h10.4v1.47h-10.4zM367.4 328.58h10.4v1.47h-10.4zM367.4 353.64h10.4v1.47h-10.4zM367.4 371.33h10.4v1.47h-10.4z" fill="#ff6600"/>
<path d="M367.4 235.72h10.4v1.47h-10.4z" fill="#ff3300"/>
<path d="M367.4 237.20h10.4v1.47h-10.4zM367.4 247.51h10.4v1.47h-10.4zM367.4 248.99h10.4v1.47h-10.4zM367.4 260.78h10.4v1.47h-10.4zM367.4 266.68h10.4v1.47h-10.4zM367.4 272.57h10.4v1.47h-10.4zM367.4 297.63h10.4v1.47h-10.4zM367.4 309.42h10.4v1.47h-10.4zM367.4 316.79h10.4v1.47h-10.4zM367.4 325.64h10.4v1.47h-10.4zM367.4 375.75h10.4v1.47h-10.4z" fill="#ff8000"/>
<path d="M367.4 238.67h10.4v1.47h-10.4zM367.4 275.52h10.4v1.47h-10.4zM367.4 276.99h10.4v1.47h-10.4zM367.4 330.06h10.4v1.47h-10.4z" fill="#ff4d00"/>
<path d="M367.4 240.14h10.4v1.47h-10.4zM367.4 250.46h10.4v1.47h-10.4zM367.4 281.42h10.4v1.47h-10.4zM367.4 290.26h10.4v1.47h-10.4zM367.4 299.10h10.4v1.47h-10.4zM367.4 303.53h10.4v1.47h-10.4zM367.4 366.91h10.4v1.47h-10.4zM367.4 369.86h10.4v1.47h-10.4z" fill="#ff8c00"/>
<path d="M367.4 241.62h10.4v1.47h-10.4zM367.4 246.04h10.4v1.47h-10.4zM367.4 257.83h10.4v1.47h-10.4zM367.4 296.16h10.4v1.47h-10.4zM367.4 302.05h10.4v1.47h-10.4zM367.4 312.37h10.4v1.47h-10.4zM367.4 321.21h10.4v1.47h-10.4zM367.4 337.43h10.4v1.47h-10.4zM367.4 338.90h10.4v1.47h-10.4zM367.4 341.85h10.4v1.47h-10.4zM367.4 361.01h10.4v1.47h-10.4zM367.4 362.49h10.4v1.47h-10.4zM367.4 365.43h10.4v1.47h-10.4z" fill="#ffb200"/>
<path d="M367.4 244.57h10.4v1.47h-10.4zM367.4 251.94h10.4v1.47h-10.4zM367.4 263.73h10.4v1.47h-10.4zM367.4 271.10h10.4v1.47h-10.4zM367.4 282.89h10.4v1.47h-10.4zM367.4 315.32h10.4v1.47h-10.4zM367.4 335.95h10.4v1.47h-10.4zM367.4 356.59h10.4v1.47h-10.4z" fill="#ff7300"/>
<path d="M367.4 254.88h10.4v1.47h-10.4zM367.4 265.20h10.4v1.47h-10.4zM367.4 318.27h10.4v1.47h-10.4zM367.4 350.69h10.4v1.47h-10.4zM367.4 358.06h10.4v1.47h-10.4zM367.4 359.54h10.4v1.47h-10.4z" fill="#ff5900"/>
<path d="M367.4 256.36h10.4v1.47h-10.4zM367.4 288.79h10.4v1.47h-10.4zM367.4 324.16h10.4v1.47h-10.4z" fill="#ff4000"/>
<path d="M367.4 269.62h10.4v1.47h-10.4zM367.4 274.05h10.4v1.47h-10.4zM367.4 278.47h10.4v1.47h-10.4zM367.4 285.84h10.4v1.47h-10.4zM367.4 294.68h10.4v1.47h-10.4zM367.4 305.00h10.4v1.47h-10.4zM367.4 310.90h10.4v1.47h-10.4zM367.4 331.53h10.4v1.47h-10.4zM367.4 340.38h10.4v1.47h-10.4zM367.4 377.23h10.4v1.47h-10.4z" fill="#ffa600"/>
<path d="M367.4 279.94h10.4v1.47h-10.4zM367.4 284.36h10.4v1.47h-10.4zM367.4 287.31h10.4v1.47h-10.4zM367.4 334.48h10.4v1.47h-10.4zM367.4 343.32h10.4v1.47h-10.4zM367.4 352.17h10.4v1.47h-10.4zM367.4 363.96h10.4v1.47h-10.4zM367.4 374.28h10.4v1.47h-10.4z" fill="#ffbf00"/>
<path d="M367.4 300.58h10.4v1.47h-10.4zM367.4 319.74h10.4v1.47h-10.4zM367.4 322.69h10.4v1.47h-10.4zM367.4 344.80h10.4v1.47h-10.4zM367.4 347.75h10.4v1.47h-10.4zM367.4 368.38h10.4v1.47h-10.4zM367.4 372.80h10.4v1.47h-10.4z" fill="#ffcc00"/>
<path d="M367.4 327.11h10.4v1.47h-10.4zM367.4 333.01h10.4v1.47h-10.4z" fill="#ffe500"/>
<path d="M367.4 355.12h10.4v1.47h-10.4z" fill="#ffff00"/>
<rect x="377.8" y="231.3" width="17.6" height="147.4" fill="#2a0000"/>
<path d="M377.8 231.30h17.6v1.47h-17.6zM377.8 232.77h17.6v1.47h-17.6zM377.8 265.20h17.6v1.47h-17.6zM377.8 266.68h17.6v1.47h-17.6zM377.8 269.62h17.6v1.47h-17.6zM377.8 275.52h17.6v1.47h-17.6zM377.8 278.47h17.6v1.47h-17.6zM377.8 279.94h17.6v1.47h-17.6zM377.8 287.31h17.6v1.47h-17.6zM377.8 296.16h17.6v1.47h-17.6zM377.8 310.90h17.6v1.47h-17.6zM377.8 337.43h17.6v1.47h-17.6zM377.8 346.27h17.6v1.47h-17.6zM377.8 352.17h17.6v1.47h-17.6zM377.8 365.43h17.6v1.47h-17.6zM377.8 366.91h17.6v1.47h-17.6z" fill="#400000"/>
<path d="M377.8 234.25h17.6v1.47h-17.6zM377.8 248.99h17.6v1.47h-17.6zM377.8 262.25h17.6v1.47h-17.6zM377.8 268.15h17.6v1.47h-17.6zM377.8 294.68h17.6v1.47h-17.6zM377.8 299.10h17.6v1.47h-17.6zM377.8 307.95h17.6v1.47h-17.6zM377.8 322.69h17.6v1.47h-17.6zM377.8 371.33h17.6v1.47h-17.6z" fill="#0d0000"/>
<path d="M377.8 235.72h17.6v1.47h-17.6zM377.8 274.05h17.6v1.47h-17.6zM377.8 281.42h17.6v1.47h-17.6zM377.8 313.84h17.6v1.47h-17.6zM377.8 321.21h17.6v1.47h-17.6zM377.8 325.64h17.6v1.47h-17.6zM377.8 335.95h17.6v1.47h-17.6zM377.8 347.75h17.6v1.47h-17.6zM377.8 350.69h17.6v1.47h-17.6zM377.8 375.75h17.6v1.47h-17.6z" fill="#4d0000"/>
<path d="M377.8 237.20h17.6v1.47h-17.6zM377.8 244.57h17.6v1.47h-17.6zM377.8 253.41h17.6v1.47h-17.6zM377.8 257.83h17.6v1.47h-17.6zM377.8 284.36h17.6v1.47h-17.6zM377.8 319.74h17.6v1.47h-17.6zM377.8 334.48h17.6v1.47h-17.6zM377.8 338.90h17.6v1.47h-17.6zM377.8 340.38h17.6v1.47h-17.6zM377.8 344.80h17.6v1.47h-17.6zM377.8 349.22h17.6v1.47h-17.6zM377.8 377.23h17.6v1.47h-17.6z" fill="#000000"/>
<path d="M377.8 240.14h17.6v1.47h-17.6zM377.8 243.09h17.6v1.47h-17.6zM377.8 247.51h17.6v1.47h-17.6zM377.8 250.46h17.6v1.47h-17.6zM377.8 256.36h17.6v1.47h-17.6zM377.8 260.78h17.6v1.47h-17.6zM377.8 271.10h17.6v1.47h-17.6zM377.8 272.57h17.6v1.47h-17.6zM377.8 276.99h17.6v1.47h-17.6zM377.8 288.79h17.6v1.47h-17.6zM377.8 300.58h17.6v1.47h-17.6zM377.8 305.00h17.6v1.47h-17.6zM377.8 309.42h17.6v1.47h-17.6zM377.8 312.37h17.6v1.47h-17.6zM377.8 324.16h17.6v1.47h-17.6zM377.8 333.01h17.6v1.47h-17.6zM377.8 356.59h17.6v1.47h-17.6zM377.8 359.54h17.6v1.47h-17.6zM377.8 363.96h17.6v1.47h-17.6zM377.8 368.38h17.6v1.47h-17.6zM377.8 374.28h17.6v1.47h-17.6z" fill="#330000"/>
<path d="M377.8 254.88h17.6v1.47h-17.6zM377.8 315.32h17.6v1.47h-17.6zM377.8 327.11h17.6v1.47h-17.6zM377.8 355.12h17.6v1.47h-17.6zM377.8 358.06h17.6v1.47h-17.6zM377.8 362.49h17.6v1.47h-17.6z" fill="#1a0000"/>
<path d="M377.8 285.84h17.6v1.47h-17.6zM377.8 331.53h17.6v1.47h-17.6zM377.8 369.86h17.6v1.47h-17.6z" fill="#590000"/>
<path d="M377.8 306.47h17.6v1.47h-17.6zM377.8 341.85h17.6v1.47h-17.6z" fill="#730000"/>
<rect x="395.4" y="231.3" width="34.6" height="147.4" fill="#200000"/>
<path d="M395.4 231.30h34.6v1.47h-34.6zM395.4 232.77h34.6v1.47h-34.6zM395.4 238.67h34.6v1.47h-34.6zM395.4 243.09h34.6v1.47h-34.6zM395.4 253.41h34.6v1.47h-34.6zM395.4 257.83h34.6v1.47h-34.6zM395.4 259.31h34.6v1.47h-34.6zM395.4 260.78h34.6v1.47h-34.6zM395.4 269.62h34.6v1.47h-34.6zM395.4 272.57h34.6v1.47h-34.6zM395.4 274.05h34.6v1.47h-34.6zM395.4 293.21h34.6v1.47h-34.6zM395.4 296.16h34.6v1.47h-34.6zM395.4 302.05h34.6v1.47h-34.6zM395.4 305.00h34.6v1.47h-34.6zM395.4 310.90h34.6v1.47h-34.6zM395.4 315.32h34.6v1.47h-34.6zM395.4 321.21h34.6v1.47h-34.6zM395.4 324.16h34.6v1.47h-34.6zM395.4 327.11h34.6v1.47h-34.6zM395.4 340.38h34.6v1.47h-34.6zM395.4 344.80h34.6v1.47h-34.6zM395.4 346.27h34.6v1.47h-34.6zM395.4 349.22h34.6v1.47h-34.6zM395.4 350.69h34.6v1.47h-34.6zM395.4 362.49h34.6v1.47h-34.6zM395.4 365.43h34.6v1.47h-34.6zM395.4 369.86h34.6v1.47h-34.6z" fill="#1a0000"/>
<path d="M395.4 234.25h34.6v1.47h-34.6zM395.4 237.20h34.6v1.47h-34.6zM395.4 240.14h34.6v1.47h-34.6zM395.4 248.99h34.6v1.47h-34.6zM395.4 254.88h34.6v1.47h-34.6zM395.4 256.36h34.6v1.47h-34.6zM395.4 266.68h34.6v1.47h-34.6zM395.4 276.99h34.6v1.47h-34.6zM395.4 279.94h34.6v1.47h-34.6zM395.4 282.89h34.6v1.47h-34.6zM395.4 288.79h34.6v1.47h-34.6zM395.4 291.73h34.6v1.47h-34.6zM395.4 294.68h34.6v1.47h-34.6zM395.4 312.37h34.6v1.47h-34.6zM395.4 313.84h34.6v1.47h-34.6zM395.4 318.27h34.6v1.47h-34.6zM395.4 322.69h34.6v1.47h-34.6zM395.4 328.58h34.6v1.47h-34.6zM395.4 330.06h34.6v1.47h-34.6zM395.4 333.01h34.6v1.47h-34.6zM395.4 334.48h34.6v1.47h-34.6zM395.4 337.43h34.6v1.47h-34.6zM395.4 338.90h34.6v1.47h-34.6zM395.4 341.85h34.6v1.47h-34.6zM395.4 343.32h34.6v1.47h-34.6zM395.4 352.17h34.6v1.47h-34.6zM395.4 358.06h34.6v1.47h-34.6zM395.4 359.54h34.6v1.47h-34.6zM395.4 361.01h34.6v1.47h-34.6zM395.4 363.96h34.6v1.47h-34.6zM395.4 366.91h34.6v1.47h-34.6zM395.4 368.38h34.6v1.47h-34.6zM395.4 372.80h34.6v1.47h-34.6zM395.4 374.28h34.6v1.47h-34.6zM395.4 375.75h34.6v1.47h-34.6z" fill="#260000"/>
<path d="M395.4 235.72h34.6v1.47h-34.6zM395.4 244.57h34.6v1.47h-34.6zM395.4 278.47h34.6v1.47h-34.6zM395.4 347.75h34.6v1.47h-34.6z" fill="#400000"/>
<path d="M395.4 241.62h34.6v1.47h-34.6zM395.4 247.51h34.6v1.47h-34.6zM395.4 250.46h34.6v1.47h-34.6zM395.4 251.94h34.6v1.47h-34.6zM395.4 262.25h34.6v1.47h-34.6zM395.4 268.15h34.6v1.47h-34.6zM395.4 271.10h34.6v1.47h-34.6zM395.4 287.31h34.6v1.47h-34.6zM395.4 290.26h34.6v1.47h-34.6zM395.4 297.63h34.6v1.47h-34.6zM395.4 303.53h34.6v1.47h-34.6zM395.4 335.95h34.6v1.47h-34.6zM395.4 356.59h34.6v1.47h-34.6z" fill="#330000"/>
<path d="M395.4 246.04h34.6v1.47h-34.6zM395.4 265.20h34.6v1.47h-34.6zM395.4 275.52h34.6v1.47h-34.6zM395.4 281.42h34.6v1.47h-34.6zM395.4 284.36h34.6v1.47h-34.6zM395.4 285.84h34.6v1.47h-34.6zM395.4 299.10h34.6v1.47h-34.6zM395.4 309.42h34.6v1.47h-34.6zM395.4 316.79h34.6v1.47h-34.6zM395.4 319.74h34.6v1.47h-34.6zM395.4 331.53h34.6v1.47h-34.6zM395.4 353.64h34.6v1.47h-34.6zM395.4 355.12h34.6v1.47h-34.6zM395.4 371.33h34.6v1.47h-34.6zM395.4 377.23h34.6v1.47h-34.6z" fill="#0d0000"/>
<path d="M395.4 263.73h34.6v1.47h-34.6zM395.4 300.58h34.6v1.47h-34.6zM395.4 306.47h34.6v1.47h-34.6zM395.4 325.64h34.6v1.47h-34.6z" fill="#000000"/>
<path d="M395.4 307.95h34.6v1.47h-34.6z" fill="#4d0000"/>
<rect x="430.0" y="231.3" width="14.6" height="147.4" fill="#0f0000"/>
<path d="M430.0 246.04h14.6v1.47h-14.6zM430.0 254.88h14.6v1.47h-14.6zM430.0 257.83h14.6v1.47h-14.6zM430.0 279.94h14.6v1.47h-14.6zM430.0 307.95h14.6v1.47h-14.6zM430.0 334.48h14.6v1.47h-14.6zM430.0 340.38h14.6v1.47h-14.6zM430.0 363.96h14.6v1.47h-14.6z" fill="#1a0000"/>
<rect x="449.2" y="230.4" width="5.5" height="148.2" fill="url(#hotg)" stroke="#a8a8a8" stroke-width="0.6"/>
<path d="M449.2 336.7h1.2M454.7 336.7h-1.2M449.2 294.9h1.2M454.7 294.9h-1.2M449.2 253.0h1.2M454.7 253.0h-1.2" stroke="#444" stroke-width="0.7"/>
<polyline points="530.8,363.5 533.5,358 535.3,300 537.2,265.5 539.3,265.5 540,312 542.3,312 543,285 544.2,278 545.4,335.8 547.2,345 549,335.8 550.9,346.8 552.7,359.6 554.6,352.3 555.8,359.6 558,356 560,355.9 562.4,360.7 564.8,356.7 568.8,359.1 570.9,350.8 572.8,353.5 575.2,354.3 576.8,359.9 578.4,356.7 579.5,361.5 581.1,334.3 582.4,360.7 584.8,355.1 586.4,357.5 588.4,352.4 591.2,354.3 593.5,362.3 595.9,354.3 598,357.5 600,348.7 601.5,359.1 603.1,355.9 604.7,360.7 607.1,357.8 610.3,357.8 612,359.5 613.8,348.7 615.9,362.3 619,361.5 621.8,360.6 624.5,362.5 628.5,359.4 632,362.5 635,361.5 637.5,357.2 640,362.5 644,362.5 647.7,353.8 650.5,362 654.4,358.3 657,360.5 659.5,355.5 662,362 666.3,357.2 668.8,362.5 673,356 674.6,356.5" fill="none" stroke="#e8141e" stroke-width="1.1" stroke-linejoin="round"/>
<path d="M530.8 363.5C531.1 362.5 532.0 364.8 532.6 357.5C533.2 350.2 533.9 335.4 534.5 320.0C535.1 304.6 535.8 277.4 536.5 265.0C537.2 252.6 538.1 246.2 538.8 245.7C539.5 245.2 540.0 254.6 540.8 262.0C541.6 269.4 542.7 279.2 543.6 290.0C544.5 300.8 545.4 318.8 546.3 326.6C547.2 334.4 547.8 333.3 549.0 337.0C550.2 340.7 551.8 346.0 553.6 348.6C555.4 351.2 558.2 351.6 560.0 352.7C561.8 353.8 561.9 353.8 564.6 355.0C567.3 356.2 571.4 358.9 576.0 360.0C580.6 361.1 583.8 361.0 592.0 361.5C600.2 362.0 611.2 362.7 625.0 363.0C638.8 363.3 666.2 363.2 674.5 363.3" fill="none" stroke="#1414d8" stroke-width="1.4"/>
<rect x="530.5" y="234.7" width="144.5" height="129.3" fill="none" stroke="#1e1e1e" stroke-width="1"/>
<path d="M559.4 364.0v-1.8M559.4 234.7v1.8M588.3 364.0v-1.8M588.3 234.7v1.8M617.2 364.0v-1.8M617.2 234.7v1.8M646.1 364.0v-1.8M646.1 234.7v1.8M530.5 317.8h1.8M675.0 317.8h-1.8M530.5 271.6h1.8M675.0 271.6h-1.8" stroke="#1e1e1e" stroke-width="1"/>
<g fill="#161616" stroke="#161616" stroke-width="0.35"><text x="2.79" y="13.20" font-size="17.25" font-weight="bold" textLength="11.75" lengthAdjust="spacingAndGlyphs">A</text>
<text x="0.88" y="214.80" font-size="17.25" font-weight="bold" textLength="11.37" lengthAdjust="spacingAndGlyphs">B</text>
<text x="278.26" y="214.43" font-size="16.76" font-weight="bold" textLength="11.47" lengthAdjust="spacingAndGlyphs">C</text>
<text x="489.80" y="214.80" font-size="17.25" font-weight="bold" textLength="12.21" lengthAdjust="spacingAndGlyphs">D</text>
<text x="29.16" y="29.90" font-size="11.72" font-weight="bold" textLength="14.41" lengthAdjust="spacingAndGlyphs">1h</text>
<text x="187.47" y="29.60" font-size="11.72" font-weight="bold" textLength="21.31" lengthAdjust="spacingAndGlyphs">24h</text>
<text x="2.30" y="41.74" font-size="9.33" font-weight="bold" textLength="24.56" lengthAdjust="spacingAndGlyphs">Day 1</text>
<text x="1.98" y="94.89" font-size="9.56" font-weight="bold" textLength="25.59" lengthAdjust="spacingAndGlyphs">Day 9</text>
<text x="204.50" y="39.00" font-size="11.01" font-weight="bold" textLength="4.62" lengthAdjust="spacingAndGlyphs">1</text>
<text x="203.61" y="69.59" font-size="10.56" font-weight="bold" textLength="23.60" lengthAdjust="spacingAndGlyphs">0.85</text>
<text x="203.61" y="100.39" font-size="10.99" font-weight="bold" textLength="17.09" lengthAdjust="spacingAndGlyphs">0.7</text>
<text x="255.42" y="29.80" font-size="11.31" font-weight="bold" textLength="15.08" lengthAdjust="spacingAndGlyphs">1h</text>
<text x="414.07" y="29.80" font-size="11.59" font-weight="bold" textLength="21.31" lengthAdjust="spacingAndGlyphs">24h</text>
<text x="232.11" y="41.69" font-size="9.56" font-weight="bold" textLength="24.04" lengthAdjust="spacingAndGlyphs">Day 1</text>
<text x="231.38" y="94.96" font-size="9.23" font-weight="bold" textLength="25.59" lengthAdjust="spacingAndGlyphs">Day 9</text>
<text x="431.74" y="38.80" font-size="10.87" font-weight="bold" textLength="5.21" lengthAdjust="spacingAndGlyphs">1</text>
<text x="431.21" y="69.59" font-size="10.85" font-weight="bold" textLength="23.71" lengthAdjust="spacingAndGlyphs">0.85</text>
<text x="431.20" y="100.39" font-size="11.13" font-weight="bold" textLength="17.51" lengthAdjust="spacingAndGlyphs">0.7</text>
<text x="482.92" y="29.90" font-size="11.45" font-weight="bold" textLength="15.19" lengthAdjust="spacingAndGlyphs">1h</text>
<text x="641.77" y="29.80" font-size="11.59" font-weight="bold" textLength="21.10" lengthAdjust="spacingAndGlyphs">24h</text>
<text x="460.01" y="41.69" font-size="9.56" font-weight="bold" textLength="24.35" lengthAdjust="spacingAndGlyphs">Day 1</text>
<text x="459.39" y="94.96" font-size="9.23" font-weight="bold" textLength="25.18" lengthAdjust="spacingAndGlyphs">Day 9</text>
<text x="660.38" y="38.80" font-size="11.30" font-weight="bold" textLength="4.85" lengthAdjust="spacingAndGlyphs">1</text>
<text x="659.41" y="69.59" font-size="10.85" font-weight="bold" textLength="23.81" lengthAdjust="spacingAndGlyphs">0.85</text>
<text x="659.41" y="100.39" font-size="11.13" font-weight="bold" textLength="17.19" lengthAdjust="spacingAndGlyphs">0.7</text>
<text x="29.30" y="126.80" font-size="10.00" font-weight="bold" textLength="11.07" lengthAdjust="spacingAndGlyphs">54</text>
<text x="29.45" y="144.20" font-size="10.28" font-weight="bold" textLength="11.23" lengthAdjust="spacingAndGlyphs">46</text>
<text x="29.56" y="163.90" font-size="9.86" font-weight="bold" textLength="10.75" lengthAdjust="spacingAndGlyphs">37</text>
<text x="40.38" y="172.60" font-size="10.42" font-weight="bold" textLength="5.85" lengthAdjust="spacingAndGlyphs">0</text>
<text x="57.42" y="172.70" font-size="10.57" font-weight="bold" textLength="11.02" lengthAdjust="spacingAndGlyphs">24</text>
<text x="77.39" y="172.60" font-size="10.42" font-weight="bold" textLength="11.07" lengthAdjust="spacingAndGlyphs">48</text>
<text x="96.90" y="172.70" font-size="10.57" font-weight="bold" textLength="11.45" lengthAdjust="spacingAndGlyphs">72</text>
<text x="116.72" y="172.60" font-size="10.42" font-weight="bold" textLength="11.34" lengthAdjust="spacingAndGlyphs">96</text>
<text x="133.43" y="172.60" font-size="10.42" font-weight="bold" textLength="17.27" lengthAdjust="spacingAndGlyphs">120</text>
<text x="153.21" y="172.70" font-size="10.72" font-weight="bold" textLength="16.89" lengthAdjust="spacingAndGlyphs">144</text>
<text x="172.97" y="172.60" font-size="10.42" font-weight="bold" textLength="17.16" lengthAdjust="spacingAndGlyphs">168</text>
<text x="192.74" y="172.60" font-size="10.42" font-weight="bold" textLength="17.27" lengthAdjust="spacingAndGlyphs">192</text>
<text x="212.77" y="172.60" font-size="10.42" font-weight="bold" textLength="16.95" lengthAdjust="spacingAndGlyphs">216</text>
<text x="88.80" y="186.36" font-size="12.09" font-weight="bold" textLength="96.77" lengthAdjust="spacingAndGlyphs">DD Time (Hours)</text>
<text x="10.79" y="188.29" font-size="11.43" font-weight="bold" textLength="72.04" lengthAdjust="spacingAndGlyphs" transform="rotate(-90 10.79 188.29)">Fluorecence</text>
<text x="25.25" y="188.35" font-size="11.66" font-weight="bold" textLength="85.30" lengthAdjust="spacingAndGlyphs" transform="rotate(-90 25.25 188.35)">intensity (A.U.)</text>
<text x="255.75" y="126.80" font-size="9.86" font-weight="bold" textLength="11.23" lengthAdjust="spacingAndGlyphs">31</text>
<text x="255.64" y="144.20" font-size="10.28" font-weight="bold" textLength="11.39" lengthAdjust="spacingAndGlyphs">28</text>
<text x="255.87" y="164.00" font-size="10.00" font-weight="bold" textLength="10.50" lengthAdjust="spacingAndGlyphs">24</text>
<text x="266.78" y="172.60" font-size="10.42" font-weight="bold" textLength="5.85" lengthAdjust="spacingAndGlyphs">0</text>
<text x="283.82" y="172.70" font-size="10.57" font-weight="bold" textLength="11.02" lengthAdjust="spacingAndGlyphs">24</text>
<text x="303.79" y="172.60" font-size="10.42" font-weight="bold" textLength="11.07" lengthAdjust="spacingAndGlyphs">48</text>
<text x="323.30" y="172.70" font-size="10.57" font-weight="bold" textLength="11.45" lengthAdjust="spacingAndGlyphs">72</text>
<text x="343.12" y="172.60" font-size="10.42" font-weight="bold" textLength="11.34" lengthAdjust="spacingAndGlyphs">96</text>
<text x="359.83" y="172.60" font-size="10.42" font-weight="bold" textLength="17.27" lengthAdjust="spacingAndGlyphs">120</text>
<text x="379.61" y="172.70" font-size="10.72" font-weight="bold" textLength="16.89" lengthAdjust="spacingAndGlyphs">144</text>
<text x="399.37" y="172.60" font-size="10.42" font-weight="bold" textLength="17.16" lengthAdjust="spacingAndGlyphs">168</text>
<text x="419.14" y="172.60" font-size="10.42" font-weight="bold" textLength="17.27" lengthAdjust="spacingAndGlyphs">192</text>
<text x="439.17" y="172.60" font-size="10.42" font-weight="bold" textLength="16.95" lengthAdjust="spacingAndGlyphs">216</text>
<text x="315.20" y="186.36" font-size="12.09" font-weight="bold" textLength="96.77" lengthAdjust="spacingAndGlyphs">DD Time (Hours)</text>
<text x="237.19" y="188.29" font-size="11.43" font-weight="bold" textLength="72.04" lengthAdjust="spacingAndGlyphs" transform="rotate(-90 237.19 188.29)">Fluorecence</text>
<text x="251.65" y="188.35" font-size="11.66" font-weight="bold" textLength="85.30" lengthAdjust="spacingAndGlyphs" transform="rotate(-90 251.65 188.35)">intensity (A.U.)</text>
<text x="483.54" y="126.90" font-size="10.00" font-weight="bold" textLength="11.50" lengthAdjust="spacingAndGlyphs">22</text>
<text x="483.54" y="144.20" font-size="10.28" font-weight="bold" textLength="11.50" lengthAdjust="spacingAndGlyphs">20</text>
<text x="483.50" y="164.00" font-size="10.14" font-weight="bold" textLength="11.12" lengthAdjust="spacingAndGlyphs">17</text>
<text x="494.68" y="172.60" font-size="10.42" font-weight="bold" textLength="5.85" lengthAdjust="spacingAndGlyphs">0</text>
<text x="511.72" y="172.70" font-size="10.57" font-weight="bold" textLength="11.02" lengthAdjust="spacingAndGlyphs">24</text>
<text x="531.69" y="172.60" font-size="10.42" font-weight="bold" textLength="11.07" lengthAdjust="spacingAndGlyphs">48</text>
<text x="551.20" y="172.70" font-size="10.57" font-weight="bold" textLength="11.45" lengthAdjust="spacingAndGlyphs">72</text>
<text x="571.02" y="172.60" font-size="10.42" font-weight="bold" textLength="11.34" lengthAdjust="spacingAndGlyphs">96</text>
<text x="587.73" y="172.60" font-size="10.42" font-weight="bold" textLength="17.27" lengthAdjust="spacingAndGlyphs">120</text>
<text x="607.51" y="172.70" font-size="10.72" font-weight="bold" textLength="16.89" lengthAdjust="spacingAndGlyphs">144</text>
<text x="627.27" y="172.60" font-size="10.42" font-weight="bold" textLength="17.16" lengthAdjust="spacingAndGlyphs">168</text>
<text x="647.04" y="172.60" font-size="10.42" font-weight="bold" textLength="17.27" lengthAdjust="spacingAndGlyphs">192</text>
<text x="667.07" y="172.60" font-size="10.42" font-weight="bold" textLength="16.95" lengthAdjust="spacingAndGlyphs">216</text>
<text x="543.10" y="186.36" font-size="12.09" font-weight="bold" textLength="96.77" lengthAdjust="spacingAndGlyphs">DD Time (Hours)</text>
<text x="465.09" y="188.29" font-size="11.43" font-weight="bold" textLength="72.04" lengthAdjust="spacingAndGlyphs" transform="rotate(-90 465.09 188.29)">Fluorecence</text>
<text x="479.55" y="188.35" font-size="11.66" font-weight="bold" textLength="85.30" lengthAdjust="spacingAndGlyphs" transform="rotate(-90 479.55 188.35)">intensity (A.U.)</text>
<text x="34.41" y="244.48" font-size="12.39" font-weight="bold" textLength="29.42" lengthAdjust="spacingAndGlyphs">1500</text>
<text x="34.49" y="294.97" font-size="12.68" font-weight="bold" textLength="29.94" lengthAdjust="spacingAndGlyphs">1000</text>
<text x="42.21" y="345.47" font-size="12.68" font-weight="bold" textLength="21.97" lengthAdjust="spacingAndGlyphs">500</text>
<text x="56.71" y="395.77" font-size="12.68" font-weight="bold" textLength="8.20" lengthAdjust="spacingAndGlyphs">0</text>
<text x="60.81" y="404.77" font-size="13.10" font-weight="bold" textLength="8.20" lengthAdjust="spacingAndGlyphs">0</text>
<text x="102.40" y="404.77" font-size="13.10" font-weight="bold" textLength="14.97" lengthAdjust="spacingAndGlyphs">50</text>
<text x="143.88" y="404.77" font-size="13.10" font-weight="bold" textLength="22.71" lengthAdjust="spacingAndGlyphs">100</text>
<text x="188.83" y="404.77" font-size="13.10" font-weight="bold" textLength="22.71" lengthAdjust="spacingAndGlyphs">150</text>
<text x="234.18" y="404.77" font-size="13.10" font-weight="bold" textLength="22.35" lengthAdjust="spacingAndGlyphs">200</text>
<text x="125.76" y="419.50" font-size="13.80" font-weight="bold" textLength="81.58" lengthAdjust="spacingAndGlyphs">Time (hours)</text>
<text x="13.37" y="361.86" font-size="13.20" font-weight="normal" textLength="86.96" lengthAdjust="spacingAndGlyphs" transform="rotate(-90 13.37 361.86)">Fluorescence</text>
<text x="29.44" y="358.74" font-size="13.16" font-weight="normal" textLength="94.64" lengthAdjust="spacingAndGlyphs" transform="rotate(-90 29.44 358.74)">intensity (A.U.)</text>
<text x="293.61" y="266.25" font-size="14.93" font-weight="bold" textLength="28.12" lengthAdjust="spacingAndGlyphs">600</text>
<text x="293.75" y="305.75" font-size="14.79" font-weight="bold" textLength="27.77" lengthAdjust="spacingAndGlyphs">400</text>
<text x="293.21" y="345.45" font-size="15.07" font-weight="bold" textLength="28.02" lengthAdjust="spacingAndGlyphs">200</text>
<text x="312.26" y="385.15" font-size="15.07" font-weight="bold" textLength="8.90" lengthAdjust="spacingAndGlyphs">0</text>
<text x="321.12" y="400.23" font-size="16.62" font-weight="bold" textLength="9.48" lengthAdjust="spacingAndGlyphs">0</text>
<text x="340.46" y="400.23" font-size="16.62" font-weight="bold" textLength="18.28" lengthAdjust="spacingAndGlyphs">10</text>
<text x="364.24" y="400.23" font-size="16.62" font-weight="bold" textLength="17.84" lengthAdjust="spacingAndGlyphs">20</text>
<text x="388.25" y="400.23" font-size="16.62" font-weight="bold" textLength="17.67" lengthAdjust="spacingAndGlyphs">30</text>
<text x="412.21" y="400.23" font-size="16.62" font-weight="bold" textLength="17.50" lengthAdjust="spacingAndGlyphs">40</text>
<text x="435.72" y="400.23" font-size="16.62" font-weight="bold" textLength="17.75" lengthAdjust="spacingAndGlyphs">50</text>
<text x="325.58" y="420.41" font-size="15.19" font-weight="bold" textLength="119.58" lengthAdjust="spacingAndGlyphs">Period (Hours)</text>
<text x="458.82" y="258.15" font-size="15.21" font-weight="bold" textLength="23.79" lengthAdjust="spacingAndGlyphs">0.3</text>
<text x="458.90" y="300.95" font-size="14.51" font-weight="bold" textLength="24.30" lengthAdjust="spacingAndGlyphs">0.2</text>
<text x="458.98" y="343.74" font-size="15.77" font-weight="bold" textLength="21.61" lengthAdjust="spacingAndGlyphs">0.1</text>
<text x="459.17" y="385.34" font-size="15.77" font-weight="bold" textLength="8.78" lengthAdjust="spacingAndGlyphs">0</text>
<text x="288.53" y="349.98" font-size="17.14" font-weight="bold" textLength="98.52" lengthAdjust="spacingAndGlyphs" transform="rotate(-90 288.53 349.98)">Cell number</text>
<text x="503.31" y="239.58" font-size="11.97" font-weight="bold" textLength="23.66" lengthAdjust="spacingAndGlyphs">0.14</text>
<text x="509.95" y="276.67" font-size="12.54" font-weight="bold" textLength="15.74" lengthAdjust="spacingAndGlyphs">0.1</text>
<text x="503.43" y="322.39" font-size="11.13" font-weight="bold" textLength="23.09" lengthAdjust="spacingAndGlyphs">0.05</text>
<text x="520.51" y="368.90" font-size="10.42" font-weight="bold" textLength="6.79" lengthAdjust="spacingAndGlyphs">0</text>
<text x="527.22" y="379.19" font-size="11.41" font-weight="bold" textLength="6.67" lengthAdjust="spacingAndGlyphs">0</text>
<text x="550.44" y="379.19" font-size="11.41" font-weight="bold" textLength="16.05" lengthAdjust="spacingAndGlyphs">0.1</text>
<text x="579.38" y="379.19" font-size="11.41" font-weight="bold" textLength="16.24" lengthAdjust="spacingAndGlyphs">0.2</text>
<text x="608.33" y="379.19" font-size="11.41" font-weight="bold" textLength="16.17" lengthAdjust="spacingAndGlyphs">0.3</text>
<text x="637.29" y="379.19" font-size="11.41" font-weight="bold" textLength="15.81" lengthAdjust="spacingAndGlyphs">0.4</text>
<text x="666.49" y="379.19" font-size="11.41" font-weight="bold" textLength="16.05" lengthAdjust="spacingAndGlyphs">0.5</text>
<text x="561.85" y="398.36" font-size="15.89" font-weight="bold" textLength="81.77" lengthAdjust="spacingAndGlyphs">Frequency</text>
<text x="535.59" y="417.12" font-size="15.61" font-weight="bold" textLength="134.73" lengthAdjust="spacingAndGlyphs">(X 2 Cycles/Hour)</text>
<text x="500.39" y="345.95" font-size="15.29" font-weight="bold" textLength="95.95" lengthAdjust="spacingAndGlyphs" transform="rotate(-90 500.39 345.95)">Power (A.U.)</text></g>
</svg>
</body></html>
